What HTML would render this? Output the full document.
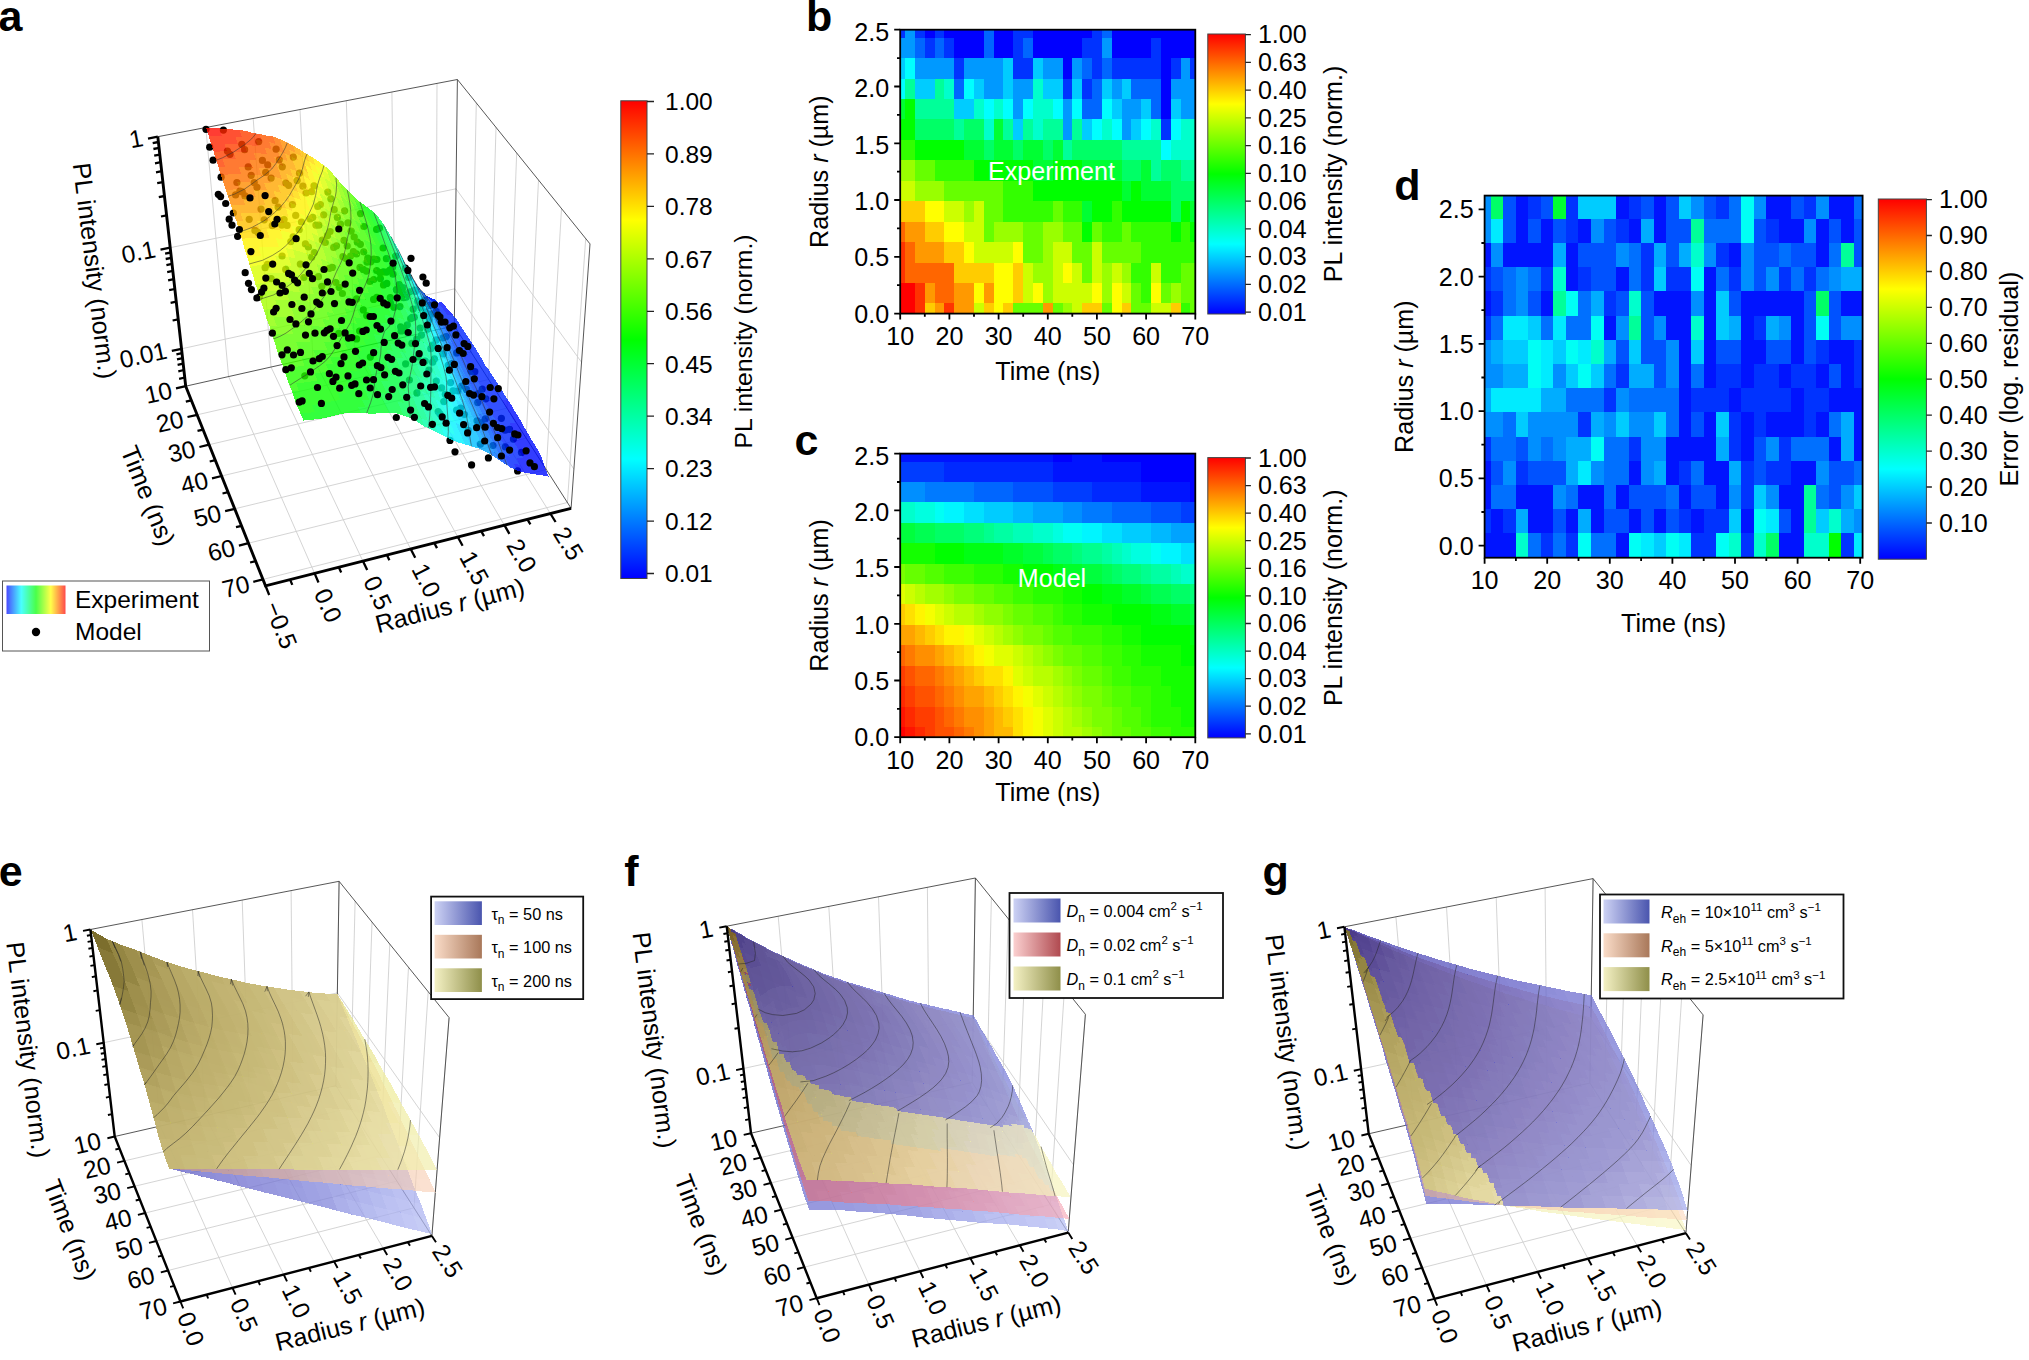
<!DOCTYPE html><html><head><meta charset="utf-8"><title>figure</title><style>html,body{margin:0;padding:0;background:#fff}svg{display:block}
.e01{fill:#b2baf2;fill-opacity:0.74}
.e02{fill:#aeb5f1;fill-opacity:0.74}
.e03{fill:#a8b0ef;fill-opacity:0.74}
.e04{fill:#a4abee;fill-opacity:0.74}
.e05{fill:#9da4ea;fill-opacity:0.74}
.e06{fill:#969de7;fill-opacity:0.74}
.e07{fill:#8f95e3;fill-opacity:0.74}
.e08{fill:#888ddf;fill-opacity:0.74}
.e09{fill:#8185db;fill-opacity:0.74}
.e0a{fill:#7d81d9;fill-opacity:0.74}
.e0b{fill:#7a7dd7;fill-opacity:0.74}
.e0c{fill:#7779d5;fill-opacity:0.74}
.e0d{fill:#7475d3;fill-opacity:0.74}
.e0e{fill:#7171d1;fill-opacity:0.74}
.e0f{fill:#6e6dcf;fill-opacity:0.74}
.e010{fill:#6a69cd;fill-opacity:0.74}
.e011{fill:#6766cb;fill-opacity:0.74}
.e012{fill:#6462c8;fill-opacity:0.74}
.e013{fill:#615ec6;fill-opacity:0.74}
.e014{fill:#5f5bc4;fill-opacity:0.74}
.e015{fill:#5c58c2;fill-opacity:0.74}
.e016{fill:#5a56c0;fill-opacity:0.74}
.e017{fill:#5753be;fill-opacity:0.74}
.e018{fill:#5550bc;fill-opacity:0.74}
.e019{fill:#524dba;fill-opacity:0.74}
.e01a{fill:#504ab7;fill-opacity:0.74}
.e01b{fill:#4c46b5;fill-opacity:0.74}
.e01c{fill:#453eb0;fill-opacity:0.74}
.e01d{fill:#3e36ab;fill-opacity:0.74}
.e01e{fill:#372fa7;fill-opacity:0.74}
.e01f{fill:#3027a2;fill-opacity:0.74}
.e17{fill:#f8cfb4;fill-opacity:0.62}
.e18{fill:#f7cdb2;fill-opacity:0.62}
.e19{fill:#f6cbb0;fill-opacity:0.62}
.e1a{fill:#f6c9ae;fill-opacity:0.62}
.e1b{fill:#f4c7aa;fill-opacity:0.62}
.e1c{fill:#f0c2a5;fill-opacity:0.62}
.e1d{fill:#edbd9f;fill-opacity:0.62}
.e1e{fill:#e9b89a;fill-opacity:0.62}
.e1f{fill:#e6b394;fill-opacity:0.62}
.e110{fill:#e2ae8f;fill-opacity:0.62}
.e111{fill:#dea989;fill-opacity:0.62}
.e112{fill:#dba484;fill-opacity:0.62}
.e113{fill:#d79f7e;fill-opacity:0.62}
.e114{fill:#d49a79;fill-opacity:0.62}
.e115{fill:#d09573;fill-opacity:0.62}
.e116{fill:#cc906d;fill-opacity:0.62}
.e117{fill:#c78b68;fill-opacity:0.62}
.e118{fill:#c18663;fill-opacity:0.62}
.e119{fill:#bb815e;fill-opacity:0.62}
.e11a{fill:#b67c59;fill-opacity:0.62}
.e11b{fill:#b07653;fill-opacity:0.62}
.e11c{fill:#aa714e;fill-opacity:0.62}
.e11d{fill:#a46c49;fill-opacity:0.62}
.e11e{fill:#9f6744;fill-opacity:0.62}
.e11f{fill:#99623f;fill-opacity:0.62}
.e2b{fill:#f1eeac;fill-opacity:0.7}
.e2c{fill:#f0eda2;fill-opacity:0.7}
.e2d{fill:#eeeb98;fill-opacity:0.7}
.e2e{fill:#e8e590;fill-opacity:0.7}
.e2f{fill:#e3e088;fill-opacity:0.7}
.e210{fill:#deda81;fill-opacity:0.7}
.e211{fill:#d9d479;fill-opacity:0.7}
.e212{fill:#d4cf71;fill-opacity:0.7}
.e213{fill:#cfca6b;fill-opacity:0.7}
.e214{fill:#ccc767;fill-opacity:0.7}
.e215{fill:#c8c362;fill-opacity:0.7}
.e216{fill:#c5c05e;fill-opacity:0.7}
.e217{fill:#c2bd5a;fill-opacity:0.7}
.e218{fill:#bdb855;fill-opacity:0.7}
.e219{fill:#b6b14e;fill-opacity:0.7}
.e21a{fill:#afaa47;fill-opacity:0.7}
.e21b{fill:#a9a440;fill-opacity:0.7}
.e21c{fill:#a29d39;fill-opacity:0.7}
.e21d{fill:#96912d;fill-opacity:0.7}
.e21e{fill:#86821f;fill-opacity:0.7}
.e21f{fill:#787311;fill-opacity:0.7}
.f00{fill:#b8bff4;fill-opacity:0.74}
.f01{fill:#b2baf2;fill-opacity:0.74}
.f02{fill:#aeb5f1;fill-opacity:0.74}
.f03{fill:#a8b0ef;fill-opacity:0.74}
.f04{fill:#a4abee;fill-opacity:0.74}
.f05{fill:#9da4ea;fill-opacity:0.74}
.f06{fill:#969de7;fill-opacity:0.74}
.f07{fill:#8f95e3;fill-opacity:0.74}
.f08{fill:#888ddf;fill-opacity:0.74}
.f09{fill:#8185db;fill-opacity:0.74}
.f0a{fill:#7d81d9;fill-opacity:0.74}
.f0b{fill:#7a7dd7;fill-opacity:0.74}
.f0c{fill:#7779d5;fill-opacity:0.74}
.f0d{fill:#7475d3;fill-opacity:0.74}
.f0e{fill:#7171d1;fill-opacity:0.74}
.f0f{fill:#6e6dcf;fill-opacity:0.74}
.f010{fill:#6a69cd;fill-opacity:0.74}
.f011{fill:#6766cb;fill-opacity:0.74}
.f012{fill:#6462c8;fill-opacity:0.74}
.f013{fill:#615ec6;fill-opacity:0.74}
.f014{fill:#5f5bc4;fill-opacity:0.74}
.f015{fill:#5c58c2;fill-opacity:0.74}
.f016{fill:#5a56c0;fill-opacity:0.74}
.f017{fill:#5753be;fill-opacity:0.74}
.f018{fill:#5550bc;fill-opacity:0.74}
.f019{fill:#524dba;fill-opacity:0.74}
.f01a{fill:#504ab7;fill-opacity:0.74}
.f01b{fill:#4c46b5;fill-opacity:0.74}
.f01c{fill:#453eb0;fill-opacity:0.74}
.f01d{fill:#3e36ab;fill-opacity:0.74}
.f01e{fill:#372fa7;fill-opacity:0.74}
.f01f{fill:#3027a2;fill-opacity:0.74}
.f12{fill:#f6adb9;fill-opacity:0.68}
.f13{fill:#f4a8b4;fill-opacity:0.68}
.f14{fill:#f3a3b0;fill-opacity:0.68}
.f15{fill:#f19eac;fill-opacity:0.68}
.f16{fill:#f099a8;fill-opacity:0.68}
.f17{fill:#ee94a4;fill-opacity:0.68}
.f18{fill:#ec8f9f;fill-opacity:0.68}
.f19{fill:#eb8a9b;fill-opacity:0.68}
.f1a{fill:#e98597;fill-opacity:0.68}
.f1b{fill:#e78193;fill-opacity:0.68}
.f1c{fill:#e47d8e;fill-opacity:0.68}
.f1d{fill:#e0798a;fill-opacity:0.68}
.f1e{fill:#dd7585;fill-opacity:0.68}
.f1f{fill:#da7181;fill-opacity:0.68}
.f110{fill:#d66d7c;fill-opacity:0.68}
.f111{fill:#d36978;fill-opacity:0.68}
.f112{fill:#d06573;fill-opacity:0.68}
.f113{fill:#cd616f;fill-opacity:0.68}
.f114{fill:#c95d6a;fill-opacity:0.68}
.f115{fill:#c65966;fill-opacity:0.68}
.f116{fill:#c35562;fill-opacity:0.68}
.f117{fill:#be505d;fill-opacity:0.68}
.f118{fill:#b94c59;fill-opacity:0.68}
.f119{fill:#b44854;fill-opacity:0.68}
.f11a{fill:#b04450;fill-opacity:0.68}
.f11b{fill:#ab404b;fill-opacity:0.68}
.f11c{fill:#a63c47;fill-opacity:0.68}
.f11d{fill:#a23742;fill-opacity:0.68}
.f11e{fill:#9d333e;fill-opacity:0.68}
.f11f{fill:#982f39;fill-opacity:0.68}
.f26{fill:#f6f3bd;fill-opacity:0.7}
.f27{fill:#f5f2bb;fill-opacity:0.7}
.f28{fill:#f4f2ba;fill-opacity:0.7}
.f29{fill:#f4f1b8;fill-opacity:0.7}
.f2a{fill:#f3f0b6;fill-opacity:0.7}
.f2b{fill:#f1eeac;fill-opacity:0.7}
.f2c{fill:#f0eda2;fill-opacity:0.7}
.f2d{fill:#eeeb98;fill-opacity:0.7}
.f2e{fill:#e8e590;fill-opacity:0.7}
.f2f{fill:#e3e088;fill-opacity:0.7}
.f210{fill:#deda81;fill-opacity:0.7}
.f211{fill:#d9d479;fill-opacity:0.7}
.f212{fill:#d4cf71;fill-opacity:0.7}
.f213{fill:#cfca6b;fill-opacity:0.7}
.f214{fill:#ccc767;fill-opacity:0.7}
.f215{fill:#c8c362;fill-opacity:0.7}
.f216{fill:#c5c05e;fill-opacity:0.7}
.f217{fill:#c2bd5a;fill-opacity:0.7}
.f218{fill:#bdb855;fill-opacity:0.7}
.f219{fill:#b6b14e;fill-opacity:0.7}
.f21a{fill:#afaa47;fill-opacity:0.7}
.f21b{fill:#a9a440;fill-opacity:0.7}
.f21c{fill:#a29d39;fill-opacity:0.7}
.f21d{fill:#96912d;fill-opacity:0.7}
.f21e{fill:#86821f;fill-opacity:0.7}
.f21f{fill:#787311;fill-opacity:0.7}
.g04{fill:#a4abee;fill-opacity:0.74}
.g05{fill:#9da4ea;fill-opacity:0.74}
.g06{fill:#969de7;fill-opacity:0.74}
.g07{fill:#8f95e3;fill-opacity:0.74}
.g08{fill:#888ddf;fill-opacity:0.74}
.g09{fill:#8185db;fill-opacity:0.74}
.g0a{fill:#7d81d9;fill-opacity:0.74}
.g0b{fill:#7a7dd7;fill-opacity:0.74}
.g0c{fill:#7779d5;fill-opacity:0.74}
.g0d{fill:#7475d3;fill-opacity:0.74}
.g0e{fill:#7171d1;fill-opacity:0.74}
.g0f{fill:#6e6dcf;fill-opacity:0.74}
.g010{fill:#6a69cd;fill-opacity:0.74}
.g011{fill:#6766cb;fill-opacity:0.74}
.g012{fill:#6462c8;fill-opacity:0.74}
.g013{fill:#615ec6;fill-opacity:0.74}
.g014{fill:#5f5bc4;fill-opacity:0.74}
.g015{fill:#5c58c2;fill-opacity:0.74}
.g016{fill:#5a56c0;fill-opacity:0.74}
.g017{fill:#5753be;fill-opacity:0.74}
.g018{fill:#5550bc;fill-opacity:0.74}
.g019{fill:#524dba;fill-opacity:0.74}
.g01a{fill:#504ab7;fill-opacity:0.74}
.g01b{fill:#4c46b5;fill-opacity:0.74}
.g01c{fill:#453eb0;fill-opacity:0.74}
.g01d{fill:#3e36ab;fill-opacity:0.74}
.g01e{fill:#372fa7;fill-opacity:0.74}
.g01f{fill:#3027a2;fill-opacity:0.74}
.g12{fill:#fbd8bf;fill-opacity:0.62}
.g13{fill:#fad6bc;fill-opacity:0.62}
.g14{fill:#fad4ba;fill-opacity:0.62}
.g15{fill:#f9d2b8;fill-opacity:0.62}
.g16{fill:#f8d0b6;fill-opacity:0.62}
.g17{fill:#f8cfb4;fill-opacity:0.62}
.g18{fill:#f7cdb2;fill-opacity:0.62}
.g19{fill:#f6cbb0;fill-opacity:0.62}
.g1a{fill:#f6c9ae;fill-opacity:0.62}
.g1b{fill:#f4c7aa;fill-opacity:0.62}
.g1c{fill:#f0c2a5;fill-opacity:0.62}
.g1d{fill:#edbd9f;fill-opacity:0.62}
.g1e{fill:#e9b89a;fill-opacity:0.62}
.g1f{fill:#e6b394;fill-opacity:0.62}
.g110{fill:#e2ae8f;fill-opacity:0.62}
.g111{fill:#dea989;fill-opacity:0.62}
.g112{fill:#dba484;fill-opacity:0.62}
.g113{fill:#d79f7e;fill-opacity:0.62}
.g114{fill:#d49a79;fill-opacity:0.62}
.g115{fill:#d09573;fill-opacity:0.62}
.g116{fill:#cc906d;fill-opacity:0.62}
.g117{fill:#c78b68;fill-opacity:0.62}
.g118{fill:#c18663;fill-opacity:0.62}
.g119{fill:#bb815e;fill-opacity:0.62}
.g11a{fill:#b67c59;fill-opacity:0.62}
.g11b{fill:#b07653;fill-opacity:0.62}
.g11c{fill:#aa714e;fill-opacity:0.62}
.g11d{fill:#a46c49;fill-opacity:0.62}
.g11e{fill:#9f6744;fill-opacity:0.62}
.g11f{fill:#99623f;fill-opacity:0.62}
.g21{fill:#f9f7c5;fill-opacity:0.7}
.g22{fill:#f8f6c4;fill-opacity:0.7}
.g23{fill:#f8f5c2;fill-opacity:0.7}
.g24{fill:#f7f5c0;fill-opacity:0.7}
.g25{fill:#f6f4bf;fill-opacity:0.7}
.g26{fill:#f6f3bd;fill-opacity:0.7}
.g27{fill:#f5f2bb;fill-opacity:0.7}
.g28{fill:#f4f2ba;fill-opacity:0.7}
.g29{fill:#f4f1b8;fill-opacity:0.7}
.g2a{fill:#f3f0b6;fill-opacity:0.7}
.g2b{fill:#f1eeac;fill-opacity:0.7}
.g2c{fill:#f0eda2;fill-opacity:0.7}
.g2d{fill:#eeeb98;fill-opacity:0.7}
.g2e{fill:#e8e590;fill-opacity:0.7}
.g2f{fill:#e3e088;fill-opacity:0.7}
.g210{fill:#deda81;fill-opacity:0.7}
.g211{fill:#d9d479;fill-opacity:0.7}
.g212{fill:#d4cf71;fill-opacity:0.7}
.g213{fill:#cfca6b;fill-opacity:0.7}
.g214{fill:#ccc767;fill-opacity:0.7}
.g215{fill:#c8c362;fill-opacity:0.7}
.g216{fill:#c5c05e;fill-opacity:0.7}
.g217{fill:#c2bd5a;fill-opacity:0.7}
.g218{fill:#bdb855;fill-opacity:0.7}
.g219{fill:#b6b14e;fill-opacity:0.7}
.g21a{fill:#afaa47;fill-opacity:0.7}
.g21b{fill:#a9a440;fill-opacity:0.7}
.g21c{fill:#a29d39;fill-opacity:0.7}
.g21d{fill:#96912d;fill-opacity:0.7}
.g21e{fill:#86821f;fill-opacity:0.7}
.g21f{fill:#787311;fill-opacity:0.7}</style></head><body><svg width="2029" height="1360" viewBox="0 0 2029 1360" font-family="'Liberation Sans',Arial,Helvetica,sans-serif">
<g shape-rendering="crispEdges" transform="translate(900.2 29.7) scale(4.9183 10.2204)">
<path fill="#ff0000" d="M0 26.78h3v1h-3zM0 24.78h3v2h-3z"/>
<path fill="#ff3300" d="M3 26.78h2v1h-2zM9 26.78h2v1h-2zM3 24.78h2v2h-2zM0 22.78h1v2h-1zM0 20.78h1v2h-1z"/>
<path fill="#ffcc00" d="M5 26.78h2v1h-2zM17 26.78h2v1h-2zM21 26.78h2v1h-2zM37 26.78h4v1h-4zM45 26.78h2v1h-2zM55 26.78h2v1h-2zM23 24.78h2v2h-2zM11 22.78h8v2h-8zM23 22.78h2v2h-2zM9 20.78h4v2h-4zM5 18.78h4v2h-4zM0 16.78h5v2h-5z"/>
<path fill="#ff9900" d="M7 26.78h2v1h-2zM11 26.78h4v1h-4zM29 26.78h2v1h-2zM5 24.78h2v2h-2zM11 24.78h4v2h-4zM17 24.78h2v2h-2zM3 20.78h6v2h-6zM1 18.78h4v2h-4z"/>
<path fill="#ccff00" d="M15 26.78h2v1h-2zM35 26.78h2v1h-2zM51 26.78h4v1h-4zM25 24.78h2v2h-2zM31 24.78h8v2h-8zM45 24.78h2v2h-2zM25 22.78h2v2h-2zM31 22.78h2v2h-2zM35 22.78h2v2h-2zM39 22.78h2v2h-2zM43 22.78h2v2h-2zM51 22.78h2v2h-2zM15 20.78h8v2h-8zM31 20.78h4v2h-4zM39 20.78h2v2h-2zM13 18.78h4v2h-4zM9 16.78h4v2h-4zM15 16.78h2v2h-2zM0 14.78h3v2h-3z"/>
<path fill="#ffff00" d="M19 26.78h2v1h-2zM43 26.78h2v1h-2zM15 24.78h2v2h-2zM19 24.78h4v2h-4zM27 24.78h2v2h-2zM39 24.78h2v2h-2zM43 24.78h2v2h-2zM51 24.78h2v2h-2zM19 22.78h4v2h-4zM33 22.78h2v2h-2zM13 20.78h2v2h-2zM23 20.78h2v2h-2zM9 18.78h4v2h-4zM5 16.78h4v2h-4z"/>
<path fill="#66ff00" d="M23 26.78h6v1h-6zM31 26.78h2v1h-2zM41 26.78h2v1h-2zM47 26.78h4v1h-4zM59 26.78h1v1h-1zM47 24.78h2v2h-2zM53 24.78h2v2h-2zM57 24.78h3v2h-3zM37 22.78h2v2h-2zM57 22.78h3v2h-3zM25 20.78h4v2h-4zM35 20.78h4v2h-4zM41 20.78h8v2h-8zM17 18.78h2v2h-2zM25 18.78h4v2h-4zM33 18.78h4v2h-4zM39 18.78h2v2h-2zM45 18.78h2v2h-2zM17 16.78h4v2h-4zM31 16.78h2v2h-2zM9 14.78h12v2h-12zM3 12.78h4v2h-4z"/>
<path fill="#99ff00" d="M33 26.78h2v1h-2zM29 24.78h2v2h-2zM41 24.78h2v2h-2zM55 24.78h2v2h-2zM27 22.78h4v2h-4zM41 22.78h2v2h-2zM45 22.78h2v2h-2zM29 20.78h2v2h-2zM19 18.78h6v2h-6zM29 18.78h4v2h-4zM13 16.78h2v2h-2zM3 14.78h6v2h-6zM0 12.78h3v2h-3z"/>
<path fill="#33ff00" d="M57 26.78h2v1h-2zM49 24.78h2v2h-2zM47 22.78h4v2h-4zM53 22.78h4v2h-4zM49 20.78h11v2h-11zM41 18.78h4v2h-4zM47 18.78h8v2h-8zM57 18.78h2v2h-2zM21 16.78h10v2h-10zM33 16.78h4v2h-4zM43 16.78h2v2h-2zM21 14.78h6v2h-6zM7 12.78h8v2h-8zM0 10.78h3v2h-3z"/>
<path fill="#ff6600" d="M7 24.78h4v2h-4zM1 22.78h10v2h-10zM1 20.78h2v2h-2zM0 18.78h1v2h-1z"/>
<path fill="#00ff00" d="M37 18.78h2v2h-2zM55 18.78h2v2h-2zM59 18.78h1v2h-1zM39 16.78h4v2h-4zM45 16.78h10v2h-10zM57 16.78h2v2h-2zM27 14.78h18v2h-18zM47 14.78h2v2h-2zM15 12.78h12v2h-12zM31 12.78h6v2h-6zM3 10.78h10v2h-10zM0 8.78h3v2h-3zM1 6.78h2v2h-2z"/>
<path fill="#00ff33" d="M37 16.78h2v2h-2zM59 16.78h1v2h-1zM45 14.78h2v2h-2zM49 14.78h6v2h-6zM27 12.78h4v2h-4zM37 12.78h8v2h-8zM49 12.78h2v2h-2zM13 10.78h4v2h-4zM19 10.78h4v2h-4zM25 10.78h4v2h-4zM31 10.78h2v2h-2zM19 8.78h2v2h-2zM0 6.78h1v2h-1z"/>
<path fill="#00ff66" d="M55 16.78h2v2h-2zM55 14.78h5v2h-5zM45 12.78h4v2h-4zM53 12.78h4v2h-4zM17 10.78h2v2h-2zM23 10.78h2v2h-2zM29 10.78h2v2h-2zM35 10.78h10v2h-10zM3 8.78h8v2h-8zM13 8.78h4v2h-4z"/>
<path fill="#00ff99" d="M51 12.78h2v2h-2zM57 12.78h3v2h-3zM33 10.78h2v2h-2zM45 10.78h8v2h-8zM11 8.78h2v2h-2zM21 8.78h2v2h-2zM25 8.78h2v2h-2zM29 8.78h4v2h-4zM35 8.78h2v2h-2zM3 6.78h8v2h-8zM1 4.78h2v2h-2zM7 4.78h2v2h-2z"/>
<path fill="#00ffff" d="M53 10.78h2v2h-2zM39 8.78h2v2h-2zM43 8.78h2v2h-2zM49 8.78h2v2h-2zM55 8.78h2v2h-2zM17 6.78h2v2h-2zM21 6.78h2v2h-2zM25 6.78h2v2h-2zM31 6.78h2v2h-2zM35 6.78h2v2h-2zM41 6.78h2v2h-2zM0 4.78h1v2h-1zM13 4.78h2v2h-2zM1 2.78h2v2h-2z"/>
<path fill="#00ffcc" d="M55 10.78h5v2h-5zM17 8.78h2v2h-2zM27 8.78h2v2h-2zM41 8.78h2v2h-2zM51 8.78h2v2h-2zM57 8.78h3v2h-3zM15 6.78h2v2h-2zM19 6.78h2v2h-2zM27 6.78h4v2h-4zM9 4.78h2v2h-2zM27 4.78h2v2h-2z"/>
<path fill="#00ccff" d="M23 8.78h2v2h-2zM37 8.78h2v2h-2zM47 8.78h2v2h-2zM11 6.78h4v2h-4zM43 6.78h2v2h-2zM49 6.78h2v2h-2zM55 6.78h2v2h-2zM3 4.78h4v2h-4zM15 4.78h2v2h-2zM21 4.78h2v2h-2zM29 4.78h4v2h-4zM35 4.78h2v2h-2zM41 4.78h2v2h-2zM45 4.78h2v2h-2zM0 2.78h1v2h-1zM21 2.78h2v2h-2zM27 2.78h2v2h-2z"/>
<path fill="#0099ff" d="M33 8.78h2v2h-2zM45 8.78h2v2h-2zM23 6.78h2v2h-2zM33 6.78h2v2h-2zM45 6.78h4v2h-4zM57 6.78h3v2h-3zM17 4.78h4v2h-4zM23 4.78h4v2h-4zM43 4.78h2v2h-2zM55 4.78h5v2h-5zM3 2.78h8v2h-8zM13 2.78h8v2h-8zM29 2.78h4v2h-4zM35 2.78h2v2h-2zM57 2.78h2v2h-2zM0 0.78h3v2h-3zM41 0.78h2v2h-2zM1 0h2v0.78h-2z"/>
<path fill="#0033ff" d="M53 8.78h2v2h-2zM33 4.78h2v2h-2zM37 4.78h2v2h-2zM11 2.78h2v2h-2zM23 2.78h4v2h-4zM39 2.78h2v2h-2zM43 2.78h10v2h-10zM55 2.78h2v2h-2zM59 2.78h1v2h-1zM5 0.78h2v2h-2zM9 0.78h2v2h-2zM23 0.78h2v2h-2zM37 0.78h4v2h-4zM51 0.78h2v2h-2zM0 0h1v0.78h-1zM3 0h2v0.78h-2zM7 0h2v0.78h-2zM23 0h4v0.78h-4zM39 0h2v0.78h-2z"/>
<path fill="#0066ff" d="M37 6.78h4v2h-4zM51 6.78h2v2h-2zM11 4.78h2v2h-2zM39 4.78h2v2h-2zM47 4.78h6v2h-6zM37 2.78h2v2h-2zM41 2.78h2v2h-2zM3 0.78h2v2h-2zM7 0.78h2v2h-2zM17 0.78h2v2h-2zM25 0.78h2v2h-2zM17 0h2v0.78h-2zM41 0h2v0.78h-2z"/>
<path fill="#0000ff" d="M53 6.78h2v2h-2zM53 4.78h2v2h-2zM33 2.78h2v2h-2zM53 2.78h2v2h-2zM11 0.78h6v2h-6zM19 0.78h4v2h-4zM27 0.78h10v2h-10zM43 0.78h8v2h-8zM53 0.78h7v2h-7zM5 0h2v0.78h-2zM9 0h8v0.78h-8zM19 0h4v0.78h-4zM27 0h12v0.78h-12zM43 0h17v0.78h-17z"/>
</g>
<rect x="900.2" y="29.7" width="295.1" height="283.9" fill="none" stroke="#000" stroke-width="1.8"/>
<path d="M900.2 313.6v6M924.8 313.6v3.2M949.4 313.6v6M974 313.6v3.2M998.6 313.6v6M1023.2 313.6v3.2M1047.8 313.6v6M1072.3 313.6v3.2M1096.9 313.6v6M1121.5 313.6v3.2M1146.1 313.6v6M1170.7 313.6v3.2M1195.3 313.6v6M900.2 313.6h-6M900.2 285.2h-3.2M900.2 256.8h-6M900.2 228.4h-3.2M900.2 200h-6M900.2 171.7h-3.2M900.2 143.3h-6M900.2 114.9h-3.2M900.2 86.5h-6M900.2 58.1h-3.2M900.2 29.7h-6" stroke="#000" stroke-width="1.8" fill="none"/>
<text x="900.2" y="345.1" font-size="25.1" text-anchor="middle">10</text>
<text x="949.4" y="345.1" font-size="25.1" text-anchor="middle">20</text>
<text x="998.6" y="345.1" font-size="25.1" text-anchor="middle">30</text>
<text x="1047.8" y="345.1" font-size="25.1" text-anchor="middle">40</text>
<text x="1096.9" y="345.1" font-size="25.1" text-anchor="middle">50</text>
<text x="1146.1" y="345.1" font-size="25.1" text-anchor="middle">60</text>
<text x="1195.3" y="345.1" font-size="25.1" text-anchor="middle">70</text>
<text x="889.2" y="322.5" font-size="25.1" text-anchor="end">0.0</text>
<text x="889.2" y="266.2" font-size="25.1" text-anchor="end">0.5</text>
<text x="889.2" y="209.9" font-size="25.1" text-anchor="end">1.0</text>
<text x="889.2" y="153.6" font-size="25.1" text-anchor="end">1.5</text>
<text x="889.2" y="97.3" font-size="25.1" text-anchor="end">2.0</text>
<text x="889.2" y="41" font-size="25.1" text-anchor="end">2.5</text>
<text x="1047.8" y="380" font-size="25.1" text-anchor="middle">Time (ns)</text>
<text transform="translate(828 171.7) rotate(-90)" font-size="25.1" text-anchor="middle">Radius <tspan font-style="italic">r</tspan> (µm)</text>
<linearGradient id="cbb" x1="0" y1="1" x2="0" y2="0"><stop offset="0" stop-color="#00f"/><stop offset=".25" stop-color="#0ff"/><stop offset=".5" stop-color="#0f0"/><stop offset=".75" stop-color="#ff0"/><stop offset="1" stop-color="#f00"/></linearGradient><rect x="1207.8" y="34" width="37.6" height="280" fill="url(#cbb)" stroke="#444" stroke-width="1"/>
<text x="1257.9" y="43.4" font-size="25.1">1.00</text>
<text x="1257.9" y="71.2" font-size="25.1">0.63</text>
<text x="1257.9" y="98.9" font-size="25.1">0.40</text>
<text x="1257.9" y="126.6" font-size="25.1">0.25</text>
<text x="1257.9" y="154.4" font-size="25.1">0.16</text>
<text x="1257.9" y="182.2" font-size="25.1">0.10</text>
<text x="1257.9" y="209.9" font-size="25.1">0.06</text>
<text x="1257.9" y="237.7" font-size="25.1">0.04</text>
<text x="1257.9" y="265.4" font-size="25.1">0.03</text>
<text x="1257.9" y="293.2" font-size="25.1">0.02</text>
<text x="1257.9" y="320.9" font-size="25.1">0.01</text>
<path d="M1245.4 34.6h5.5M1245.4 62.4h5.5M1245.4 90.1h5.5M1245.4 117.8h5.5M1245.4 145.6h5.5M1245.4 173.3h5.5M1245.4 201.1h5.5M1245.4 228.8h5.5M1245.4 256.6h5.5M1245.4 284.4h5.5M1245.4 312.1h5.5" stroke="#222" stroke-width="1.3" fill="none"/>
<text transform="translate(1342 174) rotate(-90)" font-size="25.1" text-anchor="middle">PL intensity (norm.)</text>
<text x="1051.5" y="179.5" font-size="25.1" text-anchor="middle" fill="#fff">Experiment</text>
<text x="806" y="30.5" font-size="43" font-weight="bold">b</text>
<g shape-rendering="crispEdges" transform="translate(900.2 453.6) scale(4.9183 10.2096)">
<path fill="#ff0000" d="M0 26.78h1v1h-1z"/>
<path fill="#ff1400" d="M1 26.78h2v1h-2zM0 24.78h1v2h-1z"/>
<path fill="#ff2900" d="M3 26.78h2v1h-2zM1 24.78h2v2h-2zM0 22.78h1v2h-1z"/>
<path fill="#ff3d00" d="M5 26.78h2v1h-2zM3 24.78h4v2h-4zM1 22.78h2v2h-2zM0 20.78h1v2h-1z"/>
<path fill="#ff5200" d="M7 26.78h4v1h-4zM7 24.78h2v2h-2zM3 22.78h4v2h-4zM1 20.78h2v2h-2z"/>
<path fill="#ff6600" d="M11 26.78h2v1h-2zM9 24.78h2v2h-2zM7 22.78h2v2h-2zM3 20.78h4v2h-4zM0 18.78h1v2h-1z"/>
<path fill="#ff7a00" d="M13 26.78h2v1h-2zM11 24.78h2v2h-2zM9 22.78h2v2h-2zM7 20.78h2v2h-2zM1 18.78h2v2h-2z"/>
<path fill="#ff8f00" d="M15 26.78h2v1h-2zM13 24.78h4v2h-4zM11 22.78h2v2h-2zM9 20.78h2v2h-2zM3 18.78h4v2h-4z"/>
<path fill="#ffa300" d="M17 26.78h2v1h-2zM17 24.78h2v2h-2zM13 22.78h4v2h-4zM11 20.78h2v2h-2zM7 18.78h2v2h-2zM0 16.78h3v2h-3z"/>
<path fill="#ffb800" d="M19 26.78h4v1h-4zM19 24.78h2v2h-2zM17 22.78h2v2h-2zM13 20.78h2v2h-2zM9 18.78h2v2h-2zM3 16.78h2v2h-2z"/>
<path fill="#ffe000" d="M23 26.78h2v1h-2zM23 24.78h2v2h-2zM21 22.78h2v2h-2zM17 20.78h4v2h-4zM13 18.78h2v2h-2zM7 16.78h2v2h-2zM1 14.78h2v2h-2z"/>
<path fill="#fff500" d="M25 26.78h2v1h-2zM25 24.78h2v2h-2zM23 22.78h2v2h-2zM21 20.78h2v2h-2zM15 18.78h2v2h-2zM9 16.78h4v2h-4zM3 14.78h2v2h-2z"/>
<path fill="#f5ff00" d="M27 26.78h2v1h-2zM27 24.78h2v2h-2zM25 22.78h2v2h-2zM17 18.78h2v2h-2zM13 16.78h2v2h-2zM5 14.78h2v2h-2z"/>
<path fill="#e0ff00" d="M29 26.78h2v1h-2zM29 24.78h2v2h-2zM27 22.78h2v2h-2zM23 20.78h2v2h-2zM19 18.78h4v2h-4zM15 16.78h2v2h-2zM7 14.78h2v2h-2zM0 12.78h1v2h-1z"/>
<path fill="#ccff00" d="M31 26.78h2v1h-2zM31 24.78h2v2h-2zM29 22.78h2v2h-2zM25 20.78h2v2h-2zM23 18.78h2v2h-2zM17 16.78h2v2h-2zM9 14.78h2v2h-2zM1 12.78h2v2h-2z"/>
<path fill="#b8ff00" d="M33 26.78h4v1h-4zM33 24.78h2v2h-2zM31 22.78h2v2h-2zM27 20.78h4v2h-4zM25 18.78h2v2h-2zM19 16.78h2v2h-2zM11 14.78h4v2h-4zM3 12.78h2v2h-2z"/>
<path fill="#a3ff00" d="M37 26.78h2v1h-2zM35 24.78h2v2h-2zM33 22.78h2v2h-2zM31 20.78h2v2h-2zM27 18.78h2v2h-2zM21 16.78h2v2h-2zM15 14.78h2v2h-2zM5 12.78h4v2h-4z"/>
<path fill="#8fff00" d="M39 26.78h2v1h-2zM37 24.78h2v2h-2zM35 22.78h2v2h-2zM33 20.78h2v2h-2zM29 18.78h2v2h-2zM23 16.78h2v2h-2zM17 14.78h4v2h-4zM9 12.78h2v2h-2z"/>
<path fill="#7aff00" d="M41 26.78h2v1h-2zM39 24.78h4v2h-4zM37 22.78h4v2h-4zM35 20.78h2v2h-2zM31 18.78h2v2h-2zM25 16.78h4v2h-4zM21 14.78h2v2h-2zM11 12.78h4v2h-4zM0 10.78h1v2h-1z"/>
<path fill="#66ff00" d="M43 26.78h4v1h-4zM43 24.78h2v2h-2zM41 22.78h2v2h-2zM37 20.78h4v2h-4zM33 18.78h4v2h-4zM29 16.78h2v2h-2zM23 14.78h4v2h-4zM15 12.78h4v2h-4zM1 10.78h4v2h-4z"/>
<path fill="#52ff00" d="M47 26.78h4v1h-4zM45 24.78h4v2h-4zM43 22.78h4v2h-4zM41 20.78h2v2h-2zM37 18.78h4v2h-4zM31 16.78h4v2h-4zM27 14.78h4v2h-4zM19 12.78h4v2h-4zM5 10.78h4v2h-4z"/>
<path fill="#3dff00" d="M51 26.78h4v1h-4zM49 24.78h2v2h-2zM47 22.78h4v2h-4zM43 20.78h4v2h-4zM41 18.78h4v2h-4zM35 16.78h6v2h-6zM31 14.78h2v2h-2zM23 12.78h4v2h-4zM9 10.78h6v2h-6z"/>
<path fill="#29ff00" d="M55 26.78h5v1h-5zM51 24.78h6v2h-6zM51 22.78h4v2h-4zM47 20.78h6v2h-6zM45 18.78h4v2h-4zM41 16.78h4v2h-4zM33 14.78h4v2h-4zM27 12.78h6v2h-6zM15 10.78h6v2h-6z"/>
<path fill="#ffcc00" d="M21 24.78h2v2h-2zM19 22.78h2v2h-2zM15 20.78h2v2h-2zM11 18.78h2v2h-2zM5 16.78h2v2h-2zM0 14.78h1v2h-1z"/>
<path fill="#14ff00" d="M57 24.78h3v2h-3zM55 22.78h5v2h-5zM53 20.78h7v2h-7zM49 18.78h8v2h-8zM45 16.78h4v2h-4zM37 14.78h6v2h-6zM33 12.78h4v2h-4zM21 10.78h4v2h-4zM0 8.78h7v2h-7z"/>
<path fill="#00ff00" d="M57 18.78h3v2h-3zM49 16.78h10v2h-10zM43 14.78h8v2h-8zM37 12.78h4v2h-4zM25 10.78h6v2h-6zM7 8.78h6v2h-6z"/>
<path fill="#00ff14" d="M59 16.78h1v2h-1zM51 14.78h4v2h-4zM41 12.78h4v2h-4zM31 10.78h2v2h-2zM13 8.78h8v2h-8z"/>
<path fill="#00ff29" d="M55 14.78h4v2h-4zM45 12.78h4v2h-4zM33 10.78h4v2h-4zM21 8.78h4v2h-4z"/>
<path fill="#00ff3d" d="M59 14.78h1v2h-1zM49 12.78h2v2h-2zM37 10.78h4v2h-4zM25 8.78h4v2h-4zM0 6.78h3v2h-3z"/>
<path fill="#00ff52" d="M51 12.78h4v2h-4zM41 10.78h2v2h-2zM29 8.78h2v2h-2zM3 6.78h4v2h-4z"/>
<path fill="#00ff66" d="M55 12.78h4v2h-4zM43 10.78h2v2h-2zM31 8.78h4v2h-4zM7 6.78h6v2h-6z"/>
<path fill="#00ff7a" d="M59 12.78h1v2h-1zM45 10.78h4v2h-4zM35 8.78h2v2h-2zM13 6.78h4v2h-4z"/>
<path fill="#00ff8f" d="M49 10.78h2v2h-2zM37 8.78h4v2h-4zM17 6.78h2v2h-2z"/>
<path fill="#00ffa3" d="M51 10.78h4v2h-4zM41 8.78h2v2h-2zM19 6.78h4v2h-4z"/>
<path fill="#00ffb8" d="M55 10.78h2v2h-2zM43 8.78h2v2h-2zM23 6.78h4v2h-4z"/>
<path fill="#00ffcc" d="M57 10.78h3v2h-3zM45 8.78h2v2h-2zM27 6.78h4v2h-4zM0 4.78h3v2h-3z"/>
<path fill="#00ffe0" d="M47 8.78h4v2h-4zM31 6.78h2v2h-2zM3 4.78h4v2h-4z"/>
<path fill="#00fff5" d="M51 8.78h2v2h-2zM33 6.78h4v2h-4zM7 4.78h2v2h-2z"/>
<path fill="#00f5ff" d="M53 8.78h4v2h-4zM37 6.78h4v2h-4zM9 4.78h4v2h-4z"/>
<path fill="#00e0ff" d="M57 8.78h3v2h-3zM41 6.78h4v2h-4zM13 4.78h4v2h-4z"/>
<path fill="#00ccff" d="M45 6.78h6v2h-6zM17 4.78h6v2h-6z"/>
<path fill="#00b8ff" d="M51 6.78h4v2h-4zM23 4.78h4v2h-4z"/>
<path fill="#00a3ff" d="M55 6.78h5v2h-5zM27 4.78h6v2h-6z"/>
<path fill="#008fff" d="M33 4.78h4v2h-4zM0 2.78h5v2h-5z"/>
<path fill="#007aff" d="M37 4.78h6v2h-6zM5 2.78h10v2h-10z"/>
<path fill="#0066ff" d="M43 4.78h8v2h-8zM15 2.78h8v2h-8z"/>
<path fill="#0052ff" d="M51 4.78h6v2h-6zM23 2.78h8v2h-8z"/>
<path fill="#003dff" d="M57 4.78h3v2h-3zM31 2.78h8v2h-8zM0 0.78h9v2h-9z"/>
<path fill="#0029ff" d="M39 2.78h10v2h-10zM9 0.78h22v2h-22z"/>
<path fill="#0014ff" d="M49 2.78h10v2h-10zM31 0.78h18v2h-18zM0 0h31v0.78h-31zM35 0h6v0.78h-6z"/>
<path fill="#0000ff" d="M59 2.78h1v2h-1zM49 0.78h11v2h-11zM31 0h4v0.78h-4zM41 0h19v0.78h-19z"/>
</g>
<rect x="900.2" y="453.6" width="295.1" height="283.6" fill="none" stroke="#000" stroke-width="1.8"/>
<path d="M900.2 737.2v6M924.8 737.2v3.2M949.4 737.2v6M974 737.2v3.2M998.6 737.2v6M1023.2 737.2v3.2M1047.8 737.2v6M1072.3 737.2v3.2M1096.9 737.2v6M1121.5 737.2v3.2M1146.1 737.2v6M1170.7 737.2v3.2M1195.3 737.2v6M900.2 737.2h-6M900.2 708.8h-3.2M900.2 680.5h-6M900.2 652.1h-3.2M900.2 623.8h-6M900.2 595.4h-3.2M900.2 567h-6M900.2 538.7h-3.2M900.2 510.3h-6M900.2 482h-3.2M900.2 453.6h-6" stroke="#000" stroke-width="1.8" fill="none"/>
<text x="900.2" y="768.7" font-size="25.1" text-anchor="middle">10</text>
<text x="949.4" y="768.7" font-size="25.1" text-anchor="middle">20</text>
<text x="998.6" y="768.7" font-size="25.1" text-anchor="middle">30</text>
<text x="1047.8" y="768.7" font-size="25.1" text-anchor="middle">40</text>
<text x="1096.9" y="768.7" font-size="25.1" text-anchor="middle">50</text>
<text x="1146.1" y="768.7" font-size="25.1" text-anchor="middle">60</text>
<text x="1195.3" y="768.7" font-size="25.1" text-anchor="middle">70</text>
<text x="889.2" y="746.1" font-size="25.1" text-anchor="end">0.0</text>
<text x="889.2" y="689.9" font-size="25.1" text-anchor="end">0.5</text>
<text x="889.2" y="633.6" font-size="25.1" text-anchor="end">1.0</text>
<text x="889.2" y="577.4" font-size="25.1" text-anchor="end">1.5</text>
<text x="889.2" y="521.1" font-size="25.1" text-anchor="end">2.0</text>
<text x="889.2" y="464.9" font-size="25.1" text-anchor="end">2.5</text>
<text x="1047.8" y="801" font-size="25.1" text-anchor="middle">Time (ns)</text>
<text transform="translate(828 595.4) rotate(-90)" font-size="25.1" text-anchor="middle">Radius <tspan font-style="italic">r</tspan> (µm)</text>
<linearGradient id="cbc" x1="0" y1="1" x2="0" y2="0"><stop offset="0" stop-color="#00f"/><stop offset=".25" stop-color="#0ff"/><stop offset=".5" stop-color="#0f0"/><stop offset=".75" stop-color="#ff0"/><stop offset="1" stop-color="#f00"/></linearGradient><rect x="1207.8" y="457.6" width="37.6" height="280.3" fill="url(#cbc)" stroke="#444" stroke-width="1"/>
<text x="1257.9" y="466.8" font-size="25.1">1.00</text>
<text x="1257.9" y="494.4" font-size="25.1">0.63</text>
<text x="1257.9" y="522" font-size="25.1">0.40</text>
<text x="1257.9" y="549.5" font-size="25.1">0.25</text>
<text x="1257.9" y="577.1" font-size="25.1">0.16</text>
<text x="1257.9" y="604.7" font-size="25.1">0.10</text>
<text x="1257.9" y="632.3" font-size="25.1">0.06</text>
<text x="1257.9" y="659.9" font-size="25.1">0.04</text>
<text x="1257.9" y="687.4" font-size="25.1">0.03</text>
<text x="1257.9" y="715" font-size="25.1">0.02</text>
<text x="1257.9" y="742.6" font-size="25.1">0.01</text>
<path d="M1245.4 458h5.5M1245.4 485.6h5.5M1245.4 513.2h5.5M1245.4 540.7h5.5M1245.4 568.3h5.5M1245.4 595.9h5.5M1245.4 623.5h5.5M1245.4 651.1h5.5M1245.4 678.6h5.5M1245.4 706.2h5.5M1245.4 733.8h5.5" stroke="#222" stroke-width="1.3" fill="none"/>
<text transform="translate(1342 597.8) rotate(-90)" font-size="25.1" text-anchor="middle">PL intensity (norm.)</text>
<text x="1052" y="587" font-size="25.1" text-anchor="middle" fill="#fff">Model</text>
<text x="794.5" y="455" font-size="43" font-weight="bold">c</text>
<g shape-rendering="crispEdges" transform="translate(1484.6 195.6) scale(6.2600 12.1050)">
<path fill="#0014ff" d="M0 27.91h5v2h-5zM21 27.91h2v2h-2zM47 27.91h4v2h-4zM1 25.91h2v2h-2zM7 25.91h4v2h-4zM13 25.91h2v2h-2zM17 25.91h2v2h-2zM23 25.91h2v2h-2zM27 25.91h2v2h-2zM33 25.91h2v2h-2zM41 25.91h2v2h-2zM49 25.91h2v2h-2zM0 23.91h1v2h-1zM5 23.91h6v2h-6zM15 23.91h4v2h-4zM21 23.91h2v2h-2zM31 23.91h2v2h-2zM37 23.91h2v2h-2zM47 23.91h4v2h-4zM0 21.91h1v2h-1zM23 21.91h2v2h-2zM29 21.91h2v2h-2zM35 21.91h4v2h-4zM49 21.91h4v2h-4zM29 19.91h8v2h-8zM41 19.91h2v2h-2zM55 19.91h2v2h-2zM59 19.91h1.38v2h-1.38zM31 17.91h2v2h-2zM35 17.91h2v2h-2zM41 17.91h2v2h-2zM45 17.91h6v2h-6zM53 17.91h2v2h-2zM59 17.91h1.38v2h-1.38zM31 15.91h2v2h-2zM39 15.91h2v2h-2zM49 15.91h2v2h-2zM55 15.91h5.38v2h-5.38zM31 13.91h2v2h-2zM35 13.91h2v2h-2zM41 13.91h2v2h-2zM47 13.91h2v2h-2zM53 13.91h2v2h-2zM57 13.91h2v2h-2zM31 11.91h2v2h-2zM35 11.91h2v2h-2zM41 11.91h4v2h-4zM49 11.91h2v2h-2zM55 11.91h4v2h-4zM19 9.91h2v2h-2zM29 9.91h4v2h-4zM35 9.91h2v2h-2zM41 9.91h2v2h-2zM49 9.91h2v2h-2zM0 7.91h1v2h-1zM9 7.91h2v2h-2zM27 7.91h6v2h-6zM35 7.91h2v2h-2zM41 7.91h10v2h-10zM57 7.91h3.38v2h-3.38zM13 5.91h2v2h-2zM21 5.91h2v2h-2zM35 5.91h2v2h-2zM0 3.91h1v2h-1zM3 3.91h8v2h-8zM13 3.91h2v2h-2zM39 3.91h2v2h-2zM53 3.91h2v2h-2zM5 1.91h2v2h-2zM9 1.91h2v2h-2zM15 1.91h2v2h-2zM23 1.91h2v2h-2zM27 1.91h2v2h-2zM47 1.91h4v2h-4zM53 1.91h2v2h-2zM57 1.91h2v2h-2zM5 0h2v1.91h-2zM21 0h2v1.91h-2zM27 0h2v1.91h-2zM45 0h4v1.91h-4zM55 0h4v1.91h-4z"/>
<path fill="#00ffcc" d="M5 27.91h2v2h-2zM39 27.91h2v2h-2zM43 27.91h2v2h-2zM51 27.91h4v2h-4zM55 25.91h2v2h-2zM17 11.91h2v2h-2zM33 9.91h2v2h-2zM23 7.91h2v2h-2zM11 5.91h2v2h-2zM33 3.91h2v2h-2z"/>
<path fill="#0070ff" d="M7 27.91h2v2h-2zM11 27.91h2v2h-2zM17 27.91h4v2h-4zM1 23.91h4v2h-4zM13 23.91h2v2h-2zM19 23.91h2v2h-2zM29 23.91h2v2h-2zM53 23.91h2v2h-2zM19 21.91h4v2h-4zM33 21.91h2v2h-2zM59 21.91h1.38v2h-1.38zM1 19.91h4v2h-4zM9 19.91h2v2h-2zM19 19.91h4v2h-4zM49 19.91h6v2h-6zM3 17.91h2v2h-2zM29 17.91h2v2h-2zM55 17.91h2v2h-2zM13 15.91h6v2h-6zM23 15.91h8v2h-8zM19 13.91h2v2h-2zM33 13.91h2v2h-2zM1 9.91h2v2h-2zM9 9.91h2v2h-2zM13 9.91h4v2h-4zM3 7.91h2v2h-2zM15 7.91h2v2h-2zM3 5.91h2v2h-2zM7 5.91h2v2h-2zM23 5.91h2v2h-2zM37 5.91h2v2h-2zM49 5.91h2v2h-2zM53 5.91h2v2h-2zM23 3.91h2v2h-2zM47 3.91h2v2h-2zM55 3.91h2v2h-2zM35 1.91h6v2h-6zM39 0h2v1.91h-2zM59 0h1.38v1.91h-1.38z"/>
<path fill="#0033ff" d="M9 27.91h2v2h-2zM13 27.91h2v2h-2zM33 27.91h4v2h-4zM41 27.91h2v2h-2zM57 27.91h2v2h-2zM0 25.91h1v2h-1zM3 25.91h2v2h-2zM31 25.91h2v2h-2zM35 25.91h4v2h-4zM41 23.91h2v2h-2zM5 21.91h2v2h-2zM31 21.91h2v2h-2zM41 21.91h2v2h-2zM45 21.91h4v2h-4zM0 19.91h1v2h-1zM23 19.91h2v2h-2zM39 19.91h2v2h-2zM47 19.91h2v2h-2zM15 17.91h2v2h-2zM39 17.91h2v2h-2zM43 17.91h2v2h-2zM51 17.91h2v2h-2zM19 15.91h2v2h-2zM33 15.91h6v2h-6zM41 15.91h8v2h-8zM51 15.91h4v2h-4zM21 13.91h2v2h-2zM37 13.91h4v2h-4zM43 13.91h4v2h-4zM49 13.91h4v2h-4zM59 13.91h1.38v2h-1.38zM53 11.91h2v2h-2zM59 11.91h1.38v2h-1.38zM0 9.91h1v2h-1zM43 9.91h2v2h-2zM1 7.91h2v2h-2zM19 7.91h2v2h-2zM0 5.91h1v2h-1zM9 5.91h2v2h-2zM15 5.91h2v2h-2zM25 5.91h2v2h-2zM29 5.91h4v2h-4zM39 5.91h2v2h-2zM47 5.91h2v2h-2zM51 5.91h2v2h-2zM25 3.91h2v2h-2zM37 3.91h2v2h-2zM13 1.91h2v2h-2zM21 1.91h2v2h-2zM45 1.91h2v2h-2zM7 0h2v1.91h-2zM13 0h2v1.91h-2zM23 0h2v1.91h-2zM37 0h2v1.91h-2zM51 0h2v1.91h-2z"/>
<path fill="#00fff5" d="M15 27.91h2v2h-2zM23 27.91h2v2h-2zM29 27.91h2v2h-2zM37 27.91h2v2h-2zM43 25.91h2v2h-2zM17 19.91h2v2h-2zM7 13.91h2v2h-2zM15 13.91h2v2h-2zM7 11.91h2v2h-2zM13 11.91h2v2h-2zM17 9.91h2v2h-2zM53 9.91h2v2h-2zM13 7.91h2v2h-2zM33 5.91h2v2h-2zM41 1.91h2v2h-2zM41 0h2v1.91h-2z"/>
<path fill="#00ebff" d="M25 27.91h2v2h-2zM31 27.91h2v2h-2zM59 27.91h1.38v2h-1.38zM45 25.91h2v2h-2zM15 21.91h2v2h-2zM1 15.91h8v2h-8zM9 13.91h2v2h-2zM9 11.91h2v2h-2zM15 11.91h2v2h-2zM3 9.91h4v2h-4zM11 9.91h2v2h-2zM1 1.91h2v2h-2z"/>
<path fill="#00ccff" d="M27 27.91h2v2h-2zM39 25.91h2v2h-2zM53 25.91h2v2h-2zM43 23.91h2v2h-2zM59 23.91h1.38v2h-1.38zM5 17.91h2v2h-2zM21 17.91h2v2h-2zM27 17.91h2v2h-2zM37 17.91h2v2h-2zM13 13.91h2v2h-2zM17 13.91h2v2h-2zM3 11.91h4v2h-4zM11 11.91h2v2h-2zM23 11.91h2v2h-2zM33 11.91h2v2h-2zM7 9.91h2v2h-2zM37 9.91h2v2h-2zM37 7.91h2v2h-2zM27 5.91h2v2h-2zM15 0h6v1.91h-6zM31 0h2v1.91h-2z"/>
<path fill="#00ff66" d="M45 27.91h2v2h-2zM53 7.91h2v2h-2zM1 0h2v1.91h-2z"/>
<path fill="#00ff00" d="M55 27.91h2v2h-2z"/>
<path fill="#00adff" d="M5 25.91h2v2h-2zM15 25.91h2v2h-2zM57 25.91h2v2h-2zM13 21.91h2v2h-2zM27 21.91h2v2h-2zM39 21.91h2v2h-2zM13 19.91h4v2h-4zM37 19.91h2v2h-2zM57 19.91h2v2h-2zM17 17.91h2v2h-2zM57 17.91h2v2h-2zM0 15.91h1v2h-1zM9 15.91h4v2h-4zM3 13.91h4v2h-4zM23 13.91h4v2h-4zM1 11.91h2v2h-2zM19 11.91h2v2h-2zM39 9.91h2v2h-2zM45 9.91h2v2h-2zM17 7.91h2v2h-2zM57 5.91h3.38v2h-3.38zM11 3.91h2v2h-2zM27 3.91h2v2h-2zM31 3.91h2v2h-2zM25 1.91h2v2h-2z"/>
<path fill="#0052ff" d="M11 25.91h2v2h-2zM19 25.91h4v2h-4zM25 25.91h2v2h-2zM29 25.91h2v2h-2zM47 25.91h2v2h-2zM23 23.91h6v2h-6zM33 23.91h4v2h-4zM55 23.91h2v2h-2zM1 21.91h2v2h-2zM7 21.91h6v2h-6zM43 21.91h2v2h-2zM55 21.91h4v2h-4zM5 19.91h2v2h-2zM43 19.91h2v2h-2zM33 17.91h2v2h-2zM27 13.91h2v2h-2zM55 13.91h2v2h-2zM21 11.91h2v2h-2zM25 11.91h4v2h-4zM37 11.91h4v2h-4zM45 11.91h4v2h-4zM51 11.91h2v2h-2zM25 9.91h2v2h-2zM51 9.91h2v2h-2zM55 9.91h2v2h-2zM7 7.91h2v2h-2zM21 7.91h2v2h-2zM25 7.91h2v2h-2zM39 7.91h2v2h-2zM51 7.91h2v2h-2zM55 7.91h2v2h-2zM1 5.91h2v2h-2zM17 5.91h4v2h-4zM43 5.91h2v2h-2zM15 3.91h6v2h-6zM29 3.91h2v2h-2zM43 3.91h4v2h-4zM49 3.91h4v2h-4zM59 3.91h1.38v2h-1.38zM3 1.91h2v2h-2zM7 1.91h2v2h-2zM11 1.91h2v2h-2zM19 1.91h2v2h-2zM29 1.91h4v2h-4zM43 1.91h2v2h-2zM55 1.91h2v2h-2zM59 1.91h1.38v2h-1.38zM3 0h2v1.91h-2zM9 0h2v1.91h-2zM25 0h2v1.91h-2zM29 0h2v1.91h-2zM35 0h2v1.91h-2zM49 0h2v1.91h-2z"/>
<path fill="#00ff99" d="M51 25.91h2v2h-2zM51 23.91h2v2h-2zM23 9.91h2v2h-2zM11 7.91h2v2h-2zM57 3.91h2v2h-2zM33 1.91h2v2h-2z"/>
<path fill="#008fff" d="M59 25.91h1.38v2h-1.38zM11 23.91h2v2h-2zM39 23.91h2v2h-2zM45 23.91h2v2h-2zM57 23.91h2v2h-2zM3 21.91h2v2h-2zM17 21.91h2v2h-2zM25 21.91h2v2h-2zM53 21.91h2v2h-2zM7 19.91h2v2h-2zM11 19.91h2v2h-2zM25 19.91h4v2h-4zM45 19.91h2v2h-2zM0 17.91h3v2h-3zM7 17.91h8v2h-8zM19 17.91h2v2h-2zM23 17.91h4v2h-4zM21 15.91h2v2h-2zM0 13.91h3v2h-3zM11 13.91h2v2h-2zM29 13.91h2v2h-2zM0 11.91h1v2h-1zM29 11.91h2v2h-2zM21 9.91h2v2h-2zM27 9.91h2v2h-2zM47 9.91h2v2h-2zM57 9.91h3.38v2h-3.38zM5 7.91h2v2h-2zM33 7.91h2v2h-2zM5 5.91h2v2h-2zM41 5.91h2v2h-2zM45 5.91h2v2h-2zM55 5.91h2v2h-2zM1 3.91h2v2h-2zM21 3.91h2v2h-2zM35 3.91h2v2h-2zM41 3.91h2v2h-2zM0 1.91h1v2h-1zM17 1.91h2v2h-2zM51 1.91h2v2h-2zM0 0h1v1.91h-1zM33 0h2v1.91h-2zM43 0h2v1.91h-2zM53 0h2v1.91h-2z"/>
<path fill="#00ff33" d="M11 0h2v1.91h-2z"/>
</g>
<rect x="1484.6" y="195.6" width="378" height="362.1" fill="none" stroke="#000" stroke-width="1.8"/>
<path d="M1484.6 557.7v6M1515.9 557.7v3.2M1547.2 557.7v6M1578.5 557.7v3.2M1609.8 557.7v6M1641.1 557.7v3.2M1672.4 557.7v6M1703.7 557.7v3.2M1735 557.7v6M1766.3 557.7v3.2M1797.6 557.7v6M1828.9 557.7v3.2M1860.2 557.7v6M1484.6 545.6h-6M1484.6 512h-3.2M1484.6 478.4h-6M1484.6 444.7h-3.2M1484.6 411.1h-6M1484.6 377.5h-3.2M1484.6 343.9h-6M1484.6 310.2h-3.2M1484.6 276.6h-6M1484.6 243h-3.2M1484.6 209.4h-6" stroke="#000" stroke-width="1.8" fill="none"/>
<text x="1484.6" y="589.2" font-size="25.1" text-anchor="middle">10</text>
<text x="1547.2" y="589.2" font-size="25.1" text-anchor="middle">20</text>
<text x="1609.8" y="589.2" font-size="25.1" text-anchor="middle">30</text>
<text x="1672.4" y="589.2" font-size="25.1" text-anchor="middle">40</text>
<text x="1735" y="589.2" font-size="25.1" text-anchor="middle">50</text>
<text x="1797.6" y="589.2" font-size="25.1" text-anchor="middle">60</text>
<text x="1860.2" y="589.2" font-size="25.1" text-anchor="middle">70</text>
<text x="1473.6" y="554.5" font-size="25.1" text-anchor="end">0.0</text>
<text x="1473.6" y="487.2" font-size="25.1" text-anchor="end">0.5</text>
<text x="1473.6" y="420" font-size="25.1" text-anchor="end">1.0</text>
<text x="1473.6" y="352.8" font-size="25.1" text-anchor="end">1.5</text>
<text x="1473.6" y="285.5" font-size="25.1" text-anchor="end">2.0</text>
<text x="1473.6" y="218.3" font-size="25.1" text-anchor="end">2.5</text>
<text x="1673.6" y="632" font-size="25.1" text-anchor="middle">Time (ns)</text>
<text transform="translate(1413 376.7) rotate(-90)" font-size="25.1" text-anchor="middle">Radius <tspan font-style="italic">r</tspan> (µm)</text>
<linearGradient id="cbd" x1="0" y1="1" x2="0" y2="0"><stop offset="0" stop-color="#00f"/><stop offset=".25" stop-color="#0ff"/><stop offset=".5" stop-color="#0f0"/><stop offset=".75" stop-color="#ff0"/><stop offset="1" stop-color="#f00"/></linearGradient><rect x="1878.3" y="199" width="48.1" height="360.2" fill="url(#cbd)" stroke="#444" stroke-width="1"/>
<text x="1938.9" y="208.4" font-size="25.1">1.00</text>
<text x="1938.9" y="244.3" font-size="25.1">0.90</text>
<text x="1938.9" y="280.3" font-size="25.1">0.80</text>
<text x="1938.9" y="316.2" font-size="25.1">0.70</text>
<text x="1938.9" y="352.1" font-size="25.1">0.60</text>
<text x="1938.9" y="388.1" font-size="25.1">0.50</text>
<text x="1938.9" y="424" font-size="25.1">0.40</text>
<text x="1938.9" y="459.9" font-size="25.1">0.30</text>
<text x="1938.9" y="495.8" font-size="25.1">0.20</text>
<text x="1938.9" y="531.8" font-size="25.1">0.10</text>
<path d="M1926.4 199.6h5.5M1926.4 235.5h5.5M1926.4 271.5h5.5M1926.4 307.4h5.5M1926.4 343.3h5.5M1926.4 379.2h5.5M1926.4 415.2h5.5M1926.4 451.1h5.5M1926.4 487h5.5M1926.4 523h5.5" stroke="#222" stroke-width="1.3" fill="none"/>
<text transform="translate(2018 379.1) rotate(-90)" font-size="25.1" text-anchor="middle">Error (log. residual)</text>
<text x="1394.3" y="200.4" font-size="43" font-weight="bold">d</text>
<path d="M228.6 376.6L205.8 127.5M271 367L253.2 118.5M312.9 357.6L300 109.5M354.4 348.3L346.3 100.7M395.4 339.1L391.9 92M435.9 330L437 83.4M170.2 247.7L456 188.8M181.5 348.8L454.8 288.8M471.1 352.1L476.3 102.8M488.7 379.5L496 127.3M507 408.2L516.7 153M526.2 438.2L538.5 180.1M546.3 469.5L561.5 208.6M567.4 502.5L585.7 238.6M456 188.8L581.6 362.3M454.8 288.8L573.9 469.1M228.6 376.6L314.6 573.4M271 367L362.9 561.1M312.9 357.6L410.7 549M354.4 348.3L457.8 537M395.4 339.1L504.4 525.2M435.9 330L550.3 513.5M197.2 414.8L471.1 352.1M209.1 444.7L488.7 379.5M221.6 476L507 408.2M234.8 508.8L526.2 438.2M248.5 543.2L546.3 469.5M263 579.4L567.4 502.5" stroke="#cfcfcf" stroke-width="0.9" fill="none"/>
<path d="M157.8 136.7L457.4 79.5M457.4 79.5L590 243.9M590 243.9L571.1 508.3M457.4 79.5L454.3 325.9M185.7 386.2L454.3 325.9M454.3 325.9L571.1 508.3" stroke="#444" stroke-width="0.9" fill="none"/>
<g fill="#000"><circle cx="206" cy="129.3" r="3.6"/><circle cx="209.7" cy="147.2" r="3.6"/><circle cx="213.1" cy="160.2" r="3.6"/><circle cx="218.3" cy="194.3" r="3.6"/><circle cx="220.6" cy="196.6" r="3.6"/><circle cx="221.1" cy="177.2" r="3.6"/><circle cx="225.7" cy="203.5" r="3.6"/><circle cx="229.2" cy="219.2" r="3.6"/><circle cx="232" cy="225.2" r="3.6"/><circle cx="233.3" cy="213" r="3.6"/><circle cx="237.6" cy="236.3" r="3.6"/><circle cx="245.2" cy="272.7" r="3.6"/><circle cx="248.5" cy="283.3" r="3.6"/><circle cx="251.4" cy="289.6" r="3.6"/><circle cx="256.9" cy="298" r="3.6"/><circle cx="259.4" cy="296.8" r="3.6"/><circle cx="223.4" cy="130.1" r="3.6"/><circle cx="227.4" cy="151.1" r="3.6"/><circle cx="230" cy="154.3" r="3.6"/><circle cx="235.6" cy="194.9" r="3.6"/><circle cx="236.9" cy="182.5" r="3.6"/><circle cx="239.9" cy="191.2" r="3.6"/><circle cx="242.3" cy="191.9" r="3.6"/><circle cx="245" cy="195.9" r="3.6"/><circle cx="249.2" cy="219.3" r="3.6"/><circle cx="254.9" cy="230.4" r="3.6"/><circle cx="257.5" cy="232.1" r="3.6"/><circle cx="265.1" cy="267.7" r="3.6"/><circle cx="267.5" cy="264.3" r="3.6"/><circle cx="271.1" cy="278.7" r="3.6"/><circle cx="304.8" cy="375.8" r="3.6"/><circle cx="241.8" cy="144.3" r="3.6"/><circle cx="244.6" cy="149.7" r="3.6"/><circle cx="248.2" cy="166.9" r="3.6"/><circle cx="251.2" cy="175.3" r="3.6"/><circle cx="254.2" cy="182.6" r="3.6"/><circle cx="257" cy="187.3" r="3.6"/><circle cx="261" cy="209.1" r="3.6"/><circle cx="264.2" cy="219.8" r="3.6"/><circle cx="272.3" cy="225.6" r="3.6"/><circle cx="282.1" cy="256" r="3.6"/><circle cx="285.7" cy="269.4" r="3.6"/><circle cx="258.7" cy="141.6" r="3.6"/><circle cx="262.4" cy="160.4" r="3.6"/><circle cx="265.7" cy="172.4" r="3.6"/><circle cx="267.7" cy="164.8" r="3.6"/><circle cx="271.1" cy="178.1" r="3.6"/><circle cx="275.1" cy="200.7" r="3.6"/><circle cx="278.1" cy="207.1" r="3.6"/><circle cx="281.8" cy="225.1" r="3.6"/><circle cx="284.1" cy="219.5" r="3.6"/><circle cx="287.1" cy="225.4" r="3.6"/><circle cx="290.8" cy="241.6" r="3.6"/><circle cx="293.2" cy="236.8" r="3.6"/><circle cx="300.3" cy="264.1" r="3.6"/><circle cx="303.8" cy="277.5" r="3.6"/><circle cx="276.1" cy="149.2" r="3.6"/><circle cx="279.3" cy="159.8" r="3.6"/><circle cx="282.3" cy="166.8" r="3.6"/><circle cx="285.9" cy="183.1" r="3.6"/><circle cx="288.6" cy="185.3" r="3.6"/><circle cx="292.4" cy="204.7" r="3.6"/><circle cx="295.7" cy="215.4" r="3.6"/><circle cx="299.2" cy="229.7" r="3.6"/><circle cx="301.5" cy="222" r="3.6"/><circle cx="305.4" cy="243.9" r="3.6"/><circle cx="308.4" cy="247" r="3.6"/><circle cx="311.7" cy="257.2" r="3.6"/><circle cx="314.3" cy="252.6" r="3.6"/><circle cx="318.4" cy="276.7" r="3.6"/><circle cx="321.8" cy="286.3" r="3.6"/><circle cx="338.8" cy="333.3" r="3.6"/><circle cx="293.3" cy="157.1" r="3.6"/><circle cx="297.2" cy="180.6" r="3.6"/><circle cx="299.5" cy="173.2" r="3.6"/><circle cx="302.9" cy="186.2" r="3.6"/><circle cx="306" cy="193" r="3.6"/><circle cx="310" cy="219" r="3.6"/><circle cx="312.7" cy="217.4" r="3.6"/><circle cx="315.9" cy="225.1" r="3.6"/><circle cx="318.8" cy="225.2" r="3.6"/><circle cx="322.3" cy="240" r="3.6"/><circle cx="325.3" cy="242.5" r="3.6"/><circle cx="329.4" cy="268.3" r="3.6"/><circle cx="332.3" cy="267.4" r="3.6"/><circle cx="335.9" cy="282.5" r="3.6"/><circle cx="339.1" cy="287.3" r="3.6"/><circle cx="342.4" cy="293.5" r="3.6"/><circle cx="356.6" cy="338.9" r="3.6"/><circle cx="359.6" cy="331" r="3.6"/><circle cx="370.3" cy="357.1" r="3.6"/><circle cx="396.3" cy="417.5" r="3.6"/><circle cx="311.6" cy="191.7" r="3.6"/><circle cx="314" cy="185.9" r="3.6"/><circle cx="317.7" cy="206.5" r="3.6"/><circle cx="320.4" cy="204.5" r="3.6"/><circle cx="323.7" cy="214.8" r="3.6"/><circle cx="327.4" cy="235.7" r="3.6"/><circle cx="330.1" cy="231.5" r="3.6"/><circle cx="333.7" cy="247.4" r="3.6"/><circle cx="336.5" cy="245.8" r="3.6"/><circle cx="342.9" cy="256.7" r="3.6"/><circle cx="346" cy="258.5" r="3.6"/><circle cx="356.6" cy="298.9" r="3.6"/><circle cx="363.3" cy="309.9" r="3.6"/><circle cx="366.7" cy="315.6" r="3.6"/><circle cx="327.8" cy="192.1" r="3.6"/><circle cx="330.9" cy="198.8" r="3.6"/><circle cx="334.2" cy="209.7" r="3.6"/><circle cx="337.4" cy="217.4" r="3.6"/><circle cx="340.5" cy="224.2" r="3.6"/><circle cx="344" cy="240.3" r="3.6"/><circle cx="347.2" cy="246" r="3.6"/><circle cx="350.5" cy="256" r="3.6"/><circle cx="353.4" cy="251.7" r="3.6"/><circle cx="356.5" cy="253.9" r="3.6"/><circle cx="360" cy="267.4" r="3.6"/><circle cx="363.2" cy="269.4" r="3.6"/><circle cx="366.4" cy="271.1" r="3.6"/><circle cx="369.9" cy="281.5" r="3.6"/><circle cx="373.6" cy="299.4" r="3.6"/><circle cx="376.8" cy="297.3" r="3.6"/><circle cx="405.6" cy="363.8" r="3.6"/><circle cx="409.4" cy="380" r="3.6"/><circle cx="416.9" cy="392.9" r="3.6"/><circle cx="344.6" cy="210.8" r="3.6"/><circle cx="347.9" cy="222.9" r="3.6"/><circle cx="351.1" cy="231.2" r="3.6"/><circle cx="354.2" cy="237" r="3.6"/><circle cx="357.3" cy="242.2" r="3.6"/><circle cx="360.4" cy="244.3" r="3.6"/><circle cx="363.7" cy="251.8" r="3.6"/><circle cx="367" cy="262.1" r="3.6"/><circle cx="370.1" cy="261.5" r="3.6"/><circle cx="373.7" cy="279.5" r="3.6"/><circle cx="376.7" cy="270.5" r="3.6"/><circle cx="380" cy="272.7" r="3.6"/><circle cx="383.5" cy="284.9" r="3.6"/><circle cx="386.8" cy="283.4" r="3.6"/><circle cx="390.5" cy="303.1" r="3.6"/><circle cx="393.9" cy="307.3" r="3.6"/><circle cx="401.1" cy="330.9" r="3.6"/><circle cx="404.6" cy="330.7" r="3.6"/><circle cx="411.9" cy="343.3" r="3.6"/><circle cx="438.2" cy="411.5" r="3.6"/><circle cx="450" cy="440.4" r="3.6"/><circle cx="360.5" cy="213.6" r="3.6"/><circle cx="363.9" cy="226.5" r="3.6"/><circle cx="367.7" cy="258.2" r="3.6"/><circle cx="370.8" cy="261.8" r="3.6"/><circle cx="373.8" cy="259.2" r="3.6"/><circle cx="376.9" cy="259.5" r="3.6"/><circle cx="380.4" cy="278.6" r="3.6"/><circle cx="383.4" cy="271.9" r="3.6"/><circle cx="386.6" cy="272.1" r="3.6"/><circle cx="390.3" cy="297.7" r="3.6"/><circle cx="396.8" cy="290.2" r="3.6"/><circle cx="400.6" cy="326.8" r="3.6"/><circle cx="403.6" cy="297.7" r="3.6"/><circle cx="407.3" cy="324.9" r="3.6"/><circle cx="410.7" cy="318.7" r="3.6"/><circle cx="414.3" cy="317.2" r="3.6"/><circle cx="418" cy="357" r="3.6"/><circle cx="421.5" cy="335.1" r="3.6"/><circle cx="425.2" cy="361.1" r="3.6"/><circle cx="428.9" cy="370.1" r="3.6"/><circle cx="432.6" cy="362.2" r="3.6"/><circle cx="436.3" cy="381" r="3.6"/><circle cx="439.9" cy="413.8" r="3.6"/><circle cx="443.8" cy="401.6" r="3.6"/><circle cx="455" cy="451.8" r="3.6"/><circle cx="376.6" cy="229.4" r="3.6"/><circle cx="379.6" cy="228.1" r="3.6"/><circle cx="383.1" cy="248" r="3.6"/><circle cx="386.4" cy="258.7" r="3.6"/><circle cx="389.8" cy="270.1" r="3.6"/><circle cx="393" cy="274.2" r="3.6"/><circle cx="396.4" cy="289.6" r="3.6"/><circle cx="399.9" cy="306.6" r="3.6"/><circle cx="402.9" cy="287.6" r="3.6"/><circle cx="406.3" cy="297.1" r="3.6"/><circle cx="409.7" cy="291.8" r="3.6"/><circle cx="413.2" cy="309.1" r="3.6"/><circle cx="416.7" cy="339.2" r="3.6"/><circle cx="420.2" cy="328.1" r="3.6"/><circle cx="430.8" cy="348.7" r="3.6"/><circle cx="434.4" cy="358.9" r="3.6"/><circle cx="441.6" cy="387.9" r="3.6"/><circle cx="445.3" cy="394.3" r="3.6"/><circle cx="453" cy="390.9" r="3.6"/><circle cx="456.6" cy="410.1" r="3.6"/><circle cx="460.6" cy="408.1" r="3.6"/><circle cx="464.5" cy="414.5" r="3.6"/><circle cx="468.2" cy="430.4" r="3.6"/><circle cx="471.6" cy="464.9" r="3.6"/><circle cx="480.4" cy="444.2" r="3.6"/><circle cx="392.7" cy="267.1" r="3.6"/><circle cx="395.7" cy="256.1" r="3.6"/><circle cx="399.2" cy="284.6" r="3.6"/><circle cx="402.4" cy="292.4" r="3.6"/><circle cx="405.4" cy="268.1" r="3.6"/><circle cx="408.7" cy="277.5" r="3.6"/><circle cx="412.3" cy="317.3" r="3.6"/><circle cx="415.4" cy="291.5" r="3.6"/><circle cx="418.9" cy="305.2" r="3.6"/><circle cx="425.7" cy="311.9" r="3.6"/><circle cx="429.2" cy="319.7" r="3.6"/><circle cx="432.7" cy="345.1" r="3.6"/><circle cx="436.2" cy="339.9" r="3.6"/><circle cx="443.4" cy="353.9" r="3.6"/><circle cx="450.5" cy="382.7" r="3.6"/><circle cx="457.9" cy="391" r="3.6"/><circle cx="461.8" cy="386.1" r="3.6"/><circle cx="477" cy="420.8" r="3.6"/><circle cx="481.1" cy="422.9" r="3.6"/><circle cx="488.4" cy="457.9" r="3.6"/><circle cx="493" cy="445.5" r="3.6"/><circle cx="414.4" cy="290.2" r="3.6"/><circle cx="417.7" cy="301.2" r="3.6"/><circle cx="421" cy="307.8" r="3.6"/><circle cx="424.3" cy="300.2" r="3.6"/><circle cx="427.6" cy="329.1" r="3.6"/><circle cx="431" cy="314.2" r="3.6"/><circle cx="448.2" cy="365.3" r="3.6"/><circle cx="451.8" cy="363.5" r="3.6"/><circle cx="466.3" cy="389.4" r="3.6"/><circle cx="477.7" cy="402.6" r="3.6"/><circle cx="485.3" cy="418.8" r="3.6"/><circle cx="505.3" cy="446.8" r="3.6"/><circle cx="517.6" cy="470.9" r="3.6"/><circle cx="429.5" cy="305.4" r="3.6"/><circle cx="432.8" cy="305" r="3.6"/><circle cx="436.1" cy="311.3" r="3.6"/><circle cx="439.5" cy="318.6" r="3.6"/><circle cx="442.8" cy="338" r="3.6"/><circle cx="446.2" cy="336.6" r="3.6"/><circle cx="456.6" cy="352.9" r="3.6"/><circle cx="460.3" cy="351.6" r="3.6"/><circle cx="471" cy="371.3" r="3.6"/><circle cx="474.8" cy="371.7" r="3.6"/><circle cx="478.2" cy="393.6" r="3.6"/><circle cx="482.2" cy="389.2" r="3.6"/><circle cx="485.8" cy="398.8" r="3.6"/><circle cx="501.4" cy="418.3" r="3.6"/><circle cx="505.2" cy="430.2" r="3.6"/><circle cx="509.5" cy="429.3" r="3.6"/><circle cx="513.4" cy="439.1" r="3.6"/><circle cx="521.5" cy="452.4" r="3.6"/></g>
<g transform="scale(0.5)" shape-rendering="crispEdges" fill-opacity="0.8">
<path fill="#000dff" d="M849 590l12 10 11 7 6-2-12-5-11-7zM855 593l11 7 12 5 5-1-11-4-12-5zM872 600l11 4 6 6-12-3zM877 607l12 3 5 7-11-3zM883 614l11 3 6 7-11-2zM889 622l11 2 6 6-12-1zM1004 801l12-1 7 10-13 2zM1010 812l13-2 6 11-12 2zM1017 823l12-2 7 11-13 2zM1023 834l13-2 7 12-13 1zM1018 845l12 0 13-1 6 11-12 1-13 0zM1024 856l13 0 12-1 7 12-12 1-13 0zM1031 868l13 0 12-1 7 12-13 0-12 0zM1025 879l13 0 12 0 13 0 7 11-13 1-12 0-13 0zM1032 891l13 0 12 0 13-1 7 12-13 1-13 0-12 0zM1039 903l12 0 13 0 13-1 7 15-13 0-13 0-12 0zM1033 916l13 1 12 0 13 0 13 0 6 18-12-1-13-1-13-1-12-2zM1027 927l13 3 12 2 13 1 13 1 12 1 7 18-12-2-13-2-13-2-12-2-13-4z"/>
<path fill="#0026ff" d="M838 579l11 11 6 3-12-10zM843 583l12 10 5 2-11-8zM849 587l11 8 12 5 5 7-11-5-12-7zM866 602l11 5 6 7-12-4zM871 610l12 4 6 8-12-4zM877 618l12 4 5 7-11-3zM883 626l11 3 12 1 6 7-12 0-12-3zM888 634l12 3 12 0 5 8-11 0-12-3zM894 642l12 3 11 0 6 9-12 0-11-2zM900 652l11 2 12 0 6 9-12 0-11-2zM906 661l11 2 12 0 6 9-12 0-12-1zM911 671l12 1 12 0 6 9-12 1-12-2zM917 680l12 2 12-1 6 9-12 1-12-1zM923 690l12 1 12-1 6 10-12 1-12-2zM929 699l12 2 12-1 6 10-12 1-12-2zM923 706l12 3 12 2 12-1 6 10-12 0-12-1-12-2zM929 717l12 2 12 1 12 0 6 11-12 0-12-1-12-3zM935 727l12 3 12 1 12 0 7 9-12 0-13-1-12-2zM941 737l12 2 13 1 12 0 6 10-12 0-12-1-12-1zM948 748l12 1 12 1 12 0 6 9-12 1-12 0-12-2zM954 758l12 2 12 0 12-1 7 10-13 1-12 0-12-1zM960 769l12 1 12 0 13-1 6 10-12 1-12 0-13-1zM966 779l13 1 12 0 12-1 6 10-12 2-12 0-12-1zM973 790l12 1 12 0 12-2 7 11-12 1-13 1-12-1zM967 798l12 3 12 1 13-1 6 11-12 0-13 0-12-3zM973 809l12 3 13 0 12 0 7 11-13 0-12 0-12-3zM980 820l12 3 12 0 13 0 6 11-12 0-12 0-13-2zM986 832l13 2 12 0 12 0 7 11-12 0-13 0-12-2zM993 843l12 2 13 0 6 11-12 0-13-1zM999 855l13 1 12 0 7 12-13 0-12-1zM993 864l13 3 12 1 13 0 7 11-13 0-12 0-13-3zM1000 876l13 3 12 0 7 12-13 0-12-3zM1007 888l12 3 13 0 7 12-13 0-13-2zM1013 901l13 2 13 0 7 14-13-1-13-2zM1008 908l12 6 13 2 7 14-13-3-13-5zM1014 922l13 5 7 14-13-6z"/>
<path fill="#0040ff" d="M826 562l12 17 5 4-11-15zM854 595l12 7 5 8-11-7zM860 603l11 7 6 8-12-7zM865 611l12 7 6 8-12-6zM871 620l12 6 5 8-11-6zM877 628l11 6 6 8-12-5zM882 637l12 5 6 10-12-5zM888 647l12 5 6 9-12-5zM894 656l12 5 5 10-11-5zM900 666l11 5 6 9-12-4zM905 676l12 4 6 10-12-4zM899 677l12 9 12 4 6 9-12-3-12-8zM905 688l12 8 12 3 6 10-12-3-12-7zM911 699l12 7 6 11-12-6zM917 711l12 6 6 10-12-5zM923 722l12 5 6 10-12-4zM929 733l12 4 7 11-13-5zM935 743l13 5 6 10-12-4zM942 754l12 4 6 11-12-4zM936 759l12 6 12 4 6 10-12-3-12-6zM942 770l12 6 12 3 7 11-13-3-12-6zM948 781l12 6 13 3 6 11-12-3-13-5zM954 793l13 5 6 11-12-5zM961 804l12 5 7 11-13-4zM967 816l13 4 6 12-12-4zM974 828l12 4 7 11-13-3zM968 833l12 7 13 3 6 12-12-3-13-7zM974 845l13 7 12 3 7 12-13-3-12-6zM981 858l12 6 7 12-13-6zM987 870l13 6 7 12-13-5zM994 883l13 5 6 13-12-6zM1001 895l12 6 7 13-12-6zM995 901l13 7 6 14-12-8zM1002 914l12 8 7 13-12-8z"/>
<path fill="#0059ff" d="M832 568l11 15 6 4-12-13zM837 574l12 13 5 8-11-13zM843 582l11 13 6 8-12-12zM848 591l12 12 5 8-11-11zM854 600l11 11 6 9-12-11zM859 609l12 11 6 8-12-10zM865 618l12 10 5 9-12-10zM870 627l12 10 6 10-12-10zM876 637l12 10 6 9-12-9zM882 647l12 9 6 10-12-9zM888 657l12 9 5 10-11-9zM894 667l11 9 6 10-12-9zM893 678l12 10 6 11-12-9zM899 690l12 9 6 12-12-9zM905 702l12 9 6 11-12-9zM911 713l12 9 6 11-12-8zM917 725l12 8 6 10-12-7zM923 736l12 7 7 11-13-6zM929 748l13 6 6 11-12-6zM923 749l13 10 6 11-12-9zM930 761l12 9 6 11-12-8zM936 773l12 8 6 12-12-8zM942 785l12 8 7 11-13-7zM948 797l13 7 6 12-12-7zM955 809l12 7 7 12-13-7zM961 821l13 7 6 12-12-7zM955 825l13 8 6 12-12-8zM962 837l12 8 7 13-13-8zM968 850l13 8 6 12-12-8zM975 862l12 8 7 13-13-8zM981 875l13 8 7 12-13-7zM988 888l13 7 7 13-13-7zM989 905l13 9 7 13-13-8z"/>
<path fill="#0073ff" d="M815 540l11 22 6 6-12-20zM820 548l12 20 5 6-12-18zM836 575l12 16 6 9-12-15zM842 585l12 15 5 9-12-15zM847 594l12 15 6 9-12-14zM853 604l12 14 5 9-11-13zM859 614l11 13 6 10-12-13zM864 624l12 13 6 10-12-12zM870 635l12 12 6 10-12-12zM876 645l12 12 6 10-12-11zM882 656l12 11 5 10-12-10zM887 667l12 10 6 11-12-10zM893 690l12 12 6 11-12-11zM899 702l12 11 6 12-12-11zM905 714l12 11 6 11-12-10zM911 726l12 10 6 12-12-11zM917 737l12 11 7 11-13-10zM923 763l13 10 6 12-12-9zM930 776l12 9 6 12-12-9zM936 788l12 9 7 12-13-9zM942 800l13 9 6 12-12-8zM949 813l12 8 7 12-13-8zM949 827l13 10 6 13-12-10zM956 840l12 10 7 12-13-9zM962 853l13 9 6 13-12-9zM969 866l12 9 7 13-12-9zM976 879l12 9 7 13-13-9zM982 892l13 9 7 13-13-9zM976 897l13 8 7 14-13-9z"/>
<path fill="#008cff" d="M825 556l12 18 6 8-12-16zM831 566l12 16 5 9-12-16zM864 631l12 14 6 11-12-13zM870 643l12 13 5 11-12-13zM875 654l12 13 6 11-12-12zM881 666l12 12 6 12-12-12zM887 678l12 12 6 12-12-12zM893 701l12 13 6 12-12-13zM899 713l12 13 6 11-12-11zM905 726l12 11 6 12-12-11zM911 738l12 11 7 12-13-10zM917 751l13 10 6 12-13-10zM917 764l13 12 6 12-12-11zM924 777l12 11 6 12-12-11zM930 789l12 11 7 13-13-11zM936 802l13 11 6 12-12-11zM943 814l12 11 7 12-13-10zM950 843l12 10 7 13-13-10zM956 856l13 10 7 13-13-9zM963 870l13 9 6 13-13-9zM969 883l13 9 7 13-13-8z"/>
<path fill="#00a6ff" d="M830 565l12 20 5 9-12-18zM835 576l12 18 6 10-12-17zM841 587l12 17 6 10-12-16zM847 598l12 16 5 10-12-15zM852 609l12 15 6 11-12-15zM858 620l12 15 6 10-12-14zM869 653l12 13 6 12-12-13zM875 665l12 13 6 12-12-13zM881 677l12 13 6 12-12-13zM887 689l12 13 6 12-12-13zM893 713l12 13 6 12-12-13zM899 725l12 13 6 13-12-13zM905 738l12 13 6 12-12-12zM911 751l12 12 7 13-13-12zM917 777l13 12 6 13-12-12zM924 790l12 12 7 12-13-11zM930 803l13 11 6 13-12-11zM937 816l12 11 7 13-13-11zM943 829l13 11 6 13-12-10zM943 848l13 8 7 14-13-9zM950 861l13 9 6 13-12-8zM957 875l12 8 7 14-13-8zM950 883l13 6 13 8 7 13-13-7-13-6z"/>
<path fill="#00bfff" d="M803 513l12 27 5 8-12-25zM808 523l12 25 5 8-12-23zM813 533l12 23 6 10-12-23zM819 543l12 23 5 9-12-21zM824 554l12 21 6 10-12-20zM846 605l12 15 6 11-12-14zM852 617l12 14 6 12-13-14zM857 629l13 14 5 11-12-13zM863 641l12 13 6 12-12-13zM869 662l12 15 6 12-12-14zM875 675l12 14 6 12-12-14zM881 687l12 14 6 12-12-13zM887 700l12 13 6 13-12-13zM892 724l13 14 6 13-12-14zM899 737l12 14 6 13-12-14zM905 750l12 14 7 13-13-14zM911 763l13 14 6 12-13-12zM917 792l13 11 7 13-13-10zM924 806l13 10 6 13-13-9zM930 820l13 9 7 14-13-9zM937 834l13 9 6 13-13-8zM930 841l13 7 7 13-13-5zM937 856l13 5 7 14-14-5zM930 866l13 4 14 5 6 14-13-6-13-3zM937 880l13 3 7 14-13-4z"/>
<path fill="#00d9ff" d="M823 557l12 19 6 11-12-18zM829 569l12 18 6 11-12-17zM835 581l12 17 5 11-12-16zM840 593l12 16 6 11-12-15zM851 625l12 16 6 12-12-15zM857 638l12 15 6 12-12-15zM863 650l12 15 6 12-12-15zM874 685l13 15 6 13-13-15zM880 698l13 15 6 12-13-14zM886 711l13 14 6 13-13-14zM898 750l13 13 6 14-12-13zM905 764l12 13 7 13-13-12zM911 778l13 12 6 13-13-11zM911 798l13 8 6 14-13-8zM917 812l13 8 7 14-13-7zM911 822l13 5 13 7 6 14-13-7-13-4zM917 837l13 4 7 15-13-5zM911 846l13 5 13 5 6 14-13-4-13-6zM917 860l13 6 7 14-13-5zM924 875l13 5 7 13-14-4z"/>
<path fill="#00f2ff" d="M801 510l12 23 6 10-12-21zM807 522l12 21 5 11-12-21zM812 533l12 21 6 11-12-20zM818 545l12 20 5 11-12-19zM828 575l12 18 6 12-12-17zM834 588l12 17 6 12-13-16zM839 601l13 16 5 12-12-16zM845 613l12 16 6 12-12-16zM856 646l13 16 6 13-13-16zM862 659l13 16 6 12-13-15zM868 672l13 15 6 13-13-15zM874 696l12 15 6 13-12-15zM880 709l12 15 7 13-13-14zM886 723l13 14 6 13-13-14zM892 736l13 14 6 13-13-13zM892 753l13 11 6 14-13-10zM898 768l13 10 6 14-13-9zM904 783l13 9 7 14-13-8zM898 791l13 7 6 14-13-5zM904 807l13 5 7 15-13-5zM898 815l13 7 6 15-13-6zM904 831l13 6 7 14-13-5zM897 838l14 8 6 14-13-6zM904 854l13 6 7 15-14-5zM897 863l13 7 14 5 6 14-13-4-13-5z"/>
<path fill="#00fff2" d="M790 487l13 26 5 10-12-24zM796 499l12 24 5 10-12-23zM811 538l12 19 6 12-12-19zM817 550l12 19 6 12-13-18zM822 563l13 18 5 12-12-18zM833 594l12 19 6 12-12-18zM839 607l12 18 6 13-13-18zM844 620l13 18 6 12-13-17zM850 633l13 17 6 12-13-16zM856 656l12 16 6 13-12-16zM862 669l12 16 6 13-12-15zM868 683l12 15 6 13-12-15zM873 709l13 14 6 13-13-13zM879 723l13 13 6 14-12-12zM886 738l12 12 7 14-13-11zM885 759l13 9 6 15-12-8zM892 775l12 8 7 15-13-7zM885 783l13 8 6 16-13-7zM891 800l13 7 7 15-13-7zM884 807l14 8 6 16-13-8zM891 823l13 8 7 15-14-8zM884 830l13 8 7 16-14-7zM890 847l14 7 6 16-13-7zM883 856l14 7 7 17-14-7z"/>
<path fill="#00ffd9" d="M795 502l12 20 5 11-12-19zM800 514l12 19 6 12-12-19zM806 526l12 19 5 12-12-19zM821 568l13 20 5 13-12-20zM827 581l12 20 6 12-12-19zM838 615l12 18 6 13-12-17zM844 629l12 17 6 13-12-17zM850 642l12 17 6 13-12-16zM855 667l13 16 6 13-13-15zM861 681l13 15 6 13-13-14zM867 695l13 14 6 14-13-14zM866 711l13 12 7 15-13-11zM873 727l13 11 6 15-13-10zM879 743l13 10 6 15-13-9zM872 750l13 9 7 16-14-8zM878 767l14 8 6 16-13-8zM872 774l13 9 6 17-13-9zM878 791l13 9 7 15-14-8zM871 798l13 9 7 16-14-9zM877 814l14 9 6 15-13-8zM870 823l14 7 6 17-13-8zM877 839l13 8 7 16-14-7zM870 849l13 7 7 17-14-7z"/>
<path fill="#00ffbf" d="M778 466l12 21 6 12-12-21zM784 478l12 21 5 11-12-20zM789 490l12 20 6 12-12-20zM804 530l13 20 5 13-12-21zM810 542l12 21 6 12-12-20zM816 555l12 20 6 13-13-20zM826 588l13 19 5 13-12-19zM832 601l12 19 6 13-12-18zM843 639l13 17 6 13-13-16zM849 653l13 16 6 14-13-16zM854 681l13 14 6 14-13-13zM860 696l13 13 6 14-13-12zM860 717l13 10 6 16-13-9zM866 734l13 9 6 16-13-9zM859 741l13 9 6 17-13-9zM865 758l13 9 7 16-13-9zM858 765l14 9 6 17-13-10zM865 781l13 10 6 16-13-9zM858 790l13 8 6 16-13-8zM864 806l13 8 7 16-14-7zM857 815l13 8 7 16-14-7zM863 832l14 7 6 17-13-7zM856 842l14 7 6 17-13-7z"/>
<path fill="#00ffa6" d="M788 493l12 21 6 12-13-21zM793 505l13 21 5 12-12-20zM799 518l12 20 6 12-13-20zM809 548l12 20 6 13-13-20zM814 561l13 20 6 13-13-20zM820 574l13 20 6 13-13-19zM825 597l13 18 6 14-13-18zM831 611l13 18 6 13-13-17zM837 625l13 17 6 14-13-17zM842 651l13 16 6 14-13-15zM848 666l13 15 6 14-13-14zM847 685l13 11 6 15-13-10zM853 701l13 10 7 16-13-10zM847 709l13 8 6 17-13-9zM853 725l13 9 6 16-13-9zM846 733l13 8 6 17-13-9zM852 749l13 9 7 16-14-9zM845 758l13 7 7 16-14-7zM851 774l14 7 6 17-13-8zM844 783l14 7 6 16-13-7zM851 799l13 7 6 17-13-8zM843 810l14 5 6 17-13-6zM850 826l13 6 7 17-14-7zM843 837l13 5 7 17-14-6z"/>
<path fill="#00ff8c" d="M771 459l13 19 5 12-12-20zM777 470l12 20 6 12-13-20zM782 482l13 20 5 12-12-21zM792 511l12 19 6 12-13-18zM797 524l13 18 6 13-13-19zM803 536l13 19 5 13-12-20zM813 570l13 18 6 13-13-17zM819 584l13 17 6 14-13-18zM824 609l13 16 6 14-13-16zM830 623l13 16 6 14-13-16zM836 637l13 16 6 14-13-16zM835 655l13 11 6 15-13-11zM841 670l13 11 6 15-13-11zM834 677l13 8 6 16-13-8zM840 693l13 8 7 16-13-8zM833 701l14 8 6 16-13-8zM840 717l13 8 6 16-13-8zM832 726l14 7 6 16-13-7zM839 742l13 7 6 16-13-7zM832 751l13 7 6 16-13-7zM838 767l13 7 7 16-14-7zM831 778l13 5 7 16-14-5zM823 789l14 5 14 5 6 16-14-5-13-5zM830 805l13 5 7 16-14-5zM836 821l14 5 6 16-13-5zM829 828l14 9 6 16-14-9z"/>
<path fill="#00ff73" d="M766 447l12 19 6 12-13-19zM775 476l13 17 5 12-12-17zM781 488l12 17 6 13-13-19zM786 499l13 19 5 12-12-19zM796 532l13 16 5 13-12-16zM802 545l12 16 6 13-12-17zM808 557l12 17 6 14-13-18zM812 581l13 16 6 14-13-16zM818 595l13 16 6 14-13-16zM823 625l13 12 6 14-13-11zM829 640l13 11 6 15-13-11zM822 646l13 9 6 15-13-9zM828 661l13 9 6 15-13-8zM821 670l13 7 6 16-13-7zM827 686l13 7 7 16-14-8zM820 695l13 6 7 16-14-6zM826 711l14 6 6 16-14-7zM819 721l13 5 7 16-14-6zM825 736l14 6 6 16-13-7zM818 747l14 4 6 16-14-5zM811 759l13 3 14 5 6 16-13-5-14-4zM817 774l14 4 6 16-14-5zM810 782l13 7 7 16-14-8zM816 797l14 8 6 16-14-9zM822 812l14 9 7 16-14-9zM815 821l14 7 6 16-14-8z"/>
<path fill="#00ff59" d="M754 431l12 16 5 12-12-17zM759 442l12 17 6 11-13-17zM764 453l13 17 5 12-12-17zM770 465l12 17 6 11-13-17zM779 497l13 14 5 13-12-16zM785 508l12 16 6 12-13-16zM790 520l13 16 6 12-13-16zM795 543l13 14 5 13-12-15zM801 555l12 15 6 14-13-16zM806 568l13 16 6 13-13-16zM805 583l13 12 6 14-13-12zM811 597l13 12 6 14-13-12zM817 611l13 12 6 14-13-12zM810 617l13 8 6 15-13-9zM816 631l13 9 6 15-13-9zM809 640l13 6 6 15-13-6zM815 655l13 6 6 16-13-7zM808 665l13 5 6 16-13-6zM814 680l13 6 6 15-13-6zM807 691l13 4 6 16-13-5zM799 703l14 3 13 5 6 15-13-5-13-4zM792 716l14 1 13 4 6 15-13-4-14-2zM798 730l14 2 13 4 7 15-14-4-14-3zM791 739l13 5 14 3 6 15-13-3-14-6zM797 753l14 6 6 15-14-7zM803 767l14 7 6 15-13-7zM796 778l14 4 6 15-14-5zM802 792l14 5 6 15-14-6zM794 803l14 3 14 6 7 16-14-7-14-4zM801 817l14 4 6 15-14-5z"/>
<path fill="#00ff40" d="M757 452l13 13 5 11-12-13zM763 463l12 13 6 12-13-14zM768 474l13 14 5 11-12-14zM774 485l12 14 6 12-13-14zM778 508l12 12 6 12-13-13zM783 519l13 13 6 13-13-14zM789 531l13 14 6 12-13-14zM794 557l12 11 6 13-13-11zM799 570l13 11 6 14-13-12zM798 589l13 8 6 14-13-8zM804 603l13 8 6 14-13-8zM797 611l13 6 6 14-13-6zM803 625l13 6 6 15-13-6zM796 635l13 5 6 15-13-5zM789 646l13 4 13 5 6 15-13-5-13-4zM795 661l13 4 6 15-13-4zM787 674l14 2 13 4 6 15-13-4-14-3zM780 688l13 0 14 3 6 15-14-3-13-1zM772 699l14 3 13 1 7 14-14-1-13-4zM779 712l13 4 6 14-13-5zM771 722l14 3 13 5 6 14-13-5-14-3zM777 736l14 3 6 14-14-4zM769 748l14 1 14 4 6 14-14-4-13-1zM762 761l14 1 13 1 14 4 7 15-14-4-14-2-14-2zM768 774l14 2 14 2 6 14-14-3-14-1zM760 786l14 2 14 1 14 3 6 14-14-3-14-2-14-1zM766 800l14 1 14 2 7 14-14-3-14-1zM773 813l14 1 14 3 6 14-14-4-14-1z"/>
<path fill="#00ff26" d="M741 419l13 12 5 11-12-12zM747 430l12 12 5 11-12-12zM752 441l12 12 6 12-13-13zM750 453l13 10 5 11-12-10zM756 464l12 10 6 11-13-11zM761 474l13 11 5 12-12-12zM767 485l12 12 6 11-13-12zM772 496l13 12 5 12-12-12zM771 509l12 10 6 12-13-10zM776 521l13 10 6 12-13-10zM782 533l13 10 6 12-13-10zM788 545l13 10 5 13-12-11zM781 550l13 7 5 13-13-7zM786 563l13 7 6 13-13-7zM779 571l13 5 13 7 6 14-13-8-13-5zM785 584l13 5 6 14-13-6zM778 593l13 4 13 6 6 14-13-6-13-4zM784 607l13 4 6 14-13-4zM777 617l13 4 13 4 6 15-13-5-13-3zM769 630l14 2 13 3 6 15-13-4-14-1zM762 645l13 0 14 1 6 15-14-2-13 0zM754 657l14 2 13 0 14 2 6 15-14-2-13 0-14-3zM747 668l13 3 14 3 13 0 6 14-13 0-14-3-13-3zM753 682l13 3 14 3 6 14-14-3-13-3zM745 693l14 3 13 3 7 13-14-3-14-2zM751 707l14 2 14 3 6 13-14-3-14-2zM744 719l13 1 14 2 6 14-14-2-13-1zM736 731l14 2 13 1 14 2 6 13-14-1-13-1-14-2zM742 745l14 2 13 1 7 14-14-1-14-2zM734 757l14 2 14 2 6 13-14-1-14-2zM726 770l14 1 14 2 14 1 6 14-14-2-14-1-14-1zM732 784l14 1 14 1 6 14-14-1-14 0zM724 799l14 0 14 0 14 1 7 13-14 0-15 0-14 0zM716 813l14 0 14 0 15 0 14 0 6 13-14 0-14 1-15 0-14-1z"/>
<path fill="#00ff0d" d="M729 410l12 9 6 11-13-9zM734 421l13 9 5 11-13-10zM739 431l13 10 5 11-12-10zM745 442l12 10 6 11-13-10zM743 455l13 9 5 10-12-8zM749 466l12 8 6 11-13-9zM754 476l13 9 5 11-12-9zM760 487l12 9 6 12-13-10zM765 498l13 10 5 11-12-10zM758 502l13 7 5 12-12-7zM764 514l12 7 6 12-13-7zM769 526l13 7 6 12-13-7zM762 534l13 4 13 7 6 12-13-7-13-4zM768 546l13 4 5 13-12-5zM761 554l13 4 12 5 6 13-13-5-13-4zM766 567l13 4 6 13-13-4zM759 576l13 4 13 4 6 13-13-4-13-3zM765 590l13 3 6 14-13-4zM757 602l14 1 13 4 6 14-13-4-14-1zM737 614l13 2 13 0 14 1 6 15-14-2-13 0-13-2zM743 628l13 2 13 0 6 15-13 0-13-2zM735 640l14 3 13 2 6 14-14-2-13-3zM727 651l14 3 13 3 6 14-13-3-14-3zM733 665l14 3 6 14-14-3zM726 676l13 3 14 3 6 14-14-3-13-3zM718 689l14 1 13 3 6 14-14-2-13-2zM710 702l14 1 13 2 14 2 6 13-13-1-14-2-14-1zM716 716l14 1 14 2 6 14-14-2-14-1zM708 728l14 2 14 1 6 14-14-2-14-1zM700 742l14 0 14 1 14 2 6 14-14-2-14-1-14 0zM692 757l14-1 14 0 14 1 6 14-14-1-14 1-14 0zM684 771l14 0 14 0 14-1 6 14-14 1-14 0-14 0zM675 786l15-1 14 0 14 0 14-1 6 15-14 0-14 0-14 0-15 1zM624 810l14-2 15-3 14-3 14-2 15-1 14 0 14 0 6 14-14 0-14 0-15 0-14 2-14 3-15 4-14 2zM601 827l14-1 15-2 14-2 15-4 14-3 14-2 15 0 14 0 6 13-14 0-15 0-14 3-14 3-15 4-14 2-15 2-14 1z"/>
<path fill="#0dff00" d="M716 401l13 9 5 11-12-10zM722 411l12 10 5 10-12-9zM727 422l12 9 6 11-13-9zM732 433l13 9 5 11-12-9zM738 444l12 9 6 11-13-9zM730 446l13 9 6 11-13-9zM736 457l13 9 5 10-13-8zM741 468l13 8 6 11-13-7zM747 480l13 7 5 11-13-7zM740 485l12 6 13 7 6 11-13-7-13-5zM745 497l13 5 6 12-13-5zM751 509l13 5 5 12-13-5zM743 517l13 4 13 5 6 12-13-4-13-4zM749 530l13 4 6 12-13-4zM742 539l13 3 13 4 6 12-13-4-14-3zM747 551l14 3 5 13-13-3zM740 561l13 3 13 3 6 13-13-4-13-2zM733 573l13 1 13 2 6 14-13-2-14-1zM725 585l13 2 14 1 13 2 6 13-14-1-13-1-13-2zM718 597l13 2 13 2 13 1 6 14-13 0-13-2-14-3zM710 609l13 2 14 3 6 14-14-2-13-3zM716 623l13 3 14 2 6 15-14-3-13-3zM708 634l14 3 13 3 6 14-14-3-13-3zM700 645l14 3 13 3 6 14-13-3-14-2zM692 659l14 1 14 2 13 3 6 14-13-3-14-2-14-1zM684 672l14 1 14 1 14 2 6 14-14-1-14-1-14-1zM690 687l14 1 14 1 6 14-14-1-14-1zM682 700l14 1 14 1 6 14-14-1-14-1zM660 714l14 0 14 0 14 1 14 1 6 14-14-2-14 0-14 0-14 0zM652 729l14-1 14 0 14 0 14 0 6 14-14 0-14 1-14 0-14 0zM629 746l14-1 15-2 14 0 14 0 14-1 6 14-14 1-14 0-15 1-14 1-14 2zM592 766l15-1 14-2 14-2 14-2 14-1 15-1 14 0 6 14-14 0-15 1-14 2-14 2-14 2-15 2-14 2zM584 783l14-1 14-2 15-2 14-2 14-2 14-2 15-1 6 14-15 1-14 2-14 2-14 3-15 2-14 2-15 1zM589 798l15-1 14-2 15-2 14-3 14-2 14-2 6 14-14 2-14 3-15 3-14 2-14 2-15 1zM595 813l15-1 14-2 6 14-15 2-14 1z"/>
<path fill="#26ff00" d="M709 400l13 11 5 11-13-10zM714 412l13 10 5 11-12-10zM720 423l12 10 6 11-13-10zM725 434l13 10 5 11-13-9zM718 437l12 9 6 11-13-8zM723 449l13 8 5 11-13-7zM728 461l13 7 6 12-13-7zM734 473l13 7 5 11-12-6zM727 479l13 6 5 12-13-5zM732 492l13 5 6 12-13-4zM725 500l13 5 13 4 5 12-13-4-13-4zM730 513l13 4 6 13-13-4zM723 522l13 4 13 4 6 12-13-3-13-4zM716 532l13 3 13 4 5 12-13-3-13-2zM721 546l13 2 13 3 6 13-13-3-13-2zM714 556l13 3 13 2 6 13-13-1-14-3zM706 567l13 3 14 3 5 14-13-2-13-3zM698 579l14 3 13 3 6 14-13-2-14-3zM691 591l13 3 14 3 5 14-13-2-14-4zM696 605l14 4 6 14-14-3zM689 616l13 4 14 3 6 14-14-3-14-3zM681 629l13 2 14 3 6 14-14-3-14-1zM673 642l13 2 14 1 6 15-14-1-13-2zM665 656l14 1 13 2 6 14-14-1-14-1zM657 670l13 1 14 1 6 15-14-1-14-1zM648 684l14 1 14 1 14 1 6 14-14-1-14-1-14 0zM626 699l14 0 14 0 14 0 14 1 6 14-14 0-14 0-14 0-14 1zM604 716l14-1 14 0 14-1 14 0 6 14-14 1-14 1-14 1-15 1zM567 736l14-1 14-2 14-1 15-1 14-1 14-1 6 14-15 2-14 1-14 2-14 1-14 2-15 1zM572 752l15-1 14-2 14-1 14-2 6 15-14 2-14 2-15 1-14 2zM578 768l14-2 6 16-14 1z"/>
<path fill="#40ff00" d="M704 389l12 12 6 10-13-11zM701 401l13 11 6 11-13-10zM707 413l13 10 5 11-13-9zM712 425l13 9 5 12-12-9zM710 441l13 8 5 12-12-7zM716 454l12 7 6 12-13-6zM708 460l13 7 13 6 6 12-13-6-13-6zM714 473l13 6 5 13-13-5zM706 482l13 5 13 5 6 13-13-5-13-4zM712 496l13 4 5 13-13-4zM704 505l13 4 13 4 6 13-13-4-13-3zM697 513l13 6 13 3 6 13-13-3-14-5zM702 527l14 5 5 14-13-5zM695 537l13 4 13 5 6 13-13-3-14-4zM687 549l13 3 14 4 5 14-13-3-13-3zM679 560l14 4 13 3 6 15-14-3-13-3zM671 571l14 5 13 3 6 15-13-3-14-4zM677 587l14 4 5 14-13-3zM669 598l14 4 13 3 6 15-13-4-14-3zM661 611l14 2 14 3 5 15-13-2-14-2zM653 624l14 3 14 2 5 15-13-2-14-2zM645 638l14 2 14 2 6 15-14-1-14-2zM623 652l14 1 14 1 14 2 5 15-13-1-14-2-14 0zM615 667l14 1 14 0 14 2 5 15-14-1-14-1-14 0zM592 683l14 0 14 0 14 0 14 1 6 15-14 0-14 0-14 1-14 0zM555 704l15-2 14-1 14-1 14 0 14-1 6 16-14 0-14 1-15 1-14 1-14 2zM561 720l14-2 14-1 15-1 5 16-14 1-14 2-14 1z"/>
<path fill="#59ff00" d="M691 376l13 13 5 11-13-12zM696 388l13 12 5 12-13-11zM694 402l13 11 5 12-13-10zM699 415l13 10 6 12-13-9zM705 428l13 9 5 12-13-8zM697 432l13 9 6 13-13-8zM703 446l13 8 5 13-13-7zM695 453l13 7 6 13-13-5zM688 462l13 6 13 5 5 14-13-5-13-6zM693 476l13 6 6 14-13-5zM686 484l13 7 13 5 5 13-13-4-13-7zM691 498l13 7 6 14-13-6zM683 507l14 6 5 14-13-5zM676 518l13 4 13 5 6 14-13-4-14-4zM668 529l13 4 14 4 5 15-13-3-13-4zM674 545l13 4 6 15-14-4zM666 555l13 5 6 16-14-5zM658 566l13 5 6 16-14-5zM650 578l13 4 14 5 6 15-14-4-14-4zM642 592l13 2 14 4 6 15-14-2-14-3zM634 606l13 2 14 3 6 16-14-3-14-2zM611 618l14 2 14 2 14 2 6 16-14-2-14-1-14-2zM603 634l14 1 14 2 14 1 6 16-14-1-14-1-14-1zM581 650l14 0 14 1 14 1 6 16-14-1-14 0-15 0zM544 670l14-2 14-1 14 0 15 0 14 0 5 16-14 0-14 0-14 1-14 1-14 2zM550 687l14-2 14-1 14-1 6 17-14 1-14 1-15 2z"/>
<path fill="#73ff00" d="M678 362l13 14 5 12-13-13zM683 375l13 13 5 13-12-12zM689 389l12 12 6 12-13-11zM681 390l13 12 5 13-13-11zM686 404l13 11 6 13-13-10zM692 418l13 10 5 13-13-9zM684 425l13 7 6 14-13-7zM677 433l13 6 13 7 5 14-13-7-13-5zM682 448l13 5 6 15-13-6zM674 455l14 7 5 14-13-6zM680 470l13 6 6 15-13-7zM672 477l14 7 5 14-13-6zM664 486l14 6 13 6 6 15-14-6-13-5zM670 502l13 5 6 15-13-4zM662 512l14 6 5 15-13-4zM654 523l14 6 6 16-14-6zM646 533l14 6 14 6 5 15-13-5-14-5zM638 545l14 5 14 5 5 16-13-5-14-4zM630 558l14 4 14 4 5 16-13-4-14-3zM622 573l14 2 14 3 5 16-13-2-14-3zM614 587l14 2 14 3 5 16-13-2-14-2zM592 600l14 1 14 3 14 2 5 16-14-2-14-2-14-1zM583 616l14 1 14 1 6 17-14-1-14 0zM547 635l14-2 14 0 14 1 14 0 6 17-14-1-14 0-14 0-14 1zM539 653l14-2 14-1 14 0 5 17-14 0-14 1-14 2z"/>
<path fill="#8cff00" d="M670 362l13 13 6 14-13-13zM676 376l13 13 5 13-13-12zM673 395l13 9 6 14-13-8zM679 410l13 8 5 14-13-7zM671 418l13 7 6 14-13-6zM663 425l14 8 5 15-13-8zM669 440l13 8 6 14-14-7zM661 447l13 8 6 15-13-8zM667 462l13 8 6 14-14-7zM659 470l13 7 6 15-14-6zM651 480l13 6 6 16-13-6zM643 490l14 6 13 6 6 16-14-6-13-6zM649 506l13 6 6 17-14-6zM641 516l13 7 6 16-14-6zM633 528l13 5 6 17-14-5zM625 541l13 4 6 17-14-4zM603 552l13 4 14 2 6 17-14-2-14-3zM594 567l14 3 14 3 6 16-14-2-14-3zM572 581l14 2 14 1 14 3 6 17-14-3-14-1-14-1zM550 599l14 0 14 0 14 1 5 17-14-1-14 0-14 0zM528 620l13-2 14-2 14 0 14 0 6 18-14-1-14 0-14 2-14 2zM533 637l14-2 6 16-14 2z"/>
<path fill="#a6ff00" d="M665 347l13 15 5 13-13-13zM662 365l14 11 5 14-13-10zM668 380l13 10 5 14-13-9zM660 387l13 8 6 15-13-7zM653 395l13 8 13 7 5 15-13-7-13-8zM658 410l13 8 6 15-14-8zM650 417l13 8 6 15-13-8zM656 432l13 8 5 15-13-8zM648 438l13 9 6 15-14-8zM640 447l13 7 14 8 5 15-13-7-14-7zM645 463l14 7 5 16-13-6zM637 473l14 7 6 16-14-6zM629 483l14 7 6 16-14-6zM621 494l14 6 14 6 5 17-13-7-14-5zM613 507l14 4 14 5 5 17-13-5-14-4zM605 521l14 3 14 4 5 17-13-4-14-3zM597 535l14 3 14 3 5 17-14-2-13-4zM575 547l14 2 14 3 5 18-14-3-14-2zM553 564l14 0 13 1 14 2 6 17-14-1-14-2-14 0zM517 586l13-3 14-1 14-1 14 0 6 18-14 0-14 0-14 2-14 2zM522 603l14-2 14-2 5 17-14 2-13 2z"/>
<path fill="#bfff00" d="M652 334l13 13 5 15-13-13zM657 349l13 13 6 14-14-11zM649 356l13 9 6 15-13-8zM655 372l13 8 5 15-13-8zM647 379l13 8 6 16-13-8zM639 386l14 9 5 15-13-9zM645 401l13 9 5 15-13-8zM637 407l13 10 6 15-14-9zM642 423l14 9 5 15-13-9zM634 430l14 8 5 16-13-7zM626 440l14 7 5 16-13-7zM632 456l13 7 6 17-14-7zM624 466l13 7 6 17-14-7zM616 477l13 6 6 17-14-6zM608 490l13 4 6 17-14-4zM586 499l13 4 14 4 6 17-14-3-14-4zM577 514l14 3 14 4 6 17-14-3-14-3zM569 530l14 2 14 3 6 17-14-3-14-2zM533 547l14-1 14 0 14 1 5 18-13-1-14 0-14 0zM511 569l14-3 14-2 14 0 5 17-14 1-14 1-13 3z"/>
<path fill="#d9ff00" d="M644 340l13 9 5 16-13-9zM636 348l13 8 6 16-13-8zM642 364l13 8 5 15-13-8zM634 370l13 9 6 16-14-9zM631 391l14 10 5 16-13-10zM623 398l14 9 5 16-13-9zM629 414l13 9 6 15-14-8zM621 423l13 7 6 17-14-7zM613 433l13 7 6 16-14-6zM605 444l13 6 14 6 5 17-13-7-14-6zM596 455l14 5 14 6 5 17-13-6-14-5zM588 468l14 4 14 5 5 17-13-4-14-4zM580 482l14 4 14 4 5 17-14-4-13-4zM572 496l14 3 5 18-14-3zM550 511l14 1 13 2 6 18-14-2-14-2zM500 534l14-3 14-2 13-1 14 0 14 2 6 17-14-1-14 0-14 1-14 2-13 2zM506 551l13-2 14-2 6 17-14 2-14 3z"/>
<path fill="#f2ff00" d="M639 324l13 10 5 15-13-9zM631 331l13 9 5 16-13-8zM623 339l13 9 6 16-14-9zM628 355l14 9 5 15-13-9zM620 360l14 10 5 16-13-10zM626 376l13 10 6 15-14-10zM618 382l13 9 6 16-14-9zM610 390l13 8 6 16-14-7zM615 407l14 7 5 16-13-7zM607 417l14 6 5 17-13-7zM599 427l14 6 5 17-13-6zM591 439l14 5 5 16-14-5zM583 451l13 4 6 17-14-4zM561 461l13 3 14 4 6 18-14-4-14-3zM552 476l14 3 14 3 6 17-14-3-14-2zM517 493l13 0 14 0 14 1 14 2 5 18-13-2-14-1-14-1-14 1zM495 515l13-2 14-2 14-1 14 1 5 17-14 0-13 1-14 2-14 3z"/>
<path fill="#fff200" d="M625 315l14 9 5 16-13-9zM618 323l13 8 5 17-13-9zM610 329l13 10 5 16-13-10zM615 345l13 10 6 15-14-10zM607 351l13 9 6 16-14-10zM612 366l14 10 5 15-13-9zM604 374l14 8 5 16-13-8zM596 384l14 6 5 17-13-7zM588 395l14 5 13 7 6 16-14-6-13-6zM580 405l14 6 13 6 6 16-14-6-14-5zM572 417l13 5 14 5 6 17-14-5-14-5zM563 430l14 4 14 5 5 16-13-4-14-4zM555 444l14 3 14 4 5 17-14-4-13-3zM533 458l14 1 14 2 5 18-14-3-13-1zM484 478l13-2 14-1 14 0 14 0 13 1 6 18-14-1-14 0-13 0-14 1-14 3zM489 497l14-3 14-1 5 18-14 2-13 2z"/>
<path fill="#ffd900" d="M612 307l13 8 6 16-13-8zM604 314l14 9 5 16-13-10zM602 335l13 10 5 15-13-9zM594 343l13 8 5 15-13-7zM585 353l14 6 13 7 6 16-14-8-13-5zM591 369l13 5 6 16-14-6zM583 379l13 5 6 16-14-5zM574 389l14 6 6 16-14-6zM566 401l14 4 5 17-13-5zM544 412l14 2 14 3 5 17-14-4-13-2zM536 426l14 2 13 2 6 17-14-3-14-1zM514 441l14 0 13 2 14 1 6 17-14-2-14-1-14 0zM478 461l14-2 14-1 13 0 14 0 6 17-14 0-14 0-14 1-13 2z"/>
<path fill="#ffbf00" d="M599 299l13 8 6 16-14-9zM591 306l13 8 6 15-14-8zM583 313l13 8 14 8 5 16-13-10-14-7zM588 328l14 7 5 16-13-8zM580 337l14 6 5 16-14-6zM572 347l13 6 6 16-14-6zM564 358l13 5 14 6 5 15-13-5-14-6zM555 369l14 4 14 6 5 16-14-6-13-4zM547 382l14 3 13 4 6 16-14-4-13-3zM525 395l14 1 14 2 13 3 6 16-14-3-14-2-13-1zM517 409l14 2 13 1 6 16-14-2-14-1zM481 425l14 0 14 0 13 0 14 1 5 17-13-2-14 0-14 0-14 1zM473 443l13-1 14-1 14 0 5 17-13 0-14 1-14 2z"/>
<path fill="#ffa600" d="M586 291l13 8 5 15-13-8zM578 299l13 7 5 15-13-8zM570 307l13 6 5 15-13-6zM561 317l14 5 13 6 6 15-14-6-13-5zM553 327l14 5 13 5 5 16-13-6-14-5zM558 342l14 5 5 16-13-5zM537 351l13 3 14 4 5 15-14-4-13-2zM528 366l14 1 13 2 6 16-14-3-13-1zM507 379l13 1 14 1 13 1 6 16-14-2-14-1-13-1zM484 393l14 0 14 1 13 1 6 16-14-2-14 0-13 0zM462 411l14-2 14 0 13 0 14 0 5 16-13 0-14 0-14 0-14 2zM467 427l14-2 5 17-13 1z"/>
<path fill="#ff8c00" d="M559 278l13 6 14 7 5 15-13-7-14-6zM564 293l14 6 5 14-13-6zM556 302l14 5 5 15-14-5zM548 313l13 4 6 15-14-5zM540 324l13 3 5 15-13-4zM518 336l13 0 14 2 13 4 6 16-14-4-13-3-14 0zM496 349l14 1 13 1 14 0 5 16-14-1-13-1-14-1zM474 363l14 0 13 1 14 1 13 1 6 15-14-1-13-1-14-1-14 0zM452 381l14-2 13-1 14 0 14 1 5 15-14-1-14 0-13 1-14 2zM457 396l14-2 13-1 6 16-14 0-14 2z"/>
<path fill="#ff7300" d="M546 273l13 5 5 15-13-5zM538 284l13 4 13 5 6 14-14-5-13-4zM529 295l14 3 13 4 5 15-13-4-14-4zM508 306l13 1 13 2 14 4 5 14-13-3-14-2-13-1zM499 320l14 1 13 1 14 2 5 14-14-2-13 0-13-1zM477 333l14 1 14 1 13 1 5 15-13-1-14-1-13-1zM442 350l13-1 14-1 14 0 13 1 5 15-13-1-14 0-13 1-14 1zM447 365l14-1 13-1 5 15-13 1-14 2z"/>
<path fill="#ff5900" d="M519 268l13 3 14 2 5 15-13-4-14-2zM511 279l13 3 14 2 5 14-14-3-13-2zM489 290l14 1 13 2 13 2 5 14-13-2-13-1-14-1zM467 303l14 1 13 1 14 1 5 15-14-1-13-1-14-1zM445 318l14 0 13 0 14 1 13 1 6 15-14-1-14-1-13 0-14 0zM437 335l13-2 14 0 13 0 6 15-14 0-14 1-13 1z"/>
<path fill="#ff4000" d="M479 260l13 2 14 4 13 2 5 14-13-3-14-2-13-2zM471 274l13 1 13 2 14 2 5 14-13-2-14-1-13-1zM449 287l13 1 14 1 13 1 5 15-13-1-14-1-13-1zM427 303l13 0 14-1 13 1 5 15-13 0-14 0-13 1zM432 319l13-1 5 15-13 2z"/>
<path fill="#ff2600" d="M439 257l13 1 14 1 13 1 5 15-13-1-14-1-13-1zM417 271l13 1 14 0 13 1 14 1 5 15-14-1-13-1-14 0-13 0zM422 287l13 0 14 0 5 15-14 1-13 0z"/>
<path fill="#ff0d00" d="M412 255l13 1 14 1 5 15-14 0-13-1z"/>
</g>
<path d="M415.6 284.5L423.5 292.6L429.5 301.1L435.4 309.9L438.5 314.3L443.8 323.1L446.6 328L451.8 337.3L456.9 346.9L461.5 356.7L465.8 366.8L469.3 374.5L473.1 382L478.1 392.4L482.7 403L487.1 413.9L489.4 419.4L494 430.5L498.3 441.9L500.4 447.8L504.9 459.5L507.1 465.4M408.8 273L414.8 281.4L420 290.1L425.1 299L430.2 308.1L434.9 317.2L437.4 322L441.9 331.6L446 341.4L450.1 351.5L452.2 356.5L456.5 366.7L460.7 377.2L464.7 387.6L467.1 393.2L471.8 404L476.5 415L480.8 425.8L483.3 432L487.6 443.6L491.8 455.4M403.3 261L408.3 269.6L412.9 278.4L416.2 285L419.6 292L423.7 301.3L427.6 310.8L431 319.6L433.5 325.4L437.7 335.3L441.8 345.3L444.6 352.7L447.7 360.8L451.7 371.4L455.9 382.1L457.9 387.6L461.8 398.6L465.3 410L466.5 415.9L468.7 427.9L469.4 434.1L471.3 445.5L471.5 446.5M397.7 248.8L402 257.5L405.6 265.6L407.9 271L411.6 280.2L415.3 289.6L417.5 295.4L420.9 303.9L424.8 313.7L428.5 323.6L430.4 328.7L434.1 338.9L437.8 349.3L439.8 354.5L443.2 365.3L446 376.4L446.6 382.2L446.7 390L446.7 400.4L447 406.5L447.8 417.2L448.3 425.1L448.3 431.5L447.9 438M391.2 236.7L394.9 245.5L396.8 249.9L400.4 259L404.1 268.1L407.7 277.3L409.5 282.2L413.2 291.8L416.6 301.6L418.3 306.6L421.5 316.7L424.8 327L426.4 332.2L429.4 342.9L430.7 349.3L431.3 359.8L431.2 365.7L430.9 374.3L430.8 383.8L430.8 389.9L430.6 399.6L430.2 408.7L429.8 415.1L429 423.4L428.4 428.3M383.6 224.6L385.4 228.9L388.9 237.8L392.5 246.8L396.1 256L397.8 260.6L401.2 270.1L404.6 279.7L406.2 284.6L409.2 294.5L412.2 304.7L413.4 309.9L415.4 320.5L415.7 326.1L415.6 334.6L414.8 343.4L414.1 349.4L413.4 355.9L412 366.4L410.4 374L409.1 380.4L408.2 386.8L409 399.1L409.3 405.4L410.2 417.2L410.2 418M373.8 212.7L377.1 221.5L379.2 226.9L381.9 235.1L385.1 244.3L388.2 252.3L390.2 258.3L393.1 268L395.1 274.9L396.2 283.1L397.1 290L396.8 299.2L396.2 304.8L395.2 311.1L392.9 319.7L389.3 326.3L384.6 331.1L382 339.6L381 348.1L380.7 354.1L379.3 361.8L376.7 370.8L375 379.7L374.3 386.1L373.4 393.3L370.6 402.7L367.3 411.4L366.8 413.3M359.8 201.6L361.6 207.3L364.1 214.9L366.8 224L368.1 229.1L370 238.2L371 245.2L371.2 253.1L371 258.3L370 267.4L368.9 274.5L367.3 280.2L364.7 286.2L362.1 292.2L358.9 298.5L355.7 306L353.2 314.9L350.3 322.8L346.5 329.4L342.5 336.1L338.6 342.8L334.4 349.7L329.8 356.3L324.8 361.7L319.2 366L307.8 373.9L301.6 377.7L292.3 383.6L289.6 385.5M347.2 189.9L348.3 194.7L349.9 203.5L350.7 209.9L351 217.8L350.7 222.8L349.3 231L347.3 238.5L346.3 243.8L345.4 249.1L343.2 257.5L340 264.7L336.5 271.6L333.8 278L331.5 284L328.5 290.1L324.2 296.6L318.8 303.3L313.3 310.2L308 315.9L302.7 320.5L297.1 325.2L286 333.1L279.9 336.4L273.4 339M336 177.7L336.6 184.9L336.2 191.7L335.3 196.7L333.4 202.9L331.1 211L329.9 217.3L329 222.5L327.4 229.2L324.5 236.9L321.3 244.1L318.5 250.3L315.3 256.3L310.8 262.5L305.3 268.9L300.7 274.3L295.9 279.6L290.7 284.1L281.4 290.6L273.4 295L260.2 299.2M323.9 165.5L322.4 171.1L319.6 178.2L317.4 185.5L316.5 190.5L315.6 195.5L313.4 204L310.2 211.2L307.2 217L304.1 222.7L300.5 228.6L296 234.7L290.5 241L285.3 246.2L280.1 250.5L272.6 255.3L262.5 260.3L249.2 264M307 153.9L305.1 158.9L303.7 163.9L301.9 170.8L299.1 178.3L295.8 184.4L292.6 189.9L289.4 195.5L285.4 201.2L280.2 207.3L274.4 212.7L269.3 216.9L263.9 220.9L252.2 227.3L246 229.8L239.5 231.8M287.4 142.7L285.3 147.7L282.6 152.9L279.4 158.2L275.9 163.5L271.7 169.1L264.1 175.4L256.7 180.3L251.4 184.3L244.5 189.1L234.4 194.2L228.1 196.3M256.2 133.4L251.6 138.9L244.5 144.7L239.2 148.3L233.8 151.9L222.3 157.9L216.1 160.2" stroke="#333" stroke-opacity="0.6" stroke-width="0.9" fill="none"/>
<g fill="#000"><circle cx="239.4" cy="229.5" r="3.6"/><circle cx="250.9" cy="251.6" r="3.6"/><circle cx="261.6" cy="292.1" r="3.6"/><circle cx="263.9" cy="288.2" r="3.6"/><circle cx="265.8" cy="278.1" r="3.6"/><circle cx="272.4" cy="333.2" r="3.6"/><circle cx="273.6" cy="312" r="3.6"/><circle cx="276.1" cy="308.3" r="3.6"/><circle cx="282" cy="354.8" r="3.6"/><circle cx="285.8" cy="369.7" r="3.6"/><circle cx="287.3" cy="349.9" r="3.6"/><circle cx="291.3" cy="367.8" r="3.6"/><circle cx="293.5" cy="355" r="3.6"/><circle cx="299.2" cy="402.2" r="3.6"/><circle cx="302.1" cy="400.9" r="3.6"/><circle cx="250" cy="197.9" r="3.6"/><circle cx="260.3" cy="235.5" r="3.6"/><circle cx="272.7" cy="264.1" r="3.6"/><circle cx="276.6" cy="282" r="3.6"/><circle cx="280" cy="293" r="3.6"/><circle cx="282.2" cy="285.5" r="3.6"/><circle cx="285.4" cy="291.3" r="3.6"/><circle cx="290" cy="319.5" r="3.6"/><circle cx="291.9" cy="304.5" r="3.6"/><circle cx="295.9" cy="323.9" r="3.6"/><circle cx="300.5" cy="352.4" r="3.6"/><circle cx="305.5" cy="335.1" r="3.6"/><circle cx="310.5" cy="371.9" r="3.6"/><circle cx="313" cy="361" r="3.6"/><circle cx="317.5" cy="387.5" r="3.6"/><circle cx="321.4" cy="403.4" r="3.6"/><circle cx="265.1" cy="195.6" r="3.6"/><circle cx="268.7" cy="211.6" r="3.6"/><circle cx="274.8" cy="224" r="3.6"/><circle cx="277.1" cy="219.3" r="3.6"/><circle cx="288.6" cy="273.4" r="3.6"/><circle cx="291.5" cy="274.8" r="3.6"/><circle cx="294.6" cy="280" r="3.6"/><circle cx="297.6" cy="282.8" r="3.6"/><circle cx="301.9" cy="308.5" r="3.6"/><circle cx="304.2" cy="297.2" r="3.6"/><circle cx="308.5" cy="321.8" r="3.6"/><circle cx="311" cy="313.9" r="3.6"/><circle cx="315" cy="333.2" r="3.6"/><circle cx="319.3" cy="358.7" r="3.6"/><circle cx="322.3" cy="356.5" r="3.6"/><circle cx="324.3" cy="332.8" r="3.6"/><circle cx="329.4" cy="373.7" r="3.6"/><circle cx="332.9" cy="381.4" r="3.6"/><circle cx="336" cy="377.2" r="3.6"/><circle cx="339.7" cy="388.2" r="3.6"/><circle cx="296.1" cy="238.7" r="3.6"/><circle cx="306" cy="264.8" r="3.6"/><circle cx="309.3" cy="273.3" r="3.6"/><circle cx="312.5" cy="278.7" r="3.6"/><circle cx="316.7" cy="302.1" r="3.6"/><circle cx="319.8" cy="304.3" r="3.6"/><circle cx="322.3" cy="293" r="3.6"/><circle cx="327" cy="330.3" r="3.6"/><circle cx="330.1" cy="328.8" r="3.6"/><circle cx="333.5" cy="336.3" r="3.6"/><circle cx="337.1" cy="345.6" r="3.6"/><circle cx="341" cy="363.7" r="3.6"/><circle cx="344" cy="356.9" r="3.6"/><circle cx="348" cy="375.9" r="3.6"/><circle cx="351.7" cy="385.3" r="3.6"/><circle cx="355" cy="383.9" r="3.6"/><circle cx="358.8" cy="393.7" r="3.6"/><circle cx="324" cy="269.5" r="3.6"/><circle cx="327.5" cy="281.9" r="3.6"/><circle cx="331" cy="291.5" r="3.6"/><circle cx="334.5" cy="303.6" r="3.6"/><circle cx="341.5" cy="320.5" r="3.6"/><circle cx="345.1" cy="332.9" r="3.6"/><circle cx="348.5" cy="338.1" r="3.6"/><circle cx="351.8" cy="337.6" r="3.6"/><circle cx="355.5" cy="351.3" r="3.6"/><circle cx="359.3" cy="365" r="3.6"/><circle cx="362.6" cy="363" r="3.6"/><circle cx="366.5" cy="380" r="3.6"/><circle cx="370.2" cy="388" r="3.6"/><circle cx="373.5" cy="379.7" r="3.6"/><circle cx="377.5" cy="394.7" r="3.6"/><circle cx="345.2" cy="284.1" r="3.6"/><circle cx="349" cy="301.9" r="3.6"/><circle cx="352.2" cy="302.3" r="3.6"/><circle cx="362.9" cy="331.4" r="3.6"/><circle cx="366.2" cy="330" r="3.6"/><circle cx="373.6" cy="352.7" r="3.6"/><circle cx="377.4" cy="365.7" r="3.6"/><circle cx="380.9" cy="367.6" r="3.6"/><circle cx="384.6" cy="374.8" r="3.6"/><circle cx="388.7" cy="396.6" r="3.6"/><circle cx="392.2" cy="389.5" r="3.6"/><circle cx="338.8" cy="229" r="3.6"/><circle cx="349.2" cy="262.8" r="3.6"/><circle cx="352.7" cy="273.1" r="3.6"/><circle cx="359.6" cy="290.3" r="3.6"/><circle cx="370.1" cy="316.5" r="3.6"/><circle cx="373.4" cy="316.5" r="3.6"/><circle cx="377" cy="325.5" r="3.6"/><circle cx="380.5" cy="329.1" r="3.6"/><circle cx="384.2" cy="342.4" r="3.6"/><circle cx="388" cy="357.3" r="3.6"/><circle cx="391.6" cy="359.3" r="3.6"/><circle cx="395.4" cy="371.3" r="3.6"/><circle cx="399" cy="373" r="3.6"/><circle cx="402.8" cy="384.8" r="3.6"/><circle cx="406.7" cy="397.3" r="3.6"/><circle cx="410.6" cy="410.1" r="3.6"/><circle cx="414.4" cy="417.3" r="3.6"/><circle cx="380.2" cy="298.3" r="3.6"/><circle cx="383.7" cy="302.9" r="3.6"/><circle cx="387.1" cy="304.8" r="3.6"/><circle cx="390.9" cy="321.1" r="3.6"/><circle cx="394.6" cy="335.7" r="3.6"/><circle cx="398.2" cy="343.1" r="3.6"/><circle cx="401.8" cy="345.1" r="3.6"/><circle cx="413" cy="359.5" r="3.6"/><circle cx="420.7" cy="386" r="3.6"/><circle cx="424.6" cy="403.5" r="3.6"/><circle cx="428.5" cy="406.9" r="3.6"/><circle cx="432.4" cy="424.3" r="3.6"/><circle cx="397.2" cy="297.8" r="3.6"/><circle cx="408.2" cy="332.5" r="3.6"/><circle cx="415.5" cy="343.6" r="3.6"/><circle cx="419.2" cy="353.7" r="3.6"/><circle cx="423" cy="362.4" r="3.6"/><circle cx="426.8" cy="374" r="3.6"/><circle cx="430.6" cy="387.3" r="3.6"/><circle cx="434.5" cy="386.9" r="3.6"/><circle cx="442.2" cy="416.9" r="3.6"/><circle cx="446.1" cy="423.2" r="3.6"/><circle cx="393.1" cy="263.2" r="3.6"/><circle cx="447.8" cy="395.3" r="3.6"/><circle cx="451.7" cy="398.2" r="3.6"/><circle cx="459.6" cy="413.2" r="3.6"/><circle cx="463.6" cy="424.6" r="3.6"/><circle cx="467.6" cy="432.9" r="3.6"/><circle cx="423.7" cy="315.6" r="3.6"/><circle cx="427.3" cy="325" r="3.6"/><circle cx="438.2" cy="348.4" r="3.6"/><circle cx="449.4" cy="370.2" r="3.6"/><circle cx="476.6" cy="427.7" r="3.6"/><circle cx="484.7" cy="441" r="3.6"/><circle cx="422.3" cy="302.9" r="3.6"/><circle cx="440" cy="317.1" r="3.6"/><circle cx="447.1" cy="347.7" r="3.6"/><circle cx="454.4" cy="364.4" r="3.6"/><circle cx="465.8" cy="381.5" r="3.6"/><circle cx="469.6" cy="393.5" r="3.6"/><circle cx="473.5" cy="395.1" r="3.6"/><circle cx="485.1" cy="427.2" r="3.6"/><circle cx="497.6" cy="437.7" r="3.6"/><circle cx="501.4" cy="456" r="3.6"/><circle cx="407.9" cy="270.4" r="3.6"/><circle cx="411" cy="258.3" r="3.6"/><circle cx="434.5" cy="304.8" r="3.6"/><circle cx="438" cy="315.2" r="3.6"/><circle cx="441.4" cy="322.2" r="3.6"/><circle cx="445" cy="322" r="3.6"/><circle cx="455.9" cy="334.9" r="3.6"/><circle cx="459.4" cy="350.5" r="3.6"/><circle cx="463.2" cy="353.5" r="3.6"/><circle cx="470.6" cy="366.7" r="3.6"/><circle cx="474.3" cy="378.8" r="3.6"/><circle cx="481.9" cy="396.7" r="3.6"/><circle cx="489.6" cy="412.1" r="3.6"/><circle cx="493.4" cy="423.3" r="3.6"/><circle cx="497.5" cy="427.5" r="3.6"/><circle cx="501.7" cy="428.6" r="3.6"/><circle cx="509.6" cy="450.1" r="3.6"/><circle cx="514.7" cy="433.9" r="3.6"/><circle cx="422.9" cy="277" r="3.6"/><circle cx="426.2" cy="283.2" r="3.6"/><circle cx="449.8" cy="327.8" r="3.6"/><circle cx="453.4" cy="326.2" r="3.6"/><circle cx="464.1" cy="343.6" r="3.6"/><circle cx="467.8" cy="346.4" r="3.6"/><circle cx="490.2" cy="387.5" r="3.6"/><circle cx="493.9" cy="398.8" r="3.6"/><circle cx="498.3" cy="388.6" r="3.6"/><circle cx="517.9" cy="435" r="3.6"/><circle cx="526.1" cy="450.8" r="3.6"/><circle cx="530" cy="462.9" r="3.6"/><circle cx="534.4" cy="466.7" r="3.6"/></g>
<path d="M157.8 136.7L185.7 386.2L265.5 585.8L571.1 508.3" stroke="#000" stroke-width="2.9" fill="none" stroke-linejoin="miter"/>
<text transform="translate(143.1 139.5) rotate(-10.8)" font-size="24.5" text-anchor="end" dy="0.26em">1</text>
<text transform="translate(155.6 250.7) rotate(-11.6)" font-size="24.5" text-anchor="end" dy="0.26em">0.1</text>
<text transform="translate(166.9 352) rotate(-12.4)" font-size="24.5" text-anchor="end" dy="0.26em">0.01</text>
<text transform="translate(171.6 389.4) rotate(-12.7)" font-size="24.5" text-anchor="end" dy="0.36em">10</text>
<text transform="translate(183.1 418) rotate(-12.9)" font-size="24.5" text-anchor="end" dy="0.36em">20</text>
<text transform="translate(195 448) rotate(-13.1)" font-size="24.5" text-anchor="end" dy="0.36em">30</text>
<text transform="translate(207.6 479.3) rotate(-13.4)" font-size="24.5" text-anchor="end" dy="0.36em">40</text>
<text transform="translate(220.7 512.2) rotate(-13.6)" font-size="24.5" text-anchor="end" dy="0.36em">50</text>
<text transform="translate(234.5 546.7) rotate(-13.9)" font-size="24.5" text-anchor="end" dy="0.36em">60</text>
<text transform="translate(249 582.9) rotate(-14.2)" font-size="24.5" text-anchor="end" dy="0.36em">70</text>
<text transform="translate(272.2 602.5) rotate(68.2)" font-size="24.5" dy="0.36em">−0.5</text>
<text transform="translate(321.7 589.8) rotate(66.4)" font-size="24.5" dy="0.36em">0.0</text>
<text transform="translate(370.6 577.3) rotate(64.6)" font-size="24.5" dy="0.36em">0.5</text>
<text transform="translate(418.9 565) rotate(62.9)" font-size="24.5" dy="0.36em">1.0</text>
<text transform="translate(466.5 552.8) rotate(61.3)" font-size="24.5" dy="0.36em">1.5</text>
<text transform="translate(513.4 540.7) rotate(59.6)" font-size="24.5" dy="0.36em">2.0</text>
<text transform="translate(559.8 528.8) rotate(58.1)" font-size="24.5" dy="0.36em">2.5</text>
<path d="M157.8 136.7L148 138.6M170.2 247.7L160.5 249.7M181.5 348.8L171.8 350.9M184.8 377.5L179.1 378.8M183.9 370L178.3 371.3M183.2 363.7L177.6 364.9M182.6 358.1L177 359.4M182 353.2L176.4 354.4M178.2 319.3L172.6 320.5M176.3 301.7L170.6 302.9M174.8 289L169.2 290.2M173.7 279.1L168.1 280.3M172.8 270.9L167.2 272.1M172 263.9L166.4 265.1M171.4 257.9L165.7 259M170.8 252.5L165.1 253.6M166.6 215.3L161 216.5M164.4 196L158.8 197.1M162.9 182.1L157.2 183.2M161.7 171.2L156 172.3M160.7 162.2L155 163.3M159.8 154.6L154.2 155.7M159.1 147.9L153.4 149M158.4 142L152.7 143.1M185.7 386.2L176 388.4M197.2 414.8L187.5 417M209.1 444.7L199.4 447M221.6 476L212 478.3M234.8 508.8L225.1 511.1M248.5 543.2L238.9 545.6M263 579.4L253.3 581.8M191.4 400.3L185.8 401.6M203.1 429.6L197.5 430.9M215.3 460.2L209.7 461.5M228.1 492.2L222.5 493.5M241.6 525.8L236 527.2M255.7 561.1L250.1 562.5M265.5 585.8L269.2 595M314.6 573.4L318.5 582.5M362.9 561.1L367.2 570.1M410.7 549L415.2 557.8M457.8 537L462.6 545.7M504.4 525.2L509.4 533.8M550.3 513.5L555.6 522M290.1 579.6L292.3 584.9M338.8 567.2L341.2 572.4M386.9 555L389.4 560.2M434.3 543L437 548.1M481.2 531.1L484 536.1M527.4 519.4L530.4 524.3" stroke="#000" stroke-width="2.3" fill="none"/>
<text transform="translate(86 272) rotate(83)" font-size="25.2" text-anchor="middle">PL intensity (norm.)</text>
<text transform="translate(140 499) rotate(68)" font-size="25.2" text-anchor="middle">Time (ns)</text>
<text transform="translate(452 614) rotate(-14.5)" font-size="25.2" text-anchor="middle">Radius <tspan font-style="italic">r</tspan> (µm)</text>
<linearGradient id="cba" x1="0" y1="1" x2="0" y2="0"><stop offset="0" stop-color="#00f"/><stop offset=".25" stop-color="#0ff"/><stop offset=".5" stop-color="#0f0"/><stop offset=".75" stop-color="#ff0"/><stop offset="1" stop-color="#f00"/></linearGradient><rect x="620.8" y="100.8" width="26.2" height="477.7" fill="url(#cba)" stroke="#444" stroke-width="1"/>
<text x="665" y="110.3" font-size="24.5">1.00</text>
<text x="665" y="162.7" font-size="24.5">0.89</text>
<text x="665" y="215.2" font-size="24.5">0.78</text>
<text x="665" y="267.6" font-size="24.5">0.67</text>
<text x="665" y="320.1" font-size="24.5">0.56</text>
<text x="665" y="372.5" font-size="24.5">0.45</text>
<text x="665" y="425" font-size="24.5">0.34</text>
<text x="665" y="477.4" font-size="24.5">0.23</text>
<text x="665" y="529.9" font-size="24.5">0.12</text>
<text x="665" y="582.3" font-size="24.5">0.01</text>
<path d="M647 101.5h7M647 153.9h7M647 206.4h7M647 258.8h7M647 311.3h7M647 363.7h7M647 416.2h7M647 468.6h7M647 521.1h7M647 573.5h7" stroke="#222" stroke-width="1.3" fill="none"/>
<text transform="translate(752 341.5) rotate(-90)" font-size="24.8" text-anchor="middle">PL intensity (norm.)</text>
<rect x="2.5" y="581" width="207" height="70" fill="#fff" stroke="#555" stroke-width="1"/>
<linearGradient id="lga"><stop offset="0" stop-color="#4a4aff"/><stop offset=".25" stop-color="#4affff"/><stop offset=".5" stop-color="#4aff4a"/><stop offset=".75" stop-color="#ffff4a"/><stop offset="1" stop-color="#ff4a4a"/></linearGradient>
<rect x="6.5" y="585.5" width="59" height="28.5" fill="url(#lga)"/>
<text x="75" y="607.5" font-size="24.5">Experiment</text>
<circle cx="36" cy="632" r="4.2"/>
<text x="75" y="639.5" font-size="24.5">Model</text>
<text x="-1.5" y="31.2" font-size="43" font-weight="bold">a</text>
<path d="M160.3 1126.1L141.9 919.5M205.2 1115.7L192.5 909.7M249.5 1105.6L242.2 900.1M293 1095.6L291.1 890.6M335.9 1085.7L339.1 881.3M103.7 1042.7L337.4 992.9M350.2 1108L355.1 901.2M365 1131.3L372 922.1M380.6 1155.6L389.8 944.1M396.9 1181.1L408.5 967.3M414 1207.8L428.2 991.8M431.9 1235.9L449.1 1017.6M337.4 992.9L439.6 1137.7M160.3 1126.1L232.5 1287.9M205.2 1115.7L283.7 1274.5M249.5 1105.6L334 1261.4M293 1095.6L383.4 1248.6M335.9 1085.7L431.9 1235.9M124.4 1160.9L350.2 1108M134.5 1186.3L365 1131.3M145.2 1213L380.6 1155.6M156.3 1241L396.9 1181.1M168.1 1270.5L414 1207.8M180.4 1301.5L431.9 1235.9" stroke="#cfcfcf" stroke-width="0.9" fill="none"/>
<path d="M90.4 929.5L339.1 881.3M339.1 881.3L449.1 1017.6M449.1 1017.6L431.9 1235.9M339.1 881.3L335.9 1085.7M114.7 1136.5L335.9 1085.7M335.9 1085.7L431.9 1235.9" stroke="#444" stroke-width="0.9" fill="none"/>
<g transform="scale(0.5)" shape-rendering="crispEdges">
<path class="e01" d="M827 2432l26 6 11 30-26-6z"/>
<path class="e02" d="M816 2402l26 6 11 30-26-6zM801 2425l26 7 11 30-26-6z"/>
<path class="e03" d="M805 2372l25 7 12 29-26-6zM790 2395l26 7 11 30-26-7zM774 2419l27 6 11 31-27-7z"/>
<path class="e04" d="M783 2315l25 6 11 29-25-7zM794 2343l25 7 11 29-25-7zM779 2366l26 6 11 30-26-7zM763 2389l27 6 11 30-27-6zM747 2412l27 7 11 30-27-7z"/>
<path class="e05" d="M772 2287l26 6 10 28-25-6zM768 2337l26 6 11 29-26-6zM752 2359l27 7 11 29-27-6zM736 2382l27 7 11 30-27-7zM720 2405l27 7 11 30-27-7z"/>
<path class="e06" d="M761 2259l26 6 11 28-26-6zM746 2280l26 7 11 28-26-7zM757 2308l26 7 11 28-26-6zM741 2330l27 7 11 29-27-7zM725 2353l27 6 11 30-27-7zM709 2375l27 7 11 30-27-7zM692 2398l28 7 11 30-28-6z"/>
<path class="e07" d="M751 2231l25 7 11 27-26-6zM735 2252l26 7 11 28-26-7zM720 2274l26 6 11 28-27-6zM730 2302l27 6 11 29-27-7zM714 2324l27 6 11 29-27-6zM698 2346l27 7 11 29-27-7zM681 2369l28 6 11 30-28-7zM664 2391l28 7 11 31-28-7z"/>
<path class="e08" d="M740 2205l26 5 10 28-25-7zM725 2225l26 6 10 28-26-7zM709 2246l26 6 11 28-26-6zM693 2267l27 7 10 28-26-7zM704 2295l26 7 11 28-27-6zM687 2317l27 7 11 29-27-7zM671 2339l27 7 11 29-28-6zM653 2362l28 7 11 29-28-7z"/>
<path class="e09" d="M730 2178l25 6 11 26-26-5zM714 2199l26 6 11 26-26-6zM699 2219l26 6 10 27-26-6zM683 2239l26 7 11 28-27-7zM666 2260l27 7 11 28-27-7zM677 2288l27 7 10 29-27-7zM660 2310l27 7 11 29-27-7zM643 2332l28 7 10 30-28-7zM625 2355l28 7 11 29-28-7zM636 2384l28 7 11 31-28-8z"/>
<path class="e0a" d="M709 2127l25 5 11 26-26-5zM694 2147l25 6 26 5 10 26-25-6-26-6zM704 2172l26 6 10 27-26-6zM688 2192l26 7 11 26-26-6zM672 2212l27 7 10 27-26-7zM656 2232l27 7 10 28-27-7zM649 2281l28 7 10 29-27-7zM632 2303l28 7 11 29-28-7zM614 2325l29 7 10 30-28-7zM596 2348l29 7 11 29-29-7zM607 2377l29 7 11 30-29-7z"/>
<path class="e0b" d="M699 2103l25 5 10 24-25-5zM683 2122l26 5 10 26-25-6zM668 2141l26 6 10 25-26-6zM678 2166l26 6 10 27-26-7zM662 2186l26 6 11 27-27-7zM645 2206l27 6 11 27-27-7zM628 2225l28 7 10 28-27-7zM639 2253l27 7 11 28-28-7zM622 2274l27 7 11 29-28-7zM604 2296l28 7 11 29-29-7zM586 2318l28 7 11 30-29-7zM578 2370l29 7 11 30-29-7z"/>
<path class="e0c" d="M689 2079l25 4 10 25-25-5zM673 2098l26 5 10 24-26-5zM658 2117l25 5 11 25-26-6zM641 2135l27 6 10 25-26-6zM652 2160l26 6 10 26-26-6zM635 2179l27 7 10 26-27-6zM618 2198l27 8 11 26-28-7zM601 2218l27 7 11 28-28-7zM611 2246l28 7 10 28-27-7zM593 2267l29 7 10 29-28-7zM575 2289l29 7 10 29-28-7zM557 2311l29 7 10 30-29-8zM567 2340l29 8 11 29-29-7zM548 2363l30 7 11 30-30-8z"/>
<path class="e0d" d="M669 2032l25 3 10 24-25-4zM654 2051l25 4 25 4 10 24-25-4-26-5zM638 2070l25 4 26 5 10 24-26-5-25-5zM648 2093l25 5 10 24-25-5zM631 2111l27 6 10 24-27-6zM615 2129l26 6 11 25-27-6zM625 2154l27 6 10 26-27-7zM608 2172l27 7 10 27-27-8zM591 2191l27 7 10 27-27-7zM573 2211l28 7 10 28-28-8zM583 2238l28 8 11 28-29-7zM565 2260l28 7 11 29-29-7zM546 2281l29 8 11 29-29-7zM527 2304l30 7 10 29-29-7zM538 2333l29 7 11 30-30-7zM518 2355l30 8 11 29-30-7z"/>
<path class="e0e" d="M659 2009l25 3 10 23-25-3zM644 2029l25 3 10 23-25-4zM628 2047l26 4 9 23-25-4zM612 2065l26 5 10 23-26-5zM622 2088l26 5 10 24-27-6zM605 2105l26 6 10 24-26-6zM588 2122l27 7 10 25-27-7zM598 2147l27 7 10 25-27-7zM581 2165l27 7 10 26-27-7zM563 2184l28 7 10 27-28-7zM555 2231l28 7 10 29-28-7zM536 2252l29 8 10 29-29-8zM517 2274l29 7 11 30-30-7zM497 2296l30 8 11 29-30-7zM508 2326l30 7 10 30-30-8zM488 2348l30 7 11 30-31-8z"/>
<path class="e0f" d="M625 1985l25 2 25 2 9 23-25-3-25-2zM609 2004l25 3 25 2 10 23-25-3-26-4zM593 2021l25 4 26 4 10 22-26-4-26-4zM602 2043l26 4 10 23-26-5zM585 2059l27 6 10 23-27-6zM595 2082l27 6 9 23-26-6zM578 2098l27 7 10 24-27-7zM561 2115l27 7 10 25-27-8zM571 2139l27 8 10 25-27-7zM553 2157l28 8 10 26-28-7zM535 2176l28 8 10 27-28-8zM545 2203l28 8 10 27-28-7zM526 2223l29 8 10 29-29-8zM507 2244l29 8 10 29-29-7zM487 2266l30 8 10 30-30-8zM477 2319l31 7 10 29-30-7zM457 2341l31 7 10 29-31-8z"/>
<path class="e010" d="M599 1982l26 3 9 22-25-3zM583 2000l26 4 9 21-25-4zM566 2017l27 4 9 22-26-5zM576 2038l26 5 10 22-27-6zM559 2053l26 6 10 23-27-7zM541 2068l27 7 27 7 10 23-27-7-27-7zM551 2091l27 7 10 24-27-7zM533 2107l28 8 10 24-28-7zM543 2132l28 7 10 26-28-8zM525 2149l28 8 10 27-28-8zM506 2167l29 9 10 27-29-8zM516 2195l29 8 10 28-29-8zM497 2215l29 8 10 29-29-8zM477 2237l30 7 10 30-30-8zM457 2259l30 7 10 30-30-7zM467 2289l30 7 11 30-31-7zM447 2311l30 8 11 29-31-7zM425 2333l32 8 10 28-32-8z"/>
<path class="e011" d="M548 1975l26 4 25 3 10 22-26-4-26-4zM557 1996l26 4 10 21-27-4zM540 2011l26 6 10 21-27-6zM523 2026l26 6 27 6 9 21-26-6-27-7zM532 2046l27 7 9 22-27-7zM514 2061l27 7 10 23-27-8zM524 2083l27 8 10 24-28-8zM505 2099l28 8 10 25-28-8zM515 2124l28 8 10 25-28-8zM496 2141l29 8 10 27-29-9zM477 2159l29 8 10 28-29-9zM487 2186l29 9 10 28-29-8zM467 2207l30 8 10 29-30-7zM447 2228l30 9 10 29-30-7zM426 2251l31 8 10 30-31-8zM436 2281l31 8 10 30-30-8zM415 2303l32 8 10 30-32-8zM393 2325l32 8 10 28-32-8z"/>
<path class="e012" d="M522 1971l26 4 9 21-26-5zM504 1986l27 5 26 5 9 21-26-6-26-6zM514 2005l26 6 9 21-26-6zM496 2019l27 7 9 20-27-7zM505 2039l27 7 9 22-27-7zM496 2075l28 8 9 24-28-8zM477 2091l28 8 10 25-29-9zM486 2115l29 9 10 25-29-8zM467 2133l29 8 10 26-29-8zM457 2178l30 8 10 29-30-8zM437 2198l30 9 10 30-30-9zM416 2220l31 8 10 31-31-8zM405 2273l31 8 11 30-32-8zM384 2295l31 8 10 30-32-8zM361 2318l32 7 10 28-32-8z"/>
<path class="e013" d="M495 1966l27 5 9 20-27-5zM478 1979l26 7 10 19-27-6zM487 1999l27 6 9 21-27-7zM468 2011l28 8 9 20-28-8zM477 2031l28 8 9 22-28-8zM486 2053l28 8 10 22-28-8zM468 2067l28 8 9 24-28-8zM448 2082l29 9 9 24-28-8zM458 2107l28 8 10 26-29-8zM438 2123l29 10 10 26-30-9zM447 2150l30 9 10 27-30-8zM427 2169l30 9 10 29-30-9zM407 2188l30 10 10 30-31-8zM385 2210l31 10 10 31-31-10zM395 2241l31 10 10 30-31-8zM374 2263l31 10 10 30-31-8zM351 2287l33 8 9 30-32-7z"/>
<path class="e014" d="M469 1960l26 6 9 20-26-7zM451 1973l27 6 9 20-28-7zM459 1992l28 7 9 20-28-8zM440 2003l28 8 9 20-28-8zM449 2023l28 8 9 22-28-9zM458 2044l28 9 10 22-28-8zM439 2058l29 9 9 24-29-9zM428 2097l30 10 9 26-29-10zM408 2113l30 10 9 27-29-9zM418 2141l29 9 10 28-30-9zM397 2158l30 11 10 29-30-10zM375 2177l32 11 9 32-31-10zM364 2231l31 10 10 32-31-10zM341 2252l33 11 10 32-33-8zM318 2277l33 10 10 31-33-8zM328 2310l33 8 10 27-33-8z"/>
<path class="e015" d="M415 1947l27 7 27 6 9 19-27-6-28-7zM423 1966l28 7 8 19-27-8zM432 1984l27 8 9 19-28-8zM412 1995l28 8 9 20-28-8zM421 2015l28 8 9 21-28-8zM430 2036l28 8 10 23-29-9zM410 2049l29 9 9 24-29-10zM419 2072l29 10 10 25-30-10zM399 2087l29 10 10 26-30-10zM387 2129l31 12 9 28-30-11zM366 2146l31 12 10 30-32-11zM354 2198l31 12 10 31-31-10zM331 2217l33 14 10 32-33-11zM308 2239l33 13 10 35-33-10z"/>
<path class="e016" d="M387 1940l28 7 8 19-28-8zM395 1958l28 8 9 18-28-8zM404 1976l28 8 8 19-28-8zM392 2006l29 9 9 21-29-9zM401 2027l29 9 9 22-29-9zM381 2038l29 11 9 23-29-10zM390 2062l29 10 9 25-29-10zM368 2075l31 12 9 26-30-12zM378 2101l30 12 10 28-31-12zM356 2115l31 14 10 29-31-12zM344 2164l31 13 10 33-31-12zM321 2182l33 16 10 33-33-14zM298 2202l33 15 10 35-33-13z"/>
<path class="e017" d="M359 1932l28 8 8 18-28-8zM367 1950l28 8 9 18-29-8zM375 1968l29 8 8 19-28-9zM384 1986l28 9 9 20-29-9zM363 1996l29 10 9 21-29-11zM372 2016l29 11 9 22-29-11zM359 2050l31 12 9 25-31-12zM347 2087l31 14 9 28-31-14zM334 2132l32 14 9 31-31-13zM311 2149l33 15 10 34-33-16z"/>
<path class="e018" d="M331 1923l28 9 8 18-29-9zM338 1941l29 9 8 18-28-10zM347 1958l28 10 9 18-29-9zM355 1977l29 9 8 20-29-10zM334 1985l29 11 9 20-30-11zM342 2005l30 11 9 22-30-11zM351 2027l30 11 9 24-31-12zM329 2037l30 13 9 25-30-14zM338 2061l30 14 10 26-31-14zM315 2073l32 14 9 28-31-14zM325 2101l31 14 10 31-32-14zM302 2118l32 14 10 32-33-15zM288 2166l33 16 10 35-33-15z"/>
<path class="e019" d="M302 1912l29 11 7 18-29-11zM309 1930l29 11 9 17-30-11zM317 1947l30 11 8 19-30-11zM325 1966l30 11 8 19-29-11zM312 1992l30 13 9 22-31-13zM320 2014l31 13 8 23-30-13zM306 2047l32 14 9 26-32-14zM292 2087l33 14 9 31-32-14zM278 2134l33 15 10 33-33-16z"/>
<path class="e01a" d="M287 1935l30 12 8 19-30-13zM295 1953l30 13 9 19-31-13zM303 1972l31 13 8 20-30-13zM289 2000l31 14 9 23-31-14zM298 2023l31 14 9 24-32-14zM283 2058l32 15 10 28-33-14zM269 2103l33 15 9 31-33-15z"/>
<path class="e01b" d="M272 1900l30 12 7 18-29-12zM280 1918l29 12 8 17-30-12zM265 1939l30 14 8 19-30-14zM273 1958l30 14 9 20-31-14zM281 1978l31 14 8 22-31-14zM266 2007l32 16 8 24-32-16zM274 2031l32 16 9 26-32-15zM251 2044l32 14 9 29-32-14zM260 2073l32 14 10 31-33-15z"/>
<path class="e01c" d="M243 1890l29 10 8 18-30-12zM250 1906l30 12 7 17-30-13zM257 1922l30 13 8 18-30-14zM249 1963l32 15 8 22-32-15zM257 1985l32 15 9 23-32-16zM242 2017l32 14 9 27-32-14z"/>
<path class="e01d" d="M212 1877l31 13 7 16-31-14zM219 1892l31 14 7 16-31-14zM226 1908l31 14 8 17-31-14zM234 1925l31 14 8 19-32-14zM241 1944l32 14 8 20-32-15zM226 1972l31 13 9 22-32-13zM234 1994l32 13 8 24-32-14z"/>
<path class="e01e" d="M195 1894l31 14 8 17-32-13zM202 1912l32 13 7 19-31-12zM210 1932l31 12 8 19-31-12zM218 1951l31 12 8 22-31-13z"/>
<path class="e01f" d="M181 1859l31 18 7 15-31-16zM188 1876l31 16 7 16-31-14z"/>
<path class="e17" d="M832 2357l27 2 12 26-27-2z"/>
<path class="e18" d="M808 2306l27 3 12 25-27-3zM820 2331l27 3 12 25-27-2zM805 2354l27 3 12 26-27-3z"/>
<path class="e19" d="M786 2257l26 3 11 24-26-3zM797 2281l26 3 12 25-27-3zM782 2303l26 3 12 25-27-3zM766 2325l27 3 27 3 12 26-27-3-28-3zM750 2349l27 2 28 3 12 26-28-2-28-2z"/>
<path class="e1a" d="M763 2210l26 3 12 24-27-4zM774 2233l27 4 11 23-26-3zM759 2253l27 4 11 24-27-3zM743 2274l27 4 27 3 11 25-26-3-27-3zM755 2300l27 3 11 25-27-3zM738 2322l28 3 11 26-27-2zM722 2346l28 3 11 27-28-3z"/>
<path class="e1b" d="M742 2164l25 4 11 22-26-3zM752 2187l26 3 11 23-26-3zM737 2206l26 4 11 23-26-4zM721 2226l27 3 26 4 12 24-27-4-27-3zM732 2250l27 3 11 25-27-4zM716 2271l27 3 12 26-28-3zM699 2293l28 4 28 3 11 25-28-3-27-2zM682 2317l29 3 27 2 12 27-28-3-28-3zM694 2343l28 3 11 27-28-2z"/>
<path class="e1c" d="M720 2121l26 4 11 21-26-4zM731 2142l26 4 10 22-25-4zM715 2160l27 4 10 23-26-4zM700 2179l26 4 26 4 11 23-26-4-27-4zM710 2202l27 4 11 23-27-3zM694 2222l27 4 11 24-27-4zM677 2242l28 4 27 4 11 24-27-3-28-3zM688 2268l28 3 11 26-28-4zM671 2290l28 3 12 27-29-3zM654 2314l28 3 12 26-29-2zM636 2338l29 3 29 2 11 28-29-3-29-3z"/>
<path class="e1d" d="M689 2061l26 3 10 20-26-4zM699 2080l26 4 10 20-25-4zM684 2097l26 3 25 4 11 21-26-4-26-4zM694 2117l26 4 11 21-26-4zM678 2134l27 4 26 4 11 22-27-4-26-4zM689 2156l26 4 11 23-26-4zM673 2175l27 4 10 23-27-4zM683 2198l27 4 11 24-27-4zM667 2218l27 4 11 24-28-4zM650 2239l27 3 11 26-28-4zM632 2261l28 3 28 4 11 25-28-3-28-3zM643 2287l28 3 11 27-28-3zM625 2311l29 3 11 27-29-3zM607 2335l29 3 11 27-29-2z"/>
<path class="e1e" d="M659 2005l26 2 9 19-25-3zM669 2023l25 3 10 19-25-3zM679 2042l25 3 11 19-26-3zM664 2057l25 4 10 19-25-3zM674 2077l25 3 11 20-26-3zM658 2093l26 4 10 20-26-4zM668 2113l26 4 11 21-27-4zM652 2130l26 4 11 22-27-4zM662 2152l27 4 11 23-27-4zM646 2170l27 5 10 23-27-4zM628 2189l28 5 27 4 11 24-27-4-28-4zM639 2214l28 4 10 24-27-3zM622 2235l28 4 10 25-28-3zM604 2257l28 4 11 26-29-3zM585 2281l29 3 29 3 11 27-29-3-29-3zM567 2305l29 3 29 3 11 27-29-3-30-3zM577 2332l30 3 11 28-30-3z"/>
<path class="e1f" d="M625 1985l25 2 25 2 10 18-26-2-25-3zM634 2002l25 3 10 18-25-3zM618 2017l26 3 25 3 10 19-25-3-26-4zM628 2035l26 4 25 3 10 19-25-4-26-3zM638 2054l26 3 10 20-26-4zM622 2069l26 4 26 4 10 20-26-4-26-5zM632 2088l26 5 10 20-26-4zM615 2104l27 5 26 4 10 21-26-4-27-5zM625 2125l27 5 10 22-27-5zM608 2143l27 4 27 5 11 23-27-5-28-4zM618 2166l28 4 10 24-28-5zM601 2185l27 4 11 25-28-4zM583 2205l28 5 28 4 11 25-28-4-29-4zM593 2231l29 4 10 26-28-4zM575 2254l29 3 10 27-29-3zM556 2277l29 4 11 27-29-3zM537 2302l30 3 10 27-30-2zM517 2327l30 3 30 2 11 28-30-3-30-3z"/>
<path class="e110" d="M599 1982l26 3 9 17-25-3zM583 1996l26 3 25 3 10 18-26-3-26-3zM592 2014l26 3 10 18-26-4zM602 2031l26 4 10 19-26-4zM585 2045l27 5 26 4 10 19-26-4-27-5zM595 2064l27 5 10 19-27-4zM605 2084l27 4 10 21-27-5zM588 2099l27 5 10 21-27-5zM598 2120l27 5 10 22-27-4zM580 2138l28 5 10 23-28-5zM590 2161l28 5 10 23-27-4zM572 2180l29 5 10 25-28-5zM554 2201l29 4 10 26-29-4zM535 2223l29 4 29 4 11 26-29-3-29-4zM516 2246l30 4 29 4 10 27-29-4-30-3zM526 2274l30 3 11 28-30-3zM507 2299l30 3 10 28-30-3zM487 2324l30 3 11 27-31-2z"/>
<path class="e111" d="M548 1975l26 4 25 3 10 17-26-3-26-4zM557 1992l26 4 9 18-26-4zM566 2010l26 4 10 17-26-4zM549 2022l27 5 26 4 10 19-27-5-26-5zM559 2040l26 5 10 19-27-5zM568 2059l27 5 10 20-27-6zM551 2073l27 5 27 6 10 20-27-5-28-6zM560 2093l28 6 10 21-28-5zM570 2115l28 5 10 23-28-5zM552 2132l28 6 10 23-28-5zM534 2150l28 6 28 5 11 24-29-5-28-5zM544 2175l28 5 11 25-29-4zM525 2196l29 5 10 26-29-4zM506 2219l29 4 11 27-30-4zM486 2243l30 3 10 28-30-3zM466 2267l30 4 30 3 11 28-30-3-31-3zM446 2293l30 3 31 3 10 28-30-3-31-3zM456 2321l31 3 10 28-31-3z"/>
<path class="e112" d="M522 1971l26 4 9 17-26-4zM531 1988l26 4 9 18-26-5zM540 2005l26 5 10 17-27-5zM522 2016l27 6 10 18-27-6zM532 2034l27 6 9 19-27-6zM541 2053l27 6 10 19-27-5zM523 2067l28 6 9 20-27-5zM533 2088l27 5 10 22-28-6zM514 2103l28 6 28 6 10 23-28-6-28-5zM524 2127l28 5 10 24-28-6zM505 2145l29 5 10 25-29-5zM486 2164l29 6 29 5 10 26-29-5-29-5zM496 2191l29 5 10 27-29-4zM476 2214l30 5 10 27-30-3zM456 2239l30 4 10 28-30-4zM435 2264l31 3 10 29-30-3zM414 2290l32 3 10 28-32-3zM393 2316l31 2 32 3 10 28-32-3-31-3z"/>
<path class="e113" d="M495 1966l27 5 9 17-27-5zM504 1983l27 5 9 17-27-6zM486 1993l27 6 27 6 9 17-27-6-27-6zM495 2010l27 6 10 18-28-6zM504 2028l28 6 9 19-27-6zM514 2047l27 6 10 20-28-6zM495 2060l28 7 10 21-28-7zM505 2081l28 7 9 21-28-6zM486 2097l28 6 10 24-29-6zM495 2121l29 6 10 23-29-5zM476 2139l29 6 10 25-29-6zM456 2159l30 5 10 27-30-5zM436 2181l30 5 30 5 10 28-30-5-30-4zM446 2210l30 4 10 29-30-4zM425 2234l31 5 10 28-31-3zM404 2260l31 4 11 29-32-3zM383 2286l31 4 10 28-31-2zM361 2313l32 3 10 27-33-3z"/>
<path class="e114" d="M469 1960l26 6 9 17-26-6zM450 1970l28 7 26 6 9 16-27-6-27-6zM459 1987l27 6 9 17-27-7zM468 2003l27 7 9 18-27-7zM477 2021l27 7 10 19-28-7zM486 2040l28 7 9 20-28-7zM467 2053l28 7 10 21-29-6zM476 2075l29 6 9 22-28-6zM457 2091l29 6 9 24-29-6zM466 2115l29 6 10 24-29-6zM447 2133l29 6 10 25-30-5zM426 2153l30 6 10 27-30-5zM406 2174l30 7 10 29-30-6zM385 2198l31 6 30 6 10 29-31-5-31-5zM363 2222l31 7 31 5 10 30-31-4-31-6zM341 2247l32 7 31 6 10 30-31-4-32-4zM318 2277l33 5 32 4 10 30-32-3-33-3zM328 2310l33 3 9 27-32-3z"/>
<path class="e115" d="M442 1954l27 6 9 17-28-7zM423 1963l27 7 9 17-28-7zM431 1980l28 7 9 16-28-7zM440 1996l28 7 9 18-28-7zM449 2014l28 7 9 19-28-7zM429 2026l29 7 28 7 9 20-28-7-29-7zM438 2046l29 7 9 22-28-7zM448 2068l28 7 10 22-29-6zM428 2084l29 7 9 24-29-7zM437 2108l29 7 10 24-29-6zM417 2126l30 7 9 26-30-6zM396 2145l30 8 10 28-30-7zM375 2167l31 7 10 30-31-6zM353 2190l32 8 9 31-31-7zM331 2212l32 10 10 32-32-7zM308 2239l33 8 10 35-33-5z"/>
<path class="e116" d="M387 1940l28 7 27 7 8 16-27-7-28-7zM395 1956l28 7 8 17-28-8zM403 1972l28 8 9 16-28-7zM412 1989l28 7 9 18-28-7zM421 2007l28 7 9 19-29-7zM401 2018l28 8 9 20-29-7zM409 2039l29 7 10 22-30-8zM418 2060l30 8 9 23-29-7zM398 2075l30 9 9 24-30-8zM407 2100l30 8 10 25-30-7zM386 2117l31 9 9 27-30-8zM365 2136l31 9 10 29-31-7zM343 2157l32 10 10 31-32-8zM321 2178l32 12 10 32-32-10z"/>
<path class="e117" d="M359 1932l28 8 8 16-28-8zM367 1948l28 8 8 16-28-7zM375 1965l28 7 9 17-29-8zM383 1981l29 8 9 18-29-8zM392 1999l29 8 8 19-28-8zM371 2009l30 9 8 21-29-9zM380 2030l29 9 9 21-29-8zM389 2052l29 8 10 24-30-9zM368 2065l30 10 9 25-30-9zM377 2091l30 9 10 26-31-9zM355 2106l31 11 10 28-31-9zM333 2125l32 11 10 31-32-10zM298 2202l33 10 10 35-33-8z"/>
<path class="e118" d="M331 1923l28 9 8 16-29-9zM338 1939l29 9 8 17-29-10zM346 1955l29 10 8 16-29-9zM354 1972l29 9 9 18-29-9zM363 1990l29 9 9 19-30-9zM350 2020l30 10 9 22-30-10zM359 2042l30 10 9 23-30-10zM337 2054l31 11 9 26-31-12zM346 2079l31 12 9 26-31-11zM324 2095l31 11 10 30-32-11zM301 2114l32 11 10 32-32-11zM311 2146l32 11 10 33-32-12zM288 2166l33 12 10 34-33-10z"/>
<path class="e119" d="M309 1928l29 11 8 16-29-10zM317 1945l29 10 8 17-29-10zM325 1962l29 10 9 18-30-10zM333 1980l30 10 8 19-29-10zM342 1999l29 10 9 21-30-10zM320 2009l30 11 9 22-31-11zM328 2031l31 11 9 23-31-11zM315 2067l31 12 9 27-31-11zM292 2084l32 11 9 30-32-11zM278 2134l33 12 10 32-33-12z"/>
<path class="e11a" d="M302 1912l29 11 7 16-29-11zM287 1933l30 12 8 17-30-12zM295 1950l30 12 8 18-30-12zM303 1968l30 12 9 19-31-11zM311 1988l31 11 8 21-30-11zM297 2018l31 13 9 23-31-12zM306 2042l31 12 9 25-31-12zM283 2055l32 12 9 28-32-11zM269 2103l32 11 10 32-33-12z"/>
<path class="e11b" d="M272 1900l30 12 7 16-29-11zM280 1917l29 11 8 17-30-12zM272 1955l31 13 8 20-31-13zM280 1975l31 13 9 21-31-13zM289 1996l31 13 8 22-31-13zM266 2005l31 13 9 24-32-13zM274 2029l32 13 9 25-32-12zM251 2044l32 11 9 29-32-11zM260 2073l32 11 9 30-32-11z"/>
<path class="e11c" d="M243 1890l29 10 8 17-30-12zM250 1905l30 12 7 16-30-13zM257 1920l30 13 8 17-30-13zM265 1937l30 13 8 18-31-13zM249 1961l31 14 9 21-32-13zM257 1983l32 13 8 22-31-13zM242 2017l32 12 9 26-32-11z"/>
<path class="e11d" d="M212 1877l31 13 7 15-31-13zM219 1892l31 13 7 15-31-13zM226 1907l31 13 8 17-31-13zM234 1924l31 13 7 18-31-12zM241 1943l31 12 8 20-31-14zM226 1972l31 11 9 22-32-11zM234 1994l32 11 8 24-32-12z"/>
<path class="e11e" d="M195 1894l31 13 8 17-32-12zM202 1912l32 12 7 19-31-11zM210 1932l31 11 8 18-31-10zM218 1951l31 10 8 22-31-11z"/>
<path class="e11f" d="M181 1859l31 18 7 15-31-16zM188 1876l31 16 7 15-31-13z"/>
<path class="e2b" d="M811 2269l27 2 12 22-28-1zM795 2292l27 0 28 1 12 23-27 0-28-1zM807 2315l28 1 27 0 12 24-27 0-28 0z"/>
<path class="e2c" d="M776 2204l26 2 12 21-27-2zM787 2225l27 2 12 22-27-2zM772 2246l27 1 27 2 12 22-27-2-28-1zM756 2267l27 1 28 1 11 23-27 0-28-1zM767 2291l28 1 12 23-28 0zM751 2315l28 0 28 0 12 25-28-1-28 0z"/>
<path class="e2d" d="M731 2123l26 3 11 19-26-3zM742 2142l26 3 12 20-27-3zM753 2162l27 3 11 20-27-2zM738 2181l26 2 27 2 11 21-26-2-27-2zM749 2202l27 2 11 21-27-1zM733 2222l27 2 27 1 12 22-27-1-28-2zM717 2243l27 1 28 2 11 22-27-1-28-1zM728 2266l28 1 11 24-27-1zM711 2289l29 1 27 1 12 24-28 0-28-1zM694 2314l29 0 28 1 12 24-28 0-29 0z"/>
<path class="e2e" d="M679 2034l26 3 10 17-26-3zM689 2051l26 3 10 17-25-3zM700 2068l25 3 11 18-26-3zM710 2086l26 3 11 18-26-3zM695 2101l26 3 26 3 10 19-26-3-26-3zM705 2120l26 3 11 19-26-2zM716 2140l26 2 11 20-26-2zM700 2157l27 3 26 2 11 21-26-2-27-3zM711 2178l27 3 11 21-27-2zM695 2197l27 3 27 2 11 22-27-2-27-2zM678 2218l28 2 27 2 11 22-27-1-28-2zM689 2241l28 2 11 23-28-1zM672 2264l28 1 28 1 12 24-29-1-28 0zM654 2288l29 1 28 0 12 25-29 0-29-1zM636 2313l29 0 29 1 12 25-29 0-30 0z"/>
<path class="e2f" d="M650 1987l25 2 10 16-25-3zM634 2000l26 2 25 3 10 16-26-3-25-2zM644 2016l25 2 26 3 10 16-26-3-25-2zM654 2032l25 2 10 17-25-3zM664 2048l25 3 11 17-26-3zM648 2062l26 3 26 3 10 18-26-3-26-3zM658 2080l26 3 26 3 11 18-26-3-27-3zM668 2098l27 3 10 19-26-3zM679 2117l26 3 11 20-27-3zM662 2134l27 3 27 3 11 20-27-3-27-3zM673 2154l27 3 11 21-27-2zM656 2173l28 3 27 2 11 22-27-3-28-2zM667 2195l28 2 11 23-28-2zM650 2216l28 2 11 23-28-1zM632 2238l29 2 28 1 11 24-28-1-29-1zM614 2262l29 1 29 1 11 25-29-1-29-1zM596 2286l29 1 29 1 11 25-29 0-29-1zM577 2312l30 0 29 1 11 26-29 0-30 0z"/>
<path class="e210" d="M599 1982l26 3 25 2 10 15-26-2-25-3zM609 1997l25 3 10 16-26-3zM618 2013l26 3 10 16-26-3zM602 2026l26 3 26 3 10 16-26-3-26-3zM612 2042l26 3 26 3 10 17-26-3-26-3zM622 2059l26 3 10 18-26-4zM632 2076l26 4 10 18-26-3zM642 2095l26 3 11 19-27-3zM625 2110l27 4 27 3 10 20-27-3-27-4zM635 2130l27 4 11 20-27-3zM618 2148l28 3 27 3 11 22-28-3-27-3zM629 2170l27 3 11 22-28-2zM611 2190l28 3 28 2 11 23-28-2-28-2zM593 2212l29 2 28 2 11 24-29-2-28-1zM575 2235l29 2 28 1 11 25-29-1-29-1zM585 2261l29 1 11 25-29-1zM566 2286l30 0 11 26-30 0zM547 2312l30 0 11 27-30-1z"/>
<path class="e211" d="M548 1975l26 4 25 3 10 15-26-3-26-3zM557 1991l26 3 26 3 9 16-26-3-26-4zM566 2006l26 4 26 3 10 16-26-3-26-4zM576 2022l26 4 10 16-27-4zM585 2038l27 4 10 17-27-4zM595 2055l27 4 10 17-27-4zM578 2068l27 4 27 4 10 19-27-4-27-4zM588 2087l27 4 27 4 10 19-27-4-27-4zM598 2106l27 4 10 20-27-3zM580 2123l28 4 27 3 11 21-28-3-28-3zM590 2145l28 3 11 22-28-3zM572 2164l29 3 28 3 10 23-28-3-28-3zM554 2185l29 2 28 3 11 24-29-2-29-3zM564 2209l29 3 11 25-29-2zM545 2233l30 2 10 26-29-2zM526 2258l30 1 29 2 11 25-30 0-30-1zM506 2284l30 1 30 1 11 26-30 0-30-1zM486 2311l31 0 30 1 11 26-31 0-30 0z"/>
<path class="e212" d="M522 1971l26 4 9 16-26-5zM531 1986l26 5 9 15-26-5zM540 2001l26 5 10 16-27-5zM549 2017l27 5 9 16-26-5zM559 2033l26 5 10 17-27-5zM541 2045l27 5 27 5 10 17-27-4-28-5zM550 2063l28 5 10 19-28-5zM560 2082l28 5 10 19-28-4zM542 2098l28 4 28 4 10 21-28-4-28-4zM552 2119l28 4 10 22-28-4zM534 2137l28 4 28 4 11 22-29-3-28-4zM544 2160l28 4 11 23-29-2zM525 2182l29 3 10 24-29-2zM505 2205l30 2 29 2 11 26-30-2-29-2zM486 2230l30 1 29 2 11 26-30-1-30-1zM466 2256l30 1 30 1 10 27-30-1-30 0zM445 2283l31 1 30 0 11 27-31 0-31 0zM424 2310l31 1 31 0 11 27-32 0-31 0z"/>
<path class="e213" d="M495 1966l27 5 9 15-27-5zM504 1981l27 5 9 15-27-5zM513 1996l27 5 9 16-27-5zM522 2012l27 5 10 16-27-5zM504 2022l28 6 27 5 9 17-27-5-28-6zM513 2039l28 6 9 18-27-5zM523 2058l27 5 10 19-28-5zM532 2077l28 5 10 20-28-4zM514 2093l28 5 10 21-28-5zM524 2114l28 5 10 22-28-4zM505 2133l29 4 10 23-29-3zM485 2153l30 4 29 3 10 25-29-3-30-4zM495 2178l30 4 10 25-30-2zM476 2202l29 3 11 26-30-1zM425 2226l31 2 30 2 10 27-30-1-31-1zM404 2253l31 2 31 1 10 28-31-1-31-1zM382 2281l32 1 31 1 10 28-31-1-32 0zM361 2311l31-1 32 0 10 28-32-1-32 0z"/>
<path class="e214" d="M469 1960l26 6 9 15-27-6zM477 1975l27 6 9 15-27-6zM486 1990l27 6 9 16-27-6zM468 2000l27 6 27 6 10 16-28-6-27-6zM477 2016l27 6 9 17-27-6zM486 2033l27 6 10 19-28-6zM495 2052l28 6 9 19-28-5zM476 2066l28 6 28 5 10 21-28-5-29-5zM485 2088l29 5 10 21-29-4zM466 2105l29 5 29 4 10 23-29-4-29-5zM476 2128l29 5 10 24-30-4zM456 2149l29 4 10 25-29-3zM436 2172l30 3 29 3 10 27-29-3-30-2zM415 2196l31 4 30 2 10 28-30-2-31-2zM394 2223l31 3 10 29-31-2zM373 2250l31 3 10 29-32-1zM318 2277l33 3 31 1 10 29-31 1-33-1zM328 2310l33 1 9 26-32 0z"/>
<path class="e215" d="M442 1954l27 6 8 15-27-6zM423 1962l27 7 27 6 9 15-27-6-28-7zM431 1977l28 7 27 6 9 16-27-6-28-7zM440 1993l28 7 9 16-28-7zM449 2009l28 7 9 17-28-6zM458 2027l28 6 9 19-28-6zM467 2046l28 6 9 20-28-6zM447 2061l29 5 9 22-28-6zM457 2082l28 6 10 22-29-5zM437 2100l29 5 10 23-30-4zM446 2124l30 4 9 25-29-4zM426 2144l30 5 10 26-30-3zM405 2167l31 5 10 28-31-4zM384 2192l31 4 10 30-31-3zM363 2218l31 5 10 30-31-3zM308 2239l33 6 32 5 9 31-31-1-33-3z"/>
<path class="e216" d="M387 1940l28 7 27 7 8 15-27-7-28-7zM395 1955l28 7 8 15-28-7zM403 1970l28 7 9 16-28-7zM412 1986l28 7 9 16-29-7zM420 2002l29 7 9 18-29-6zM429 2021l29 6 9 19-29-6zM438 2040l29 6 9 20-29-5zM418 2054l29 7 10 21-30-6zM427 2076l30 6 9 23-29-5zM407 2093l30 7 9 24-30-6zM386 2111l30 7 30 6 10 25-30-5-31-6zM395 2138l31 6 10 28-31-5zM374 2161l31 6 10 29-31-4zM353 2186l31 6 10 31-31-5zM331 2210l32 8 10 32-32-5z"/>
<path class="e217" d="M359 1932l28 8 8 15-28-7zM367 1948l28 7 8 15-28-7zM375 1963l28 7 9 16-29-8zM383 1978l29 8 8 16-28-7zM392 1995l28 7 9 19-29-8zM400 2013l29 8 9 19-29-7zM409 2033l29 7 9 21-29-7zM389 2046l29 8 9 22-29-7zM398 2069l29 7 10 24-30-7zM377 2085l30 8 9 25-30-7zM355 2102l31 9 9 27-30-7zM365 2131l30 7 10 29-31-6zM343 2153l31 8 10 31-31-6zM321 2176l32 10 10 32-32-8zM298 2202l33 8 10 35-33-6z"/>
<path class="e218" d="M331 1923l28 9 8 16-29-9zM338 1939l29 9 8 15-29-9zM346 1954l29 9 8 15-29-8zM354 1970l29 8 9 17-29-8zM363 1987l29 8 8 18-29-8zM371 2005l29 8 9 20-29-8zM380 2025l29 8 9 21-29-8zM359 2037l30 9 9 23-31-9zM367 2060l31 9 9 24-30-8zM346 2075l31 10 9 26-31-9zM324 2092l31 10 10 29-32-9zM333 2122l32 9 9 30-31-8zM311 2144l32 9 10 33-32-10zM288 2166l33 10 10 34-33-8z"/>
<path class="e219" d="M309 1928l29 11 8 15-29-10zM317 1944l29 10 8 16-29-10zM325 1960l29 10 9 17-30-9zM333 1978l30 9 8 18-30-9zM341 1996l30 9 9 20-30-9zM350 2016l30 9 9 21-30-9zM328 2028l31 9 8 23-30-10zM337 2050l30 10 10 25-31-10zM315 2064l31 11 9 27-31-10zM301 2112l32 10 10 31-32-9zM278 2134l33 10 10 32-33-10z"/>
<path class="e21a" d="M302 1912l29 11 7 16-29-11zM295 1949l30 11 8 18-30-12zM303 1966l30 12 8 18-30-11zM311 1985l30 11 9 20-31-10zM319 2006l31 10 9 21-31-9zM297 2016l31 12 9 22-31-11zM306 2039l31 11 9 25-31-11zM283 2054l32 10 9 28-32-10zM292 2082l32 10 9 30-32-10zM269 2103l32 9 10 32-33-10z"/>
<path class="e21b" d="M272 1900l30 12 7 16-29-11zM280 1917l29 11 8 16-30-12zM287 1932l30 12 8 16-30-11zM272 1954l31 12 8 19-31-12zM280 1973l31 12 8 21-30-12zM289 1994l30 12 9 22-31-12zM274 2028l32 11 9 25-32-10zM251 2044l32 10 9 28-32-9zM260 2073l32 9 9 30-32-9z"/>
<path class="e21c" d="M243 1890l29 10 8 17-30-12zM250 1905l30 12 7 15-30-12zM257 1920l30 12 8 17-30-13zM265 1936l30 13 8 17-31-12zM249 1961l31 12 9 21-32-12zM257 1982l32 12 8 22-32-12zM265 2004l32 12 9 23-32-11zM242 2017l32 11 9 26-32-10z"/>
<path class="e21d" d="M212 1877l31 13 7 15-31-14zM219 1891l31 14 7 15-31-13zM226 1907l31 13 8 16-31-12zM234 1924l31 12 7 18-31-12zM241 1942l31 12 8 19-31-12zM226 1972l31 10 8 22-31-10zM234 1994l31 10 9 24-32-11z"/>
<path class="e21e" d="M195 1894l31 13 8 17-32-12zM202 1912l32 12 7 18-31-10zM210 1932l31 10 8 19-31-10zM218 1951l31 10 8 21-31-10z"/>
<path class="e21f" d="M181 1859l31 18 7 14-31-15zM188 1876l31 15 7 16-31-13z"/>
</g>
<path d="M112.5 941.4L115.1 948M140.4 951.8L141.4 958.8M133.6 1044.8L132.8 1046.3M166.9 962.1L167.5 966.8M198.1 971.1L197.8 976M231.4 979.2L230.4 984.2M267 986.4L264.8 991.7M308.9 991.9L305.6 996.2M112.5 941.4L115.4 948L118.4 954.6L120.8 961.5M121.4 997.8L119.7 1004.9M140.4 951.8L142.1 958.7L144.3 965.5M133.8 1044.7L132.8 1046.3M166.9 962.1L168.3 966.7M146.2 1082.2L144.5 1084.7M198.1 971.1L199.5 977.1M231.4 979.2L232.5 985.5M267 986.4L267.3 991.2M308.9 991.9L308.3 996.9M112.5 941.4L115.5 948L118.7 954.6L121.3 961.4L122.7 968.6L123.4 973.5L124.2 981L123.6 986.4L122.8 991.8L121.6 998.3L119.7 1004.9M140.4 951.8L142.5 958.6L145 965.4L147.4 972.3L148.7 977.1L150.3 984.3L151.1 991.3L151 997.1L150.5 1002.5L150.1 1008.9L149.2 1016.2L147.7 1022L145.1 1028.1L142.1 1033.4L139 1037.9L134 1044.7L132.8 1046.3M166.9 962.1L168.7 966.6L171.6 973.3L174.5 980.1L177 987.1L178.5 992.9L179.6 999.3L180.1 1005L180.1 1012.3L179.5 1017.8L178.5 1023.4L177.2 1029.2L175.6 1035.1L173.5 1041.1L170.6 1047.4L166.6 1054.1L163.1 1059L159.2 1064.4L154.3 1071.4L150.9 1076.2L146.5 1082.2L144.5 1084.7M198.1 971.1L200.7 977.8L203.9 984.5L206.1 989L209.2 995.8L211.4 1003L212.1 1008L212.5 1015.8L212.3 1021.2L211.8 1026.7L210.7 1032.3L209.1 1038.1L207 1044.2L204.5 1050.3L201.8 1056.6L198.7 1063L195.9 1067.9L192.3 1073.2L187 1080L183.6 1084.1L177.3 1091.3L173.8 1095.4L168.3 1102.8L164.4 1107.4L157.3 1114.5L153.6 1117.7M231.4 979.2L234.1 985.9L237.4 992.6L240.7 999.3L242.9 1003.9L245.5 1011L247 1017.5L247.8 1023.6L248 1028.8L247.8 1035L247 1041.8L245.8 1047.9L244.3 1053.7L242.5 1059.1L240.6 1064.3L238.2 1069.9L234.7 1076.6L230.9 1082.4L227.5 1087L222.1 1093.9L218.7 1098.1L212.7 1104.8L208.3 1109.7L202.9 1115.5L197.2 1121.6L192.8 1126.3L185.8 1133.2L179.7 1138.5L173.7 1143.1L166.8 1148.4L163.2 1152M267 986.4L269.6 993.1L271.8 997.9L274.9 1004.3L278.1 1011.2L280.8 1018.3L282.4 1023.2L284.1 1030.6L284.9 1035.8L285.4 1041.6L285.4 1049.2L285 1054.9L284.2 1060.6L283 1066.5L281.4 1072.6L279.3 1078.8L277.4 1083.7L275.2 1088.6L271.8 1095.4L268.1 1101.6L265.3 1105.9L260.1 1113.3L257 1117.4L251.2 1124.7L248 1128.7L241.8 1136.2L238.3 1140.5L232.5 1147.7L228.5 1152.6L223 1159.8L219.4 1164.8L216.6 1168.8M308.9 991.9L310.6 997.1L312.8 1003.2L315.3 1010.1L317 1014.8L319.4 1021.9L320.8 1026.7L322.7 1034.2L323.7 1039.2L324.7 1045.3L325.4 1052.3L325.6 1057.8L325.5 1063.3L325.2 1069L324.6 1074.8L323.6 1080.8L322.3 1086.9L320.6 1093.2L318.6 1099.6L316.1 1106.2L314 1111.1L311.5 1116.4L307.9 1123.5L304.9 1128.8L301.6 1134.4L297.2 1141.5L294.5 1145.7L289.5 1153.4L286.4 1158.1L281.7 1165.2L279.1 1169.2M364.8 1039.1L366.1 1046.7L366.9 1051.9L367.5 1057.2L367.9 1063.2L368.1 1070.2L368 1076.6L367.8 1082.3L367.4 1088.2L366.7 1094.1L365.9 1100.2L364.8 1106.5L363.4 1112.6L362 1117.9L360.5 1123L358.3 1129.4L355.7 1136.3L353.1 1142.2L351 1147L347.4 1154.4L344.4 1160.3L341.5 1165.7L339.4 1169.5M410.5 1120.1L409.9 1126.1L409 1131.9L407.9 1138.2L406.3 1144.9L404.4 1151.8L402.3 1158L400.6 1162.8L397.8 1169.7" stroke="#222" stroke-opacity="0.55" stroke-width="0.9" fill="none"/>
<path d="M90.4 929.5L114.7 1136.5L180.4 1301.5L431.9 1235.9" stroke="#000" stroke-width="2.4" fill="none" stroke-linejoin="miter"/>
<text transform="translate(76.6 932.1) rotate(-11)" font-size="24.5" text-anchor="end" dy="0.31em">1</text>
<text transform="translate(90 1045.6) rotate(-12)" font-size="24.5" text-anchor="end" dy="0.31em">0.1</text>
<text transform="translate(100.5 1139.8) rotate(-12.9)" font-size="24.5" text-anchor="end" dy="0.36em">10</text>
<text transform="translate(110.3 1164.2) rotate(-13.2)" font-size="24.5" text-anchor="end" dy="0.36em">20</text>
<text transform="translate(120.4 1189.7) rotate(-13.4)" font-size="24.5" text-anchor="end" dy="0.36em">30</text>
<text transform="translate(131.1 1216.5) rotate(-13.7)" font-size="24.5" text-anchor="end" dy="0.36em">40</text>
<text transform="translate(142.3 1244.6) rotate(-14)" font-size="24.5" text-anchor="end" dy="0.36em">50</text>
<text transform="translate(154 1274.1) rotate(-14.3)" font-size="24.5" text-anchor="end" dy="0.36em">60</text>
<text transform="translate(166.4 1305.1) rotate(-14.6)" font-size="24.5" text-anchor="end" dy="0.36em">70</text>
<text transform="translate(185 1313.1) rotate(68.3)" font-size="24.5" dy="0.36em">0.0</text>
<text transform="translate(237.6 1299.3) rotate(66)" font-size="24.5" dy="0.36em">0.5</text>
<text transform="translate(289.2 1285.8) rotate(63.7)" font-size="24.5" dy="0.36em">1.0</text>
<text transform="translate(340 1272.4) rotate(61.5)" font-size="24.5" dy="0.36em">1.5</text>
<text transform="translate(389.8 1259.3) rotate(59.4)" font-size="24.5" dy="0.36em">2.0</text>
<text transform="translate(438.7 1246.4) rotate(57.4)" font-size="24.5" dy="0.36em">2.5</text>
<path d="M90.4 929.5L83 930.9M103.7 1042.7L96.3 1044.3M112 1114.1L107.9 1115M110 1096.6L105.9 1097.6M108.5 1084.1L104.4 1085M107.4 1074.2L103.3 1075.1M106.4 1066L102.3 1066.9M105.6 1059L101.5 1059.9M104.9 1053L100.8 1053.8M104.2 1047.6L100.1 1048.5M99.8 1010.1L95.7 1010.9M97.5 990.4L93.4 991.3M95.9 976.2L91.8 977.1M94.6 965.1L90.4 965.9M93.5 955.8L89.4 956.6M92.6 947.9L88.4 948.8M91.8 941.1L87.6 941.9M91 935L86.9 935.8M114.7 1136.5L107.4 1138.2M124.4 1160.9L117.1 1162.6M134.5 1186.3L127.2 1188.1M145.2 1213L137.9 1214.8M156.3 1241L149 1242.9M168.1 1270.5L160.8 1272.3M180.4 1301.5L173.1 1303.4M119.5 1148.6L115.4 1149.5M129.4 1173.4L125.3 1174.4M139.8 1199.5L135.7 1200.5M150.7 1226.9L146.6 1227.9M162.1 1255.6L158 1256.6M174.2 1285.8L170.1 1286.8M180.4 1301.5L183.2 1308.4M232.5 1287.9L235.6 1294.7M283.7 1274.5L287 1281.3M334 1261.4L337.6 1268M383.4 1248.6L387.2 1255M431.9 1235.9L436 1242.2M206.6 1294.7L208.2 1298.5M258.2 1281.2L260 1285M309 1268L310.9 1271.7M358.8 1255L360.9 1258.6M407.8 1242.2L410 1245.8" stroke="#000" stroke-width="1.9" fill="none"/>
<text transform="translate(19.5 1051) rotate(83)" font-size="25.2" text-anchor="middle">PL intensity (norm.)</text>
<text transform="translate(62 1233) rotate(69)" font-size="25.2" text-anchor="middle">Time (ns)</text>
<text transform="translate(352 1333) rotate(-13.8)" font-size="25.2" text-anchor="middle">Radius <tspan font-style="italic">r</tspan> (µm)</text>
<rect x="431.1" y="896.6" width="152.1" height="102.5" fill="#fff" stroke="#111" stroke-width="1.8"/>
<linearGradient id="lge0"><stop offset="0" stop-color="#cdd2f4"/><stop offset="1" stop-color="#4a55ae"/></linearGradient>
<rect x="434.6" y="901.3" width="47.3" height="23.7" fill="url(#lge0)"/>
<text x="491.4" y="919.5" font-size="16.3">τ<tspan font-size="12" dy="4.8">n</tspan><tspan dy="-4.8"> = 50 ns</tspan></text>
<linearGradient id="lge1"><stop offset="0" stop-color="#fadcc8"/><stop offset="1" stop-color="#a9785a"/></linearGradient>
<rect x="434.6" y="934.8" width="47.3" height="23.7" fill="url(#lge1)"/>
<text x="491.4" y="953" font-size="16.3">τ<tspan font-size="12" dy="4.8">n</tspan><tspan dy="-4.8"> = 100 ns</tspan></text>
<linearGradient id="lge2"><stop offset="0" stop-color="#f4f1c4"/><stop offset="1" stop-color="#8f8f4a"/></linearGradient>
<rect x="434.6" y="968.3" width="47.3" height="23.7" fill="url(#lge2)"/>
<text x="491.4" y="986.5" font-size="16.3">τ<tspan font-size="12" dy="4.8">n</tspan><tspan dy="-4.8"> = 200 ns</tspan></text>
<text x="-1.2" y="885.8" font-size="43" font-weight="bold">e</text>
<path d="M796.6 1122.8L778.2 916.2M841.5 1112.4L828.8 906.4M885.8 1102.3L878.5 896.8M929.3 1092.3L927.4 887.3M972.2 1082.4L975.4 878M743.4 1068.5L973.2 1018.3M986.5 1104.7L991.4 897.9M1001.3 1128L1008.3 918.8M1016.9 1152.3L1026.1 940.8M1033.2 1177.8L1044.8 964M1050.3 1204.5L1064.5 988.5M1068.2 1232.6L1085.4 1014.3M973.2 1018.3L1073.5 1164.9M796.6 1122.8L868.8 1284.6M841.5 1112.4L920 1271.2M885.8 1102.3L970.3 1258.1M929.3 1092.3L1019.7 1245.3M972.2 1082.4L1068.2 1232.6M760.7 1157.6L986.5 1104.7M770.8 1183L1001.3 1128M781.5 1209.7L1016.9 1152.3M792.6 1237.7L1033.2 1177.8M804.4 1267.2L1050.3 1204.5M816.7 1298.2L1068.2 1232.6" stroke="#cfcfcf" stroke-width="0.9" fill="none"/>
<path d="M726.7 926.2L975.4 878M975.4 878L1085.4 1014.3M1085.4 1014.3L1068.2 1232.6M975.4 878L972.2 1082.4M751 1133.2L972.2 1082.4M972.2 1082.4L1068.2 1232.6" stroke="#444" stroke-width="0.9" fill="none"/>
<g transform="scale(0.5)" shape-rendering="crispEdges">
<path class="f14" d="M2047 2270l6 1 3 6-7-2zM2049 2275l7 2 2 5-6-1zM2045 2280l7 1 6 1 3 6-6-1-7-1z"/>
<path class="f15" d="M2018 2233l19 4 8 17-19-3zM2026 2251l19 3 8 17-6-1-7-1-6-1zM2021 2265l7 2 6 1 6 1 7 1 2 5-6-1-6 0-7-2-6-1zM2018 2270l6 1 6 1 7 2 6 0 6 1 3 6-7-1-6-1-6-1-7-1-6-2z"/>
<path class="f16" d="M2002 2199l19 3 8 18-19-4zM1991 2213l19 3 19 4 8 17-19-4-19-3zM1999 2230l19 3 8 18-19-4zM1987 2243l20 4 19 4 8 17-6-1-7-2-6-1-7-1-6-1-7-1zM1995 2261l7 1 6 1 7 1 6 1 3 6-6-1-7-1-7-1-6-1zM1998 2267l6 1 7 1 7 1 2 5-7-1-6-1-7-1zM2000 2272l7 1 6 1 7 1 3 6-7-1-6-1-7-1zM1990 2275l7 2 6 1 3 6-7-2-6-1z"/>
<path class="f17" d="M1979 2148l19 4 8 16-19-3zM1987 2165l19 3 7 17-19-3zM1976 2178l18 4 19 3 8 17-19-3-19-4zM1964 2192l19 3 19 4 8 17-19-3-19-4zM1972 2209l19 4 8 17-20-4zM1960 2223l19 3 20 4 8 17-20-4-19-3zM1968 2240l19 3 8 18-19-4zM1956 2254l20 3 19 4 3 6 2 5 3 6-6-1-7-2-6-1-7-1-6-1-7-1zM1957 2270l7 1 7 1 6 1 7 1 6 1 3 6-6-1-7-1-7-1-6-1-7-1z"/>
<path class="f18" d="M1964 2115l19 4 7 16-18-4zM1953 2127l19 4 18 4 8 17-19-4-19-4zM1960 2144l19 4 8 17-19-4zM1949 2157l19 4 19 4 7 17-18-4-20-4zM1956 2174l20 4 7 17-19-3zM1945 2188l19 4 8 17-20-4zM1933 2201l19 4 20 4 7 17-19-3-20-4zM1940 2219l20 4 8 17-20-4zM1928 2232l20 4 20 4 8 17-20-3-20-4zM1936 2250l20 4 8 17-7-1-6-2-7-1zM1931 2265l6 1 7 1 7 1 6 2 3 6-7-2-6-1-7-1-7-1z"/>
<path class="f19" d="M1950 2082l18 4 8 16-19-4zM1938 2094l19 4 19 4 7 17-19-4-18-4zM1946 2111l18 4 8 16-19-4zM1934 2123l19 4 7 17-19-4zM1922 2136l19 4 19 4 8 17-19-4-19-4zM1930 2153l19 4 7 17-19-3zM1918 2167l19 4 19 3 8 18-19-4-20-4zM1906 2180l19 4 20 4 7 17-19-4-20-4zM1913 2197l20 4 7 18-19-4zM1901 2211l20 4 19 4 8 17-20-4-20-3zM1908 2229l20 3 8 18-20-4zM1896 2242l20 4 20 4 8 17-7-1-6-1-7-1-7-1-7-2-7-1zM1896 2259l7 1 7 1 7 2 7 1 7 1 2 6-6-1-7-1-7-2-7-1-7-1z"/>
<path class="f1a" d="M1940 2035l6 2 3 5-6-1zM1937 2039l6 2 6 1 2 6-6-2-6-1zM1933 2043l6 2 6 1 6 2 3 5-6-1-7-2-6-1zM1935 2049l6 1 7 2 6 1 7 17-19-5zM1924 2061l18 4 19 5 7 16-18-4-19-5zM1912 2073l19 4 19 5 7 16-19-4-19-4zM1919 2090l19 4 8 17-19-4zM1908 2102l19 5 19 4 7 16-19-4-19-4zM1896 2115l19 4 19 4 7 17-19-4-19-4zM1903 2132l19 4 8 17-20-4zM1891 2145l19 4 20 4 7 18-19-4-20-4zM1898 2163l20 4 7 17-19-4zM1886 2176l20 4 7 17-20-4zM1873 2189l20 4 20 4 8 18-20-4-20-4zM1881 2207l20 4 7 18-20-4zM1868 2221l20 4 20 4 8 17-20-4-21-3zM1875 2239l21 3 7 18-7-1-6-1-7-1zM1869 2254l7 2 7 1 7 1 6 1 3 6-7-1-6-1-7-2-7-1z"/>
<path class="f1b" d="M1916 2029l6 2 6 1 6 2 6 1 3 6-6-2-7-1-6-2-6-1zM1912 2033l6 2 6 1 6 2 7 1 2 6-6-2-6-1-6-2-6-1zM1908 2037l7 2 6 1 6 2 6 1 2 6-6-2-6-1-6-2-6-1zM1898 2040l6 1 7 2 6 1 6 2 6 1 6 2 7 16-18-4-19-4zM1905 2057l19 4 7 16-19-4zM1893 2069l19 4 7 17-19-4zM1881 2081l19 5 19 4 8 17-19-5-20-4zM1888 2098l20 4 7 17-19-4zM1876 2111l20 4 7 17-19-4zM1864 2124l20 4 19 4 7 17-19-4-20-4zM1871 2141l20 4 7 18-20-5zM1859 2154l19 4 20 5 8 17-20-4-20-5zM1866 2171l20 5 7 17-20-4zM1853 2185l20 4 8 18-21-4zM1840 2198l20 5 21 4 7 18-20-4-21-4zM1847 2217l21 4 7 18-20-4zM1834 2231l21 4 20 4 8 18-7-1-7-2-7-1-7-1-6-2-7-1zM1835 2248l7 1 7 1 6 2 7 1 7 1 3 6-7-1-7-1-7-1-7-2-7-1z"/>
<path class="f1c" d="M1885 2022l6 1 6 2 7 1 6 2 6 1 2 6-6-2-6-1-6-2-7-1-6-2zM1881 2026l6 1 6 2 7 1 6 2 6 1 3 6-7-2-6-1-6-2-7-1-6-2zM1883 2031l6 2 7 1 6 2 6 1 3 6-7-2-6-1-6-2-7-1zM1879 2035l6 2 7 1 6 2 7 17-19-5zM1867 2048l19 4 19 5 7 16-19-4-19-4zM1855 2060l19 5 19 4 7 17-19-5-19-4zM1862 2077l19 4 7 17-19-4zM1850 2089l19 5 19 4 8 17-20-4-19-5zM1857 2106l19 5 8 17-20-4zM1844 2119l20 5 7 17-20-5zM1831 2132l20 4 20 5 7 17-19-4-21-5zM1838 2149l21 5 7 17-20-4zM1825 2162l21 5 20 4 7 18-20-4-20-5zM1833 2180l20 5 7 18-20-5zM1819 2194l21 4 7 19-20-5zM1806 2208l21 4 20 5 8 18-21-4-21-4zM1813 2227l21 4 8 18-7-1-7-1-7-1zM1806 2243l8 2 7 1 7 1 7 1 2 6-7-1-7-1-7-1-7-2z"/>
<path class="f1d" d="M1859 2016l7 1 6 2 6 1 7 2 2 5-6-1-7-2-6-1-6-2zM1855 2020l7 1 6 2 6 1 7 2 2 5-6-1-6-2-7-1-6-2zM1851 2024l7 1 6 2 7 1 6 2 6 1 2 6-6-2-6-1-7-2-6-1-6-2zM1841 2026l6 2 7 1 6 2 6 1 7 2 6 1 7 17-19-4-19-5zM1848 2043l19 5 7 17-19-5zM1836 2055l19 5 7 17-19-5zM1823 2067l20 5 19 5 7 17-19-5-20-5zM1830 2084l20 5 7 17-20-4zM1817 2097l20 5 20 4 7 18-20-5-20-5zM1824 2114l20 5 7 17-20-4zM1811 2127l20 5 7 17-20-5zM1798 2139l20 5 20 5 8 18-21-5-20-4zM1805 2158l20 4 8 18-21-4zM1791 2171l21 5 21 4 7 18-21-4-20-4zM1778 2185l21 5 20 4 8 18-21-4-21-4zM1785 2204l21 4 7 19-21-4zM1771 2219l21 4 21 4 8 19-7-1-8-2-7-1-7-1-7-2-7-1zM1792 2241l7 1 7 1 3 6-7-1-7-1z"/>
<path class="f1e" d="M1828 2007l6 2 6 2 7 1 6 2 6 2 3 5-7-1-6-2-6-1-7-2-6-2zM1830 2013l6 2 7 2 6 1 6 2 3 5-7-1-6-2-6-2-7-1zM1826 2017l6 2 7 1 6 2 6 2 3 5-7-1-6-2-6-2-7-1zM1822 2021l6 2 7 1 6 2 7 17-19-5zM1809 2033l20 5 19 5 7 17-19-5-20-5zM1816 2050l20 5 7 17-20-5zM1803 2062l20 5 7 17-20-5zM1790 2074l20 5 20 5 7 18-20-5-20-6zM1797 2091l20 6 7 17-20-5zM1784 2104l20 5 20 5 7 18-20-5-20-6zM1791 2121l20 6 7 17-20-5zM1777 2134l21 5 7 19-21-5zM1763 2147l21 6 21 5 7 18-21-5-21-5zM1770 2166l21 5 8 19-21-5zM1756 2180l22 5 7 19-22-5zM1742 2195l21 4 22 5 7 19-21-4-22-5zM1749 2214l22 5 7 19-7-1-8-2-7-1z"/>
<path class="f1f" d="M1802 2000l6 2 7 2 6 2 7 1 2 6-6-1-7-2-6-2-7-2zM1804 2006l7 2 6 2 7 2 6 1 2 6-6-2-6-2-7-1-7-2zM1800 2009l6 3 7 2 7 1 6 2 2 6-6-2-7-2-6-2-7-2zM1802 2015l7 2 6 2 7 2 7 17-20-5zM1789 2027l20 6 7 17-20-6zM1776 2039l20 5 20 6 7 17-20-5-20-6zM1783 2056l20 6 7 17-20-5zM1770 2068l20 6 7 17-20-5zM1777 2086l20 5 7 18-20-5zM1763 2098l21 6 7 17-21-5zM1749 2110l21 6 21 5 7 18-21-5-21-5zM1756 2129l21 5 7 19-21-6zM1742 2142l21 5 7 19-21-5zM1728 2155l21 6 21 5 8 19-22-5-21-5zM1735 2175l21 5 7 19-21-4zM1720 2190l22 5 7 19-22-4zM1727 2210l22 4 7 20-7-1-7-2-7-1-3-7-2-6zM1713 2207l7 1 7 2 3 7-7-2-8-1zM1715 2214l8 1 7 2 2 6-7-1-7-1zM1711 2219l7 2 7 1 7 1 3 7-7-1-8-2-7-1z"/>
<path class="f110" d="M1782 1994l7 2 6 2 7 2 2 6-7-2-6-2-6-2zM1778 1998l7 2 6 2 6 2 7 2 2 6-6-3-7-1-6-2-7-3zM1774 2002l6 1 7 3 6 2 7 1 2 6-7-2-6-2-7-2-6-2zM1763 2003l6 2 7 2 6 2 7 2 6 2 7 2 7 18-20-6-20-6zM1769 2021l20 6 7 17-20-5zM1756 2033l20 6 7 17-20-6zM1742 2044l21 6 20 6 7 18-20-6-21-6zM1749 2062l21 6 7 18-21-6zM1735 2074l21 6 21 6 7 18-21-6-21-6zM1742 2092l21 6 7 18-21-6zM1728 2104l21 6 7 19-21-6zM1714 2117l21 6 21 6 7 18-21-5-21-6zM1721 2136l21 6 7 19-21-6zM1706 2150l22 5 7 20-22-5zM1691 2164l22 6 22 5 7 20-22-5-22-5zM1698 2185l22 5 7 20-7-2-7-1-7-2zM1683 2201l8 1 7 2 8 1 7 2 2 7-7-2-7-1-8-2-7-1zM1678 2206l8 2 7 1 8 2 7 1 7 2 3 7-7-2-8-1-7-2-8-1-7-2zM1703 2218l8 1 2 7-7-1z"/>
<path class="f111" d="M1756 1986l7 2 6 2 7 2 6 2 3 6-7-2-7-2-6-2-7-2zM1751 1989l7 3 7 2 6 2 7 2 2 5-6-1-7-3-6-2-7-2zM1754 1995l7 2 6 2 7 3 2 5-7-2-6-2-7-2zM1743 1997l7 2 6 2 7 2 6 18-20-6zM1729 2009l20 6 20 6 7 18-20-6-20-6zM1736 2027l20 6 7 17-21-6zM1722 2038l20 6 7 18-20-6zM1729 2056l20 6 7 18-21-6zM1714 2067l21 7 7 18-21-6zM1700 2079l21 7 21 6 7 18-21-6-21-6zM1707 2098l21 6 7 19-21-6zM1692 2110l22 7 7 19-22-6zM1699 2130l22 6 7 19-22-5zM1684 2144l22 6 7 20-22-6zM1669 2159l22 5 7 21-22-5zM1654 2174l22 6 22 5 8 20-8-1-7-2-8-1-7-2-8-1-7-2zM1653 2194l8 2 7 2 8 1 7 2 3 7-8-2-7-1-8-2-7-1zM1663 2203l8 2 7 1 3 7-8-1-7-1z"/>
<path class="f112" d="M1729 1977l7 2 7 2 6 3 7 2 2 6-7-3-6-2-7-2-7-2zM1725 1981l6 2 7 2 7 2 6 2 3 6-7-2-6-2-7-2-7-2zM1727 1987l7 2 7 2 6 2 7 2 2 6-6-2-7-2-7-2-7-2zM1722 1991l7 2 7 2 7 2 6 18-20-6zM1709 2003l20 6 7 18-21-7zM1715 2020l21 7 6 17-20-6zM1701 2031l21 7 7 18-21-7zM1687 2042l21 7 21 7 6 18-21-7-21-6zM1693 2061l21 6 7 19-21-7zM1679 2072l21 7 7 19-22-7zM1685 2091l22 7 7 19-22-7zM1671 2104l21 6 7 20-22-6zM1655 2117l22 7 22 6 7 20-22-6-22-6zM1662 2138l22 6 7 20-22-5zM1647 2153l22 6 7 21-22-6zM1631 2169l23 5 7 22-8-2-7-1-8-2-2-7-3-8zM1629 2182l7 2 2 7-7-2zM1638 2191l8 2 7 1 3 8-8-2-7-2z"/>
<path class="f113" d="M1702 1969l7 2 7 2 7 2 6 2 2 6-6-2-7-2-7-2-7-2zM1704 1975l7 2 7 2 7 2 2 6-7-2-7-2-6-2zM1700 1979l7 2 6 2 7 2 7 2 2 6-7-2-7-2-6-2-7-2zM1702 1985l7 2 6 2 7 2 7 18-20-6zM1688 1996l21 7 6 17-21-7zM1673 2006l21 7 21 7 7 18-21-7-21-7zM1680 2024l21 7 7 18-21-7zM1665 2035l22 7 6 19-21-8zM1672 2053l21 8 7 18-21-7zM1657 2065l22 7 6 19-21-7zM1642 2076l22 8 21 7 7 19-21-6-22-7zM1649 2097l22 7 6 20-22-7zM1633 2110l22 7 7 21-22-7zM1618 2125l22 6 22 7 7 21-22-6-23-6zM1602 2140l22 7 23 6 7 21-23-5-7-2-8-2-7-2-2-8-3-7zM1609 2163l7 2 8 2 7 2 2 7-7-2-7-1-8-2zM1611 2171l8 2 7 1 7 2 3 8-7-2-8-2-7-2zM1621 2180l8 2 2 7-8-1z"/>
<path class="f114" d="M1682 1962l6 3 7 2 7 2 2 6-7-2-6-2-7-3zM1677 1966l7 2 7 3 6 2 7 2 3 6-7-2-7-2-7-3-7-2zM1672 1969l7 3 7 2 7 3 7 2 2 6-7-2-7-3-7-2-7-3zM1660 1970l7 3 7 2 7 3 7 2 7 3 7 2 7 18-21-7-21-8zM1667 1988l21 8 6 17-21-7zM1652 1998l21 8 7 18-21-8zM1659 2016l21 8 7 18-22-7zM1644 2026l21 9 7 18-22-8zM1650 2045l22 8 7 19-22-7zM1635 2057l22 8 7 19-22-8zM1620 2069l22 7 7 21-23-8zM1626 2089l23 8 6 20-22-7zM1611 2103l22 7 7 21-22-6zM1595 2118l23 7 6 22-22-7zM1594 2138l8 2 2 8-8-2zM1589 2144l7 2 8 2 3 7-8-2-8-2zM1584 2149l7 2 8 2 8 2 2 8-8-2-7-2-8-2zM1594 2159l7 2 8 2 2 8-8-2-7-2z"/>
<path class="f115" d="M1654 1952l7 3 7 2 7 3 7 2 2 6-7-2-7-2-7-3-7-3zM1656 1958l7 3 7 3 7 2 2 6-7-3-7-2-7-3zM1651 1961l7 3 7 3 7 2 2 6-7-2-7-3-7-3zM1639 1962l7 3 7 2 7 3 7 18-21-8zM1646 1980l21 8 6 18-21-8zM1631 1989l21 9 7 18-22-8zM1637 2008l22 8 6 19-21-9zM1622 2018l22 8 6 19-22-8zM1628 2037l22 8 7 20-22-8zM1613 2048l22 9 7 19-22-7zM1597 2060l23 9 6 20-22-7zM1604 2082l22 7 7 21-22-7zM1588 2096l23 7 7 22-23-7zM1569 2124l8 2 2 8-8-2zM1572 2111l23 7 7 22-8-2-7-2-8-2-2-8-3-7zM1571 2132l8 2 8 2 7 2 2 8-7-2-8-2-8-2zM1581 2142l8 2 2 7-7-2z"/>
<path class="f116" d="M1633 1943l7 3 7 3 7 3 2 6-7-3-7-3-7-3zM1635 1949l7 3 7 3 7 3 2 6-7-3-7-2-7-3zM1630 1953l7 3 7 3 7 2 2 6-7-2-7-3-7-3zM1618 1953l7 3 7 3 7 3 7 18-22-9zM1624 1971l22 9 6 18-21-9zM1609 1980l22 9 6 19-22-9zM1615 1999l22 9 7 18-22-8zM1600 2009l22 9 6 19-22-9zM1606 2028l22 9 7 20-22-9zM1590 2040l23 8 7 21-23-9zM1574 2052l23 8 7 22-23-8zM1558 2065l23 9 23 8 7 21-23-7-23-8-2-8-3-7zM1559 2093l8 3 3 7-8-2zM1554 2098l8 3 8 2 2 8-8-2-7-3zM1565 2088l23 8 7 22-23-7-2-8-3-7zM1557 2106l7 3 8 2 2 8-8-3-7-2zM1559 2114l7 2 8 3 3 7-8-2-8-2z"/>
<path class="f117" d="M1611 1934l7 3 8 3 7 3 2 6-7-2-7-4-8-3zM1613 1940l8 3 7 4 7 2 2 7-7-3-7-3-7-3zM1608 1943l8 4 7 3 7 3 2 6-7-3-7-3-7-3zM1596 1943l7 3 8 4 7 3 6 18-22-9zM1602 1962l22 9 7 18-22-9zM1587 1970l22 10 6 19-22-10zM1593 1989l22 10 7 19-22-9zM1577 1999l23 10 6 19-22-9zM1561 2010l23 9 22 9 7 20-23-8-22-10zM1568 2030l22 10 7 20-23-8zM1551 2043l23 9 7 22-23-9zM1550 2062l8 3 2 8-7-3zM1545 2068l8 2 7 3 3 7-8-2-8-3zM1540 2072l7 3 8 3 8 2 2 8-8-3-7-2-8-3zM1542 2080l8 3 7 2 8 3 2 8-8-3-7-2-8-3zM1544 2088l8 3 7 2 3 8-8-3-7-2z"/>
<path class="f118" d="M1590 1925l7 3 7 3 7 3 2 6-7-3-7-3-7-3zM1592 1931l7 3 7 3 7 3 3 7-8-4-7-3-7-3zM1587 1934l7 3 7 3 7 3 3 7-8-4-7-3-7-3zM1574 1933l7 3 8 4 7 3 6 19-22-10zM1580 1952l22 10 7 18-22-10zM1564 1960l23 10 6 19-22-10zM1571 1979l22 10 7 20-23-10zM1555 1989l22 10 7 20-23-9zM1538 2000l23 10 7 20-23-9zM1545 2021l23 9 6 22-23-9zM1525 2047l8 2 2 8-8-3zM1528 2034l23 9 7 22-8-3-7-2-8-3-2-8-3-7zM1535 2057l8 3 7 2 3 8-8-2-8-3zM1537 2065l8 3 2 7-7-3z"/>
<path class="f119" d="M1568 1914l7 4 8 3 7 4 2 6-7-4-8-3-7-4zM1570 1920l7 4 8 3 7 4 2 6-7-3-8-4-7-3zM1565 1923l7 4 7 3 8 4 2 6-8-4-7-3-7-3zM1552 1923l7 3 8 4 7 3 6 19-22-11zM1558 1941l22 11 7 18-23-10zM1542 1949l22 11 7 19-23-10zM1548 1969l23 10 6 20-22-10zM1532 1979l23 10 6 21-23-10zM1515 1990l23 10 7 21-23-9-2-7-3-8zM1516 2016l8 3 2 8-8-3zM1518 2024l8 3 2 7-8-3zM1522 2012l23 9 6 22-23-9-2-7-2-8zM1520 2031l8 3 2 8-7-3zM1523 2039l7 3 3 7-8-2z"/>
<path class="f11a" d="M1546 1904l7 3 8 4 7 3 2 6-7-3-8-3-7-4zM1548 1910l7 4 8 3 7 3 2 7-7-4-8-3-7-3zM1542 1913l8 4 7 3 8 3 2 7-8-4-7-3-8-4zM1529 1911l8 4 7 4 8 4 6 18-22-11zM1536 1930l22 11 6 19-22-11zM1519 1938l23 11 6 20-23-11zM1525 1958l23 11 7 20-23-10zM1508 1968l24 11 6 21-23-10-2-7-3-8zM1507 1987l8 3 2 7-8-3zM1509 1994l8 3 3 8-8-4zM1512 2001l8 4 2 7-8-3zM1514 2009l8 3 2 7-8-3z"/>
<path class="f11b" d="M1531 1896l7 4 8 4 2 6-8-4-7-3zM1525 1898l8 5 7 3 8 4 2 7-8-4-7-4-8-4zM1527 1905l8 4 7 4 2 6-7-4-8-4zM1513 1918l23 12 6 19-23-11zM1498 1957l8 4 2 7-8-3zM1502 1947l23 11 7 21-24-11-2-7-2-7zM1500 1965l8 3 2 7-7-3zM1495 1969l8 3 7 3 3 8-8-4-8-3zM1497 1976l8 3 8 4 2 7-8-3-8-4z"/>
<path class="f11c" d="M1508 1884l7 4 8 4 8 4 2 7-8-5-7-3-8-5zM1510 1890l8 5 7 3 2 7-7-4-8-4zM1504 1893l8 4 8 4 7 4 2 6-8-4-7-4-8-4zM1506 1899l8 4 7 4 8 4 7 19-23-12zM1489 1905l24 13 6 20-23-12-2-7-3-7zM1488 1922l8 4 2 7-8-4zM1490 1929l8 4 2 7-8-4zM1492 1936l8 4 2 7-8-4zM1496 1926l23 12 6 20-23-11-2-7-2-7zM1494 1943l8 4 2 7-8-4zM1496 1950l8 4 2 7-8-4z"/>
<path class="f11d" d="M1492 1876l8 4 8 4 2 6-8-4-7-4zM1487 1877l8 5 7 4 8 4 2 7-8-4-7-5-8-4zM1489 1884l8 4 7 5 2 6-8-4-7-5zM1479 1895l8 4 2 6-8-4zM1483 1886l8 4 7 5 8 4 7 19-24-13-2-6-2-7zM1481 1901l8 4 2 7-7-4zM1484 1908l7 4 3 7-8-4zM1486 1915l8 4 2 7-8-4z"/>
<path class="f11e" d="M1469 1862l8 5 8 4 7 5 3 6-8-5-8-4-8-5zM1471 1868l8 5 8 4 2 7-8-4-8-5zM1473 1875l8 5 8 4 2 6-8-4-8-5zM1475 1881l8 5 2 6-8-4zM1477 1888l8 4 2 7-8-4z"/>
<path class="f11f" d="M1461 1857l8 5 2 6-8-5z"/>
<path class="f27" d="M2019 2210l19 3 8 15-19-3zM2027 2225l19 3 8 15-6-1-7-1-6-1zM2029 2239l6 1 6 1 7 1 6 1 3 5-7-1-6-1-6-1-7-1zM2031 2244l7 1 6 1 6 1 7 1 2 5-6-1-6-1-7-1-6-1zM2047 2251l6 1 6 1 3 5-6-1-7-1z"/>
<path class="f28" d="M1987 2149l19 4 8 15-19-4zM1995 2164l19 4 8 15-19-4zM1984 2176l19 3 19 4 8 15-19-3-19-4zM1992 2191l19 4 19 3 8 15-19-3-20-4zM1999 2206l20 4 8 15-20-3zM1988 2218l19 4 20 3 8 15-6-1-7-1-6-1-7-1-6-1-7-1zM1996 2234l7 1 6 1 7 1 6 1 7 1 2 5-6-1-6-1-7-1-7-1-6-1zM1999 2239l6 1 7 1 7 1 6 1 6 1 3 5-7-1-6-1-7-1-6-1-7-1zM2001 2244l7 1 6 1 7 1 3 5-7-1-6-1-7-1zM1997 2248l7 1 3 5-7-1z"/>
<path class="f29" d="M1957 2091l19 4 7 14-18-4zM1965 2105l18 4 8 15-19-4zM1953 2116l19 4 19 4 7 14-18-3-19-4zM1961 2131l19 4 18 3 8 15-19-4-19-3zM1968 2146l19 3 8 15-19-3zM1957 2157l19 4 19 3 8 15-19-3-20-3zM1964 2173l20 3 8 15-20-3zM1953 2184l19 4 20 3 7 15-19-3-20-3zM1960 2200l20 3 19 3 8 16-19-4-20-3zM1968 2215l20 3 8 16-20-4zM1956 2227l20 3 20 4 3 5 2 5 3 5-7-1-6-1-7-1-7-1-6-1-7-1zM1964 2243l7 1 6 1 7 1 7 1 6 1 3 5-6-1-7-1-7-1-6-1-7-1z"/>
<path class="f2a" d="M1940 2035l6 2 3 5-6-2zM1937 2039l6 1 6 2 2 4-6-1-6-1zM1939 2044l6 1 6 1 3 5-6-1-7-2zM1935 2047l6 1 7 2 6 1 7 15-19-4zM1942 2062l19 4 7 14-18-4zM1931 2072l19 4 18 4 8 15-19-4-19-4zM1938 2087l19 4 8 14-19-4zM1927 2098l19 3 19 4 7 15-19-4-19-4zM1934 2112l19 4 8 15-19-4zM1922 2124l20 3 19 4 7 15-19-4-19-3zM1930 2139l19 3 19 4 8 15-19-4-20-3zM1937 2154l20 3 7 16-19-4zM1925 2165l20 4 19 4 8 15-19-4-20-3zM1933 2181l20 3 7 16-19-4zM1921 2193l20 3 19 4 8 15-19-3-20-4zM1929 2208l20 4 19 3 8 15-20-3-20-3zM1936 2224l20 3 8 16-7-1-6-1-7-1zM1937 2239l7 1 7 1 6 1 7 1 3 5-7-1-6-1-7-1-7-1z"/>
<path class="f2b" d="M1916 2029l6 2 6 1 6 2 6 1 3 5-6-1-7-2-6-1-6-2zM1912 2033l6 1 6 2 6 1 7 2 2 5-6-2-6-1-6-2-6-1zM1915 2038l6 1 6 2 6 1 6 2 2 4-6-1-6-1-6-2-6-1zM1917 2043l6 1 6 2 6 1 7 15-18-5zM1905 2053l19 4 18 5 8 14-19-4-19-4zM1912 2068l19 4 7 15-18-4zM1900 2079l20 4 18 4 8 14-19-3-19-4zM1908 2094l19 4 7 14-19-4zM1896 2104l19 4 19 4 8 15-20-3-19-4zM1903 2120l19 4 8 15-20-4zM1910 2135l20 4 7 15-19-4zM1898 2146l20 4 19 4 8 15-20-4-19-3zM1906 2162l19 3 8 16-20-4zM1893 2173l20 4 20 4 8 15-20-3-20-4zM1901 2189l20 4 8 15-21-3zM1908 2205l21 3 7 16-20-3zM1896 2217l20 4 20 3 8 16-7-1-6-2-7-1-7-1-6-1-7-1zM1904 2233l7 1 6 1 7 1 7 1 6 2 3 5-7-1-6-2-7 0-7-1-7-2z"/>
<path class="f2c" d="M1885 2022l6 1 6 2 7 1 6 2 6 1 2 5-6-1-6-2-6-1-7-2-6-1zM1887 2027l6 1 7 2 6 1 6 2 3 5-7-2-6-1-6-2-7-1zM1883 2030l6 2 7 1 6 2 6 1 7 2 2 5-6-2-7-1-6-2-6-1-7-2zM1879 2034l6 1 7 2 6 1 6 2 7 1 6 2 7 14-19-4-19-4zM1886 2049l19 4 7 15-19-4zM1874 2059l19 5 19 4 8 15-20-4-19-5zM1881 2074l19 5 8 15-20-5zM1869 2085l19 4 20 5 7 14-19-4-20-4zM1876 2100l20 4 7 16-19-4zM1864 2111l20 5 19 4 7 15-19-4-20-4zM1871 2127l20 4 19 4 8 15-20-4-20-4zM1878 2142l20 4 8 16-20-4zM1866 2154l20 4 20 4 7 15-20-4-20-3zM1873 2170l20 3 8 16-20-3zM1860 2182l21 4 20 3 7 16-20-4-20-3zM1868 2198l20 3 20 4 8 16-20-4-21-3zM1875 2214l21 3 8 16-7-1-7-1-7-1zM1869 2228l7 1 7 1 7 1 7 1 7 1 2 5-7 0-7-1-6-2-7-1-7-1z"/>
<path class="f2d" d="M1859 2016l7 1 6 2 6 1 7 2 2 5-6-2-7-1-6-2-6-1zM1855 2019l7 2 6 1 6 2 7 1 6 2 2 5-6-2-6-1-6-2-7-1-6-2zM1858 2024l6 2 7 1 6 2 6 1 2 5-6-1-6-2-7-1-6-2zM1860 2029l6 2 7 1 6 2 7 15-19-5zM1848 2040l19 4 19 5 7 15-19-5-19-4zM1855 2055l19 4 7 15-19-4zM1842 2065l20 5 19 4 7 15-19-4-20-4zM1849 2081l20 4 7 15-19-4zM1837 2091l20 5 19 4 8 16-20-5-20-4zM1844 2107l20 4 7 16-20-4zM1851 2123l20 4 7 15-20-4zM1838 2134l20 4 20 4 8 16-20-4-21-4zM1845 2150l21 4 7 16-20-4zM1832 2162l21 4 20 4 8 16-21-4-20-4zM1840 2178l20 4 8 16-21-4zM1826 2190l21 4 21 4 7 16-20-4-21-3zM1834 2207l21 3 20 4 8 16-7-1-7-1-7-1-7-1-7-2-7-1zM1834 2222l7 1 7 1 7 2 7 1 7 1 3 5-7-1-7-1-7-1-7-1-7-1z"/>
<path class="f2e" d="M1834 2009l6 2 7 1 6 2 6 2 3 5-7-2-6-1-6-2-7-2zM1830 2013l6 1 7 2 6 2 6 1 3 5-7-1-6-2-6-1-7-2zM1832 2018l7 2 6 1 6 2 7 1 2 5-6-1-7-2-6-1-6-2zM1822 2020l6 2 7 1 6 2 6 1 7 2 6 1 7 15-19-4-19-5zM1829 2035l19 5 7 15-20-5zM1816 2045l19 5 20 5 7 15-20-5-19-5zM1823 2060l19 5 7 16-19-5zM1810 2071l20 5 19 5 8 15-20-5-20-4zM1817 2087l20 4 7 16-20-5zM1824 2102l20 5 7 16-20-5zM1811 2113l20 5 20 5 7 15-20-4-20-5zM1818 2129l20 5 7 16-20-4zM1804 2141l21 5 20 4 8 16-21-4-20-5zM1812 2157l20 5 8 16-21-4zM1798 2170l21 4 21 4 7 16-21-4-21-3zM1805 2187l21 3 8 17-21-4zM1791 2200l22 3 21 4 7 16-7-1-7-1-7-1-7-1-7-1-7-1zM1799 2217l7 1 7 1 7 1 7 1 7 1 3 6-7-1-7-1-8-1-7-1-7-1z"/>
<path class="f2f" d="M1808 2002l7 2 6 2 7 1 6 2 2 5-6-1-6-2-7-2-6-2zM1804 2005l7 2 6 2 7 2 6 2 2 5-6-2-6-1-7-2-7-2zM1806 2011l7 2 7 2 6 1 6 2 3 5-7-1-6-2-7-2-6-2zM1802 2014l7 2 6 2 7 2 7 15-20-6zM1789 2024l20 5 20 6 6 15-19-5-20-6zM1796 2039l20 6 7 15-20-5zM1783 2050l20 5 20 5 7 16-20-5-20-5zM1790 2066l20 5 7 16-20-5zM1797 2082l20 5 7 15-20-5zM1783 2092l21 5 20 5 7 16-20-5-21-4zM1790 2109l21 4 7 16-21-4zM1777 2120l20 5 21 4 7 17-21-5-20-5zM1784 2136l20 5 8 16-21-4zM1770 2148l21 5 21 4 7 17-21-4-21-5zM1777 2165l21 5 7 17-21-4zM1763 2178l21 5 21 4 8 16-22-3-21-4zM1770 2196l21 4 8 17-7-1-8-2-7-1zM1792 2216l7 1 2 6-7-2z"/>
<path class="f210" d="M1782 1994l7 2 6 2 7 2 6 2 3 5-7-2-7-2-6-2-6-2zM1778 1997l7 2 6 2 6 2 7 2 2 6-6-2-7-2-6-2-7-2zM1780 2003l7 2 6 2 7 2 6 2 3 5-7-2-7-2-6-2-7-2zM1782 2008l7 2 6 2 7 2 7 15-20-5zM1769 2018l20 6 7 15-20-5zM1776 2034l20 5 7 16-20-5zM1763 2044l20 6 7 16-21-6zM1769 2060l21 6 7 16-21-6zM1756 2071l20 5 21 6 7 15-21-5-20-5zM1763 2087l20 5 7 17-20-6zM1749 2098l21 5 20 6 7 16-20-5-21-5zM1756 2115l21 5 7 16-21-4zM1741 2126l22 6 21 4 7 17-21-5-22-4zM1748 2144l22 4 7 17-21-4zM1734 2156l22 5 21 4 7 18-21-5-22-4zM1741 2174l22 4 7 18-22-4zM1726 2188l22 4 22 4 7 17-7-1-8-1-7-1-7-1-7-2-7-1-3-6-2-6z"/>
<path class="f211" d="M1756 1986l7 2 6 2 7 2 6 2 3 5-7-2-7-2-6-2-7-2zM1758 1991l7 2 6 2 7 2 2 6-6-3-7-2-6-1zM1754 1994l7 3 6 1 7 2 6 3 2 5-6-2-7-2-6-2-7-2zM1743 1996l7 2 6 2 7 2 6 2 7 2 6 2 7 16-20-6-20-6zM1749 2012l20 6 7 16-20-6zM1736 2022l20 6 20 6 7 16-20-6-21-6zM1742 2038l21 6 6 16-20-5zM1728 2049l21 6 20 5 7 16-20-5-21-6zM1735 2065l21 6 7 16-21-6zM1721 2075l21 6 21 6 7 16-21-5-21-6zM1728 2092l21 6 7 17-21-6zM1735 2109l21 6 7 17-22-6zM1720 2121l21 5 7 18-21-5zM1705 2133l22 6 21 5 8 17-22-5-22-4zM1712 2152l22 4 7 18-22-4zM1697 2165l22 5 22 4 7 18-22-4-7-1-8-2-7-1zM1704 2184l7 1 8 2 7 1 3 6-8-1-7-2-8-1zM1699 2189l7 1 8 1 7 2 8 1 2 6-7-1-8-1-7-1-7-2zM1702 2195l7 2 7 1 8 1 7 1 3 6-8-1-7-1-8-1-7-1z"/>
<path class="f212" d="M1729 1977l7 2 7 2 6 3 7 2 2 5-7-2-6-2-7-2-7-2zM1731 1983l7 2 7 2 6 2 7 2 3 6-7-3-7-2-6-2-7-2zM1727 1986l7 2 7 2 6 2 7 2 2 6-6-2-7-2-7-2-7-2zM1722 1990l7 2 7 2 7 2 6 16-20-6zM1729 2006l20 6 7 16-20-6zM1715 2016l21 6 6 16-20-6zM1722 2032l20 6 7 17-21-6zM1707 2042l21 7 7 16-21-6zM1714 2059l21 6 7 16-21-6zM1700 2069l21 6 7 17-22-6zM1706 2086l22 6 7 17-22-5zM1692 2098l21 6 22 5 6 17-21-5-22-6zM1698 2115l22 6 7 18-22-6zM1683 2128l22 5 7 19-22-5zM1690 2147l22 5 7 18-22-5zM1675 2161l22 4 7 19-7-1-8-2-7-1zM1667 2177l8 1 7 2 7 1 8 2 7 1 2 6-7-1-7-2-8-1-7-1-7-2zM1670 2183l7 2 7 1 8 1 7 2 3 6-8-1-7-1-8-2-7-1z"/>
<path class="f213" d="M1702 1969l7 2 7 2 7 2 6 2 2 6-6-2-7-2-7-2-7-2zM1704 1975l7 2 7 2 7 2 6 2 3 5-7-2-7-2-7-2-6-2zM1700 1978l7 2 6 2 7 2 7 2 2 6-7-2-7-2-6-3-7-2zM1702 1983l7 2 6 3 7 2 7 16-21-6zM1688 1993l20 7 21 6 7 16-21-6-21-7zM1694 2009l21 7 7 16-21-6zM1680 2019l21 7 21 6 6 17-21-7-21-7zM1686 2035l21 7 7 17-21-7zM1671 2045l22 7 21 7 7 16-21-6-22-7zM1678 2062l22 7 6 17-21-6zM1663 2073l22 7 21 6 7 18-21-6-22-7zM1670 2091l22 7 6 17-21-5zM1655 2103l22 7 21 5 7 18-22-5-22-6zM1661 2122l22 6 7 19-22-6zM1646 2136l22 5 22 6 7 18-22-4-22-5zM1630 2150l23 6 22 5 7 19-7-2-8-1-7-2-8-1-7-2-8-1-2-7-3-7zM1637 2171l8 1 7 2 8 1 7 2 3 6-8-1-8-2-7-1-8-1zM1662 2182l8 1 2 7-7-2z"/>
<path class="f214" d="M1682 1962l6 3 7 2 7 2 2 6-7-3-6-2-7-2zM1677 1966l7 2 7 2 6 2 7 3 3 5-7-2-7-2-7-3-7-2zM1679 1971l7 2 7 3 7 2 2 5-7-2-7-2-7-2zM1681 1977l7 2 7 2 7 2 6 17-20-7zM1667 1985l21 8 6 16-21-7zM1673 2002l21 7 7 17-21-7zM1658 2011l22 8 6 16-21-7zM1665 2028l21 7 7 17-22-7zM1650 2038l21 7 7 17-22-7zM1656 2055l22 7 7 18-22-7zM1641 2066l22 7 7 18-22-6zM1648 2085l22 6 7 19-22-7zM1632 2097l23 6 6 19-22-6zM1616 2110l23 6 22 6 7 19-22-5-23-6zM1623 2130l23 6 7 20-23-6zM1615 2147l7 1 8 2 2 7-7-1-8-2zM1609 2152l8 2 8 2 7 1 3 7-8-2-8-1-7-2zM1619 2161l8 1 8 2 2 7-8-2-7-1z"/>
<path class="f215" d="M1654 1952l7 3 7 2 7 3 7 2 2 6-7-2-7-3-7-3-7-2zM1656 1958l7 2 7 3 7 3 2 5-7-2-7-3-7-3zM1651 1961l7 2 7 3 7 3 7 2 2 6-7-3-7-2-7-3-7-3zM1639 1960l7 3 7 3 7 3 7 3 7 2 7 3 7 16-21-8-21-8zM1646 1977l21 8 6 17-21-8zM1652 1994l21 8 7 17-22-8zM1637 2003l21 8 7 17-22-8zM1643 2020l22 8 6 17-21-7zM1628 2030l22 8 6 17-22-7zM1634 2048l22 7 7 18-22-7zM1619 2059l22 7 7 19-22-7zM1626 2078l22 7 7 18-23-6zM1610 2090l22 7 7 19-23-6zM1594 2104l22 6 7 20-23-6zM1592 2122l8 2 2 7-7-2zM1587 2127l8 2 7 2 3 7-8-2-7-2zM1590 2134l7 2 8 2 2 7-8-2-7-1zM1600 2124l23 6 7 20-8-2-7-1-8-2-2-7-3-7zM1592 2142l7 1 8 2 8 2 2 7-8-2-7-2-8-1z"/>
<path class="f216" d="M1633 1943l7 3 7 3 7 3 2 6-7-3-7-3-7-3zM1635 1949l7 3 7 3 7 3 2 5-7-2-7-3-7-4zM1630 1952l7 2 7 4 7 3 2 5-7-3-7-3-7-3zM1618 1951l7 3 7 3 7 3 7 17-22-8zM1624 1969l22 8 6 17-22-8zM1630 1986l22 8 6 17-21-8zM1615 1994l22 9 6 17-22-8zM1621 2012l22 8 7 18-22-8zM1606 2021l22 9 6 18-22-8zM1612 2040l22 8 7 18-22-7zM1596 2051l23 8 7 19-23-8zM1580 2063l23 7 23 8 6 19-22-7-23-7zM1587 2083l23 7 6 20-22-6zM1567 2109l8 2 2 7-8-2zM1571 2097l23 7 6 20-8-2-7-2-8-2-2-7-2-7zM1569 2116l8 2 8 2 7 2 3 7-8-2-8-2-7-2zM1579 2125l8 2 3 7-8-1zM1582 2133l8 1 2 8-8-2z"/>
<path class="f217" d="M1611 1934l7 3 8 3 7 3 2 6-7-3-7-3-8-3zM1613 1940l8 3 7 3 7 3 2 5-7-2-7-3-7-4zM1608 1943l8 2 7 4 7 3 2 5-7-3-7-3-7-3zM1596 1942l7 3 8 3 7 3 6 18-22-10zM1602 1959l22 10 6 17-21-9zM1609 1977l21 9 7 17-22-9zM1593 1985l22 9 6 18-22-9zM1599 2003l22 9 7 18-22-9zM1583 2012l23 9 6 19-22-9zM1567 2023l23 8 22 9 7 19-23-8-22-8zM1574 2043l22 8 7 19-23-7zM1557 2055l23 8 7 20-23-7-2-7-3-7zM1556 2073l8 3 2 7-8-3zM1551 2078l7 2 8 3 3 7-8-2-8-3zM1553 2085l8 3 8 2 2 7-8-2-8-3zM1564 2076l23 7 7 21-23-7-2-7-3-7zM1555 2092l8 3 8 2 2 7-8-2-8-2zM1557 2100l8 2 8 2 2 7-8-2-8-2z"/>
<path class="f218" d="M1590 1925l7 3 7 3 7 3 2 6-7-3-7-3-7-3zM1592 1931l7 3 7 3 7 3 3 5-8-2-7-4-7-3zM1587 1933l7 3 7 3 7 4 3 5-8-3-7-3-7-3zM1574 1932l7 3 8 4 7 3 6 17-22-9zM1580 1950l22 9 7 18-22-10zM1587 1967l22 10 6 17-22-9zM1571 1975l22 10 6 18-22-9zM1577 1994l22 9 7 18-23-9zM1561 2003l22 9 7 19-23-8zM1544 2014l23 9 7 20-23-9zM1551 2034l23 9 6 20-23-8zM1542 2050l7 2 8 3 2 7-7-3-8-2zM1536 2054l8 3 8 2 7 3 3 7-8-3-8-2-7-3zM1539 2061l7 3 8 2 8 3 2 7-8-3-7-2-8-3zM1541 2068l8 3 7 2 2 7-7-2-8-3zM1543 2075l8 3 2 7-8-2z"/>
<path class="f219" d="M1568 1914l7 4 8 3 7 4 2 6-7-4-8-3-7-4zM1570 1920l7 4 8 3 7 4 2 5-7-3-8-3-7-4zM1565 1923l7 3 7 4 8 3 2 6-8-4-7-3-7-3zM1552 1922l7 3 8 4 7 3 6 18-22-11zM1558 1939l22 11 7 17-23-10zM1564 1957l23 10 6 18-22-10zM1548 1965l23 10 6 19-23-10zM1554 1984l23 10 6 18-22-9zM1538 1994l23 9 6 20-23-9zM1521 2005l23 9 7 20-24-8-2-7-2-7zM1522 2030l7 3 3 7-8-3zM1524 2037l8 3 2 7-8-3zM1527 2026l24 8 6 21-8-3-7-2-8-3-2-7-3-7zM1534 2047l8 3 2 7-8-3z"/>
<path class="f21a" d="M1546 1904l7 3 8 4 7 3 2 6-7-3-8-4-7-3zM1548 1910l7 3 8 4 7 3 2 6-7-3-8-4-7-3zM1542 1912l8 4 7 3 8 4 2 6-8-4-7-3-8-4zM1535 1928l23 11 6 18-22-11zM1542 1946l22 11 7 18-23-10zM1525 1954l23 11 6 19-23-10zM1531 1974l23 10 7 19-23-9zM1511 1995l8 3 2 7-8-3zM1514 1984l24 10 6 20-23-9-2-7-3-7zM1513 2002l8 3 2 7-8-3zM1515 2009l8 3 2 7-8-3zM1517 2016l8 3 2 7-8-3zM1519 2023l8 3 2 7-7-3z"/>
<path class="f21b" d="M1531 1896l7 4 8 4 2 6-8-4-7-4zM1525 1898l8 4 7 4 8 4 2 6-8-4-7-4-8-4zM1527 1904l8 4 7 4 2 6-7-4-8-4zM1529 1910l8 4 7 4 8 4 6 17-23-11zM1512 1916l23 12 7 18-23-11zM1519 1935l23 11 6 19-23-11zM1502 1944l23 10 6 20-23-10-2-7-2-6zM1500 1961l8 3 2 7-8-4zM1502 1967l8 4 2 6-8-3zM1497 1971l7 3 8 3 2 7-8-3-7-3zM1508 1964l23 10 7 20-24-10-2-7-2-6zM1506 1981l8 3 2 7-7-3zM1509 1988l7 3 3 7-8-3z"/>
<path class="f21c" d="M1508 1884l7 4 8 4 8 4 2 6-8-4-7-4-8-4zM1510 1890l8 4 7 4 2 6-7-4-8-4zM1504 1892l8 4 8 4 7 4 2 6-8-4-7-4-8-4zM1506 1898l8 4 7 4 8 4 6 18-23-12zM1489 1904l23 12 7 19-24-11-2-7-2-6zM1490 1927l7 4 3 6-8-4zM1492 1933l8 4 2 7-8-4zM1495 1924l24 11 6 19-23-10-2-7-3-6zM1494 1940l8 4 2 7-8-4zM1496 1947l8 4 2 6-8-4zM1498 1953l8 4 2 7-8-3zM1494 1964l8 3 2 7-7-3z"/>
<path class="f21d" d="M1492 1876l8 4 8 4 2 6-8-4-7-4zM1487 1877l8 5 7 4 8 4 2 6-8-4-7-4-8-5zM1489 1883l8 5 7 4 2 6-8-4-7-5zM1479 1894l8 4 2 6-8-4zM1483 1885l8 4 7 5 8 4 6 18-23-12-2-6-2-7zM1481 1900l8 4 2 7-8-4zM1483 1907l8 4 2 6-8-4zM1485 1913l8 4 2 7-8-4zM1487 1920l8 4 2 7-7-4z"/>
<path class="f21e" d="M1469 1862l8 5 8 4 7 5 3 6-8-5-8-4-8-5zM1471 1868l8 5 8 4 2 6-8-4-8-5zM1473 1874l8 5 8 4 2 6-8-4-8-4zM1475 1881l8 4 2 6-8-4zM1477 1887l8 4 2 7-8-4z"/>
<path class="f21f" d="M1461 1857l8 5 2 6-8-5z"/>
<path class="f07" d="M2041 2235l7 0 6 1 3 7-6 0-7-1zM2031 2240l7 2 6 0 7 1 6 0 3 6-7 1-6 0-7 0-6-1zM2047 2250l6 0 7-1 3 7-7 1-6 0z"/>
<path class="f08" d="M2019 2193l19 5 8 19-19-4zM2027 2213l19 4 8 19-6-1-7 0-6-1zM2016 2228l6 2 7 2 6 2 6 1 3 7-6 0-7-2-6-1-6-2zM2012 2234l7 3 6 2 6 1 3 9-7-2-6-1-6-3zM2008 2240l7 3 6 3 3 9-7-3-6-3z"/>
<path class="f09" d="M2003 2159l19 6 8 16-19-6zM2011 2175l19 6 8 17-19-5zM2000 2187l19 6 8 20-19-7zM1989 2199l19 7 19 7 8 21-6-2-7-2-6-2-7-2-6-3-7-2zM1996 2221l7 2 6 3 7 2 3 9-7-3-6-3-7-2zM1999 2229l7 2 6 3 3 9-7-3-7-2zM2001 2238l7 2 3 9-7-3zM1978 2239l6 1 7 2 6 2 7 2 3 11-7-3-6-2-7-1-7-2z"/>
<path class="f0a" d="M1965 2089l19 5 7 14-19-6zM1972 2102l19 6 8 13-19-5zM1980 2116l19 5 8 14-19-5zM1988 2130l19 5 8 15-19-6zM1977 2138l19 6 19 6 7 15-19-6-19-6zM1984 2153l19 6 8 16-19-6zM1992 2169l19 6 8 18-19-6zM1981 2179l19 8 8 19-19-7zM1969 2192l20 7 7 22-19-7zM1957 2210l20 4 19 7 3 8 2 9 3 8-7-2-6-2-7-2-6-1-7-1-6-1zM1944 2234l7 1 7 1 7 1 6 1 7 1 2 10-6-1-7 0-7-2-6-1-7-1z"/>
<path class="f0b" d="M1928 2027l6 1 7 2 6 1 2 4-6-1-6-2-7-1zM1930 2031l7 1 6 2 6 1 3 4-7-1-6-2-6-1zM1927 2033l6 2 6 1 6 2 7 1 2 4-6-1-7-2-6-1-6-2zM1935 2039l6 1 7 2 6 1 7 13-18-5zM1943 2051l18 5 8 12-19-4zM1931 2059l19 5 19 4 7 13-19-5-18-5zM1939 2071l18 5 19 5 8 13-19-5-19-5zM1946 2084l19 5 7 13-18-6zM1954 2096l18 6 8 14-19-6zM1961 2110l19 6 8 14-19-7zM1969 2123l19 7 8 14-19-6zM1957 2131l20 7 7 15-19-7zM1965 2146l19 7 8 16-19-7zM1973 2162l19 7 8 18-19-8zM1961 2172l20 7 8 20-20-7zM1949 2186l20 6 8 22-20-4zM1937 2206l20 4 8 27-7-1-7-1-7-1zM1911 2228l6 2 7 1 7 1 6 1 7 1 3 10-7-1-7-1-6-1-7-1-7-2z"/>
<path class="f0c" d="M1897 2019l7 2 6 1 6 2 6 1 6 2 2 4-6-2-6-1-6-2-6-1-6-2zM1900 2023l6 2 6 1 6 2 6 1 6 2 3 4-6-2-6-1-6-2-7-1-6-2zM1902 2027l6 2 7 1 6 2 6 1 2 4-6-1-6-2-6-1-7-2zM1898 2030l6 1 7 2 6 1 6 2 6 1 6 2 8 12-19-5-19-4zM1905 2042l19 4 19 5 7 13-19-5-19-5zM1912 2054l19 5 8 12-19-5zM1920 2066l19 5 7 13-19-6zM1927 2078l19 6 8 12-20-6zM1934 2090l20 6 7 14-19-7zM1942 2103l19 7 8 13-19-6zM1930 2110l20 7 19 6 8 15-20-7-19-7zM1938 2124l19 7 8 15-20-7zM1945 2139l20 7 8 16-20-7zM1933 2148l20 7 20 7 8 17-20-7-20-6zM1941 2166l20 6 8 20-20-6zM1929 2182l20 4 8 24-20-4zM1896 2199l20 4 21 3 7 28-7-1-6-1-7-1-7-1-6-2-7-1zM1876 2223l7 1 7 1 7 1 7 1 7 1 2 10-7 0-7-2-7-1-6 0-7-1z"/>
<path class="f0d" d="M1872 2014l6 1 7 2 6 1 6 1 3 4-7-1-6-2-6-1-7-1zM1874 2018l7 1 6 1 6 2 7 1 2 4-6-1-7-2-6-1-6-2zM1877 2021l6 2 6 1 7 2 6 1 2 4-6-1-6-2-7-1-6-2zM1879 2025l6 2 7 1 6 2 7 12-19-5zM1886 2037l19 5 7 12-19-6zM1893 2048l19 6 8 12-19-6zM1901 2060l19 6 7 12-19-6zM1908 2072l19 6 7 12-19-6zM1915 2084l19 6 8 13-19-6zM1903 2090l20 7 19 6 8 14-20-7-19-7zM1911 2103l19 7 8 14-20-7zM1918 2117l20 7 7 15-19-7zM1926 2132l19 7 8 16-20-7zM1913 2142l20 6 8 18-20-5zM1901 2156l20 5 20 5 8 20-20-4-20-4zM1888 2174l21 4 20 4 8 24-21-3-20-4zM1854 2193l21 3 21 3 8 28-7-1-7-1-7-1-7-1-7 0-7-1zM1841 2219l7 1 7 1 7 1 7 1 7 0 3 11-7-1-7-1-7-1-7-1-7-1z"/>
<path class="f0e" d="M1840 2006l7 2 6 1 6 2 7 1 6 2 2 4-6-2-6-1-7-2-6-1-6-2zM1843 2010l6 2 6 1 7 2 6 1 6 2 3 3-7-1-6-1-6-2-7-1-6-2zM1845 2014l6 2 7 1 6 2 6 1 7 1 2 4-6-1-7-2-6-1-6-2-7-1zM1841 2016l6 2 7 1 6 2 6 1 7 2 6 1 7 12-19-5-19-5zM1848 2027l19 5 19 5 7 11-19-5-19-5zM1855 2038l19 5 19 5 8 12-20-6-19-6zM1862 2048l19 6 20 6 7 12-20-6-19-7zM1869 2059l19 7 20 6 7 12-19-6-20-7zM1876 2071l20 7 19 6 8 13-20-7-20-7zM1883 2083l20 7 8 13-20-7zM1891 2096l20 7 7 14-20-7zM1898 2110l20 7 8 15-20-6zM1886 2120l20 6 20 6 7 16-20-6-20-5zM1893 2137l20 5 8 19-20-5zM1881 2152l20 4 8 22-21-4zM1847 2167l21 4 20 3 8 25-21-3-21-3zM1833 2190l21 3 8 29-7-1-7-1-7-1zM1799 2214l7 1 7 1 7 1 7 1 7 0 7 1 3 10-7-1-7 0-7-1-8-1-7-1-7-1z"/>
<path class="f0f" d="M1815 2000l6 2 7 1 6 2 6 1 3 4-7-1-6-2-7-2-6-1zM1817 2004l6 1 7 2 6 2 7 1 2 4-6-2-7-1-6-2-7-2zM1819 2007l7 2 6 2 7 1 6 2 2 4-6-2-7-2-6-1-7-2zM1821 2011l7 2 6 1 7 2 7 11-20-6zM1828 2021l20 6 7 11-20-6zM1835 2032l20 6 7 10-20-6zM1842 2042l20 6 7 11-20-6zM1849 2053l20 6 7 12-20-7zM1856 2064l20 7 7 12-19-6zM1864 2077l19 6 8 13-20-6zM1871 2090l20 6 7 14-20-6zM1878 2104l20 6 8 16-20-6zM1865 2114l21 6 7 17-20-5zM1852 2127l21 5 20 5 8 19-20-4-21-4zM1839 2143l21 5 21 4 7 22-20-3-21-4zM1826 2164l21 3 7 26-21-3zM1791 2185l21 3 21 2 8 29-7-1-7 0-7-1-7-1-7-1-7-1zM1792 2213l7 1 2 10-7-1z"/>
<path class="f010" d="M1789 1992l6 2 7 2 6 2 7 2 2 4-6-2-7-2-7-2-6-2zM1791 1996l6 2 7 2 7 2 6 2 2 3-6-2-7-2-6-2-7-2zM1793 1999l7 2 6 2 7 2 6 2 2 4-6-2-7-2-6-2-7-2zM1802 2005l6 2 7 2 6 2 7 10-19-6zM1809 2015l19 6 7 11-20-7zM1815 2025l20 7 7 10-20-6zM1822 2036l20 6 7 11-20-7zM1829 2046l20 7 7 11-20-6zM1836 2058l20 6 8 13-21-7zM1843 2070l21 7 7 13-20-7zM1851 2083l20 7 7 14-20-6zM1838 2091l20 7 20 6 8 16-21-6-20-6zM1845 2108l20 6 8 18-21-5zM1832 2122l20 5 8 21-21-5zM1818 2139l21 4 8 24-21-3zM1783 2156l22 4 21 4 7 26-21-2-21-3zM1748 2178l21 3 22 4 8 29-7-1-8-1-7-1-7-1-8 0-7-1z"/>
<path class="f011" d="M1763 1984l6 2 7 2 6 2 7 2 2 4-7-2-6-2-7-2-6-2zM1765 1988l6 2 7 2 6 2 7 2 2 3-6-2-7-2-7-2-6-2zM1767 1991l6 2 7 2 7 2 6 2 2 4-6-2-7-2-7-2-6-2zM1782 1999l7 2 6 2 7 2 7 10-20-6zM1789 2009l20 6 6 10-20-6zM1795 2019l20 6 7 11-20-7zM1802 2029l20 7 7 10-20-6zM1809 2040l20 6 7 12-20-7zM1816 2051l20 7 7 12-20-7zM1823 2063l20 7 8 13-21-7zM1810 2070l20 6 21 7 7 15-20-7-21-6zM1817 2085l21 6 7 17-21-6zM1803 2096l21 6 21 6 7 19-20-5-21-5zM1811 2117l21 5 7 21-21-4zM1776 2130l21 4 21 5 8 25-21-4-22-4zM1762 2152l21 4 8 29-22-4zM1726 2174l22 4 7 31-7-1-7-1-7-1-3-11-2-10zM1714 2183l7 1 8 1 2 10-7 0-8-1zM1702 2193l7 0 7 1 8 1 7 0 3 11-7-1-8 0-7-1-8-1z"/>
<path class="f012" d="M1743 1978l6 2 7 2 7 2 2 4-7-2-7-2-6-2zM1745 1982l6 2 7 2 7 2 2 3-7-2-7-2-6-2zM1747 1985l6 2 7 2 7 2 2 4-7-2-7-2-6-3zM1742 1986l7 2 6 3 7 2 7 2 6 2 7 2 7 10-20-6-20-7zM1749 1996l20 7 20 6 6 10-20-7-20-7zM1775 2012l20 7 7 10-20-7zM1782 2022l20 7 7 11-20-8zM1789 2032l20 8 7 11-20-7zM1796 2044l20 7 7 12-20-7zM1803 2056l20 7 7 13-20-6zM1789 2062l21 8 7 15-21-7zM1796 2078l21 7 7 17-21-6zM1782 2090l21 6 8 21-21-6zM1768 2105l22 6 21 6 7 22-21-5-21-4zM1754 2124l22 6 7 26-21-4zM1718 2143l22 5 22 4 7 29-21-3-22-4zM1689 2170l7 0 8 1 7 1 8 1 7 1 3 11-8-1-7-1-7-1-8 0-7-1zM1669 2179l8 1 7 0 8 1 7 1 8 0 7 1 2 11-7-1-7 0-8-1-8-1-7 0-7 0z"/>
<path class="f013" d="M1716 1970l7 2 6 2 7 2 7 2 2 4-7-3-7-1-7-2-6-3zM1718 1973l6 3 7 2 7 1 7 3 2 3-7-2-7-2-6-2-7-2zM1720 1977l7 2 6 2 7 2 7 2 2 3-7-2-7-2-6-2-7-2zM1722 1980l7 2 6 2 7 2 7 10-21-7zM1728 1989l21 7 6 9-21-7zM1734 1998l21 7 20 7 7 10-20-7-21-8zM1762 2015l20 7 7 10-21-7zM1768 2025l21 7 7 12-21-8zM1775 2036l21 8 7 12-21-8zM1761 2041l21 7 21 8 7 14-21-8-21-7zM1768 2055l21 7 7 16-21-7zM1775 2071l21 7 7 18-21-6zM1761 2083l21 7 8 21-22-6zM1747 2099l21 6 8 25-22-6zM1710 2113l22 6 22 5 8 28-22-4-22-5zM1674 2135l22 4 22 4 8 31-7-1-8-1-7-1-8-1-7 0-8-1zM1637 2167l7 0 8 0 7 0 7 1 8 0 7 1 8 1 3 11-8-1-7 0-8-1-7 0-8 0-7 0-7 0zM1662 2179l7 0 3 12-8-1z"/>
<path class="f014" d="M1688 1962l7 2 7 2 7 2 7 2 2 3-7-1-7-2-7-3-7-2zM1690 1965l7 2 7 3 7 2 7 1 2 4-7-2-7-2-7-2-7-3zM1692 1968l7 3 7 2 7 2 7 2 2 3-7-2-7-2-7-2-7-2zM1701 1974l7 2 7 2 7 2 6 9-21-7zM1707 1982l21 7 6 9-20-7zM1714 1991l20 7 7 9-21-8zM1720 1999l21 8 21 8 6 10-21-8-21-8zM1747 2017l21 8 7 11-21-8zM1733 2020l21 8 21 8 7 12-21-7-21-9zM1740 2032l21 9 7 14-21-8zM1747 2047l21 8 7 16-21-7zM1754 2064l21 7 7 19-21-7zM1739 2076l22 7 7 22-21-6zM1725 2092l22 7 7 25-22-5zM1688 2107l22 6 8 30-22-4zM1629 2130l22 1 23 4 7 34-7-1-8 0-7-1-7 0-8 0-7 0-3-12-2-13zM1619 2157l8-2 7 0 3 12-7 2-8 3z"/>
<path class="f015" d="M1661 1952l7 3 7 2 7 2 6 3 2 3-6-2-7-3-7-2-7-2zM1663 1956l7 2 7 2 7 3 6 2 2 3-6-2-7-2-7-3-7-2zM1672 1961l7 3 7 2 6 2 2 4-6-3-7-2-7-3zM1681 1967l7 2 6 3 7 2 6 8-20-7zM1687 1975l20 7 7 9-21-8zM1693 1983l21 8 6 8-21-8zM1699 1991l21 8 6 10-21-9zM1705 2000l21 9 21 8 7 11-21-8-21-9zM1712 2011l21 9 7 12-22-9zM1718 2023l22 9 7 15-22-9zM1725 2038l22 9 7 17-22-8zM1710 2047l22 9 22 8 7 19-22-7-22-8zM1717 2068l22 8 8 23-22-7zM1680 2079l23 6 22 7 7 27-22-6-22-6zM1666 2102l22 5 8 32-22-4zM1592 2141l7-4 7-4 8-1 7-1 8-1 3 12-8 1-8 1-7 3-7 2-7 5zM1609 2147l7-3 8-1 8-1 2 13-7 0-8 2-7 3z"/>
<path class="f016" d="M1640 1944l7 3 7 3 7 2 2 4-7-3-7-3-7-3zM1642 1947l7 3 7 3 7 3 2 3-7-3-7-3-7-3zM1644 1950l7 3 7 3 7 3 7 2 2 3-7-2-7-3-7-3-8-3zM1660 1959l7 3 7 2 7 3 6 8-21-8zM1666 1967l21 8 6 8-22-9zM1671 1974l22 9 6 8-22-9zM1677 1982l22 9 6 9-21-9zM1684 1991l21 9 7 11-22-10zM1690 2001l22 10 6 12-21-9zM1697 2014l21 9 7 15-22-9zM1703 2029l22 9 7 18-22-9zM1688 2039l22 8 7 21-22-7zM1673 2053l22 8 22 7 8 24-22-7-23-6zM1658 2072l22 7 8 28-22-5zM1570 2115l7-5 3 12-8 3zM1580 2122l6-6 8-3 7-3 2 12-7 2-7 4-7 5zM1582 2133l7-5 7-4 7-2 3 11-7 4-7 4-7 4zM1598 2099l23-3 22 2 23 4 8 33-23-4-22-1-8 1-7 1-8 1-3-11-2-12z"/>
<path class="f017" d="M1618 1935l8 3 7 3 7 3 2 3-7-3-8-3-7-3zM1620 1938l7 3 8 3 7 3 2 3-8-3-7-3-7-3zM1622 1941l7 3 7 3 8 3 1 3-7-3-7-3-7-3zM1638 1950l7 3 8 3 7 3 6 8-22-9zM1644 1958l22 9 5 7-21-9zM1650 1965l21 9 6 8-21-10zM1656 1972l21 10 7 9-22-10zM1662 1981l22 10 6 10-22-10zM1668 1991l22 10 7 13-22-10zM1675 2004l22 10 6 15-22-9zM1681 2020l22 9 7 18-22-8zM1666 2030l22 9 7 22-22-8zM1651 2046l22 7 7 26-22-7zM1555 2092l7-6 2 9-7 5zM1557 2100l7-5 8-4 2 9-7 5-7 5zM1567 2105l7-5 3 10-7 5zM1613 2066l22 2 23 4 8 30-23-4-22-2zM1577 2110l7-4 7-3 7-4 3 11-7 3-8 3-6 6z"/>
<path class="f018" d="M1597 1926l7 3 7 3 7 3 2 3-7-3-7-3-7-3zM1599 1929l7 3 7 3 7 3 2 3-7-3-7-3-7-3zM1601 1932l7 3 7 3 7 3 2 3-7-3-7-3-8-3zM1617 1941l7 3 7 3 7 3 6 8-21-9zM1623 1949l21 9 6 7-22-10zM1628 1955l22 10 6 7-22-10zM1634 1962l22 10 6 9-22-10zM1640 1971l22 10 6 10-22-10zM1646 1981l22 10 7 13-23-9zM1652 1995l23 9 6 16-22-9zM1659 2011l22 9 7 19-22-9zM1538 2061l7-7 3 10-7 6zM1643 2023l23 7 7 23-22-7zM1541 2070l7-6 7-5 2 8-7 6-7 6zM1543 2079l7-6 7-6 7-5 3 10-8 4-7 6-6 6zM1552 2082l7-6 8-4 2 9-7 5-7 6zM1628 2041l23 5 7 26-23-4zM1562 2086l7-5 3 10-8 4zM1569 2081l22-11 22-4 8 30-23 3-7 4-7 3-7 4-3-10-2-9z"/>
<path class="f019" d="M1575 1916l8 4 7 3 7 3 2 3-7-3-8-3-7-3zM1577 1920l7 3 8 3 7 3 2 3-8-3-7-3-7-3zM1579 1923l7 3 7 3 8 3 1 3-7-3-7-3-8-4zM1573 1922l7 3 8 4 7 3 7 3 8 3 7 3 6 8-22-10-22-9zM1601 1939l22 10 5 6-22-9zM1606 1946l22 9 6 7-22-9zM1612 1953l22 9 6 9-22-10zM1618 1961l22 10 6 10-22-9zM1624 1972l22 9 6 14-22-9zM1630 1986l22 9 7 16-22-8zM1522 2033l6-8 3 9-7 7zM1524 2041l7-7 2 8-7 8zM1637 2003l22 8 7 19-23-7zM1533 2042l7-5 3 8-7 6zM1536 2051l7-6 7-6 7-4 2 9-7 5-7 5-7 7zM1545 2054l7-5 7-5 3 9-7 6-7 5zM1621 2017l22 6 8 23-23-5zM1555 2059l7-6 2 9-7 5zM1562 2053l21-10 23-4 22 2 7 27-22-2-22 4-22 11-2-9-3-10z"/>
<path class="f01a" d="M1553 1906l8 4 7 3 7 3 2 4-7-4-8-3-7-3zM1555 1910l7 3 8 3 7 4 2 3-8-4-7-3-7-3zM1557 1913l7 3 7 3 8 4 1 2-7-3-7-3-8-3zM1551 1913l7 3 8 3 7 3 6 8-23-9zM1579 1930l22 9 5 7-22-9zM1584 1937l22 9 6 7-23-9zM1589 1944l23 9 6 8-23-8zM1595 1953l23 8 6 11-23-8zM1601 1964l23 8 6 14-23-8zM1515 2009l7-8 2 8-7 8zM1517 2017l7-8 2 8-6 9zM1607 1978l23 8 7 17-23-7zM1520 2026l6-9 2 8-6 8zM1526 2017l21-16 7 25-7 5-7 6-7 5-2-8-3-9zM1591 1992l23 4 23 7 6 20-22-6-23-3zM1540 2037l7-6 7-5 3 9-7 4-7 6zM1554 2026l22-9 22-3 23 3 7 24-22-2-23 4-21 10-3-9-2-9z"/>
<path class="f01b" d="M1531 1895l7 4 8 4 7 3 2 4-7-4-8-3-8-4zM1532 1899l8 4 8 3 7 4 2 3-8-3-7-4-8-3zM1534 1903l8 3 7 4 8 3 1 3-7-3-7-3-8-4zM1529 1903l7 3 8 4 7 3 5 8-22-8zM1556 1921l23 9 5 7-22-8zM1562 1929l22 8 5 7-22-8zM1567 1936l22 8 6 9-22-7zM1497 1975l7-8 2 10-6 9zM1573 1946l22 7 6 11-22-6zM1508 1983l7-7 3 9-7 7zM1511 1992l7-7 2 8-7 9zM1579 1958l22 6 6 14-22-5zM1513 2002l7-9 2 8-7 8zM1520 1993l21-15 21-6 23 1 22 5 7 18-23-4-22 1-22 8-21 16-2-8-2-8zM1547 2001l22-8 22-1 7 22-22 3-22 9z"/>
<path class="f01c" d="M1508 1883l7 4 8 4 8 4 1 4-7-4-8-3-7-4zM1510 1888l7 4 8 3 7 4 2 4-7-4-8-3-7-3zM1512 1893l7 3 8 3 7 4 2 3-7-3-8-3-7-3zM1506 1894l8 3 7 3 8 3 5 10-23-6zM1511 1907l23 6 22 8 6 8-23-7-22-3zM1492 1933l7-2 2 5-7 4zM1517 1919l22 3 23 7 5 7-22-5-23 0zM1494 1940l7-4 2 5-7 5zM1496 1946l7-5 2 5-7 5zM1498 1951l7-5 2 5-7 7zM1501 1936l21-5 23 0 22 5 6 10-23-4-22 0-21 9-2-5-2-5zM1500 1958l7-7 2 6-7 4zM1495 1969l7-8 7-4 2 5-7 5-7 8zM1504 1967l7-5 2 6-7 9zM1507 1951l21-9 22 0 23 4 6 12-23-3-22 3-21 10-2-6-2-5zM1506 1977l7-9 2 8-7 7zM1513 1968l21-10 22-3 23 3 6 15-23-1-21 6-21 15-2-8-3-9z"/>
<path class="f01d" d="M1492 1875l8 4 8 4 2 5-8-4-8-4zM1487 1876l7 4 8 4 8 4 2 5-8-4-8-4-7-3zM1489 1882l7 3 8 4 8 4 2 4-8-3-8-3-7-4zM1479 1895l8 1 2 6-7 0zM1483 1884l8 3 7 4 8 3 5 13-22-5-2-6-2-6zM1482 1902l7 0 2 6-7 0zM1484 1908l7 0 2 6-7 0zM1486 1914l7 0 2 6-7 1zM1489 1902l22 5 6 12-22 1-2-6-2-6zM1488 1921l7-1 2 5-7 2zM1490 1927l7-2 2 6-7 2zM1495 1920l22-1 5 12-21 5-2-5-2-6z"/>
<path class="f01e" d="M1469 1861l8 5 8 4 7 5 2 5-7-4-8-4-8-4zM1471 1868l8 4 8 4 2 6-8-4-8-3zM1473 1875l8 3 8 4 2 5-8-3-8-2zM1475 1882l8 2 2 6-8-2zM1477 1888l8 2 2 6-8-1z"/>
<path class="f01f" d="M1461 1857l8 4 2 7-8-5z"/>
<path class="f13" d="M2073 2336l7 1 6 1 3 6-7-1-6-1zM2076 2342l6 1 7 1 2 5-6-1-6-1zM2072 2346l7 1 6 1 6 1 3 6-6-1-7-1-6-1zM2075 2352l6 1 7 1 6 1 3 5-6-1-7-1-6 0zM2084 2358l7 1 6 1 3 6-6-1-7-1zM2087 2364l7 1 6 1 3 5-6-1-7 0zM2097 2370l6 1 3 6-7-1zM2099 2376l7 1 3 5-7 0z"/>
<path class="f14" d="M2048 2286l7 1 6 1 3 5-7-1-6-1zM2045 2290l6 1 6 1 7 1 2 6-6-1-6-1-7-1zM2047 2296l7 1 6 1 6 1 3 5-6-1-7-1-6-1zM2050 2301l6 1 7 1 6 1 9 17-20-3-3-6-2-5zM2044 2300l6 1 3 6-7-1zM2046 2306l7 1 2 5-6 0zM2043 2311l6 1 6 0 3 6-6-1-7-1zM2058 2318l20 3 8 17-6-1-7-1-6-1-3-6-3-5zM2052 2317l6 1 3 6-6-1zM2055 2323l6 1 3 5-7-1zM2057 2328l7 1 3 6-7-1zM2067 2335l6 1 3 6-6-1zM2070 2341l6 1 3 5-7-1z"/>
<path class="f15" d="M2020 2275l6 2 7 1 6 1 6 1 3 6-6-1-6-1-7-2-6-1zM2023 2281l6 1 7 2 6 1 3 5 2 6 3 5-6-1-7-1-6-1-3-6-2-5zM2016 2280l7 1 3 6-7-1zM2042 2285l6 1 3 5-6-1zM2019 2286l7 1 2 5-7-1zM2015 2290l6 1 7 1 3 6-7-1-6-1zM2018 2296l6 1 7 1 6 1 7 1 2 6-6-1-6-1-7-1-7-1zM2014 2301l6 1 7 1 7 1 6 1 6 1 3 6-6-1-7-2-6-1-7-1-7-1zM2016 2306l7 1 7 1 2 6-6-1-7-1z"/>
<path class="f16" d="M2003 2278l7 1 6 1 3 6-7-1-6-1zM1987 2280l6 1 6 1 7 2 6 1 7 1 2 5-6-1-7-1-6-1-7-1-6-1zM1989 2286l6 1 7 1 6 1 7 1 3 6-7-1-6-1-7-1-6-1zM1992 2292l6 1 7 1 6 1 7 1 2 6-6-1-7-1-6-2-6 0zM1995 2298l6 0 6 2 7 1 2 5-6-1-7-1-6-1zM1997 2303l6 1 7 1 6 1 3 6-6-1-7-1-6-1zM1987 2307l6 1 3 5-7-1z"/>
<path class="f17" d="M1960 2276l7 1 6 1 7 1 7 1 2 6-7-1-6-1-7-2-7-1zM1956 2280l6 1 7 1 7 2 6 1 7 1 3 6-7-1-6-2-7-1-7-1-6-1zM1952 2285l7 1 6 1 7 1 7 1 6 2 7 1 3 6 2 5 3 6-7-1-6-1-7-1-7-1-6-2-7-1zM1953 2301l7 1 7 1 6 2 7 1 7 1 2 5-6 0-7-2-7-1-6-1-7-1z"/>
<path class="f18" d="M1927 2270l6 1 7 1 7 1 6 1 7 2 2 5-6-1-7-1-7-1-6-1-7-2zM1929 2275l7 2 6 1 7 1 7 1 3 6-7-1-7-1-6-2-7-1zM1911 2278l7 1 7 1 7 1 7 1 6 2 7 1 8 17-7-1-7-1-7-1-7-1-6-1-7-1zM1919 2296l7 1 6 1 7 1 7 1 7 1 3 6-7-1-7-1-7-1-7-1-6-1z"/>
<path class="f19" d="M1899 2265l7 1 7 1 7 2 7 1 2 5-7-1-7-1-7-1-6-1zM1895 2270l7 1 6 1 7 1 7 1 7 1 3 6-7-1-7-1-7-1-7-1-6-1zM1891 2275l7 1 6 1 7 1 8 18-7-1-7-1-7-1zM1891 2292l7 1 7 1 7 1 7 1 3 6-7-1-7-1-7-1-7-1z"/>
<path class="f1a" d="M1865 2259l7 1 7 1 7 2 6 1 7 1 3 6-7-1-7-1-7-2-7-1-7-1zM1860 2264l7 1 7 1 7 1 7 2 7 1 3 6-7-1-7-1-7-2-7-1-7-1zM1849 2268l7 1 7 1 7 1 7 1 7 2 7 1 7 18-7-1-6-1-7-1-7-1-7-2-7-1zM1857 2286l7 1 7 2 7 1 7 1 6 1 3 6-7-1-7-1-7-1-7-1-7-2zM1852 2291l7 1 7 2 7 1 7 1 3 6-7-1-7-1-7-1-7-1z"/>
<path class="f1b" d="M1830 2253l7 1 7 1 7 2 7 1 7 1 2 6-7-1-6-1-7-1-7-2-7-1zM1833 2259l7 1 7 2 7 1 6 1 3 6-7-1-7-1-7-1-7-2zM1828 2264l7 1 7 2 7 1 8 18-7-1-7-1-7-1zM1821 2281l8 1 7 1 7 1 7 1 7 1 2 6-7-1-7-1-7-1-7-1-7-1zM1824 2287l7 1 7 1 7 1 7 1 3 7-7-1-7-1-7-1-8-1z"/>
<path class="f1c" d="M1802 2248l7 1 7 2 7 1 7 1 3 6-7-1-8-1-7-1-7-1zM1797 2253l7 2 7 1 7 1 8 1 7 1 2 6-7-1-7-1-7-1-7-1-7-1zM1785 2257l7 1 8 2 7 1 7 1 7 1 7 1 8 19-7-1-8-1-7-1-7-1-7-1-7-1zM1786 2276l7 1 7 1 7 1 7 1 7 1 3 6-7-1-7-1-8-1-7-1-7-1zM1788 2282l7 1 7 1 8 1 7 1 7 1 2 7-7-1-7-1-7-1-7-1-7-1z"/>
<path class="f1d" d="M1771 2237l7 1 7 1 7 2 3 6-7-1-8-2-7-1zM1766 2242l7 1 7 1 8 2 7 1 7 1 2 7-7-2-7-1-7-1-7-1-7-1zM1769 2249l7 1 7 1 7 1 7 1 3 7-8-2-7-1-7-1-7-1zM1764 2254l7 1 7 1 7 1 8 20-7-1-8-1-7-1zM1756 2272l8 1 7 1 7 1 8 1 2 6-7-1-7-1-8-1-7-1zM1781 2281l7 1 3 7-8-1z"/>
<path class="f1e" d="M1742 2231l7 2 7 1 7 1 8 2 2 6-7-1-7-1-7-2-8-1zM1737 2237l7 1 8 1 7 2 7 1 3 7-8-2-7-1-7-1-7-2zM1732 2242l8 1 7 2 7 1 7 1 8 2 2 6-7-1-7-1-8-2-7-1-7-1zM1720 2247l7 1 8 1 7 1 7 1 8 2 7 1 7 20-7-1-8-1-7-1-7-1-8-2-7-1zM1720 2266l7 1 7 1 8 2 7 1 7 1 3 6-7 0-8-2-7-1-8-1-7-1z"/>
<path class="f1f" d="M1691 2222l7 1 8 2 7 1 2 7 3 7 2 7-22-4zM1713 2226l7 1 8 2 7 1 7 1 2 7-7-1-7-1-8-2-7-1zM1715 2233l7 1 8 2 7 1 3 6-8-1-7-1-7-1zM1718 2240l7 1 7 1 3 7-8-1-7-1zM1698 2243l22 4 7 20-7-1-8-1-7-1-2-7-3-7zM1690 2242l8 1 2 7-7-1zM1693 2249l7 1 3 7-8-1zM1688 2255l7 1 8 1 2 7-8-1-7-1zM1712 2265l8 1 2 7-7-1z"/>
<path class="f110" d="M1673 2212l8 1 7 2 8 1 7 2 3 7-8-2-7-1-8-1-7-2zM1668 2218l8 1 7 2 8 1 7 21-8-1-7-2-8-1zM1660 2237l8 1 7 1 8 1 7 2 3 7-8-1-8-2-7-1-7-1zM1663 2244l7 1 7 1 8 2 8 1 2 7-7-1-8-1-7-1-8-1zM1680 2254l8 1 2 7-8-1z"/>
<path class="f111" d="M1648 2200l8 2 7 1 3 8-8-2-7-2zM1643 2206l8 1 7 2 8 2 7 1 3 7-8-1-7-2-8-1-7-2zM1646 2213l7 2 8 1 7 2 7 21-7-1-8-1-7-1-2-8-3-7zM1638 2212l8 1 2 8-8-2zM1633 2218l7 1 8 2 3 7-8-1-8-2zM1635 2225l8 2 8 1 2 8-8-1-7-2zM1645 2235l8 1 7 1 3 7-8-1-8-1z"/>
<path class="f112" d="M1623 2188l8 1 7 2 3 7-8-1-7-2zM1618 2194l8 1 7 2 8 1 7 2 3 7-8-1-7-2-8-1-7-2zM1613 2200l8 1 7 2 8 1 7 2 3 7-8-1-7-2-8-1-8-2zM1623 2209l8 1 7 2 2 7-7-1-8-1zM1625 2217l8 1 2 7-7-1z"/>
<path class="f113" d="M1603 2169l8 2 3 7-8-2zM1598 2175l8 1 8 2 7 2 2 8-7-2-8-2-7-1zM1608 2184l8 2 7 2 3 7-8-1-8-2zM1610 2192l8 2 3 7-8-1z"/>
<path class="f114" d="M1578 2155l8 2 8 2 2 8-8-2-8-2zM1580 2163l8 2 8 2 7 2 3 7-8-1-7-2-8-2z"/>
<path class="f115" d="M1563 2129l8 3 2 8-7-3zM1557 2135l9 2 7 3 8 2 3 7-8-2-8-2-8-2zM1568 2145l8 2 8 2 2 8-8-2-8-2zM1570 2153l8 2 2 8-7-2z"/>
<path class="f116" d="M1549 2104l8 2 2 8-8-2zM1543 2109l8 3 8 2 2 8-8-3-8-2zM1553 2119l8 3 8 2 2 8-8-3-8-2zM1555 2127l8 2 3 8-9-2z"/>
<path class="f117" d="M1534 2078l8 2 2 8-8-2zM1536 2086l8 2 3 8-9-3zM1538 2093l9 3 7 2 3 8-8-2-8-3zM1541 2101l8 3 2 8-8-3z"/>
<path class="f118" d="M1527 2054l8 3 2 8-8-3zM1529 2062l8 3 3 7-8-2zM1532 2070l8 2 2 8-8-2z"/>
<path class="f119" d="M1510 2021l8 3 2 7-7-2zM1513 2029l7 2 3 8-8-3zM1515 2036l8 3 2 8-8-3z"/>
<path class="f11a" d="M1501 1991l8 3 3 7-8-3zM1504 1998l8 3 2 8-8-3zM1506 2006l8 3 2 7-8-3zM1508 2013l8 3 2 8-8-3z"/>
<path class="f11b" d="M1493 1961l7 4 3 7-8-3zM1499 1983l8 4 2 7-8-3z"/>
<path class="f11c" d="M1488 1947l8 3 2 7-7-3zM1491 1954l7 3 2 8-7-4z"/>
<path class="f03" d="M2075 2352l7-3 3 7-7 3zM2085 2356l6-2 7-3 2 7-6 3-7 2zM2087 2363l7-2 6-3 3 8-7 2-6 2zM2096 2368l7-2 3 8-6 2zM2100 2376l6-2 3 8-7 1z"/>
<path class="f04" d="M2052 2315l7-2 3 7-7 4zM2055 2324l7-4 2 6-7 4zM2057 2330l7-4 3 7-7 2zM2067 2333l7-4 6-4 7-4 3 7-7 4-7 4-6 3zM2070 2339l6-3 7-4 7-4 2 8-6 3-7 3-7 4zM2072 2346l7-4 7-3 6-3 3 7-7 3-6 3-7 3zM2082 2349l6-3 7-3 3 8-7 3-6 2z"/>
<path class="f05" d="M2051 2285l7-3 6-2 7-3 8 21-20 15-3-9-2-10zM2044 2285l7 0 3 9-7 3zM2027 2296l7 1 6 1 7-1 7-3 2 10-7 4-6 1-7-2-6-1zM2017 2302l6 2 7 2 2 10-6-1-7-2zM2043 2309l6-1 7-4 3 9-7 2-6 1zM2059 2313l20-15 8 23-7 4-6 4-7 4-3-7-2-6z"/>
<path class="f06" d="M2046 2267l6-1 7-2 7-1 2 7-7 2-6 2-7 2zM2022 2273l7 3 2 10-6-2zM2048 2276l7-2 6-2 7-2 3 7-7 3-6 2-7 3zM2018 2281l7 3 6 2 7 0 6-1 3 12-7 1-6-1-7-1-6-3zM2008 2288l6 2 7 3 6 3 3 10-7-2-6-2-7-2zM1997 2296l7 2 6 2 7 2 2 11-6-2-7-2-6-2zM1987 2304l6 1 3 10-7-1z"/>
<path class="f07" d="M2027 2247l7 2 6 1 7 0 3 7-7 1-6-1-7-1zM2024 2255l6 1 7 1 6 1 3 9 2 9 3 9-7 0-6 1-7 0-2-10-3-11zM2017 2252l7 3 2 10-6-3zM2043 2258l7-1 6 0 7-1 3 7-7 1-7 2-6 1zM2013 2260l7 2 6 3 3 11-7-3-6-3zM2003 2265l6 3 7 2 6 3 3 11-7-3-6-2-7-2zM1972 2269l7 1 6 2 7 1 3 11 2 12 3 11-7-2-6-1-7-2zM1992 2273l7 2 6 2 7 2 6 2 3 12-7-3-6-2-7-2-6-2zM1995 2284l6 2 7 2 2 12-6-2-7-2zM1960 2298l7 1 6 2 7 1 7 2 2 10-6-2-7-1-7-1-7-2z"/>
<path class="f08" d="M2021 2246l6 1 3 9-6-1zM2004 2246l7 3 6 3 3 10-7-2-6-3zM1994 2252l6 2 7 3 6 3 3 10-7-2-6-3-7-2zM1983 2260l6 2 7 1 7 2 2 12-6-2-7-2-7-1zM1952 2265l7 1 6 2 7 1 8 33-7-1-6-2-7-1zM1926 2292l6 2 7 1 7 1 7 1 7 1 2 10-6-1-7-1-7-1-7-1-7-2z"/>
<path class="f09" d="M1960 2246l7 2 7 0 6 1 7 2 7 1 2 11-7-1-6-2-7-1-6-1-7-2zM1949 2255l7 0 7 1 7 2 6 1 7 1 2 12-6-2-7-1-7-1-6-2-7-1zM1911 2259l7 1 7 1 7 1 7 1 6 1 7 1 8 33-7-1-7-1-7-1-7-1-6-2-7-1zM1898 2287l7 1 7 2 7 1 7 1 2 10-6-1-7-1-7-1-7-2z"/>
<path class="f0a" d="M1933 2242l7 1 7 1 7 1 6 1 3 10-7-1-7 0-6-2-7-1zM1916 2249l6 1 7 2 7 0 7 1 6 2 3 10-7-1-6-1-7-1-7-1-7-1zM1891 2256l7 1 6 1 7 1 8 32-7-1-7-2-7-1zM1864 2281l7 2 7 1 7 1 6 1 7 1 3 10-7 0-7-2-7-1-7-1-7-2zM1859 2290l7 1 7 2 7 1 3 9-7-1-7-1-7-2z"/>
<path class="f0b" d="M1899 2236l7 2 7 0 7 2 7 1 6 1 3 10-7 0-7-2-6-1-7-1-7-1zM1881 2244l7 1 7 1 7 1 7 1 7 1 2 11-7-1-7-1-6-1-7-1-7-1zM1849 2250l7 1 7 1 7 1 7 1 7 1 7 1 7 31-7-1-6-1-7-1-7-1-7-2-7-1zM1835 2277l7 1 8 1 7 1 7 1 2 10-7-1-7-1-7-1-7-1zM1824 2285l7 1 7 1 7 1 7 1 7 1 3 9-7 0-7-1-8-2-6 0-8-1z"/>
<path class="f0c" d="M1865 2232l7 1 7 1 7 1 6 0 7 1 3 11-7-1-7-1-7-1-7-1-7 0zM1846 2240l7 0 7 1 7 2 7 0 7 1 3 11-7-1-7-1-7-1-7-1-7-1zM1828 2247l7 1 7 1 7 1 8 30-7-1-8-1-7-1zM1800 2273l7 1 7 1 7 1 7 0 7 1 3 10-7-1-7-1-7-1-7-1-8 0zM1788 2281l7 0 7 2 8 0 7 1 7 1 2 10-7-1-7-1-7-1-7-1-7-1z"/>
<path class="f0d" d="M1823 2227l7 1 7 0 7 1 7 1 7 1 7 1 2 11-7-2-7-1-7 0-7-1-7-1-7-1zM1811 2235l7 1 7 1 7 1 7 1 7 1 3 10-7-1-7-1-7-1-7-1-8 0zM1785 2242l7 1 7 1 7 1 7 1 8 0 7 1 7 30-7-1-7 0-7-1-7-1-7-1-7-1zM1756 2268l8 1 7 1 7 1 8 0 7 1 7 1 2 10-7-2-7 0-7-1-7-1-8-1-7 0zM1781 2280l7 1 3 9-8-1z"/>
<path class="f0e" d="M1787 2223l7 0 7 1 7 1 7 1 8 1 2 10-7-1-7-1-7 0-7-1-8-1zM1775 2231l7 1 7 1 8 1 7 1 7 0 2 11-7-1-7-1-7-1-7-1-7-1zM1741 2238l7 1 8 0 7 1 7 1 8 0 7 1 8 30-7-1-8 0-7-1-7-1-8-1-7-1zM1720 2264l7 1 7 1 8 0 7 1 7 1 3 10-7-2-8 0-7-1-7-1-8 0z"/>
<path class="f0f" d="M1762 2210l8 0 7 1 7 1 8 1 2 10-7 0-7-2-8 0-7-1zM1751 2218l7 1 7 1 7 1 8 0 7 2 2 10-7-1-7-1-7-1-8 0-7-1zM1731 2227l8 0 7 1 7 1 7 1 8 0 7 1 3 10-8 0-7-1-7-1-8 0-7-1-7-1zM1697 2234l22 2 7 1 8 0 7 1 8 29-7-1-8 0-7-1-7-1-8 0-7-1-3-10-2-9zM1687 2253l8 0 7 0 3 10-7 0-8-1zM1712 2264l8 0 2 10-7-1z"/>
<path class="f010" d="M1727 2205l7 1 7 1 7 1 7 1 7 1 3 10-7-1-7-1-8-1-7 0-7-1zM1714 2215l7 0 8 1 7 1 7 0 8 1 2 11-7-1-7-1-8 0-7-1-7-1zM1717 2225l7 1 7 1 3 10-8 0-7-1zM1668 2233l7 0 7 0 8 1 7 0 3 10-8 0-7-1-7 0-8 0zM1663 2243l7 0 8 0 7 0 7 1 8 0 2 9-7 0-8 0-7-1-7 0-8 0zM1680 2252l7 1 3 9-7 0z"/>
<path class="f011" d="M1694 2192l8 1 2 10-7 0zM1645 2203l7 0 8-1 7 0 7 0 8 0 7 0 8 1 7 0 8 1 2 11 3 10 2 11-22-2-7 0-8-1-7 0-7 0-8 0-7 0-3-10-2-10zM1712 2204l7 1 8 0 2 11-8-1-7 0zM1635 2225l8-1 7-1 3 10-8 1-7 0zM1645 2234l8-1 7 0 8 0 2 10-7 0-8-1-7 1z"/>
<path class="f012" d="M1613 2201l7-4 7-2 8-2 7-2 8 0 7 0 7-1 8 1 7 0 7 0 8 1 3 11-8-1-7 0-8 0-7 0-7 0-8 1-7 0-7 2-8 1-7 2-7 2zM1623 2208l7-2 8-1 7-2 3 10-8 1-7 1-8 2zM1625 2217l8-2 7-1 8-1 2 10-7 1-8 1-7 1z"/>
<path class="f013" d="M1608 2178l7-4 7-2 3 11-7 2-8 6zM1610 2191l8-6 7-2 7-2 8-2 7 0 7 0 8 0 2 11-7 1-7 0-8 0-7 2-8 2-7 2-7 4z"/>
<path class="f014" d="M1580 2162l8-3 7-5 7-5 3 16-7 5-8 2-7 3zM1598 2170l7-5 7-5 7-3 3 15-7 2-7 4-8 4zM1622 2172l8-3 7-2 3 12-8 2-7 2z"/>
<path class="f015" d="M1567 2141l8-4 7-4 3 12-7 4-8 3zM1570 2152l8-3 7-4 7-4 3 13-7 5-8 3-7 2zM1602 2149l7-2 3 13-7 5z"/>
<path class="f016" d="M1543 2112l7-6 3 10-7 5zM1553 2116l7-6 2 10-7 5zM1555 2125l7-5 8-5 2 10-7 5-7 5zM1558 2135l7-5 7-5 8-3 2 11-7 4-8 4-7 5z"/>
<path class="f017" d="M1536 2086l7-7 3 9-7 7zM1539 2095l7-7 6-6 3 10-7 5-7 6zM1541 2103l7-6 7-5 2 8-7 6-7 6zM1550 2106l7-6 3 10-7 6zM1560 2110l7-5 3 10-8 5z"/>
<path class="f018" d="M1529 2059l7-8 2 10-7 7zM1531 2068l7-7 3 9-7 7zM1534 2077l7-7 2 9-7 7z"/>
<path class="f019" d="M1513 2034l7-8 2 7-7 9zM1515 2042l7-9 2 8-6 9zM1526 2050l7-8 3 9-7 8z"/>
<path class="f01a" d="M1504 2001l7-9 2 10-6 8zM1507 2010l6-8 2 7-6 9zM1509 2018l6-9 2 8-6 9zM1511 2026l6-9 3 9-7 8z"/>
<path class="f01b" d="M1500 1986l6-9 2 6-6 10zM1502 1993l6-10 3 9-7 9z"/>
<path class="f01c" d="M1489 1951l7-5 2 5-7 6zM1491 1957l7-6 2 7-7 6zM1493 1964l7-6 2 3-7 8z"/>
<path class="f26" d="M2062 2267l6 1 3 5-7-1zM2060 2285l19 3 9 15-7-1-6-1-7-1-3-5-2-5zM2068 2300l7 1 6 1 7 1 3 5-7-1-6-1-7-1zM2071 2305l7 1 6 1 7 1 3 5-7-1-6 0-7-1zM2074 2311l7 1 6 0 7 1 3 5-7-1-6 0-7-1zM2077 2316l7 1 6 0 7 1 3 5-7 0-6-1-7-1zM2087 2322l6 1 7 0 3 6-7-1-6-1zM2090 2327l6 1 7 1 3 5-7-1-6-1zM2099 2333l7 1 3 5-7-1zM2102 2338l7 1 2 5-6-1z"/>
<path class="f27" d="M2027 2248l7 1 6 1 7 1 2 5-6-1-6-1-7-1zM2024 2252l6 1 7 1 6 1 3 5 2 5 3 5-6-1-7-1-6-1-3-5-2-5zM2043 2255l6 1 7 1 6 1 3 5-6-1-7-1-6-1zM2046 2260l6 1 7 1 6 1 3 5-6-1-7-1-7-1zM2048 2265l7 1 7 1 2 5-6-1-7-1zM2051 2270l7 1 6 1 7 1 8 15-19-3-3-5-3-5zM2032 2267l6 1 7 1 6 1 3 5-6-1-7-1-6-1zM2035 2272l6 1 7 1 6 1 3 5-6-1-7-1-7-1zM2044 2278l7 1 6 1 3 5-7-1-6-1zM2053 2284l7 1 3 5-7-1zM2056 2289l7 1 2 5-6-1zM2059 2294l6 1 3 5-6-1z"/>
<path class="f28" d="M2021 2247l6 1 3 5-6-1zM2004 2249l7 1 6 1 7 1 3 5-7-1-7-1-6-1zM2000 2253l7 1 6 1 7 1 7 1 2 5-6-1-7-1-7-1-6-1zM2003 2258l6 1 7 1 7 1 6 1 3 5-7-1-6-1-7-1-7-1zM1999 2262l6 1 7 1 7 1 6 1 7 1 3 5-7-1-6-1-7-1-7-1-6-1zM2002 2267l6 1 7 1 7 1 6 1 7 1 2 5-6-1-7-1-6 0-7-1-6-1zM2005 2273l6 1 7 1 6 0 7 1 3 5-7 0-6-1-7-1-6-1z"/>
<path class="f29" d="M1967 2248l7 1 6 1 7 1 7 1 6 1 3 5-7-1-7-1-6-1-7-1-7-1zM1969 2253l7 1 7 1 6 1 7 1 7 1 2 5-6-1-7-1-7-1-6-1-7-1zM1972 2258l7 1 6 1 7 1 3 5 3 6 3 5-7-1-6-1-7-1zM1992 2261l7 1 3 5-7-1zM1995 2266l7 1 3 6-7-1zM1998 2272l7 1 3 5-7-1zM1967 2272l7 1 7 1 7 1 6 1 3 5-7-1-6-1-7-1-7-1z"/>
<path class="f2a" d="M1933 2243l7 1 7 1 7 1 6 1 7 1 2 5-6-1-7-1-7-1-6-1-7-1zM1936 2248l7 1 6 1 7 1 7 1 6 1 3 5-7-1-6-1-7-1-7-1-6-1zM1932 2252l7 1 6 1 7 1 7 1 6 1 7 1 9 16-7-1-7-1-7-1-7-1-6-1-7-1zM1933 2267l7 1 7 1 6 1 7 1 7 1 3 5-7-1-7-1-7-1-6-1-7 0z"/>
<path class="f2b" d="M1899 2238l7 0 7 2 7 1 7 0 6 2 3 5-7-1-7-1-6-1-7-1-7-1zM1902 2243l7 1 7 1 6 1 7 1 7 1 3 5-7-1-7-1-7-1-7-1-7-1zM1891 2246l7 1 6 1 7 1 7 1 7 1 7 1 8 16-7-1-7-1-7-1-7-1-7-1-7-1zM1898 2262l7 1 7 1 7 1 7 1 7 1 3 6-7-1-7-2-7 0-7-1-7-1z"/>
<path class="f2c" d="M1865 2232l7 1 7 1 7 1 6 2 7 1 3 5-7-1-7-1-7-1-7-1-7-1zM1867 2238l7 1 7 1 7 1 7 1 7 1 2 5-6-1-7-1-7-1-7-1-7-1zM1870 2243l7 1 7 1 7 1 7 16-7-1-6 0-7-1zM1863 2258l8 1 7 1 7 1 6 0 7 1 3 6-7-1-7-1-7-1-7-1-7-1zM1866 2263l7 1 7 1 3 6-7-1-7-1z"/>
<path class="f2d" d="M1837 2228l7 1 7 1 7 1 7 1 2 6-7-1-7-1-7-2-7 0zM1832 2232l7 2 7 0 7 2 7 1 7 1 3 5-7-1-7-1-7-1-7-1-7-1zM1828 2237l7 1 7 1 7 1 7 1 7 1 7 1 8 17-7-1-8-1-7-1-7-1-7-1-7-1zM1828 2253l7 1 7 1 7 1 7 1 7 1 3 5-7-1-7-1-7-1-7 0-8-1zM1830 2259l8 1 7 0 7 1 7 1 7 1 3 6-8-1-7-1-7-1-7-1-7-1z"/>
<path class="f2e" d="M1801 2223l7 1 7 1 8 1 7 1 7 1 2 6-7-2-7-1-7-1-7-1-7-1zM1796 2227l8 1 7 1 7 1 7 1 7 1 3 6-7-1-7-1-8-1-7-1-7-1zM1785 2231l7 1 7 1 7 1 7 1 8 1 7 1 7 17-7-1-7-1-7-1-7-1-8-1-7-1zM1792 2248l7 1 8 1 7 1 7 1 7 1 2 6-7-1-7-1-7-1-7-1-8-1zM1794 2254l8 1 7 1 7 1 7 1 7 1 3 5-7-1-7-1-8 0-7-1-7-1z"/>
<path class="f2f" d="M1762 2211l8 1 7 1 7 1 8 2 2 5-7-1-7-1-8-1-7-1zM1765 2217l7 1 8 1 7 1 7 1 7 2 3 5-8-1-7-1-7-1-7-1-7-1zM1760 2222l8 1 7 1 7 1 7 1 7 1 3 6-7-1-7-1-7-1-8-1-7-1zM1763 2228l7 1 8 1 7 1 7 17-7-1-8-1-7-1zM1755 2244l8 0 7 1 7 1 8 1 7 1 2 6-7-1-7-1-8-1-7-1-7-1zM1780 2252l7 1 7 1 3 6-7-1-8-1z"/>
<path class="f210" d="M1734 2206l7 1 7 2 7 1 7 1 3 6-7-1-7-1-8-2-7-1zM1729 2211l7 1 7 1 8 2 7 1 7 1 3 6-8-1-7-1-7-2-7-1-8-1zM1724 2216l7 1 8 1 7 1 7 2 7 1 3 6-7-1-8-2-7-1-7-1-8-1zM1719 2221l7 1 8 1 7 1 7 1 8 2 7 1 7 17-7-1-8 0-7-1-7-1-8-1-7-1zM1718 2239l8 1 7 1 8 1 7 1 7 1 3 5-8 0-7-1-7-1-8-1-7-1z"/>
<path class="f211" d="M1689 2199l7 1 8 2 7 1 3 6 2 6 3 6-23-3zM1711 2203l8 1 7 1 8 1 2 6-7-1-8-1-7-1zM1714 2209l7 1 8 1 2 6-7-1-8-1zM1716 2215l8 1 2 6-7-1zM1696 2218l23 3 7 19-8-1-7-1-8-1-2-6-3-7zM1689 2217l7 1 2 6-7-1zM1684 2222l7 1 7 1 3 7-8-1-7-1zM1686 2229l7 1 8 1 2 6-7-1-8-1zM1711 2238l7 1 3 6-8-1z"/>
<path class="f212" d="M1665 2188l7 2 7 1 8 2 7 1 8 1 2 7-8-2-7-1-7-1-8-2-7-1zM1667 2195l7 1 8 2 7 1 7 19-7-1-8-1-7-1zM1651 2211l8 1 7 2 8 1 7 1 8 1 2 6-7-1-8-1-8-1-7-1-8-1zM1661 2219l7 1 8 1 8 1 2 7-7-1-8-1-8-1zM1679 2228l7 1 2 6-7-1z"/>
<path class="f213" d="M1632 2176l7 2 8 1 7 1 8 2 3 6-8-1-8-1-7-2-8-1zM1626 2181l8 2 8 1 7 2 8 1 8 1 2 7-8-1-7-2-8-1-8-1-7-2zM1644 2191l8 1 7 2 8 1 7 20-8-1-7-2-8-1-2-7-3-6zM1629 2188l7 2 8 1 2 7-7-2-8-1zM1623 2194l8 1 8 1 7 2 3 6-8-1-8-1-7-1zM1633 2202l8 1 8 1 2 7-8-1-7-1zM1643 2210l8 1 2 7-7-1z"/>
<path class="f214" d="M1604 2157l8 2 7 2 3 7-8-2-8-2zM1606 2164l8 2 8 2 7 1 8 2 2 7-7-2-8-1-8-2-7-2zM1609 2171l7 2 8 2 8 1 2 7-8-2-7-1-8-2zM1611 2178l8 2 7 1 3 7-8-1-8-2zM1621 2187l8 1 2 7-8-1z"/>
<path class="f215" d="M1584 2140l8 2 2 7-8-2zM1579 2145l7 2 8 2 8 1 7 2 3 7-8-2-8-1-7-2-8-2zM1596 2156l8 1 2 7-7-1z"/>
<path class="f216" d="M1562 2114l7 2 3 7-8-2zM1564 2121l8 2 7 2 3 8-8-3-8-2zM1566 2128l8 2 8 3 2 7-8-2-7-2zM1569 2136l7 2 8 2 2 7-7-2-8-2z"/>
<path class="f217" d="M1547 2090l8 2 2 8-8-3zM1542 2095l7 2 8 3 2 7-7-2-8-3zM1552 2105l7 2 8 2 2 7-7-2-8-2zM1554 2112l8 2 2 7-8-2zM1556 2119l8 2 2 7-7-1z"/>
<path class="f218" d="M1530 2059l9 2 2 7-8-2zM1533 2066l8 2 2 7-8-2zM1535 2073l8 2 2 8-8-3zM1537 2080l8 3 8 2 2 7-8-2-8-2zM1539 2088l8 2 2 7-7-2z"/>
<path class="f219" d="M1526 2044l8 3 2 7-8-2zM1528 2052l8 2 3 7-9-2z"/>
<path class="f21a" d="M1505 1999l8 3 2 7-8-3zM1507 2006l8 3 2 7-8-3zM1509 2013l8 3 2 7-7-3zM1512 2020l7 3 3 7-8-3zM1514 2027l8 3 2 7-8-2z"/>
<path class="f21b" d="M1499 1978l7 3 3 7-8-3zM1501 1985l8 3 2 7-8-3zM1503 1992l8 3 2 7-8-3z"/>
<path class="f21c" d="M1488 1943l8 4 2 6-8-3zM1490 1950l8 3 2 8-8-4zM1492 1957l8 4 2 6-8-3z"/>
<path class="f00" d="M2109 2437l19 1 9 25-20-4z"/>
<path class="f01" d="M2100 2415l20-1 8 24-19-1zM2089 2437l20 0 8 22-20-2z"/>
<path class="f02" d="M2089 2386l7-1 6-2 7-1 3 8-7 1-6 1-7 1zM2052 2398l20-2 20-3 7-1 6-1 7-1 8 24-20 1-20 1-20 1zM2060 2417l20-1 20-1 9 22-20 0-20-2zM2049 2434l20 1 20 2 8 20-19-2-21-2z"/>
<path class="f03" d="M2052 2352l7-1 7-2 2 5-6 2-7 2zM2035 2360l20-2 7-2 6-2 7-2 3 7 2 6 3 7-20 5-19 2zM2078 2359l7-3 2 7-7 2zM2080 2365l7-2 3 7-7 2zM2024 2379l20 0 19-2 20-5 3 7 3 7 3 7-20 3-20 2-20 0zM2083 2372l7-2 6-2 4 8-7 2-7 1zM2086 2379l7-1 7-2 2 7-6 2-7 1zM2012 2396l20 2 20 0 8 19-20-1-20-1zM2020 2415l20 1 20 1 9 18-20-1-20-1zM2008 2431l21 2 20 1 8 19-20-2-20-2z"/>
<path class="f04" d="M2019 2313l7 2 6 1 7 2 3 7 2 8 3 7-20-1-3-9-2-8zM2039 2318l7-2 6-1 3 9-7 2-6-1zM2042 2325l6 1 7-2 2 6-6 2-7 1zM2044 2333l7-1 6-2 3 5-6 3-7 2zM2007 2335l7 1 6 2 7 1 20 1 3 6 2 6 3 6-20 2-20-1zM2047 2340l7-2 6-3 7-2 3 6-7 3-7 3-6 1zM2050 2346l6-1 7-3 7-3 2 7-6 3-7 2-7 1zM2066 2349l6-3 3 6-7 2zM1995 2356l20 3 20 1 9 19-20 0-20-2zM1983 2375l21 2 20 2 8 19-20-2-20-2zM1992 2394l20 2 8 19-20-2zM1979 2411l21 2 20 2 9 18-21-2-20-2zM1967 2427l21 2 20 2 9 18-21-1-21-2z"/>
<path class="f05" d="M2030 2306l6 1 7 2 3 7-7 2-7-2zM2013 2311l6 2 3 9-7-2zM2002 2316l7 3 6 1 7 2 2 8-6 0-7-2-6-2zM1998 2325l7 1 6 2 7 2 6 0 3 9-7-1-6-2-7-1-6-1zM1988 2331l6 1 7 2 6 1 8 24-20-3zM1955 2349l20 4 20 3 9 21-21-2-20-3zM1963 2372l20 3 9 19-21-2zM1951 2389l20 3 21 2 8 19-21-2-20-3zM1938 2406l21 2 20 3 9 18-21-2-21-2zM1946 2425l21 2 8 19-21-1z"/>
<path class="f06" d="M1993 2305l7 2 6 2 7 2 2 9-6-1-7-3-6-1zM1976 2311l7 1 6 2 7 1 6 1 3 10-7-1-6-2-7-2-7 0zM1965 2318l7 1 6 2 7 0 7 2 6 2 3 9-7-2-6-1-7-1-7-1-7-1zM1947 2324l7 1 6 2 7 1 7 1 7 1 7 1 7 25-20-3-20-4zM1935 2346l20 3 8 23-20-3zM1922 2365l21 4 20 3 8 20-20-3-21-3zM1909 2384l21 2 21 3 8 19-21-2-21-2zM1917 2404l21 2 8 19-21-2zM1904 2421l21 2 21 2 8 20-21-2-21-2z"/>
<path class="f07" d="M1949 2306l7 1 6 1 7 2 7 1 2 10-6-2-7-1-7-1-7-1zM1938 2313l6 1 7 2 7 1 7 1 2 10-7-1-6-2-7-1-7-1zM1927 2320l7 1 6 2 7 1 8 25-20-3zM1893 2339l21 3 21 4 8 23-21-4-21-3zM1901 2362l21 3 8 21-21-2zM1888 2381l21 3 8 20-21-3zM1875 2399l21 2 21 3 8 19-21-2-22-2zM1861 2417l21 2 22 2 8 20-22-2-21-2z"/>
<path class="f08" d="M1915 2300l7 1 6 1 7 2 7 1 7 1 2 10-7-2-6-1-7-1-7-2-7 0zM1910 2309l7 1 7 0 7 2 7 1 2 10-6-2-7-1-7-1-7-1zM1885 2313l7 1 7 2 7 1 7 1 7 1 7 1 8 26-21-4-21-3zM1872 2335l21 4 8 23-21-3zM1859 2356l21 3 21 3 8 22-21-3-21-3zM1845 2375l22 3 21 3 8 20-21-2-22-3zM1831 2393l22 3 22 3 7 20-21-2-22-3zM1839 2414l22 3 8 20-22-2z"/>
<path class="f09" d="M1887 2295l7 2 7 0 7 2 7 1 2 10-7-1-7-2-6-1-7-1zM1876 2302l7 1 7 2 7 1 6 1 7 2 3 9-7-1-7-1-7-2-7-1-7-1zM1864 2309l7 1 7 2 7 1 8 26-21-4zM1830 2329l21 3 21 3 8 24-21-3-22-3zM1816 2350l21 3 22 3 8 22-22-3-21-3zM1802 2369l22 3 21 3 8 21-22-3-22-2zM1809 2391l22 2 8 21-22-2zM1795 2409l22 3 22 2 8 21-22-3-22-2z"/>
<path class="f0a" d="M1880 2294l7 1 3 10-7-2zM1848 2298l7 1 7 0 7 2 7 1 2 10-7-2-7-1-7-1-7-1zM1822 2303l7 1 7 1 7 1 7 1 7 1 7 1 8 26-21-3-21-3zM1808 2326l22 3 7 24-21-3zM1794 2347l22 3 8 22-22-3zM1780 2367l22 2 7 22-22-3zM1765 2386l22 2 22 3 8 21-22-3-22-2zM1750 2405l23 2 22 2 8 21-23-2-22-2z"/>
<path class="f0b" d="M1812 2293l7 1 7 1 8 1 6 0 8 2 2 9-7-1-7-1-7-1-7-1-7-1zM1800 2300l7 1 8 1 7 1 8 26-22-3zM1764 2320l22 3 22 3 8 24-22-3-22-3zM1750 2342l22 2 22 3 8 22-22-2-23-3zM1735 2362l22 2 23 3 7 21-22-2-23-2zM1720 2382l22 2 23 2 8 21-23-2-23-2zM1704 2402l23 1 23 2 8 21-23-2-23-1z"/>
<path class="f0c" d="M1776 2288l7 1 8 1 7 1 7 1 7 1 3 9-8-1-7-1-7-1-7-1-7-1zM1757 2295l7 1 8 0 7 1 7 1 7 1 7 1 8 26-22-3-22-3zM1742 2318l22 2 8 24-22-2zM1705 2337l23 2 22 3 7 22-22-2-23-2zM1690 2358l22 2 23 2 7 22-22-2-23-2zM1674 2379l23 1 23 2 7 21-23-1-23-2zM1658 2399l23 1 23 2 8 21-23-2-24-1z"/>
<path class="f0d" d="M1744 2276l8 0 7 2 7 0 8 1 7 1 2 9-7-1-7 0-7-1-8-1-7-1zM1740 2285l7 0 7 1 8 1 7 1 7 0 3 9-7-1-8 0-7-1-7-1-8 0zM1712 2290l8 1 7 1 8 1 7 1 8 0 7 1 7 25-22-2-22-2zM1698 2314l22 2 22 2 8 24-22-3-23-2zM1659 2335l23 1 23 1 7 23-22-2-23-1zM1644 2357l23 0 23 1 7 22-23-1-23-1zM1628 2378l23 0 23 1 7 21-23-1-23 0zM1611 2399l24 0 23 0 7 21-23-1-24 0z"/>
<path class="f0e" d="M1707 2272l8 1 7 1 8 0 7 1 7 1 3 9-7 0-8-1-7-1-8-1-7-1zM1695 2280l8 1 7 0 7 1 8 1 7 1 8 1 2 9-7-1-8-1-7-1-8-1-7 0-8-1zM1668 2288l22 1 7 0 8 1 7 0 8 26-22-2-23-2zM1652 2311l23 1 23 2 7 23-23-1-23-1zM1613 2334l24 0 22 1 8 22-23 0-23-1zM1597 2356l24 0 23 1 7 21-23 0-24 0zM1604 2378l24 0 7 21-24 0z"/>
<path class="f0f" d="M1660 2261l8 0 7 1 8 0 2 9 3 9 2 9-22-1zM1683 2262l7 0 8 1 7 0 7 1 3 9-8-1-7 0-7-1-8 0zM1685 2271l8 0 7 1 7 0 3 9-7 0-8-1-7 0zM1688 2280l7 0 2 9-7 0zM1622 2287l23 0 23 1 7 24-23-1-23 0zM1583 2310l23 0 23 1 23 0 7 24-22-1-24 0-23-1zM1590 2333l23 1 8 22-24 0z"/>
<path class="f010" d="M1648 2243l7-1 8 1 2 9-7 0-8 0zM1635 2253l8 0 7-1 8 0 7 0 8 0 7 0 3 10-8 0-7-1-8 0-7 0-8 1-7 0zM1592 2263l23 0 23-1 7 0 8-1 7 0 8 27-23-1-23 0-23 0zM1576 2287l23 0 23 0 7 24-23-1-23 0z"/>
<path class="f011" d="M1606 2230l7-1 7-1 8-2 7-1 3 9-8 1-7 1-8 1-7 1zM1585 2239l23-1 7-1 8-1 7-1 3 9 2 9 3 9-23 1-23 0zM1630 2235l8-1 7 0 3 9-8 1-7 0zM1633 2244l7 0 8-1 2 9-7 1-8 0zM1569 2263l23 0 7 24-23 0z"/>
<path class="f012" d="M1598 2205l8-1 7-3 3 9-8 2-7 2zM1555 2214l23 1 23-1 2 8 3 8 2 8-23 1-23-1zM1601 2214l7-2 8-2 7-2 2 9-7 2-8 2-7 1zM1603 2222l7-1 8-2 7-2 3 9-8 2-7 1-7 1zM1562 2238l23 1 7 24-23 0z"/>
<path class="f013" d="M1548 2190l23-2 7-1 8 0 7-1 3 9 2 10 3 9-23 1-23-1zM1593 2186l7-4 8-4 2 13-7 4-7 0zM1596 2195l7 0 7-4 3 10-7 3-8 1z"/>
<path class="f014" d="M1541 2165l7-3 8-3 7-3 3 11 2 10 3 11-23 2zM1566 2167l7-3 7-2 3 13-7 1-8 1zM1568 2177l8-1 7-1 7-3 8-2 2 12-7 4-7 1-8 0-7 1z"/>
<path class="f015" d="M1534 2140l7-5 7-5 3 10-8 4-7 4zM1536 2148l7-4 8-4 7-5 2 11-7 3-7 4-7 4zM1539 2157l7-4 7-4 7-3 7-5 3 11-7 4-7 3-8 3-7 3zM1563 2156l7-4 3 12-7 3z"/>
<path class="f016" d="M1525 2108l7-7 2 9-7 6zM1527 2116l7-6 7-7 2 9-7 6-7 6zM1529 2124l7-6 7-6 3 9-7 6-7 5zM1532 2132l7-5 7-6 7-5 2 9-7 5-7 5-7 5zM1548 2130l7-5 3 10-7 5z"/>
<path class="f017" d="M1518 2083l7-7 2 8-7 7zM1520 2091l7-7 7-7 2 9-7 7-7 6zM1522 2099l7-6 7-7 3 9-7 6-7 7zM1532 2101l7-6 2 8-7 7z"/>
<path class="f018" d="M1509 2051l6-9 3 8-7 9zM1511 2059l7-9 2 9-7 8zM1513 2067l7-8 6-9 3 9-7 8-7 8zM1515 2075l7-8 7-8 2 9-6 8-7 7zM1525 2076l6-8 3 9-7 7z"/>
<path class="f019" d="M1502 2027l7-9 2 8-6 9zM1505 2035l6-9 2 8-6 9zM1507 2043l6-9 2 8-6 9zM1518 2050l6-9 2 9-6 9z"/>
<path class="f01a" d="M1493 1995l7-9 2 7-7 10zM1495 2003l7-10 2 8-6 10zM1498 2011l6-10 3 9-7 9zM1500 2019l7-9 2 8-7 9z"/>
<path class="f01b" d="M1484 1963l7-6 2 7-7 7zM1486 1971l7-7 2 5-7 10zM1488 1979l7-10 2 6-6 12zM1491 1987l6-12 3 11-7 9z"/>
<path class="f01c" d="M1475 1932l8-3 2 7-7 4zM1478 1940l7-4 7-3 2 7-7 4-7 4zM1480 1948l7-4 7-4 2 6-7 5-7 5zM1482 1956l7-5 2 6-7 6z"/>
<path class="f01d" d="M1467 1901l7 0 8 1 2 6-8 0-7 1zM1469 1909l7-1 8 0 2 6-8 1-7 1zM1471 1916l7-1 8-1 2 7-8 2-7 1zM1473 1924l7-1 8-2 2 6-7 2-8 3zM1483 1929l7-2 2 6-7 3z"/>
<path class="f01e" d="M1465 1871l8 4 2 7-7-3zM1460 1877l8 2 7 3 2 6-7-2-8-1zM1462 1885l8 1 7 2 2 7-7-1-7-1zM1465 1893l7 1 7 1 3 7-8-1-7 0z"/>
<path class="f01f" d="M1453 1852l8 5 2 6-8-3zM1455 1860l8 3 8 5 2 7-8-4-7-2zM1458 1869l7 2 3 8-8-2z"/>
<path class="f12" d="M2101 2402l20 3 9 17-20-3zM2110 2419l20 3 9 16-20-2z"/>
<path class="f13" d="M2078 2358l6 0 3 6-6-1zM2081 2363l6 1 3 6-6-1zM2064 2366l20 3 3 5 2 6 3 5-19-2zM2084 2369l6 1 7 0 2 6-6-1-6-1zM2087 2374l6 1 6 1 3 6-6-1-7-1zM2089 2380l7 1 6 1 7 0 3 6-7-1-6-1-7-1zM2073 2383l19 2 7 1 6 1 7 1 9 17-20-3-20-2zM2081 2400l20 2 9 17-20-2zM2070 2415l20 2 20 2 9 17-20-2-20-2z"/>
<path class="f14" d="M2045 2316l7 1 3 6-7-1zM2042 2321l6 1 7 1 2 5-6-1-7-1zM2044 2326l7 1 6 1 3 6-6-1-7-1zM2047 2332l7 1 6 1 7 1 3 6-7-1-7-1-6-1zM2050 2338l6 1 7 1 7 1 2 5-6-1-7-1-6-1zM2053 2343l6 1 7 1 6 1 3 6-6-1-7-1-6-1zM2036 2346l20 3 6 1 7 1 6 1 3 6 3 5 3 6-20-3-20-3zM2044 2363l20 3 9 17-20-3zM2033 2378l20 2 20 3 8 17-20-3-20-2zM2041 2395l20 2 20 3 9 17-20-2-20-2zM2030 2411l20 2 20 2 9 17-20-1-21-2z"/>
<path class="f15" d="M2030 2308l6 1 7 2 2 5-6-1-7-1zM2019 2312l7 1 6 1 7 1 3 6 2 5 3 6-19-3-3-6-3-5zM2013 2311l6 1 3 6-7-1zM2039 2315l6 1 3 6-6-1zM2015 2317l7 1 3 5-7-1zM2012 2321l6 1 7 1 3 6-7-1-6-1zM2008 2326l7 1 6 1 7 1 19 3 3 6 3 5 3 6-20-3-20-3zM2016 2343l20 3 8 17-20-3zM2004 2358l20 2 20 3 9 17-20-2-20-3zM2013 2375l20 3 8 17-20-2zM2001 2391l20 2 20 2 9 18-20-2-21-2zM2009 2409l21 2 8 18-20-2z"/>
<path class="f16" d="M1993 2308l7 1 6 1 7 1 2 6-6-1-6-1-7-2zM1983 2312l6 0 7 1 7 2 6 1 6 1 3 5-6-1-7-1-7-1-6-1-7-1zM1985 2317l7 1 6 1 7 1 7 1 3 6-7-1-7-1-6-1-7-1zM1988 2323l7 1 6 1 7 1 8 17-20-3zM1976 2337l20 3 20 3 8 17-20-2-20-3zM1984 2355l20 3 9 17-21-2zM1972 2370l20 3 21 2 8 18-20-2-21-3zM1980 2388l21 3 8 18-21-2zM1968 2405l20 2 21 2 9 18-21-2-21-2z"/>
<path class="f17" d="M1956 2307l7 1 6 1 7 1 7 2 2 5-7-1-6-1-7-1-7-1zM1951 2312l7 1 7 1 7 1 6 1 7 1 3 6-7-1-6-1-7-1-7-1-7-1zM1947 2317l7 1 7 1 7 1 7 1 6 1 7 1 8 17-20-3-21-2zM1935 2332l20 3 21 2 8 18-20-3-21-2zM1943 2350l21 2 20 3 8 18-20-3-21-2zM1930 2365l21 3 21 2 8 18-21-2-21-2zM1938 2384l21 2 21 2 8 19-20-2-21-2zM1925 2401l22 2 21 2 8 18-21-1-21-2z"/>
<path class="f18" d="M1922 2302l6 1 7 1 7 1 7 1 7 1 2 6-7-1-7-1-6-1-7-1-7-1zM1917 2307l7 1 7 1 7 1 6 1 7 1 3 6-7-1-7-1-6-1-7-1-7-1zM1906 2311l7 1 7 1 7 1 7 1 6 1 7 1 8 18-20-3-21-3zM1914 2329l21 3 8 18-21-3zM1901 2345l21 2 21 3 8 18-21-3-21-2zM1909 2363l21 2 8 19-21-2zM1896 2380l21 2 21 2 9 19-22-2-21-2zM1882 2397l22 2 21 2 9 19-22-2-22-1z"/>
<path class="f19" d="M1887 2297l7 1 7 1 7 1 7 1 7 1 2 6-7-1-6-1-8-1-6-1-7-1zM1890 2303l7 1 6 1 8 1 6 1 3 6-7-1-7-1-7-1-7-1zM1885 2308l7 1 7 1 7 1 8 18-21-3zM1872 2323l21 3 21 3 8 18-21-2-21-3zM1880 2342l21 3 8 18-21-2zM1866 2359l22 2 21 2 8 19-21-2-22-2zM1853 2376l21 2 22 2 8 19-22-2-21-2zM1861 2395l21 2 8 20-21-2z"/>
<path class="f1a" d="M1880 2296l7 1 3 6-7-1zM1855 2298l7 1 7 1 7 1 7 1 7 1 2 6-7-1-7-1-7-1-7-1-7-1zM1843 2302l7 1 7 1 7 1 7 1 7 1 7 1 8 18-21-3-21-2zM1851 2321l21 2 8 19-21-2zM1837 2337l22 3 21 2 8 19-22-2-21-2zM1823 2355l22 2 21 2 8 19-21-2-22-2zM1809 2372l22 2 22 2 8 19-22-1-22-2zM1817 2392l22 2 22 1 8 20-22-1-23-2z"/>
<path class="f1b" d="M1819 2293l7 1 8 1 7 1 7 1 7 1 2 6-7-1-7-1-7-1-7-1-7-1zM1822 2299l7 1 7 1 7 1 8 19-22-3zM1808 2316l21 2 22 3 8 19-22-3-22-2zM1794 2333l21 2 22 2 8 20-22-2-22-2zM1779 2351l22 2 22 2 8 19-22-2-22-1zM1787 2371l22 1 8 20-23-1zM1772 2389l22 2 23 1 7 20-22-1-22-2z"/>
<path class="f1c" d="M1783 2288l8 1 7 1 7 1 7 1 7 1 3 6-7-1-8-1-7-1-7-1-7-1zM1779 2293l7 1 7 1 7 1 7 1 8 1 7 1 7 19-21-2-22-3zM1764 2311l22 2 22 3 7 19-21-2-22-2zM1749 2329l23 2 22 2 7 20-22-2-22-2zM1757 2349l22 2 8 20-23-2zM1742 2367l22 2 23 2 7 20-22-2-23-1zM1726 2386l23 2 23 1 8 20-23-1-23-1z"/>
<path class="f1d" d="M1752 2278l7 0 7 1 8 1 7 1 2 7-7-1-7-1-8-1-7-1zM1747 2283l7 1 7 1 8 1 7 1 7 1 3 6-7-1-7-1-8 0-7-1-8-1zM1734 2288l8 1 7 1 8 1 7 1 8 0 7 1 7 20-22-2-22-3zM1719 2306l23 2 22 3 8 20-23-2-22-2zM1704 2325l23 2 22 2 8 20-23-2-22-2zM1712 2345l22 2 23 2 7 20-22-2-23-1zM1696 2365l23 1 23 1 7 21-23-2-23-1zM1680 2384l23 1 23 1 8 21-23-1-23-1z"/>
<path class="f1e" d="M1715 2272l7 1 7 1 8 1 7 1 8 2 2 6-7-1-8-1-7-1-7-1-8-1zM1710 2278l7 1 8 1 7 1 7 1 8 1 2 7-7-1-8-1-7-1-8-1-7-1zM1690 2282l7 1 8 1 7 1 7 1 8 1 7 1 8 20-23-2-22-2zM1674 2301l23 3 22 2 8 21-23-2-23-2zM1681 2323l23 2 8 20-23-1zM1666 2342l23 2 23 1 7 21-23-1-23-2zM1650 2362l23 1 23 2 7 20-23-1-23-1zM1633 2382l24 1 23 1 8 21-24-2-24-1z"/>
<path class="f1f" d="M1682 2261l8 1 7 1 8 1 7 1 3 7-8-1-7-1-8-1-7-1zM1685 2268l7 1 8 1 7 1 8 1 2 7-7-1-8-1-7-1-8-1zM1687 2275l8 1 7 1 8 1 2 7-7-1-8-1-7-1zM1667 2280l23 2 7 22-23-3zM1651 2299l23 2 7 22-22-2zM1635 2319l24 2 22 2 8 21-23-2-23-1zM1619 2340l24 1 23 1 7 21-23-1-24-1zM1603 2360l23 1 24 1 7 21-24-1-23-1zM1610 2381l23 1 7 20-23-1z"/>
<path class="f110" d="M1655 2243l8 1 2 8-7-1zM1650 2249l8 2 7 1 8 1 7 1 2 7-7-1-8-1-7-1-8-1zM1637 2254l8 1 7 2 8 1 7 1 8 1 7 1 3 7 2 7 3 7-23-2-23-3zM1621 2274l23 3 23 3 7 21-23-2-23-2zM1605 2294l23 3 23 2 8 22-24-2-23-2zM1588 2314l24 3 23 2 8 22-24-1-24-3zM1595 2337l24 3 7 21-23-1z"/>
<path class="f111" d="M1628 2224l7 1 3 8-8-1zM1607 2227l8 2 7 1 8 2 2 7 3 8 2 7-23-3zM1630 2232l8 1 7 2 2 7-7-2-8-1zM1632 2239l8 1 7 2 8 1 3 8-8-2-8-1-7-1zM1635 2247l7 1 8 1 2 8-7-2-8-1zM1591 2247l23 4 23 3 7 23-23-3-23-4zM1574 2267l24 3 23 4 7 23-23-3-24-4zM1581 2290l24 4 7 23-24-3z"/>
<path class="f112" d="M1608 2206l7 1 8 2 2 8-8-2-7-2zM1602 2212l8 1 7 2 8 2 3 7-8-1-8-2-7-2zM1605 2219l7 2 8 2 8 1 2 8-8-2-7-1-8-2zM1583 2223l24 4 7 24-23-4zM1567 2243l24 4 7 23-24-3z"/>
<path class="f113" d="M1593 2181l8 2 7 1 2 8-7-2-8-1zM1595 2189l8 1 7 2 3 8-8-2-7-2zM1598 2196l7 2 8 2 2 7-7-1-8-2zM1576 2199l24 5 2 8 3 7 2 8-24-4zM1600 2204l8 2 2 7-8-1zM1560 2218l23 5 8 24-24-4z"/>
<path class="f114" d="M1573 2161l7 2 3 8-8-2zM1567 2167l8 2 8 2 8 2 7 2 3 8-8-2-8-2-8-2-8-2zM1546 2169l23 6 8 2 8 2 8 2 2 8 3 7 2 8-24-5-23-5zM1553 2194l23 5 7 24-23-5z"/>
<path class="f115" d="M1552 2141l8 2 8 2 2 8-8-2-8-2zM1539 2145l8 2 7 2 8 2 2 8 3 8 2 8-23-6zM1562 2151l8 2 3 8-9-2zM1564 2159l9 2 2 8-8-2z"/>
<path class="f116" d="M1537 2115l8 2 8 2 2 8-8-2-7-3zM1532 2120l8 2 7 3 8 2 2 8-7-2-8-2-8-3zM1534 2128l8 3 8 2 7 2 3 8-8-2-8-2-7-2zM1537 2137l7 2 8 2 2 8-7-2-8-2z"/>
<path class="f117" d="M1528 2083l8 3 2 7-7-2zM1523 2088l8 3 7 2 3 8-8-2-8-3zM1525 2096l8 3 8 2 2 8-8-2-8-3zM1527 2104l8 3 8 2 2 8-8-2-7-3zM1530 2112l7 3 3 7-8-2z"/>
<path class="f118" d="M1519 2052l8 2 2 8-7-2zM1522 2060l7 2 3 8-8-3zM1516 2065l8 2 8 3 2 8-8-3-8-2zM1518 2073l8 2 8 3 2 8-8-3-8-2zM1520 2081l8 2 3 8-8-3z"/>
<path class="f119" d="M1507 2034l8 2 2 8-8-3zM1509 2041l8 3 8 3 2 7-8-2-8-3zM1511 2049l8 3 3 8-9-3zM1513 2057l9 3 2 7-8-2z"/>
<path class="f11a" d="M1498 2003l8 3 2 7-8-2zM1500 2011l8 2 2 8-7-3zM1503 2018l7 3 3 8-8-3zM1505 2026l8 3 2 7-8-2z"/>
<path class="f11b" d="M1489 1973l8 3 2 7-8-3zM1491 1980l8 3 2 8-8-3zM1493 1988l8 3 3 7-8-3zM1496 1995l8 3 2 8-8-3z"/>
<path class="f11c" d="M1484 1932l8 4 2 7-8-3zM1486 1940l8 3 2 7-8-3zM1480 1943l8 4 3 7-8-3zM1483 1951l8 3 2 7-8-3zM1485 1958l8 3 2 8-8-4zM1487 1965l8 4 2 7-8-3z"/>
<path class="f11d" d="M1476 1904l8 4 2 7-8-4zM1470 1907l8 4 8 4 2 7-8-4-8-4zM1472 1914l8 4 8 4 2 7-8-4-8-4zM1474 1921l8 4 8 4 2 7-8-4-8-3zM1476 1929l8 3 2 8-8-4zM1478 1936l8 4 2 7-8-4z"/>
<path class="f11e" d="M1465 1870l8 5 2 6-7-4zM1468 1877l7 4 2 7-8-4zM1462 1879l7 5 8 4 2 7-7-5-8-4zM1464 1886l8 4 7 5 2 6-7-4-8-4zM1466 1893l8 4 7 4 3 7-8-4-8-4zM1468 1900l8 4 2 7-8-4z"/>
<path class="f11f" d="M1453 1852l8 5 2 6-8-4zM1455 1859l8 4 8 5 2 7-8-5-7-5zM1458 1865l7 5 3 7-8-5zM1460 1872l8 5 1 7-7-5z"/>
<path class="f26" d="M2080 2321l7 1 3 5-7-1zM2083 2326l7 1 3 5-7-1zM2086 2331l7 1 6 1 3 5-7-1-6-1zM2089 2336l6 1 7 1 3 5-7-1-6 0zM2092 2342l6 0 7 1 6 1 3 5-6-1-7 0-6-1zM2075 2344l20 3 6 1 7 0 6 1 10 15-20-2-20-2zM2084 2360l20 2 20 2 9 16-20-2-20-2zM2093 2376l20 2 20 2 9 15-20-2-20-1z"/>
<path class="f27" d="M2037 2277l7 1 3 5-7-1zM2040 2282l7 1 6 1 3 5-6-1-7-1zM2043 2287l7 1 6 1 3 5-6 0-7-1zM2046 2293l7 1 6 0 3 5-7 0-6-1zM2029 2295l20 3 3 5 2 5 3 5-20-2zM2049 2298l6 1 7 0 6 1 3 5-6 0-7-1-6-1zM2052 2303l6 1 7 1 6 0 3 6-6-1-7-1-7-1zM2054 2308l7 1 7 1 6 1 3 5-7-1-6-1-7-1zM2037 2311l20 2 7 1 6 1 7 1 3 5 3 5 3 5-20-2-20-3zM2046 2326l20 3 20 2 3 5 3 6 3 5-20-3-20-2zM2055 2342l20 2 9 16-20-2zM2043 2356l21 2 20 2 9 16-21-2-20-2zM2052 2372l20 2 21 2 9 16-21-2-20-2z"/>
<path class="f28" d="M2031 2276l6 1 3 5-6-1zM2021 2280l6 1 7 0 6 1 3 5 3 6 3 5-20-3-3-5-2-5zM2001 2277l7 1 6 1 7 1 3 5-7-1-7-1-6-1zM2004 2282l6 1 7 1 7 1 2 5-6-1-7-1-7-1zM2006 2287l7 1 7 1 6 1 3 5-7-1-6-1-7-1zM2009 2292l7 1 6 1 7 1 8 16-20-3zM1997 2305l20 3 20 3 9 15-20-2-20-3zM2006 2321l20 3 20 2 9 16-21-2-20-3zM2014 2337l20 3 21 2 9 16-21-2-20-3zM2023 2353l20 3 9 16-21-2zM2011 2368l20 2 21 2 9 16-21-2-21-1z"/>
<path class="f29" d="M1994 2276l7 1 3 5-7-1zM1970 2277l7 1 7 1 6 1 7 1 7 1 2 5-7-1-6-1-7 0-7-2-7 0zM1972 2283l7 0 7 2 7 0 6 1 7 1 3 5-7-1-6 0-7-1-7-1-7-1zM1968 2287l7 1 7 1 7 1 7 1 6 0 7 1 8 16-20-3-20-2zM1977 2303l20 2 9 16-21-2zM1964 2316l21 3 21 2 8 16-21-2-20-2zM1973 2333l20 2 21 2 9 16-21-2-21-2zM1981 2349l21 2 21 2 8 17-20-2-21-2zM1969 2364l21 2 21 2 8 17-21-2-21-2z"/>
<path class="f2a" d="M1936 2273l7 0 6 1 7 1 7 1 7 1 2 6-7-1-6-1-7-1-7-1-7-1zM1938 2278l7 1 7 1 7 1 6 1 7 1 3 5-7-1-7-1-6-1-7-1-7-1zM1927 2281l7 1 7 1 7 1 7 1 6 1 7 1 9 16-21-3-21-2zM1935 2298l21 2 21 3 8 16-21-3-21-2zM1943 2314l21 2 9 17-21-3zM1931 2328l21 2 21 3 8 16-21-2-21-2zM1939 2345l21 2 21 2 9 17-21-2-22-2zM1947 2362l22 2 8 17-21-2z"/>
<path class="f2b" d="M1901 2268l7 1 7 1 7 0 7 2 7 1 2 5-7-1-7-1-6-1-7-1-8-1zM1903 2273l8 1 7 1 6 1 7 1 7 1 3 5-7-1-7-1-7-1-7 0-7-1zM1906 2279l7 1 7 0 7 1 8 17-21-3zM1893 2293l21 2 21 3 8 16-21-2-21-3zM1901 2309l21 3 21 2 9 16-21-2-22-2zM1909 2326l22 2 8 17-22-2zM1896 2341l21 2 22 2 8 17-21-2-22-2zM1904 2358l22 2 21 2 9 17-22-2-22-1z"/>
<path class="f2c" d="M1880 2265l7 1 7 1 7 1 2 5-6-1-7 0-7-1zM1869 2269l7 1 7 1 7 1 7 0 6 1 3 6-7-1-7-1-7-1-7-1-7-1zM1864 2273l7 1 7 1 7 1 7 1 7 1 7 1 8 16-21-2-21-3zM1872 2290l21 3 8 16-21-2zM1858 2305l22 2 21 2 8 17-21-2-22-2zM1866 2322l22 2 21 2 8 17-21-2-22-2zM1852 2337l22 2 22 2 8 17-22-2-22-1zM1860 2355l22 1 22 2 8 18-22-2-22-1z"/>
<path class="f2d" d="M1833 2264l7 1 7 1 7 1 7 1 8 1 2 5-7-1-7-1-7 0-7-1-7-1zM1821 2268l7 1 8 1 7 1 7 1 7 0 7 1 8 17-22-2-21-3zM1829 2285l21 3 22 2 8 17-22-2-21-2zM1815 2300l22 3 21 2 8 17-22-2-22-2zM1822 2318l22 2 22 2 8 17-22-2-22-2zM1808 2334l22 1 22 2 8 18-22-2-22-2zM1816 2351l22 2 22 2 8 18-22-2-22-2z"/>
<path class="f2e" d="M1790 2259l7 1 7 1 7 1 8 0 7 1 7 1 3 6-8-1-7-1-7-1-8 0-7-1-7-1zM1777 2263l7 1 8 1 7 1 7 1 8 0 7 1 8 17-22-2-22-2zM1785 2281l22 2 22 2 8 18-22-3-22-2zM1793 2298l22 2 7 18-22-2zM1778 2314l22 2 22 2 8 17-22-1-23-2zM1785 2332l23 2 8 17-23-1zM1770 2348l23 2 23 1 8 18-23-1-23-1z"/>
<path class="f2f" d="M1758 2249l7 1 7 1 8 1 2 6-7-1-7-1-8-1zM1753 2255l7 0 8 1 7 1 7 1 8 1 2 6-8-1-7-1-7-1-8 0-7-1zM1755 2261l7 1 8 0 7 1 8 18-22-2zM1740 2276l23 3 22 2 8 17-23-2-22-1zM1748 2295l22 1 23 2 7 18-22-2-23-2zM1733 2311l22 1 23 2 7 18-22-2-23-1zM1740 2329l23 1 22 2 8 18-23-2-23-1zM1724 2346l23 1 23 1 8 19-23-2-23-1z"/>
<path class="f210" d="M1713 2244l8 1 7 1 8 1 7 1 7 1 8 0 2 6-7 0-7-1-8-1-7-1-8-1-7-1zM1716 2250l7 1 8 1 7 1 8 1 7 1 2 6-7-1-8-1-7-1-7-1-8 0zM1711 2256l7 1 8 0 7 1 7 1 8 1 7 1 8 18-23-3-22-2zM1695 2272l23 2 22 2 8 19-23-2-23-2zM1702 2291l23 2 23 2 7 17-22-1-23-1zM1687 2308l23 2 23 1 7 18-23-1-23-1zM1670 2326l24 1 23 1 23 1 7 18-23-1-23-1-23-1zM1678 2344l23 1 23 1 8 18-24-1-23-1z"/>
<path class="f211" d="M1681 2234l7 1 8 1 7 1 8 1 2 6-7-1-8-1-7-1-8-1zM1683 2240l8 1 7 1 8 1 7 1 3 6-8 0-7-1-8-1-7-1zM1686 2247l7 1 8 1 7 1 8 0 2 7-7-1-8-1-7-1-8-1zM1665 2251l23 2 8 1 7 1 8 1 7 18-23-2-23-2zM1649 2269l23 1 23 2 7 19-23-1-23-2zM1656 2288l23 2 23 1 8 19-23-2-24-1zM1640 2306l23 1 24 1 7 19-24-1-23-1zM1623 2324l24 1 23 1 8 18-24-1-24 0zM1630 2343l24 0 24 1 7 18-24-1-24-1z"/>
<path class="f212" d="M1646 2217l7 1 8 1 2 7-7-2-8 0zM1640 2222l8 2 8 0 7 2 8 1 8 1 2 6-8-1-7-1-8-1-8-1-7-1zM1635 2228l8 1 7 1 8 1 8 1 7 1 8 1 2 6 3 7 2 6-23-2-23-2zM1619 2246l23 3 23 2 7 19-23-1-23-3zM1602 2264l24 2 23 3 7 19-23-1-24-2zM1609 2285l24 2 23 1 7 19-23-1-24-1zM1592 2303l24 2 24 1 7 19-24-1-24-1zM1599 2323l24 1 7 19-24-1zM1606 2342l24 1 7 17-24 0z"/>
<path class="f213" d="M1618 2199l8 2 7 1 3 7-8-1-8-1zM1605 2204l8 1 7 2 8 1 2 7 3 6 2 7-23-3zM1628 2208l8 1 7 1 3 7-8-1-8-1zM1630 2215l8 1 8 1 2 7-8-2-7-1zM1633 2221l7 1 3 7-8-1zM1588 2221l24 4 23 3 7 21-23-3-24-3zM1571 2239l24 4 24 3 7 20-24-2-24-3zM1578 2261l24 3 7 21-24-3zM1585 2282l24 3 7 20-24-2z"/>
<path class="f214" d="M1601 2170l8 1 2 7-8-1zM1596 2175l7 2 8 1 2 7-7-1-8-2zM1574 2178l24 4 2 7 3 8 2 7-24-4zM1598 2182l8 2 7 1 8 2 2 7-7-2-8-1-8-2zM1600 2189l8 2 8 1 7 2 3 7-8-2-8-1-7-1zM1603 2197l7 1 8 1 2 8-7-2-8-1zM1581 2200l24 4 7 21-24-4zM1565 2217l23 4 7 22-24-4z"/>
<path class="f215" d="M1573 2150l8 2 8 2 7 2 3 7-8-2-8-2-7-1zM1568 2156l8 2 7 1 8 2 2 7 3 7 2 7-24-4zM1591 2161l8 2 7 1 3 7-8-1-8-2zM1593 2168l8 2 2 7-7-2zM1551 2173l23 5 7 22-23-5zM1558 2195l23 5 7 21-23-4z"/>
<path class="f216" d="M1559 2127l7 1 3 8-8-2zM1537 2128l8 2 8 2 8 2 2 7 3 8 2 7-24-6zM1561 2134l8 2 2 7-8-2zM1563 2141l8 2 8 2 2 7-8-2-7-1zM1566 2149l7 1 3 8-8-2zM1544 2150l24 6 6 22-23-5z"/>
<path class="f217" d="M1536 2100l8 2 8 3 2 7-8-2-8-3zM1538 2107l8 3 8 2 2 7-8-2-8-2zM1532 2113l8 2 8 2 8 2 3 8-8-3-8-2-8-2zM1535 2120l8 2 8 2 8 3 2 7-8-2-8-2-8-2z"/>
<path class="f218" d="M1527 2071l8 2 2 7-8-2zM1522 2076l7 2 8 2 2 8-7-3-8-2zM1524 2083l8 2 7 3 3 7-8-2-8-3zM1526 2090l8 3 8 2 2 7-8-2-8-2zM1528 2098l8 2 2 7-8-2zM1530 2105l8 2 2 8-8-2z"/>
<path class="f219" d="M1516 2035l8 2 2 7-8-2zM1510 2039l8 3 8 2 2 8-8-3-8-3zM1512 2046l8 3 8 3 2 7-7-3-8-2zM1515 2054l8 2 7 3 3 7-8-3-8-2zM1517 2061l8 2 8 3 2 7-8-2-8-3zM1519 2068l8 3 2 7-7-2z"/>
<path class="f21a" d="M1502 2010l7 3 3 7-8-3zM1504 2017l8 3 2 7-8-3zM1506 2024l8 3 2 8-8-3zM1508 2032l8 3 2 7-8-3z"/>
<path class="f21b" d="M1491 1975l8 3 2 7-8-3zM1493 1982l8 3 2 7-8-3zM1495 1989l8 3 2 7-8-3zM1497 1996l8 3 2 7-8-3zM1499 2003l8 3 2 7-7-3z"/>
<path class="f21c" d="M1486 1937l8 3 2 7-8-4zM1482 1947l8 3 2 7-8-3zM1484 1954l8 3 2 7-8-3zM1486 1961l8 3 3 7-8-3zM1489 1968l8 3 2 7-8-3z"/>
<path class="f21d" d="M1476 1903l7 4 2 6-7-4zM1478 1909l7 4 2 7-7-4zM1472 1912l8 4 7 4 3 7-8-4-8-4zM1474 1919l8 4 8 4 2 6-8-3-8-4zM1476 1926l8 4 8 3 2 7-8-3-8-4zM1478 1933l8 4 2 6-8-3zM1480 1940l8 3 2 7-8-3z"/>
<path class="f21e" d="M1465 1870l8 4 2 7-8-5zM1467 1876l8 5 2 6-8-4zM1461 1879l8 4 8 4 2 7-8-5-7-4zM1464 1885l7 4 8 5 2 6-7-4-8-4zM1466 1892l8 4 7 4 2 7-7-4-8-4zM1468 1899l8 4 2 6-8-4zM1470 1905l8 4 2 7-8-4z"/>
<path class="f21f" d="M1453 1852l8 5 2 6-8-4zM1455 1859l8 4 8 5 2 6-8-4-8-5zM1457 1865l8 5 2 6-8-4zM1459 1872l8 4 2 7-8-4z"/>
</g>
<path d="M753.7 941.6L754.6 948.6L755.4 953.3L754.5 960.6L746.3 963.3L737.2 964.1M782.8 956L787.7 962.3L792.3 966.2L798.7 971.1L804.8 976L809.1 980.1L813.7 986.8L815.2 993.5L813.8 999.8L811.1 1004L804.4 1009.8L796.5 1013.4L782.8 1015.5L772.6 1014.6L765.2 1012.7L757.8 1008.9M813.6 969.5L819.1 975.6L823.7 979.6L828.8 983.7L835.6 989.5L839.8 993.7L844.6 1000.4L847.2 1007.6L847.5 1012.9L846.2 1018.5L843 1024.5L839.4 1029.1L833.4 1034.8L828.2 1038.7L821.4 1043L810.7 1048.1L801.8 1050.8L792.4 1051.8L782.3 1051L771.4 1048.7M846.9 981.8L852.2 988L856.3 992.1L862.8 998.2L866.9 1002.3L872.3 1008.8L876.5 1015.7L878.8 1023.1L879.1 1028.3L878 1033.9L875.4 1040L871.9 1045L867.5 1050L862.7 1054.3L855.9 1059.6L848.8 1064.4L841.4 1068.8L833.7 1072.8L825.7 1076.3L813.1 1080.7L800.4 1081.9M883.8 992.8L888 999.2L892.9 1005.6L896.5 1009.9L901.7 1016.3L906.4 1023L910.2 1030L912.3 1036L913.2 1042.7L912.7 1048.2L910.6 1054.2L907.6 1059.3L903.8 1064L899 1068.8L892.6 1074.2L885.8 1079.2L878.9 1083.9L871.6 1088.4L864.2 1092.7L856.6 1096.7L848.9 1100.6M920.4 1003.3L923.9 1009.8L928.1 1016.4L932.5 1022.9L936.9 1029.6L941 1036.5L944.5 1043.6L947.2 1051L948.4 1056.2L948.8 1061.6L948 1067.4L945.7 1073.4L941.5 1079.5L937.6 1083.7L932.7 1088.1L926.2 1093L919.4 1097.7L912.4 1102.1L905.3 1106.4L898.1 1110.7M960.1 1012.4L962.3 1018.3L964.3 1023.8L967 1030.7L968.9 1035.4L971.7 1042.5L974.6 1049.7L976.4 1054.5L978.9 1062L980.2 1067.1L981.3 1073.6L981.6 1080.6L980.9 1086.4L979.3 1091.7L977 1095.8L971.7 1101.7L965.6 1106.7L959 1111.3L952.3 1115.8L945.4 1120M1012.7 1085.3L1012.3 1091.2L1011.3 1096.6L1010 1101.5L1008.2 1106.4L1004.9 1112.9L1002.1 1117.3L996.8 1123.3L990.3 1127.7M742.8 968.1L740.7 971.8M757.1 1014.4L754.7 1017.9M778.1 1052.7L773.6 1059L768.9 1065.2M807.9 1083.2L803.4 1090.1L800.1 1094.9L796 1100.8L790.9 1107.7L787.8 1112L784.7 1116.3M850.3 1102.2L847.7 1108L845.4 1113L842.4 1119.1L838.8 1126.2L835.3 1133L832.6 1138L829.4 1144.1L825.8 1151.5L822.5 1158.8L820 1165.7L818.3 1173.1L817.4 1180.1M898.9 1113.1L897.7 1119.4L896.5 1125.8L895.2 1132.3L893.9 1138.8L892.6 1145.6L891.3 1152.5L890 1159.6L888.8 1167L887.5 1174.5L886.3 1182.1L886.2 1183.1M947.2 1123.4L947.2 1131.1L947.2 1138.6L947.3 1144.8L947.3 1151.1L947.4 1157.5L947.4 1164.9L947.3 1173.5L947.2 1180.4L946.9 1187.2M993.9 1130.3L994.7 1136.2L995.9 1144.1L996.9 1151L997.9 1157.1L999 1164.5L1000.2 1172.5L1001 1178.8L1001.8 1185.2L1002.4 1191.7M1041.1 1146.6L1043 1154.2L1044.6 1160.1L1047 1168.9L1048.8 1174.9L1051.5 1183.6L1053.4 1190L1055.1 1196.2" stroke="#222" stroke-opacity="0.55" stroke-width="0.9" fill="none"/>
<path d="M726.7 926.2L751 1133.2L816.7 1298.2L1068.2 1232.6" stroke="#000" stroke-width="2.4" fill="none" stroke-linejoin="miter"/>
<text transform="translate(712.9 928.8) rotate(-11)" font-size="24.5" text-anchor="end" dy="0.31em">1</text>
<text transform="translate(729.7 1071.4) rotate(-12.3)" font-size="24.5" text-anchor="end" dy="0.31em">0.1</text>
<text transform="translate(736.8 1136.5) rotate(-12.9)" font-size="24.5" text-anchor="end" dy="0.36em">10</text>
<text transform="translate(746.6 1160.9) rotate(-13.2)" font-size="24.5" text-anchor="end" dy="0.36em">20</text>
<text transform="translate(756.7 1186.4) rotate(-13.4)" font-size="24.5" text-anchor="end" dy="0.36em">30</text>
<text transform="translate(767.4 1213.2) rotate(-13.7)" font-size="24.5" text-anchor="end" dy="0.36em">40</text>
<text transform="translate(778.6 1241.3) rotate(-14)" font-size="24.5" text-anchor="end" dy="0.36em">50</text>
<text transform="translate(790.3 1270.8) rotate(-14.3)" font-size="24.5" text-anchor="end" dy="0.36em">60</text>
<text transform="translate(802.7 1301.8) rotate(-14.6)" font-size="24.5" text-anchor="end" dy="0.36em">70</text>
<text transform="translate(821.3 1309.8) rotate(68.3)" font-size="24.5" dy="0.36em">0.0</text>
<text transform="translate(873.9 1296) rotate(66)" font-size="24.5" dy="0.36em">0.5</text>
<text transform="translate(925.5 1282.5) rotate(63.7)" font-size="24.5" dy="0.36em">1.0</text>
<text transform="translate(976.3 1269.1) rotate(61.5)" font-size="24.5" dy="0.36em">1.5</text>
<text transform="translate(1026.1 1256) rotate(59.4)" font-size="24.5" dy="0.36em">2.0</text>
<text transform="translate(1075 1243.1) rotate(57.4)" font-size="24.5" dy="0.36em">2.5</text>
<path d="M726.7 926.2L719.3 927.6M743.4 1068.5L736.1 1070.1M749.3 1119.2L745.2 1120.2M747.9 1107.1L743.8 1108.1M746.7 1097.1L742.6 1098.1M745.7 1088.6L741.6 1089.5M744.9 1081.1L740.8 1082M744.1 1074.5L740 1075.4M738.6 1028L734.5 1028.8M735.7 1003.4L731.6 1004.2M733.7 985.5L729.5 986.3M732 971.4L727.9 972.2M730.6 959.7L726.5 960.5M729.5 949.7L725.3 950.5M728.4 941L724.3 941.8M727.5 933.2L723.4 934M751 1133.2L743.7 1134.9M760.7 1157.6L753.4 1159.3M770.8 1183L763.5 1184.8M781.5 1209.7L774.2 1211.5M792.6 1237.7L785.3 1239.6M804.4 1267.2L797.1 1269M816.7 1298.2L809.4 1300.1M755.8 1145.3L751.7 1146.2M765.7 1170.1L761.6 1171.1M776.1 1196.2L772 1197.2M787 1223.6L782.9 1224.6M798.4 1252.3L794.3 1253.3M810.5 1282.5L806.4 1283.5M816.7 1298.2L819.5 1305.1M868.8 1284.6L871.9 1291.4M920 1271.2L923.3 1278M970.3 1258.1L973.9 1264.7M1019.7 1245.3L1023.5 1251.7M1068.2 1232.6L1072.3 1238.9M842.9 1291.4L844.5 1295.2M894.5 1277.9L896.3 1281.7M945.3 1264.7L947.2 1268.4M995.1 1251.7L997.2 1255.3M1044.1 1238.9L1046.3 1242.5" stroke="#000" stroke-width="1.9" fill="none"/>
<text transform="translate(645.8 1041.2) rotate(83)" font-size="25.2" text-anchor="middle">PL intensity (norm.)</text>
<text transform="translate(692.8 1228) rotate(69)" font-size="25.2" text-anchor="middle">Time (ns)</text>
<text transform="translate(988.3 1329.7) rotate(-13.8)" font-size="25.2" text-anchor="middle">Radius <tspan font-style="italic">r</tspan> (µm)</text>
<rect x="1009.5" y="893" width="213.5" height="105" fill="#fff" stroke="#111" stroke-width="1.8"/>
<linearGradient id="lgf0"><stop offset="0" stop-color="#cdd2f4"/><stop offset="1" stop-color="#4a55ae"/></linearGradient>
<rect x="1013.5" y="898.5" width="47" height="24" fill="url(#lgf0)"/>
<text x="1066.5" y="916.8" font-size="16.3"><tspan font-style="italic">D</tspan><tspan font-size="12" dy="4.8">n</tspan><tspan dy="-4.8"> = 0.004 cm<tspan font-size="11.5" dy="-6.5">2</tspan><tspan dy="6.5"> s<tspan font-size="11.5" dy="-6.5">−1</tspan><tspan dy="6.5"></tspan></tspan></tspan></text>
<linearGradient id="lgf1"><stop offset="0" stop-color="#fbd0d0"/><stop offset="1" stop-color="#b04a50"/></linearGradient>
<rect x="1013.5" y="932.5" width="47" height="24" fill="url(#lgf1)"/>
<text x="1066.5" y="950.8" font-size="16.3"><tspan font-style="italic">D</tspan><tspan font-size="12" dy="4.8">n</tspan><tspan dy="-4.8"> = 0.02 cm<tspan font-size="11.5" dy="-6.5">2</tspan><tspan dy="6.5"> s<tspan font-size="11.5" dy="-6.5">−1</tspan><tspan dy="6.5"></tspan></tspan></tspan></text>
<linearGradient id="lgf2"><stop offset="0" stop-color="#f4f1c4"/><stop offset="1" stop-color="#8f8f4a"/></linearGradient>
<rect x="1013.5" y="966.5" width="47" height="24" fill="url(#lgf2)"/>
<text x="1066.5" y="984.8" font-size="16.3"><tspan font-style="italic">D</tspan><tspan font-size="12" dy="4.8">n</tspan><tspan dy="-4.8"> = 0.1 cm<tspan font-size="11.5" dy="-6.5">2</tspan><tspan dy="6.5"> s<tspan font-size="11.5" dy="-6.5">−1</tspan><tspan dy="6.5"></tspan></tspan></tspan></text>
<text x="624.3" y="885.8" font-size="43" font-weight="bold">f</text>
<path d="M1414.3 1123.4L1395.9 916.8M1459.2 1113L1446.5 907M1503.5 1102.9L1496.2 897.4M1547 1092.9L1545.1 887.9M1589.9 1083L1593.1 878.6M1361.1 1069.1L1590.9 1018.9M1604.2 1105.3L1609.1 898.5M1619 1128.6L1626 919.4M1634.6 1152.9L1643.8 941.4M1650.9 1178.4L1662.5 964.6M1668 1205.1L1682.2 989.1M1685.9 1233.2L1703.1 1014.9M1590.9 1018.9L1691.2 1165.5M1414.3 1123.4L1486.5 1285.2M1459.2 1113L1537.7 1271.8M1503.5 1102.9L1588 1258.7M1547 1092.9L1637.4 1245.9M1589.9 1083L1685.9 1233.2M1378.4 1158.2L1604.2 1105.3M1388.5 1183.6L1619 1128.6M1399.2 1210.3L1634.6 1152.9M1410.3 1238.3L1650.9 1178.4M1422.1 1267.8L1668 1205.1M1434.4 1298.8L1685.9 1233.2" stroke="#cfcfcf" stroke-width="0.9" fill="none"/>
<path d="M1344.4 926.8L1593.1 878.6M1593.1 878.6L1703.1 1014.9M1703.1 1014.9L1685.9 1233.2M1593.1 878.6L1589.9 1083M1368.7 1133.8L1589.9 1083M1589.9 1083L1685.9 1233.2" stroke="#444" stroke-width="0.9" fill="none"/>
<g transform="scale(0.5)" shape-rendering="crispEdges">
<path class="g21" d="M3336 2415l19 3 9 21-20-3zM3325 2434l19 2 20 3 8 21-19-2-20-3z"/>
<path class="g22" d="M3319 2374l19 3 9 20-20-3zM3308 2392l19 2 20 3 8 21-19-3-20-2zM3296 2410l20 3 20 2 8 21-19-2-20-3zM3305 2431l20 3 8 21-20-2z"/>
<path class="g23" d="M3302 2333l19 4 9 20-20-3zM3310 2354l20 3 8 20-19-3zM3299 2371l20 3 8 20-19-2zM3288 2389l20 3 8 21-20-3zM3276 2407l20 3 9 21-20-2zM3264 2426l21 3 20 2 8 22-20-2-20-3z"/>
<path class="g24" d="M3294 2313l19 4 8 20-19-4zM3283 2330l19 3 8 21-19-4zM3271 2347l20 3 19 4 9 20-20-3-19-3zM3260 2364l20 4 19 3 9 21-20-3-20-3zM3248 2383l20 3 20 3 8 21-20-3-20-3zM3236 2401l20 3 20 3 9 22-21-3-20-3zM3223 2421l21 2 20 3 9 22-21-2-20-3z"/>
<path class="g25" d="M3278 2274l19 4 8 19-19-3zM3266 2290l20 4 19 3 8 20-19-4-19-3zM3255 2306l20 4 19 3 8 20-19-3-20-4zM3243 2323l20 3 20 4 8 20-20-3-20-3zM3251 2344l20 3 9 21-20-4zM3240 2361l20 3 8 22-20-3zM3227 2379l21 4 8 21-20-3zM3215 2398l21 3 8 22-21-2zM3203 2418l20 3 9 22-21-3z"/>
<path class="g26" d="M3254 2219l19 4 8 18-19-4zM3262 2237l19 4 8 19-19-4zM3250 2252l20 4 19 4 8 18-19-4-20-3zM3239 2267l19 4 20 3 8 20-20-4-19-4zM3247 2286l19 4 9 20-20-4zM3235 2303l20 3 8 20-20-3zM3223 2319l20 4 8 21-20-4zM3211 2337l20 3 20 4 9 20-20-3-21-3zM3199 2355l20 3 21 3 8 22-21-4-20-3zM3186 2373l21 3 20 3 9 22-21-3-21-3zM3174 2392l20 3 21 3 8 23-20-3-21-3zM3161 2412l21 3 21 3 8 22-21-2-21-3z"/>
<path class="g27" d="M3238 2184l19 5 8 17-19-4zM3246 2202l19 4 8 17-19-4zM3235 2215l19 4 8 18-20-4zM3223 2229l19 4 20 4 8 19-20-4-19-4zM3231 2248l19 4 8 19-19-4zM3219 2263l20 4 8 19-20-3zM3207 2279l20 4 20 3 8 20-20-3-20-4zM3195 2295l20 4 20 4 8 20-20-4-20-3zM3183 2312l20 4 20 3 8 21-20-3-20-4zM3191 2333l20 4 8 21-20-3zM3178 2351l21 4 8 21-21-3zM3166 2370l20 3 8 22-20-3zM3153 2389l21 3 8 23-21-3zM3139 2408l22 4 8 23-22-3z"/>
<path class="g28" d="M3223 2151l18 4 8 17-19-5zM3211 2163l19 4 19 5 8 17-19-5-19-4zM3219 2180l19 4 8 18-19-4zM3207 2193l20 5 19 4 8 17-19-4-20-4zM3215 2211l20 4 7 18-19-4zM3204 2225l19 4 8 19-20-4zM3192 2240l19 4 20 4 8 19-20-4-20-4zM3179 2255l20 4 20 4 8 20-20-4-20-4zM3187 2275l20 4 8 20-20-4zM3175 2291l20 4 8 21-20-4zM3162 2308l21 4 8 21-21-3zM3150 2326l20 4 21 3 8 22-21-4-20-4zM3137 2344l21 3 20 4 8 22-20-3-21-4zM3123 2362l22 4 21 4 8 22-21-3-22-4zM3110 2382l21 3 22 4 8 23-22-4-21-3zM3096 2402l22 3 21 3 8 24-21-3-22-3z"/>
<path class="g29" d="M3200 2104l19 4 7 15-18-4zM3208 2119l18 4 8 16-19-4zM3196 2131l19 4 19 4 7 16-18-4-19-4zM3204 2147l19 4 7 16-19-4zM3192 2159l19 4 8 17-19-4zM3180 2172l20 4 19 4 8 18-20-5-19-4zM3188 2189l19 4 8 18-19-4zM3176 2203l20 4 19 4 8 18-19-4-20-4zM3164 2217l20 4 20 4 7 19-19-4-20-4zM3172 2236l20 4 7 19-20-4zM3159 2251l20 4 8 20-20-4zM3147 2267l20 4 20 4 8 20-20-4-21-4zM3134 2283l20 4 21 4 8 21-21-4-20-4zM3142 2304l20 4 8 22-20-4zM3129 2322l21 4 8 21-21-3zM3115 2340l22 4 8 22-22-4zM3102 2359l21 3 8 23-21-3zM3088 2378l22 4 8 23-22-3zM3074 2398l22 4 8 24-22-3z"/>
<path class="g2a" d="M3171 2045l18 4 7 14-18-4zM3178 2059l18 4 8 15-19-5zM3185 2073l19 5 7 15-18-5zM3174 2084l19 4 18 5 8 15-19-4-19-5zM3181 2099l19 5 8 15-19-4zM3170 2110l19 5 19 4 7 16-19-4-19-5zM3177 2126l19 5 8 16-19-5zM3165 2138l20 4 19 5 7 16-19-4-19-4zM3173 2155l19 4 8 17-20-4zM3161 2168l19 4 8 17-20-4zM3149 2181l19 4 20 4 8 18-20-4-20-4zM3156 2199l20 4 8 18-20-4zM3144 2213l20 4 8 19-20-4zM3131 2227l21 5 20 4 7 19-20-4-20-4zM3139 2247l20 4 8 20-20-4zM3126 2263l21 4 7 20-20-4zM3113 2279l21 4 8 21-21-4zM3100 2296l21 4 21 4 8 22-21-4-21-4zM3086 2313l22 5 21 4 8 22-22-4-21-4zM3072 2331l22 5 21 4 8 22-21-3-22-4zM3058 2350l22 5 22 4 8 23-22-4-22-4zM3044 2370l22 4 22 4 8 24-22-4-22-3zM3030 2391l22 4 22 3 8 25-22-4-22-3z"/>
<path class="g2b" d="M3145 2026l19 5 18 4 7 14-18-4-19-5zM3152 2040l19 5 7 14-19-4zM3159 2055l19 4 7 14-18-4zM3148 2065l19 4 18 4 8 15-19-4-19-4zM3155 2080l19 4 7 15-19-4zM3143 2090l19 5 19 4 8 16-19-5-20-4zM3150 2106l20 4 7 16-19-4zM3138 2117l20 5 19 4 8 16-20-4-19-4zM3146 2134l19 4 8 17-20-5zM3134 2146l19 4 20 5 7 17-19-4-20-5zM3141 2163l20 5 7 17-19-4zM3129 2176l20 5 7 18-20-5zM3116 2190l20 4 20 5 8 18-20-4-20-5zM3124 2208l20 5 8 19-21-5zM3111 2223l20 4 8 20-21-4zM3098 2238l20 5 21 4 8 20-21-4-21-5zM3084 2253l21 5 21 5 8 20-21-4-21-5zM3092 2274l21 5 8 21-21-4zM3078 2291l22 5 8 22-22-5zM3065 2309l21 4 8 23-22-5zM3051 2327l21 4 8 24-22-5zM3036 2346l22 4 8 24-22-4zM3022 2366l22 4 8 25-22-4zM3007 2386l23 5 8 25-23-4-3-9-2-8zM3005 2402l7 1 3 9-8-1z"/>
<path class="g2c" d="M3126 2021l19 5 7 14-19-5zM3133 2035l19 5 7 15-18-5zM3122 2045l19 5 18 5 8 14-19-4-19-5zM3129 2060l19 5 7 15-19-5zM3117 2070l19 5 19 5 7 15-19-5-19-4zM3124 2086l19 4 7 16-19-5zM3112 2097l19 4 19 5 8 16-20-5-19-4zM3119 2113l19 4 8 17-20-5zM3106 2124l20 5 20 5 7 16-19-4-20-5zM3114 2141l20 5 7 17-20-5zM3101 2154l20 4 20 5 8 18-20-5-20-5zM3109 2171l20 5 7 18-20-4zM3096 2185l20 5 8 18-21-4zM3083 2199l20 5 21 4 7 19-20-4-21-5zM3090 2218l21 5 7 20-20-5zM3077 2233l21 5 7 20-21-5zM3063 2248l21 5 8 21-21-4zM3049 2264l22 6 21 4 8 22-22-5-21-5zM3057 2286l21 5 8 22-21-4zM3043 2304l22 5 7 22-21-4zM3029 2322l22 5 7 23-22-4zM3014 2341l22 5 8 24-22-4zM2999 2361l23 5 8 25-23-5-3-8-2-9zM2994 2368l8 1 2 9-7-2zM2989 2375l8 1 7 2 3 8-8-1-7-2zM2992 2383l7 2 8 1 3 9-8-2-7-1zM3002 2393l8 2 2 8-7-1z"/>
<path class="g2d" d="M3108 2016l18 5 7 14-18-5zM3096 2025l19 5 18 5 8 15-19-5-20-5zM3102 2040l20 5 7 15-19-5zM3090 2050l20 5 19 5 7 15-19-5-20-5zM3097 2065l20 5 7 16-20-5zM3085 2076l19 5 20 5 7 15-19-4-20-5zM3092 2092l20 5 7 16-20-5zM3079 2103l20 5 20 5 7 16-20-5-20-5zM3086 2119l20 5 8 17-20-5zM3074 2131l20 5 20 5 7 17-20-4-20-5zM3081 2149l20 5 8 17-21-5zM3068 2161l20 5 21 5 7 19-20-5-21-5zM3075 2180l21 5 7 19-20-5zM3062 2193l21 6 7 19-21-5zM3048 2208l21 5 21 5 8 20-21-5-21-5zM3056 2228l21 5 7 20-21-5zM3042 2243l21 5 8 22-22-6zM3028 2259l21 5 8 22-22-5zM3013 2276l22 5 22 5 8 23-22-5-22-5zM2999 2293l22 6 22 5 8 23-22-5-23-5zM2984 2311l22 6 23 5 7 24-22-5-22-5zM2992 2336l22 5 8 25-23-5zM2977 2356l7 2 8 1 7 2 3 8-8-1-7-2-8-1zM2987 2366l7 2 3 8-8-1z"/>
<path class="g2e" d="M3069 2005l20 5 19 6 7 14-19-5-20-5zM3076 2020l20 5 6 15-19-5zM3064 2029l19 6 19 5 8 15-20-5-19-5zM3071 2045l19 5 7 15-19-5zM3078 2060l19 5 7 16-19-5zM3065 2070l20 6 7 16-20-6zM3072 2086l20 6 7 16-20-5zM3059 2097l20 6 7 16-20-5zM3066 2114l20 5 8 17-20-5zM3053 2126l21 5 7 18-21-6zM3060 2143l21 6 7 17-20-5zM3047 2156l21 5 7 19-21-6zM3033 2169l21 5 21 6 8 19-21-6-21-5zM3041 2188l21 5 7 20-21-5zM3027 2202l21 6 8 20-22-6zM3013 2216l21 6 22 6 7 20-21-5-22-5zM3020 2238l22 5 7 21-21-5zM3006 2253l22 6 7 22-22-5zM2991 2270l22 6 8 23-22-6zM2976 2287l23 6 7 24-22-6zM2961 2305l23 6 8 25-23-6-3-8-2-9zM2969 2330l23 6 7 25-7-2-8-1-7-2-3-9-2-8zM2961 2328l8 2 3 9-8-2zM2964 2337l8 2 2 8-8-2z"/>
<path class="g2f" d="M3050 1999l19 6 7 15-19-6zM3057 2014l19 6 7 15-19-6zM3044 2024l20 5 7 16-20-6zM3051 2039l20 6 7 15-20-5zM3038 2049l20 6 20 5 7 16-20-6-20-5zM3045 2065l20 5 7 16-20-5zM3032 2075l20 6 20 5 7 17-20-6-20-6zM3039 2091l20 6 7 17-20-6zM3025 2102l21 6 20 6 8 17-21-5-20-6zM3033 2120l20 6 7 17-20-6zM3019 2132l21 5 20 6 8 18-21-5-21-6zM3026 2150l21 6 7 18-21-5zM3012 2163l21 6 8 19-22-6zM2998 2176l21 6 22 6 7 20-21-6-22-6zM3005 2196l22 6 7 20-21-6zM2991 2210l22 6 7 22-22-6zM2976 2225l22 7 22 6 8 21-22-6-22-6zM2984 2247l22 6 7 23-22-6zM2969 2264l22 6 8 23-23-6zM2954 2281l22 6 8 24-23-6zM2946 2301l7 2 8 2 3 8-8-1-8-2zM2941 2307l7 3 8 2 8 1 2 9-7-2-8-2-8-2zM2951 2318l8 2 7 2 3 8-8-2-7-2zM2954 2326l7 2 3 9-8-2z"/>
<path class="g210" d="M3031 1993l19 6 7 15-20-6zM3018 2002l19 6 20 6 7 15-20-5-20-6zM3024 2018l20 6 7 15-20-6zM3011 2027l20 6 20 6 7 16-20-6-20-6zM3018 2043l20 6 7 16-20-6zM3025 2059l20 6 7 16-20-6zM3011 2069l21 6 7 16-21-5zM3018 2086l21 5 7 17-21-6zM3005 2096l20 6 8 18-21-6zM3012 2114l21 6 7 17-21-5zM2998 2125l21 7 7 18-21-6zM2984 2137l21 7 21 6 7 19-21-6-21-7zM2991 2156l21 7 7 19-21-6zM2976 2169l22 7 7 20-22-6zM2983 2190l22 6 8 20-22-6zM2969 2204l22 6 7 22-22-7zM2954 2219l22 6 8 22-23-6zM2939 2234l22 7 23 6 7 23-22-6-23-7zM2946 2257l23 7 7 23-22-6zM2931 2274l23 7 7 24-8-2-7-2-8-2-2-8-3-9zM2925 2280l8 2 3 9-8-2zM2928 2289l8 2 2 8-8-2zM2930 2297l8 2 8 2 2 9-7-3-8-2z"/>
<path class="g211" d="M3011 1987l20 6 6 15-19-6zM2998 1996l20 6 6 16-20-7zM3004 2011l20 7 7 15-20-6zM2991 2021l20 6 7 16-20-6zM2998 2037l20 6 7 16-20-6zM2984 2046l21 7 20 6 7 16-21-6-20-7zM2991 2062l20 7 7 17-20-7zM2977 2073l21 6 20 7 7 16-20-6-21-6zM2984 2090l21 6 7 18-21-7zM2969 2101l22 6 21 7 7 18-21-7-22-6zM2976 2119l22 6 7 19-21-7zM2962 2131l22 6 7 19-22-6zM2969 2150l22 6 7 20-22-7zM2954 2163l22 6 7 21-21-7zM2939 2176l23 7 21 7 8 20-22-6-22-7zM2947 2197l22 7 7 21-22-6zM2931 2212l23 7 7 22-22-7zM2916 2228l23 6 7 23-23-6zM2923 2251l23 6 8 24-23-7-3-8-2-7zM2915 2249l8 2 3 8-8-3zM2918 2256l8 3 2 7-8-2zM2913 2262l7 2 8 2 3 8-8-2-8-2zM2915 2270l8 2 8 2 2 8-8-2-7-2zM2918 2278l7 2 3 9-8-3z"/>
<path class="g212" d="M2971 1973l20 7 20 7 7 15-20-6-20-7zM2978 1989l20 7 6 15-20-6zM2964 1998l20 7 20 6 7 16-20-6-21-7zM2970 2014l21 7 7 16-21-7zM2977 2030l21 7 7 16-21-7zM2963 2039l21 7 7 16-21-6zM2970 2056l21 6 7 17-21-6zM2956 2066l21 7 7 17-21-7zM2963 2083l21 7 7 17-22-6zM2948 2094l21 7 7 18-21-7zM2955 2112l21 7 8 18-22-6zM2940 2123l22 8 7 19-22-7zM2947 2143l22 7 7 19-22-6zM2932 2156l22 7 8 20-23-7zM2917 2169l22 7 8 21-23-7zM2924 2190l23 7 7 22-23-7zM2908 2205l23 7 8 22-23-6zM2893 2220l23 8 7 23-8-2-7-3-8-2-2-8-3-8zM2892 2241l8 3 8 2 7 3 3 7-8-2-8-2-7-3zM2902 2252l8 2 8 2 2 8-7-2-8-2zM2905 2260l8 2 2 8-8-2z"/>
<path class="g213" d="M2951 1966l20 7 7 16-21-7zM2957 1982l21 7 6 16-20-7zM2943 1991l21 7 6 16-20-7zM2950 2007l20 7 7 16-21-7zM2936 2016l20 7 21 7 7 16-21-7-21-7zM2942 2032l21 7 7 17-21-7zM2949 2049l21 7 7 17-21-7zM2934 2058l22 8 7 17-22-7zM2941 2076l22 7 6 18-21-7zM2926 2086l22 8 7 18-22-7zM2933 2105l22 7 7 19-22-8zM2918 2116l22 7 7 20-22-7zM2903 2128l22 8 22 7 7 20-22-7-22-8zM2910 2148l22 8 7 20-22-7zM2894 2162l23 7 7 21-23-7zM2901 2183l23 7 7 22-23-7zM2885 2198l23 7 8 23-23-8-3-7-2-8zM2880 2203l8 2 2 8-8-3zM2882 2210l8 3 3 7-8-2zM2877 2215l8 3 8 2 2 8-8-2-8-3zM2879 2223l8 3 8 2 3 8-8-3-8-2zM2890 2233l8 3 2 8-8-3z"/>
<path class="g214" d="M2930 1959l21 7 6 16-20-7zM2937 1975l20 7 7 16-21-7zM2922 1983l21 8 7 16-21-8zM2929 1999l21 8 6 16-20-7zM2914 2008l22 8 6 16-21-8zM2921 2024l21 8 7 17-21-8zM2906 2033l22 8 21 8 7 17-22-8-21-7zM2913 2051l21 7 7 18-22-8zM2898 2060l21 8 22 8 7 18-22-8-22-8zM2904 2078l22 8 7 19-22-8zM2889 2089l22 8 22 8 7 18-22-7-22-7zM2896 2109l22 7 7 20-22-8zM2880 2121l23 7 7 20-23-7zM2887 2141l23 7 7 21-23-7zM2871 2154l23 8 7 21-23-7zM2855 2168l23 8 23 7 7 22-23-7-8-3-7-2-8-3-2-7-3-8zM2862 2190l8 3 7 2 8 3 3 7-8-2-8-3-8-2zM2864 2198l8 2 8 3 2 7-7-2-8-3zM2875 2208l7 2 3 8-8-3z"/>
<path class="g215" d="M2910 1951l20 8 7 16-21-8zM2895 1959l21 8 21 8 6 16-21-8-21-7zM2901 1976l21 7 7 16-21-7zM2908 1992l21 7 7 17-22-8zM2893 2000l21 8 7 16-22-8zM2899 2016l22 8 7 17-22-8zM2884 2025l22 8 7 18-22-8zM2891 2043l22 8 6 17-21-8zM2875 2052l23 8 6 18-22-8zM2882 2070l22 8 7 19-22-8zM2866 2081l23 8 7 20-23-8zM2873 2101l23 8 7 19-23-7zM2857 2113l23 8 7 20-23-8zM2864 2133l23 8 7 21-23-8zM2848 2147l23 7 7 22-23-8-2-7-3-7zM2845 2158l8 3 2 7-8-2zM2847 2166l8 2 2 7-8-2zM2849 2173l8 2 3 8-8-3z"/>
<path class="g216" d="M2889 1943l21 8 6 16-21-8zM2874 1951l21 8 6 17-21-9zM2880 1967l21 9 7 16-21-9zM2865 1975l22 8 21 9 6 16-21-8-22-9zM2871 1991l22 9 6 16-21-8zM2878 2008l21 8 7 17-22-8zM2862 2017l22 8 7 18-22-9zM2869 2034l22 9 7 17-23-8zM2853 2044l22 8 7 18-22-8zM2860 2062l22 8 7 19-23-8zM2844 2073l22 8 7 20-23-8zM2850 2093l23 8 7 20-23-8zM2834 2105l23 8 7 20-23-8-2-7-3-6zM2841 2125l23 8 7 21-23-7-2-7-3-8zM2833 2123l8 2 2 7-8-2zM2828 2127l7 3 8 2 3 8-8-3-8-3zM2830 2134l8 3 8 3 2 7-8-3-8-2zM2832 2142l8 2 8 3 2 7-8-3-8-2zM2834 2149l8 2 8 3 3 7-8-3-8-2z"/>
<path class="g217" d="M2868 1935l21 8 6 16-21-8zM2852 1942l22 9 6 16-21-8zM2859 1959l21 8 7 16-22-8zM2843 1966l22 9 6 16-22-8zM2849 1983l22 8 7 17-22-9zM2856 1999l22 9 6 17-22-8zM2840 2008l22 9 7 17-23-8zM2846 2026l23 8 6 18-22-8zM2830 2035l23 9 7 18-23-8zM2837 2054l23 8 6 19-22-8zM2821 2065l23 8 6 20-23-8zM2827 2085l23 8 7 20-23-8zM2819 2100l7 2 8 3 2 7-7-3-8-3zM2813 2104l8 2 8 3 7 3 3 6-8-2-8-3-8-2zM2815 2111l8 2 8 3 8 2 2 7-8-2-8-3-8-2zM2817 2118l8 2 8 3 2 7-7-3-9-2z"/>
<path class="g218" d="M2846 1926l22 9 6 16-22-9zM2831 1933l21 9 7 17-22-9zM2837 1950l22 9 6 16-22-9zM2821 1957l22 9 6 17-22-10zM2827 1973l22 10 7 16-22-9zM2834 1990l22 9 6 18-22-9zM2817 1999l23 9 6 18-22-9zM2824 2017l22 9 7 18-23-9zM2807 2026l23 9 7 19-23-9zM2814 2045l23 9 7 19-23-8zM2797 2056l24 9 6 20-23-9-2-7-3-6zM2804 2076l23 9 7 20-8-3-7-2-8-3-2-7-3-7zM2811 2097l8 3 2 6-8-2z"/>
<path class="g219" d="M2824 1917l22 9 6 16-21-9zM2809 1924l22 9 6 17-22-10zM2815 1940l22 10 6 16-22-9zM2799 1947l22 10 6 16-22-9zM2805 1964l22 9 7 17-23-9zM2811 1981l23 9 6 18-23-9zM2795 1989l22 10 7 18-23-10zM2801 2007l23 10 6 18-23-9zM2784 2017l23 9 7 19-23-9-2-6-3-7zM2791 2036l23 9 7 20-24-9-2-7-2-6zM2783 2033l8 3 2 7-8-3zM2785 2040l8 3 2 6-8-2zM2787 2047l8 2 2 7-8-3zM2789 2053l8 3 2 7-7-3zM2792 2060l7 3 3 6-8-2zM2794 2067l8 2 2 7-8-3z"/>
<path class="g21a" d="M2803 1907l21 10 7 16-22-9zM2786 1914l23 10 6 16-23-10zM2792 1930l23 10 6 17-22-10zM2776 1937l23 10 6 17-23-10zM2782 1954l23 10 6 17-23-10zM2788 1971l23 10 6 18-22-10zM2771 1980l24 9 6 18-23-9-2-6-3-6zM2778 1998l23 9 6 19-23-9-2-6-2-7zM2770 1995l8 3 2 6-8-3zM2772 2001l8 3 2 7-8-3zM2766 2005l8 3 8 3 2 6-8-3-7-3zM2769 2011l7 3 8 3 2 6-7-2-8-3zM2771 2018l8 3 7 2 3 7-8-3-8-3zM2781 2027l8 3 2 6-8-3z"/>
<path class="g21b" d="M2780 1898l23 9 6 17-23-10zM2764 1904l22 10 6 16-22-10zM2770 1920l22 10 7 17-23-10zM2753 1927l23 10 6 17-23-10zM2759 1944l23 10 6 17-23-9-2-6-2-6zM2765 1962l23 9 7 18-24-9-2-6-2-6zM2757 1959l8 3 2 6-7-4zM2760 1964l7 4 2 6-7-4zM2754 1967l8 3 7 4 2 6-8-3-7-4zM2756 1973l7 4 8 3 2 6-7-3-8-4zM2758 1979l8 4 7 3 3 6-8-3-8-3zM2760 1986l8 3 8 3 2 6-8-3-8-3zM2762 1992l8 3 2 6-8-3zM2764 1998l8 3 2 7-8-3z"/>
<path class="g21c" d="M2758 1887l22 11 6 16-22-10zM2741 1893l23 11 6 16-23-10zM2747 1910l23 10 6 17-23-10zM2730 1916l23 11 6 17-8-3-7-4-8-3-2-6-2-6zM2736 1934l8 3 7 4 8 3 2 6-8-4-7-3-8-3zM2738 1940l8 3 7 3 8 4 2 6-8-4-7-3-8-3zM2740 1946l8 3 7 3 8 4 2 6-8-3-7-4-8-3zM2750 1955l7 4 3 5-8-3zM2752 1961l8 3 2 6-8-3z"/>
<path class="g21d" d="M2735 1876l23 11 6 17-23-11zM2718 1882l23 11 6 17-23-11-2-6-2-5zM2720 1907l8 3 2 6-8-4zM2724 1899l23 11 6 17-23-11-2-6-2-5z"/>
<path class="g21e" d="M2706 1867l8 4 2 5-8-4zM2708 1872l8 4 2 6-8-4zM2712 1865l23 11 6 17-23-11-2-6-2-5zM2703 1874l7 4 8 4 2 6-8-4-8-4zM2712 1884l8 4 2 5-8-4zM2714 1889l8 4 2 6-8-4zM2716 1895l8 4 2 6-8-4zM2718 1901l8 4 2 5-8-3z"/>
<path class="g21f" d="M2689 1854l8 4 7 3 8 4 2 6-8-4-7-4-8-4zM2699 1863l7 4 2 5-8-3zM2700 1869l8 3 2 6-7-4z"/>
<path class="g12" d="M3346 2415l19 2 9 23-20-1z"/>
<path class="g13" d="M3337 2392l20 2 8 23-19-2zM3306 2413l20 1 20 1 8 24-20-2-20-1z"/>
<path class="g14" d="M3320 2349l20 2 8 21-19-2zM3309 2369l20 1 19 2 9 22-20-2-20-1zM3297 2389l20 2 20 1 9 23-20-1-20-1zM3265 2409l20 2 21 2 8 23-20-1-21-2z"/>
<path class="g15" d="M3312 2328l19 2 9 21-20-2zM3281 2345l20 2 19 2 9 21-20-1-20-2zM3269 2365l20 2 20 2 8 22-20-2-20-1zM3257 2386l20 2 20 1 9 24-21-2-20-2zM3245 2408l20 1 8 24-20-2z"/>
<path class="g16" d="M3295 2288l20 3 8 20-19-3zM3284 2305l20 3 19 3 8 19-19-2-20-2zM3272 2324l20 2 20 2 8 21-19-2-20-2zM3261 2343l20 2 8 22-20-2zM3228 2362l21 1 20 2 8 23-20-2-21-2zM3216 2383l20 1 21 2 8 23-20-1-21-2zM3203 2404l21 2 21 2 8 23-21-1-21-2z"/>
<path class="g17" d="M3279 2250l19 3 8 19-19-3zM3267 2266l20 3 19 3 9 19-20-3-19-3zM3256 2283l20 2 19 3 9 20-20-3-20-2zM3244 2300l20 3 20 2 8 21-20-2-20-3zM3232 2319l20 2 20 3 9 21-20-2-21-2zM3220 2339l20 2 21 2 8 22-20-2-21-1zM3207 2360l21 2 8 22-20-1zM3174 2379l21 2 21 2 8 23-21-2-21-1zM3161 2401l21 2 21 1 8 24-21-1-21-2z"/>
<path class="g18" d="M3263 2212l19 4 8 18-19-3zM3251 2228l20 3 19 3 8 19-19-3-20-3zM3240 2243l19 4 20 3 8 19-20-3-19-3zM3228 2260l20 3 19 3 9 19-20-2-20-3zM3216 2277l20 3 20 3 8 20-20-3-20-2zM3204 2296l20 2 20 2 8 21-20-2-20-2zM3191 2315l21 2 20 2 8 22-20-2-21-2zM3179 2335l20 2 21 2 8 23-21-2-20-3zM3166 2355l21 2 20 3 9 23-21-2-21-2zM3153 2377l21 2 8 24-21-2zM3118 2397l21 2 22 2 8 24-22-1-21-2z"/>
<path class="g19" d="M3239 2160l19 3 8 17-19-3zM3247 2177l19 3 8 18-19-4zM3235 2191l20 3 19 4 8 18-19-4-20-3zM3224 2206l19 3 20 3 8 19-20-3-19-4zM3212 2221l20 3 19 4 8 19-19-4-20-3zM3220 2240l20 3 8 20-20-3zM3208 2257l20 3 8 20-20-3zM3196 2275l20 2 8 21-20-2zM3183 2293l21 3 8 21-21-2zM3171 2312l20 3 8 22-20-2zM3137 2330l21 2 21 3 8 22-21-2-21-2zM3123 2351l22 2 21 2 8 24-21-2-22-2zM3110 2372l21 3 22 2 8 24-22-2-21-2zM3096 2395l22 2 8 25-22-2z"/>
<path class="g1a" d="M3216 2111l19 4 7 16-19-4zM3223 2127l19 4 8 16-19-4zM3212 2140l19 3 19 4 8 16-19-3-19-4zM3220 2156l19 4 8 17-20-4zM3208 2170l19 3 20 4 8 17-20-3-19-3zM3196 2184l20 4 19 3 8 18-19-3-20-4zM3204 2202l20 4 8 18-20-3zM3192 2218l20 3 8 19-20-3zM3180 2234l20 3 20 3 8 20-20-3-20-3zM3167 2251l21 3 20 3 8 20-20-2-21-3zM3155 2269l20 3 21 3 8 21-21-3-20-3zM3142 2287l21 3 20 3 8 22-20-3-21-3zM3129 2307l21 2 21 3 8 23-21-3-21-2zM3115 2327l22 3 8 23-22-2zM3080 2345l22 3 21 3 8 24-21-3-22-2zM3066 2367l22 3 22 2 8 25-22-2-22-2zM3052 2390l22 3 22 2 8 25-22-2-22-2z"/>
<path class="g1b" d="M3193 2066l19 3 7 15-19-3zM3200 2081l19 3 8 15-19-3zM3189 2092l19 4 19 3 8 16-19-4-19-4zM3197 2107l19 4 7 16-19-4zM3185 2120l19 3 19 4 8 16-19-3-19-4zM3193 2136l19 4 8 16-20-3zM3181 2149l19 4 20 3 7 17-19-3-20-4zM3169 2163l19 3 20 4 8 18-20-4-20-3zM3176 2181l20 3 8 18-20-3zM3164 2196l20 3 20 3 8 19-20-3-20-3zM3152 2211l20 4 20 3 8 19-20-3-21-3zM3139 2227l20 4 21 3 8 20-21-3-20-3zM3126 2244l21 4 20 3 8 21-20-3-21-3zM3113 2262l21 4 21 3 8 21-21-3-21-3zM3100 2281l21 3 21 3 8 22-21-2-22-3zM3086 2301l21 3 22 3 8 23-22-3-21-3zM3072 2321l22 3 21 3 8 24-21-3-22-3zM3058 2342l22 3 8 25-22-3zM3044 2365l22 2 8 26-22-3zM3007 2385l23 3 22 2 8 26-22-2-23-3-3-9-2-8zM3005 2402l7 0 3 9-8-1z"/>
<path class="g1c" d="M3171 2023l19 4 7 14-19-4zM3178 2037l19 4 7 14-18-4zM3167 2047l19 4 18 4 8 14-19-3-19-4zM3174 2062l19 4 7 15-18-4zM3162 2073l20 4 18 4 8 15-19-4-19-4zM3170 2088l19 4 8 15-20-3zM3158 2100l19 4 20 3 7 16-19-3-19-4zM3166 2116l19 4 8 16-20-4zM3153 2129l20 3 20 4 7 17-19-4-20-4zM3161 2145l20 4 7 17-19-3zM3149 2159l20 4 7 18-20-4zM3136 2173l20 4 20 4 8 18-20-3-20-4zM3124 2188l20 4 20 4 8 19-20-4-21-4zM3131 2207l21 4 7 20-20-4zM3118 2224l21 3 8 21-21-4zM3105 2241l21 3 8 22-21-4zM3092 2259l21 3 8 22-21-3zM3078 2277l22 4 7 23-21-3zM3064 2297l22 4 8 23-22-3zM3050 2318l22 3 8 24-22-3zM3014 2336l22 3 22 3 8 25-22-2-22-3zM2999 2359l23 3 22 3 8 25-22-2-23-3-3-9-2-8zM2989 2375l8 1 7 0 3 9-8-1-7-1zM2992 2383l7 1 8 1 3 9-8-1-7-1zM3002 2393l8 1 2 8-7 0z"/>
<path class="g1d" d="M3145 2005l19 4 18 4 8 14-19-4-19-4zM3152 2019l19 4 7 14-18-4zM3141 2029l19 4 18 4 8 14-19-4-19-3zM3148 2044l19 3 7 15-19-4zM3136 2054l19 4 19 4 8 15-20-4-19-4zM3143 2069l19 4 8 15-19-4zM3131 2080l20 4 19 4 7 16-19-4-19-4zM3139 2096l19 4 8 16-20-4zM3126 2108l20 4 20 4 7 16-20-3-19-4zM3134 2125l19 4 8 16-20-3zM3121 2138l20 4 20 3 8 18-20-4-20-4zM3108 2151l21 4 20 4 7 18-20-4-20-4zM3116 2169l20 4 8 19-20-4zM3103 2184l21 4 7 19-20-3zM3090 2200l21 4 20 3 8 20-21-3-21-4zM3076 2216l21 4 21 4 8 20-21-3-21-4zM3063 2233l21 4 21 4 8 21-21-3-22-4zM3049 2251l21 4 22 4 8 22-22-4-21-3zM3035 2270l22 4 21 3 8 24-22-4-21-3zM3021 2290l22 4 21 3 8 24-22-3-22-4zM3006 2311l22 3 22 4 8 24-22-3-22-3zM2991 2333l23 3 8 26-23-3zM2977 2356l7 1 8 1 7 1 3 9-8-1-7-1-8-1zM2987 2366l7 1 8 1 2 8-7 0-8-1z"/>
<path class="g1e" d="M3107 1996l19 5 19 4 7 14-19-4-19-4zM3114 2011l19 4 19 4 8 14-19-4-19-4zM3122 2025l19 4 7 15-19-4zM3109 2035l20 5 19 4 7 14-19-4-19-4zM3117 2050l19 4 7 15-19-4zM3104 2061l20 4 19 4 8 15-20-4-19-4zM3112 2076l19 4 8 16-20-4zM3099 2088l20 4 20 4 7 16-20-4-20-4zM3106 2104l20 4 8 17-20-4zM3094 2116l20 5 20 4 7 17-20-4-20-5zM3101 2133l20 5 8 17-21-4zM3088 2147l20 4 8 18-21-4zM3075 2161l20 4 21 4 8 19-21-4-21-4zM3061 2176l21 4 21 4 8 20-21-4-21-5zM3069 2195l21 5 7 20-21-4zM3055 2212l21 4 8 21-21-4zM3041 2229l22 4 7 22-21-4zM3027 2247l22 4 8 23-22-4zM3013 2266l22 4 8 24-22-4zM2998 2286l23 4 7 24-22-3zM2984 2307l22 4 8 25-23-3zM2969 2329l22 4 8 26-7-1-8-1-7-1-3-9-2-9zM2961 2328l8 1 3 9-8-1zM2964 2337l8 1 2 9-8-1z"/>
<path class="g1f" d="M3088 1992l19 4 7 15-19-5zM3095 2006l19 5 8 14-20-4zM3083 2016l19 5 20 4 7 15-20-5-19-4zM3090 2031l19 4 8 15-20-4zM3077 2041l20 5 20 4 7 15-20-4-19-5zM3085 2056l19 5 8 15-20-4zM3072 2067l20 5 20 4 7 16-20-4-20-5zM3079 2083l20 5 7 16-20-4zM3066 2095l20 5 20 4 8 17-20-5-21-4zM3073 2112l21 4 7 17-20-4zM3060 2124l21 5 20 4 7 18-20-4-21-5zM3047 2138l20 4 21 5 7 18-20-4-21-5zM3054 2156l21 5 7 19-21-4zM3040 2171l21 5 8 19-21-4zM3026 2186l22 5 21 4 7 21-21-4-21-5zM3012 2203l22 4 21 5 8 21-22-4-21-5zM2998 2220l22 4 21 5 8 22-22-4-22-5zM3005 2242l22 5 8 23-22-4zM2968 2257l23 5 22 4 8 24-23-4-22-4zM2953 2277l23 5 22 4 8 25-22-4-23-4zM2961 2303l23 4 7 26-22-4-3-9-2-8zM2953 2301l8 2 3 9-8-2zM2941 2307l7 2 8 1 8 2 2 8-7-1-8-2-8-1zM2951 2317l8 2 7 1 3 9-8-1-7-2zM2954 2326l7 2 3 9-8-2z"/>
<path class="g110" d="M3069 1987l19 5 7 14-19-5zM3057 1997l19 4 19 5 7 15-19-5-20-5zM3063 2011l20 5 7 15-20-5zM3051 2021l19 5 20 5 7 15-20-5-19-5zM3058 2036l19 5 8 15-20-4zM3045 2047l20 5 20 4 7 16-20-5-20-5zM3052 2062l20 5 7 16-20-5zM3038 2073l21 5 20 5 7 17-20-5-20-5zM3046 2090l20 5 7 17-20-5zM3032 2102l21 5 20 5 8 17-21-5-21-5zM3039 2119l21 5 7 18-20-4zM3026 2133l21 5 7 18-21-5zM3012 2146l21 5 21 5 7 20-21-5-21-5zM3019 2166l21 5 8 20-22-5zM3005 2181l21 5 8 21-22-4zM2990 2198l22 5 8 21-22-4zM2976 2215l22 5 7 22-22-4zM2961 2233l22 5 22 4 8 24-22-4-23-5zM2946 2252l22 5 8 25-23-5zM2930 2273l23 4 8 26-8-2-7-1-8-2-3-8-2-9zM2928 2288l7 2 3 8-8-1zM2930 2297l8 1 8 2 7 1 3 9-8-1-7-2-8-1z"/>
<path class="g111" d="M3030 1976l20 6 19 5 7 14-19-4-20-6zM3037 1991l20 6 6 14-19-5zM3024 2001l20 5 19 5 7 15-19-5-20-5zM3031 2016l20 5 7 15-20-5zM3017 2026l21 5 20 5 7 16-20-5-21-5zM3024 2042l21 5 7 15-21-5zM3011 2052l20 5 21 5 7 16-21-5-20-5zM3018 2068l20 5 8 17-21-5zM3025 2085l21 5 7 17-21-5zM3011 2097l21 5 7 17-21-5zM2997 2109l21 5 21 5 8 19-21-5-22-6zM3004 2127l22 6 7 18-21-5zM2990 2141l22 5 7 20-22-5zM2976 2155l21 6 22 5 7 20-21-5-22-5zM2983 2176l22 5 7 22-22-5zM2968 2193l22 5 8 22-22-5zM2953 2210l23 5 7 23-22-5zM2938 2228l23 5 7 24-22-5zM2923 2247l23 5 7 25-23-4-2-9-3-8zM2918 2254l7 2 3 8-8-2zM2913 2261l7 1 8 2 2 9-8-2-7-1zM2915 2270l7 1 8 2 3 8-8-2-7-1zM2918 2278l7 1 8 2 2 9-7-2-8-1z"/>
<path class="g112" d="M3010 1971l20 5 7 15-20-5zM2997 1980l20 6 20 5 7 15-20-5-20-5zM3004 1996l20 5 7 15-20-5zM2990 2005l21 6 20 5 7 15-21-5-20-5zM2997 2021l20 5 7 16-20-6zM3004 2036l20 6 7 15-20-5zM2990 2046l21 6 7 16-21-5zM2997 2063l21 5 7 17-21-6zM2983 2074l21 5 21 6 7 17-21-5-21-6zM2990 2091l21 6 7 17-21-5zM2976 2103l21 6 7 18-21-5zM2961 2116l22 6 21 5 8 19-22-5-22-6zM2968 2135l22 6 7 20-21-6zM2954 2150l22 5 7 21-22-5zM2939 2165l22 6 22 5 7 22-22-5-22-6zM2923 2182l23 5 22 6 8 22-23-5-22-5zM2908 2200l23 5 22 5 8 23-23-5-23-5zM2892 2218l23 5 23 5 8 24-23-5-8-1-7-2-8-1-3-8-2-9zM2892 2241l8 2 8 1 7 2 8 1 2 9-7-2-8-1-8-2-7-2zM2902 2251l8 2 8 1 2 8-7-1-8-1zM2905 2260l8 1 2 9-8-2z"/>
<path class="g113" d="M2970 1959l20 6 20 6 7 15-20-6-20-5zM2977 1975l20 5 7 16-20-6zM2984 1990l20 6 7 15-21-6zM2970 1999l20 6 7 16-20-6zM2977 2015l20 6 7 15-21-6zM2962 2024l21 6 21 6 7 16-21-6-21-6zM2969 2040l21 6 7 17-21-6zM2955 2051l21 6 21 6 7 16-21-5-21-6zM2962 2068l21 6 7 17-21-6zM2947 2079l22 6 21 6 7 18-21-6-22-6zM2954 2097l22 6 7 19-22-6zM2939 2110l22 6 7 19-22-5zM2924 2124l22 6 22 5 8 20-22-5-23-6zM2931 2144l23 6 7 21-22-6zM2916 2160l23 5 7 22-23-5zM2901 2177l22 5 8 23-23-5zM2885 2195l23 5 7 23-23-5-2-8-3-7zM2882 2209l8 1 2 8-8-1zM2877 2215l7 2 8 1 3 8-8-1-8-2zM2879 2223l8 2 8 1 2 9-7-2-8-2zM2890 2233l7 2 3 8-8-2z"/>
<path class="g114" d="M2950 1953l20 6 7 16-20-7zM2957 1968l20 7 7 15-21-6zM2943 1978l20 6 21 6 6 15-20-6-21-6zM2949 1993l21 6 7 16-21-6zM2935 2002l21 7 21 6 6 15-21-6-21-6zM2941 2018l21 6 7 16-21-6zM2948 2034l21 6 7 17-21-6zM2934 2044l21 7 7 17-22-7zM2940 2061l22 7 7 17-22-6zM2926 2073l21 6 7 18-22-6zM2910 2085l22 6 22 6 7 19-22-6-22-6zM2917 2104l22 6 7 20-22-6zM2902 2118l22 6 7 20-22-5zM2886 2133l23 6 22 5 8 21-23-5-22-5zM2894 2155l22 5 7 22-22-5zM2878 2172l23 5 7 23-23-5zM2862 2190l8 2 7 1 8 2 2 8-7-2-8-2-8-1zM2864 2198l8 1 8 2 7 2 3 7-8-1-8-2-7-1zM2874 2207l8 2 2 8-7-2z"/>
<path class="g115" d="M2930 1947l20 6 7 15-21-6zM2915 1955l21 7 21 6 6 16-20-6-21-7zM2922 1971l21 7 6 15-21-6zM2928 1987l21 6 7 16-21-7zM2914 1995l21 7 6 16-21-7zM2920 2011l21 7 7 16-21-6zM2905 2021l22 7 21 6 7 17-21-7-22-6zM2912 2038l22 6 6 17-21-6zM2897 2048l22 7 21 6 7 18-21-6-22-7zM2904 2066l22 7 6 18-22-6zM2888 2079l22 6 7 19-22-6zM2895 2098l22 6 7 20-22-6zM2879 2112l23 6 7 21-23-6zM2864 2128l22 5 8 22-23-6zM2848 2144l23 5 23 6 7 22-23-5-23-5-2-8-3-7zM2845 2158l8 1 2 8-8-1zM2855 2167l23 5 7 23-8-2-7-1-8-2-2-8-3-7zM2847 2166l8 1 2 8-8-2zM2849 2173l8 2 3 7-8-1z"/>
<path class="g116" d="M2909 1940l21 7 6 15-21-7zM2894 1949l21 6 7 16-21-7zM2901 1964l21 7 6 16-21-7zM2886 1973l21 7 21 7 7 15-21-7-22-7zM2892 1988l22 7 6 16-21-7zM2899 2004l21 7 7 17-22-7zM2884 2014l21 7 7 17-22-7zM2890 2031l22 7 7 17-22-7zM2875 2042l22 6 7 18-23-6zM2881 2060l23 6 6 19-22-6zM2866 2072l22 7 7 19-22-6zM2850 2086l23 6 22 6 7 20-23-6-22-5zM2834 2101l23 6 22 5 7 21-22-5-23-5-2-7-3-8zM2841 2123l23 5 7 21-23-5-2-7-3-7zM2835 2128l8 2 3 7-8-1zM2830 2134l8 2 8 1 2 7-8-1-8-2zM2832 2141l8 2 8 1 2 8-8-2-7-1zM2835 2149l7 1 8 2 3 7-8-1-8-2z"/>
<path class="g117" d="M2867 1925l21 8 21 7 6 15-21-6-21-8zM2873 1941l21 8 7 15-22-7zM2879 1957l22 7 6 16-21-7zM2864 1965l22 8 6 15-21-7zM2871 1981l21 7 7 16-22-7zM2855 1990l22 7 22 7 6 17-21-7-22-7zM2862 2007l22 7 6 17-22-7zM2846 2017l22 7 22 7 7 17-22-6-23-7zM2852 2035l23 7 6 18-22-7zM2836 2047l23 6 22 7 7 19-22-7-23-6zM2843 2066l23 6 7 20-23-6zM2827 2081l23 5 7 21-23-6zM2819 2098l7 1 8 2 2 7-8-1-7-2zM2813 2103l8 2 7 2 8 1 3 8-8-2-8-2-8-1zM2815 2111l8 1 8 2 8 2 2 7-8-2-8-1-8-2zM2817 2118l8 2 8 1 8 2 2 7-8-2-7-1-9-2zM2828 2127l7 1 3 8-8-2z"/>
<path class="g118" d="M2845 1918l22 7 6 16-21-7zM2852 1934l21 7 6 16-21-8zM2836 1941l22 8 21 8 7 16-22-8-22-8zM2842 1957l22 8 7 16-22-7zM2849 1974l22 7 6 16-22-7zM2833 1982l22 8 7 17-23-8zM2839 1999l23 8 6 17-22-7zM2823 2010l23 7 6 18-22-7zM2830 2028l22 7 7 18-23-6zM2814 2041l22 6 7 19-23-6zM2797 2055l23 5 23 6 7 20-23-5-23-5-2-7-3-7zM2804 2076l23 5 7 20-8-2-7-1-8-2-2-7-3-6zM2811 2096l8 2 2 7-8-2z"/>
<path class="g119" d="M2824 1910l21 8 7 16-22-8zM2830 1926l22 8 6 15-22-8zM2814 1933l22 8 6 16-22-8zM2820 1949l22 8 7 17-22-8zM2804 1958l23 8 22 8 6 16-22-8-22-7zM2811 1975l22 7 6 17-22-7zM2817 1992l22 7 7 18-23-7zM2801 2003l22 7 7 18-23-7zM2784 2015l23 6 23 7 6 19-22-6-23-6-2-7-3-6zM2791 2035l23 6 6 19-23-5-2-7-2-6zM2783 2033l8 2 2 7-8-2zM2785 2040l8 2 2 6-8-1zM2787 2047l8 1 2 7-8-2zM2789 2053l8 2 2 7-7-2zM2792 2060l7 2 3 7-8-2zM2794 2067l8 2 2 7-8-2z"/>
<path class="g11a" d="M2802 1901l22 9 6 16-22-9zM2808 1917l22 9 6 15-22-8zM2792 1925l22 8 6 16-22-8zM2798 1941l22 8 7 17-23-8zM2782 1950l22 8 7 17-23-8zM2788 1967l23 8 6 17-23-7zM2771 1978l23 7 23 7 6 18-22-7-23-7-2-6-3-6zM2778 1996l23 7 6 18-23-6-2-6-2-7zM2772 2000l8 2 2 7-8-2zM2766 2005l8 2 8 2 2 6-8-2-7-2zM2769 2011l7 2 8 2 2 7-7-2-8-2zM2771 2018l8 2 7 2 3 6-8-2-8-1zM2781 2026l8 2 2 7-8-2z"/>
<path class="g11b" d="M2780 1892l22 9 6 16-22-8zM2786 1909l22 8 6 16-22-8zM2769 1916l23 9 6 16-22-8zM2776 1933l22 8 6 17-22-8zM2759 1942l23 8 6 17-23-8-2-6-2-5zM2765 1959l23 8 6 18-23-7-2-6-2-7zM2757 1957l8 2 2 6-8-2zM2759 1963l8 2 2 7-7-3zM2754 1967l8 2 7 3 2 6-8-2-7-3zM2756 1973l7 3 8 2 2 6-7-3-8-2zM2758 1979l8 2 7 3 3 6-8-2-8-2zM2760 1986l8 2 8 2 2 6-8-2-7-2zM2763 1992l7 2 8 2 2 6-8-2-8-2zM2764 1998l8 2 2 7-8-2z"/>
<path class="g11c" d="M2758 1883l22 9 6 17-22-9zM2741 1890l23 10 22 9 6 16-23-9-22-9zM2747 1907l22 9 7 17-23-9zM2753 1924l23 9 6 17-23-8zM2744 1937l7 2 8 3 2 6-8-3-7-3zM2738 1940l8 2 7 3 8 3 2 5-8-2-7-3-8-2zM2740 1946l8 2 7 3 8 2 2 6-8-2-7-3-8-2zM2750 1954l7 3 2 6-7-2zM2752 1961l7 2 3 6-8-2z"/>
<path class="g11d" d="M2735 1874l23 9 6 17-23-10zM2718 1881l23 9 6 17-23-9-2-6-2-5zM2720 1907l8 3 2 6-8-3zM2724 1898l23 9 6 17-23-8-2-6-2-6zM2730 1916l23 8 6 18-8-3-7-2-8-3-2-6-2-6zM2736 1934l8 3 2 5-8-2z"/>
<path class="g11e" d="M2706 1866l8 4 2 5-8-3zM2708 1872l8 3 2 6-8-3zM2712 1864l23 10 6 16-23-9-2-6-2-5zM2703 1874l7 4 8 3 2 6-8-4-8-3zM2712 1883l8 4 2 5-8-3zM2714 1889l8 3 2 6-8-3zM2716 1895l8 3 2 6-8-3zM2718 1901l8 3 2 6-8-3z"/>
<path class="g11f" d="M2689 1854l8 3 7 4 8 3 2 6-8-4-8-3-7-3zM2698 1863l8 3 2 6-8-4zM2700 1868l8 4 2 6-7-4z"/>
<path class="g04" d="M3327 2394l20 0 20 1 8 26-19-1-21-1z"/>
<path class="g05" d="M3319 2369l20 0 20 1 8 25-20-1-20 0zM3286 2393l21 1 20 0 8 25-20 0-20-1z"/>
<path class="g06" d="M3322 2323l20 1 8 23-20-1zM3310 2345l20 1 20 1 9 23-20-1-20 0zM3278 2368l20 1 21 0 8 25-20 0-21-1zM3245 2392l21 1 20 0 9 25-21 0-21-1z"/>
<path class="g07" d="M3313 2302l20 1 9 21-20-1zM3282 2322l20 0 20 1 8 23-20-1-20 0zM3249 2344l21 0 20 1 20 0 9 24-21 0-20-1-20 0zM3237 2367l21 1 20 0 8 25-20 0-21-1zM3203 2391l21 1 21 0 8 25-20 0-21-1z"/>
<path class="g08" d="M3297 2263l19 2 9 19-20-2zM3285 2280l20 2 20 2 8 19-20-1-20-1zM3253 2299l20 1 20 1 20 1 9 21-20-1-20 0-21-1zM3241 2321l20 0 21 1 8 23-20-1-21 0zM3208 2343l21 0 20 1 9 24-21-1-21 0zM3174 2366l21 0 21 1 21 0 8 25-21 0-21-1-21 0zM3161 2390l21 1 21 0 9 25-22 0-21 0z"/>
<path class="g09" d="M3280 2225l19 2 9 19-20-2zM3269 2241l19 3 20 2 8 19-19-2-20-2zM3257 2259l20 2 20 2 8 19-20-2-20-1zM3245 2278l20 1 20 1 8 21-20-1-20-1zM3212 2297l21 1 20 1 8 22-20 0-21-1zM3200 2319l20 1 21 1 8 23-20-1-21 0zM3166 2341l21 1 21 1 8 24-21-1-21 0zM3131 2364l22 1 21 1 8 25-21-1-22-1zM3096 2388l22 1 21 0 22 1 8 26-21-1-22 0-22-1z"/>
<path class="g0a" d="M3264 2187l19 3 8 19-19-3zM3252 2203l20 3 19 3 8 18-19-2-20-3zM3241 2220l19 2 20 3 8 19-19-3-20-2zM3229 2237l20 2 20 2 8 20-20-2-20-2zM3216 2255l21 2 20 2 8 20-20-1-20-2zM3204 2275l21 1 20 2 8 21-20-1-21-1zM3171 2295l21 1 20 1 8 23-20-1-21-1zM3158 2317l21 1 21 1 8 24-21-1-21-1zM3123 2339l22 1 21 1 8 25-21-1-22-1zM3088 2362l22 1 21 1 8 25-21 0-22-1zM3052 2386l22 1 22 1 8 26-22-1-22-1z"/>
<path class="g0b" d="M3240 2135l19 3 8 16-19-3zM3248 2151l19 3 8 18-19-3zM3236 2166l20 3 19 3 8 18-19-3-20-2zM3224 2182l20 3 20 2 8 19-20-3-20-2zM3213 2198l19 3 20 2 8 19-19-2-20-3zM3200 2215l21 2 20 3 8 19-20-2-21-2zM3188 2233l20 2 21 2 8 20-21-2-20-2zM3176 2252l20 1 20 2 9 21-21-1-20-2zM3163 2272l21 1 20 2 8 22-20-1-21-1zM3129 2291l21 2 21 2 8 23-21-1-21-2zM3115 2314l22 1 21 2 8 24-21-1-22-1zM3080 2336l22 1 21 2 8 25-21-1-22-1zM3044 2359l22 2 22 1 8 26-22-1-22-1zM3007 2384l23 1 22 1 8 26-22 0-23-1-3-9-2-9zM3005 2402l7 0 3 9-8 0z"/>
<path class="g0c" d="M3216 2087l19 3 8 16-19-3zM3224 2103l19 3 8 15-19-3zM3213 2115l19 3 19 3 8 17-19-3-20-3zM3220 2132l20 3 8 16-20-2zM3209 2146l19 3 20 2 8 18-20-3-19-2zM3197 2161l20 3 19 2 8 19-20-3-19-3zM3185 2176l20 3 19 3 8 19-19-3-21-3zM3172 2193l20 2 21 3 8 19-21-2-20-3zM3160 2210l20 2 20 3 8 20-20-2-20-3zM3147 2228l21 2 20 3 8 20-20-1-21-2zM3134 2248l21 2 21 2 8 21-21-1-21-2zM3121 2268l21 2 21 2 8 23-21-2-21-2zM3086 2288l21 2 22 1 8 24-22-1-21-2zM3072 2311l22 1 21 2 8 25-21-2-22-1zM3036 2333l22 2 22 1 8 26-22-1-22-2zM2999 2357l23 1 22 1 8 27-22-1-23-1-3-9-2-9zM2989 2375l8 0 7 0 3 9-8 0-7-1zM2992 2383l7 1 8 0 3 9-8 0-7 0zM3002 2393l8 0 2 9-7 0z"/>
<path class="g0d" d="M3193 2043l19 3 8 14-19-3zM3201 2057l19 3 8 15-19-3zM3189 2069l20 3 19 3 7 15-19-3-19-3zM3197 2084l19 3 8 16-19-3zM3185 2096l20 4 19 3 8 15-19-3-20-3zM3173 2109l20 3 20 3 7 17-19-3-20-3zM3181 2126l20 3 19 3 8 17-19-3-20-3zM3169 2140l20 3 20 3 8 18-20-3-20-3zM3157 2155l20 3 20 3 8 18-20-3-21-2zM3144 2171l20 3 21 2 7 19-20-2-20-3zM3152 2190l20 3 8 19-20-2zM3139 2207l21 3 8 20-21-2zM3105 2223l21 3 21 2 8 22-21-2-21-3zM3092 2243l21 2 21 3 8 22-21-2-22-2zM3078 2264l21 2 22 2 8 23-22-1-21-2zM3042 2283l22 3 22 2 8 24-22-1-22-2zM3028 2307l22 2 22 2 8 25-22-1-22-2zM2991 2330l23 1 22 2 8 26-22-1-23-1zM2977 2356l7 0 8 1 7 0 3 9-8 0-7-1-8 0zM2987 2365l7 1 8 0 2 9-7 0-8 0z"/>
<path class="g0e" d="M3164 1987l19 4 7 13-19-3zM3171 2001l19 3 7 14-18-3zM3160 2011l19 4 18 3 8 14-19-4-19-3zM3167 2025l19 3 19 4 7 14-19-3-19-3zM3155 2036l19 4 19 3 8 14-19-3-19-3zM3163 2051l19 3 19 3 8 15-20-3-19-3zM3151 2063l19 3 19 3 8 15-19-3-20-3zM3158 2078l20 3 19 3 8 16-20-4-19-3zM3146 2090l20 3 19 3 8 16-20-3-19-3zM3154 2106l19 3 8 17-20-3zM3141 2120l20 3 20 3 8 17-20-3-20-3zM3129 2134l20 3 20 3 8 18-20-3-21-3zM3136 2152l21 3 7 19-20-3zM3124 2168l20 3 8 19-21-3zM3111 2184l20 3 21 3 8 20-21-3-21-2zM3097 2202l21 3 21 2 8 21-21-2-21-3zM3084 2220l21 3 8 22-21-2zM3049 2238l21 2 22 3 7 23-21-2-22-3zM3035 2259l21 2 22 3 8 24-22-2-22-3zM3020 2281l22 2 8 26-22-2zM2983 2303l23 2 22 2 8 26-22-2-23-1zM2969 2328l22 2 8 27-7 0-8-1-7 0-3-9-2-10zM2961 2327l8 1 3 9-8-1zM2964 2336l8 1 2 10-8-1z"/>
<path class="g0f" d="M3126 1980l19 4 19 3 7 14-19-3-19-4zM3133 1994l19 4 19 3 8 14-19-4-19-3zM3141 2008l19 3 7 14-19-3zM3129 2019l19 3 19 3 7 15-19-4-19-3zM3136 2033l19 3 8 15-20-3zM3124 2044l19 4 20 3 7 15-19-3-20-4zM3131 2059l20 4 7 15-19-3zM3119 2071l20 4 19 3 8 15-20-3-20-3zM3126 2087l20 3 8 16-20-3zM3114 2100l20 3 20 3 7 17-20-3-20-3zM3101 2113l20 4 20 3 8 17-20-3-21-3zM3108 2131l21 3 7 18-20-3zM3095 2145l21 4 20 3 8 19-20-3-21-3zM3082 2161l21 4 21 3 7 19-20-3-21-3zM3069 2178l21 3 21 3 7 21-21-3-21-3zM3055 2196l21 3 21 3 8 21-21-3-21-2zM3041 2214l22 4 21 2 8 23-22-3-21-2zM3027 2235l22 3 7 23-21-2zM2990 2253l23 3 22 3 7 24-22-2-22-2zM2976 2276l22 3 22 2 8 26-22-2-23-2zM2961 2300l22 3 8 27-22-2-3-9-2-10zM2953 2299l8 1 3 9-8-1zM2941 2307l7 1 8 0 8 1 2 10-8-1-7-1-8-1zM2951 2317l7 1 8 1 3 9-8-1-7-1zM2954 2326l7 1 3 9-8 0z"/>
<path class="g010" d="M3107 1976l19 4 7 14-19-3zM3095 1987l19 4 19 3 8 14-19-3-20-4zM3102 2001l20 4 19 3 7 14-19-3-20-4zM3090 2012l19 3 20 4 7 14-19-3-20-4zM3097 2026l20 4 19 3 7 15-19-4-20-3zM3104 2041l20 3 7 15-20-3zM3092 2052l19 4 20 3 8 16-20-4-20-4zM3099 2067l20 4 7 16-20-4zM3086 2080l20 3 20 4 8 16-20-3-21-4zM3073 2092l20 4 21 4 7 17-20-4-21-4zM3080 2109l21 4 7 18-20-4zM3067 2123l21 4 20 4 8 18-21-4-21-3zM3054 2138l20 4 21 3 8 20-21-4-21-3zM3040 2154l21 4 21 3 8 20-21-3-22-4zM3047 2174l22 4 7 21-21-3zM3012 2189l21 3 22 4 8 22-22-4-22-3zM2997 2208l22 3 22 3 8 24-22-3-22-4zM2983 2228l22 3 22 4 8 24-22-3-23-3zM2968 2250l22 3 8 26-22-3zM2930 2271l23 2 23 3 7 27-22-3-8-1-7 0-8-1-3-9-2-9zM2928 2288l7 1 3 9-8-1zM2930 2297l8 1 8 1 7 0 3 9-8 0-7-1-8-1z"/>
<path class="g011" d="M3069 1968l19 4 19 4 7 15-19-4-19-4zM3076 1983l19 4 7 14-19-4zM3063 1993l20 4 19 4 7 14-19-3-20-4zM3070 2008l20 4 7 14-20-4zM3057 2018l20 4 20 4 7 15-20-4-20-4zM3064 2033l20 4 20 4 7 15-19-4-20-4zM3072 2048l20 4 7 15-20-3zM3058 2060l21 4 20 3 7 16-20-3-20-4zM3045 2071l21 5 20 4 7 16-20-4-21-4zM3052 2088l21 4 7 17-20-4zM3039 2101l21 4 20 4 8 18-21-4-21-4zM3046 2119l21 4 7 19-20-4zM3032 2134l22 4 7 20-21-4zM3018 2150l22 4 7 20-21-3zM3004 2167l22 4 21 3 8 22-22-4-21-3zM2990 2185l22 4 7 22-22-3zM2975 2204l22 4 8 23-22-3zM2938 2222l22 3 23 3 7 25-22-3-23-3zM2923 2244l22 3 23 3 8 26-23-3-23-2-2-9-3-9zM2912 2260l8 1 8 1 2 9-8-1-7-1zM2915 2269l7 1 8 1 3 9-8-1-7-1zM2918 2278l7 1 8 1 2 9-7-1-8-1z"/>
<path class="g012" d="M3049 1964l20 4 7 15-20-4zM3037 1974l19 5 20 4 7 14-20-4-20-4zM3043 1989l20 4 7 15-20-5zM3030 1999l20 4 20 5 7 14-20-4-20-4zM3037 2014l20 4 7 15-20-4zM3024 2024l20 5 20 4 8 15-21-4-20-4zM3031 2040l20 4 21 4 7 16-21-4-20-5zM3017 2051l21 4 20 5 8 16-21-5-21-4zM3024 2067l21 4 7 17-20-4zM3011 2079l21 5 20 4 8 17-21-4-21-4zM3018 2097l21 4 7 18-21-4zM3004 2111l21 4 21 4 8 19-22-4-21-4zM2989 2125l22 5 21 4 8 20-22-4-21-4zM2975 2141l22 5 21 4 8 21-22-4-22-4zM2960 2159l22 4 22 4 8 22-22-4-22-4zM2945 2177l23 4 22 4 7 23-22-4-22-3zM2930 2197l23 4 22 3 8 24-23-3-22-3zM2915 2219l23 3 7 25-22-3zM2892 2241l8 1 8 1 7 0 8 1 2 9-7-1-8-1-8 0-7-1zM2902 2251l8 0 8 1 7 1 3 9-8-1-8-1-7-1zM2905 2259l7 1 3 9-8-1z"/>
<path class="g013" d="M3010 1955l20 5 19 4 7 15-19-5-20-4zM3017 1970l20 4 6 15-20-5zM3003 1980l20 4 20 5 7 14-20-4-20-5zM3010 1994l20 5 7 15-20-5zM2997 2004l20 5 20 5 7 15-20-5-21-4zM3003 2020l21 4 7 16-21-5zM2990 2030l20 5 21 5 7 15-21-4-21-5zM2996 2046l21 5 7 16-21-5zM2982 2057l21 5 21 5 8 17-21-5-22-5zM2989 2074l22 5 7 18-21-5zM2975 2087l22 5 21 5 7 18-21-4-22-5zM2982 2106l22 5 7 19-22-5zM2968 2121l21 4 8 21-22-5zM2953 2137l22 4 7 22-22-4zM2938 2155l22 4 8 22-23-4zM2923 2174l22 3 8 24-23-4zM2885 2192l23 2 22 3 8 25-23-3-23-3-2-8-3-8zM2892 2216l23 3 8 25-8-1-7 0-8-1-3-9-2-8zM2877 2215l7 0 8 1 3 9-8-1-8-1zM2879 2223l8 1 8 1 2 8-7-1-8 0zM2890 2232l7 1 3 9-8-1z"/>
<path class="g014" d="M2990 1950l20 5 7 15-20-5zM2976 1960l21 5 20 5 6 14-20-4-20-5zM2983 1975l20 5 7 14-20-4zM2969 1984l21 6 20 4 7 15-20-5-21-5zM2976 1999l21 5 6 16-20-5zM2962 2009l21 6 20 5 7 15-20-5-21-5zM2969 2025l21 5 6 16-21-5zM2975 2041l21 5 7 16-21-5zM2961 2052l21 5 7 17-21-4zM2946 2064l22 6 21 4 8 18-22-5-22-4zM2953 2083l22 4 7 19-21-5zM2939 2097l22 4 21 5 7 19-21-4-22-5zM2924 2112l22 4 22 5 7 20-22-4-22-4zM2908 2129l23 4 22 4 7 22-22-4-22-4zM2893 2147l23 4 22 4 7 22-22-3-23-4zM2878 2168l22 2 23 4 7 23-22-3-23-2zM2862 2190l8 1 7 0 8 1 2 8-7-1-8-1-8 0zM2864 2198l8 0 8 1 7 1 3 8-8-1-8 0-7-1zM2874 2207l8 0 8 1 2 8-8-1-7 0z"/>
<path class="g015" d="M2949 1940l21 5 20 5 7 15-21-5-20-5zM2956 1955l20 5 7 15-20-5zM2942 1964l21 6 20 5 7 15-21-6-21-5zM2948 1979l21 5 7 15-21-5zM2955 1994l21 5 7 16-21-6zM2941 2004l21 5 7 16-22-5zM2947 2020l22 5 6 16-21-5zM2933 2030l21 6 21 5 7 16-21-5-21-5zM2940 2047l21 5 7 18-22-6zM2925 2059l21 5 7 19-21-5zM2910 2073l22 5 21 5 8 18-22-4-22-5zM2917 2092l22 5 7 19-22-4zM2901 2108l23 4 7 21-23-4zM2886 2125l22 4 8 22-23-4zM2847 2142l23 2 23 3 7 23-22-2-23-2-3-8-2-8zM2855 2166l23 2 7 24-8-1-7 0-8-1-2-8-3-8zM2847 2166l8 0 2 8-8-1zM2849 2173l8 1 3 8-8-1z"/>
<path class="g016" d="M2929 1934l20 6 7 15-21-6zM2915 1944l20 5 21 6 7 15-21-6-21-5zM2921 1959l21 5 6 15-20-5zM2928 1974l20 5 7 15-21-5zM2913 1983l21 6 21 5 7 15-21-5-22-6zM2919 1998l22 6 6 16-21-6zM2905 2008l21 6 21 6 7 16-21-6-22-5zM2911 2025l22 5 7 17-22-5zM2896 2036l22 6 22 5 6 17-21-5-22-5zM2903 2054l22 5 7 19-22-5zM2887 2068l23 5 7 19-23-5zM2872 2083l22 4 23 5 7 20-23-4-22-4zM2856 2100l23 4 22 4 7 21-22-4-23-3zM2840 2120l23 2 23 3 7 22-23-3-23-2-2-7-3-8zM2835 2127l7 0 3 8-8-1zM2830 2134l7 0 8 1 2 7-7 0-8-1zM2832 2141l8 1 7 0 3 8-8 0-7-1zM2835 2149l7 1 8 0 2 8-7-1-8 0zM2845 2157l7 1 3 8-8 0z"/>
<path class="g017" d="M2887 1922l21 6 21 6 6 15-20-5-21-6zM2894 1938l21 6 6 15-21-6zM2900 1953l21 6 7 15-22-6zM2885 1962l21 6 22 6 6 15-21-6-22-6zM2891 1977l22 6 6 15-21-6zM2876 1986l22 6 21 6 7 16-21-6-22-6zM2883 2002l22 6 6 17-22-6zM2867 2013l22 6 22 6 7 17-22-6-22-5zM2874 2031l22 5 7 18-22-5zM2858 2044l23 5 22 5 7 19-23-5-22-5zM2843 2059l22 4 22 5 7 19-22-4-23-3zM2827 2077l22 3 23 3 7 21-23-4-23-2zM2833 2098l23 2 7 22-23-2-2-7-3-8zM2826 2097l7 1 2 7-7-1zM2813 2103l7 1 8 0 7 1 3 8-8-1-7-1-8 0zM2815 2111l8 0 7 1 8 1 2 7-8-1-7 0-8-1zM2817 2118l8 1 7 0 8 1 2 7-7 0-8-1-7 0zM2827 2126l8 1 2 7-7 0z"/>
<path class="g018" d="M2866 1916l21 6 7 16-22-7zM2872 1931l22 7 6 15-21-7zM2857 1940l22 6 21 7 6 15-21-6-21-7zM2864 1955l21 7 6 15-21-6zM2848 1964l22 7 21 6 7 15-22-6-22-6zM2854 1980l22 6 7 16-22-5zM2861 1997l22 5 6 17-22-6zM2845 2008l22 5 7 18-22-5zM2829 2021l23 5 22 5 7 18-23-5-22-4zM2813 2036l23 4 22 4 7 19-22-4-23-3zM2797 2054l23 2 23 3 6 21-22-3-23-2-2-7-3-7zM2804 2075l23 2 6 21-7-1-8 0-7-1-2-7-3-7zM2811 2096l7 1 8 0 2 7-8 0-7-1z"/>
<path class="g019" d="M2845 1909l21 7 6 15-21-6zM2829 1918l22 7 21 6 7 15-22-6-21-7zM2836 1933l21 7 7 15-22-6zM2842 1949l22 6 6 16-22-7zM2826 1958l22 6 6 16-22-6zM2832 1974l22 6 7 17-22-6zM2816 1985l23 6 22 6 6 16-22-5-22-5zM2800 1998l23 5 22 5 7 18-23-5-22-4zM2807 2017l22 4 7 19-23-4zM2790 2033l23 3 7 20-23-2-2-7-3-7zM2785 2040l7 0 3 7-8 0zM2787 2047l8 0 2 7-8 0zM2789 2054l8 0 2 7-7 0zM2792 2061l7 0 3 7-8 0zM2794 2068l8 0 2 7-8 0z"/>
<path class="g01a" d="M2823 1902l22 7 6 16-22-7zM2808 1911l21 7 7 15-22-7zM2814 1926l22 7 6 16-22-7zM2798 1935l22 7 22 7 6 15-22-6-22-6zM2804 1952l22 6 6 16-22-6zM2787 1962l23 6 22 6 7 17-23-6-22-5zM2794 1980l22 5 7 18-23-5zM2777 1994l23 4 7 19-23-4-2-6-3-7zM2772 1999l7 1 3 7-8-1zM2766 2005l8 1 8 1 2 6-8-1-7 0zM2784 2013l23 4 6 19-23-3-2-7-2-6zM2769 2012l7 0 8 1 2 7-8-1-7-1zM2771 2018l7 1 8 1 2 6-7 0-8-1zM2781 2026l7 0 2 7-7 0zM2783 2033l7 0 2 7-7 0z"/>
<path class="g01b" d="M2779 1887l22 8 22 7 6 16-21-7-23-8zM2785 1903l23 8 6 15-23-7zM2769 1912l22 7 23 7 6 16-22-7-23-7zM2775 1928l23 7 6 17-23-7zM2759 1939l22 6 23 7 6 16-23-6-22-5-2-6-2-6zM2765 1957l22 5 7 18-23-5-2-6-2-6zM2759 1962l8 1 2 6-8-1zM2754 1966l7 2 8 1 2 6-8-1-7-1zM2771 1975l23 5 6 18-23-4-2-6-2-7zM2756 1973l7 1 8 1 2 6-7-1-8-1zM2758 1979l8 1 7 1 2 7-7-1-8-2zM2760 1985l8 2 7 1 2 6-7-1-8-1zM2762 1992l8 1 7 1 2 6-7-1-8-1zM2764 1998l8 1 2 7-8-1z"/>
<path class="g01c" d="M2757 1879l22 8 6 16-22-7zM2763 1896l22 7 6 16-22-7zM2746 1905l23 7 6 16-22-6zM2753 1922l22 6 6 17-22-6zM2744 1936l7 1 8 2 2 6-8-2-8-1zM2738 1940l7 2 8 1 8 2 2 6-8-2-7-1-8-2zM2740 1946l8 2 7 1 8 2 2 6-8-2-7-1-8-2zM2750 1954l7 1 8 2 2 6-8-1-7-2zM2752 1960l7 2 2 6-7-2z"/>
<path class="g01d" d="M2735 1871l22 8 6 17-22-8zM2741 1888l22 8 6 16-23-7zM2720 1907l8 2 2 6-8-2zM2724 1897l22 8 7 17-23-7-2-6-2-6zM2730 1915l23 7 6 17-8-2-7-1-8-2-2-6-2-7zM2736 1934l8 2 1 6-7-2z"/>
<path class="g01e" d="M2708 1871l8 3 2 6-8-3zM2712 1862l23 9 6 17-23-8-2-6-2-6zM2703 1875l7 2 8 3 2 6-8-3-8-3zM2712 1883l8 3 2 5-8-2zM2714 1889l8 2 2 6-8-2zM2718 1880l23 8 5 17-22-8-2-6-2-5zM2716 1895l8 2 2 6-8-2zM2718 1901l8 2 2 6-8-2z"/>
<path class="g01f" d="M2689 1854l8 3 7 2 8 3 2 6-8-3-8-3-7-2zM2698 1862l8 3 8 3 2 6-8-3-8-3zM2700 1868l8 3 2 6-7-2z"/>
<path class="g0c" d="M2962 2382l7 0 8 1 7 0 3 9 2 9 3 9-23 0zM2984 2383l8 0 3 10-8-1zM2987 2392l8 1 7 0 3 9-8-1-8 0zM2989 2401l8 0 8 1 2 9-7-1-8 0z"/>
<path class="g0d" d="M2969 2355l8 1 2 9-7-1zM2957 2363l7 1 8 0 7 1 8 0 2 10-7-1-8 0-7-1-8 0zM2959 2373l8 0 7 1 8 0 7 1 3 8-8 0-7 0-8-1-7 0zM2915 2379l23 1 24 2 7 28-23-1-23-1z"/>
<path class="g0e" d="M2949 2335l7 1 8 0 2 10-7-1-8-1zM2951 2344l8 1 7 1 8 1 3 9-8-1-7 0-8-1zM2907 2350l24 2 23 2 3 9 2 10 3 9-24-2-23-1zM2954 2354l8 1 7 0 3 9-8 0-7-1zM2868 2376l24 2 23 1 8 29-23 0-24-1z"/>
<path class="g0f" d="M2936 2315l7 1 8 1 3 9-8-1-8-1zM2900 2321l23 2 8 1 7 0 8 1 3 10 2 9 3 10-23-2-24-2zM2946 2325l8 1 2 10-7-1zM2860 2346l24 2 23 2 8 29-23-1-24-2zM2844 2375l24 1 8 31-24 0z"/>
<path class="g010" d="M2892 2293l23 2 3 9 2 10 3 9-23-2zM2915 2295l8 1 7 1 3 9-8-1-7-1zM2918 2304l7 1 8 1 8 1 2 9-7-1-8-1-8 0zM2920 2314l8 0 8 1 2 9-7 0-8-1zM2876 2319l24 2 7 29-23-2zM2836 2344l24 2 8 30-24-1z"/>
<path class="g011" d="M2884 2266l8 1 7 0 8 1 3 9 2 9 3 9-23-2zM2907 2268l8 1 3 9-8-1zM2910 2277l8 1 2 9-8-1zM2912 2286l8 1 8 1 2 9-7-1-8-1zM2845 2290l23 1 24 2 8 28-24-2-24-2zM2829 2315l23 2 24 2 8 29-24-2-24-2z"/>
<path class="g012" d="M2879 2249l8 0 8 1 7 1 3 8-8-1-8 0-7-1zM2882 2257l7 1 8 0 8 1 2 9-8-1-7 0-8-1zM2837 2263l24 1 23 2 8 27-24-2-23-1zM2821 2288l24 2 7 27-23-2z"/>
<path class="g013" d="M2872 2223l7 0 3 9-8-1zM2874 2231l8 1 8 0 2 9-7 0-8-1zM2830 2238l23 1 24 1 2 9 3 8 2 9-23-2-24-1zM2877 2240l8 1 7 0 3 9-8-1-8 0zM2814 2263l23 0 8 27-24-2z"/>
<path class="g014" d="M2849 2197l8 0 7 1 3 8-8 0-8-1zM2844 2205l7 0 8 1 8 0 7 1 3 8-8-1-8 0-7-1-8 0zM2799 2213l24 0 23 0 8 0 7 1 8 0 3 9 2 8 3 9-24-1-23-1-23-1zM2869 2214l8 1 2 8-7 0zM2807 2237l23 1 7 25-23 0z"/>
<path class="g015" d="M2840 2165l7 1 2 7-7 0zM2834 2173l8 0 7 0 3 8-8 0-7 0zM2837 2181l7 0 8 0 8 1 2 8-8 0-7-1-8 0zM2792 2188l24 1 23 0 2 8 3 8 2 8-23 0-24 0zM2839 2189l8 0 7 1 8 0 2 8-7-1-8 0-8 0zM2841 2197l8 0 2 8-7 0z"/>
<path class="g016" d="M2801 2141l24 0 2 8 3 8 2 8-23 0zM2825 2141l7 0 3 8-8 0zM2827 2149l8 0 2 8-7 0zM2830 2157l7 0 8 0 2 9-7-1-8 0zM2785 2165l24 0 23 0 2 8 3 8 2 8-23 0-24-1zM2832 2165l8 0 2 8-8 0z"/>
<path class="g017" d="M2800 2111l8 0 7 0 2 7-7 0-8 0zM2771 2119l24-1 7 0 8 0 7 0 3 8 2 7 3 8-24 0-23 1zM2820 2126l7 0 3 8-8-1zM2822 2133l8 1 2 7-7 0zM2778 2142l23-1 8 24-24 0z"/>
<path class="g018" d="M2796 2075l8 0 2 7-8 0zM2783 2081l8 1 7 0 8 0 3 7-8 0-8 0-7 0zM2786 2089l7 0 8 0 8 0 2 7-8 0-7 0-8 0zM2765 2096l23 0 2 7 3 8 2 7-24 1zM2788 2096l8 0 7 0 8 0 2 7-8 0-7 0-8 0zM2790 2103l8 0 7 0 8 0 2 8-7 0-8 0-7 0zM2793 2111l7 0 2 7-7 0z"/>
<path class="g019" d="M2772 2046l8 0 7 1 2 7-7-1-8 0zM2751 2052l23 1 2 7 3 7 2 7-23 0zM2774 2053l8 0 7 1 3 7-8-1-8 0zM2776 2060l8 0 8 1 2 7-8-1-7 0zM2779 2067l7 0 8 1 2 7-7-1-8 0zM2758 2074l23 0 2 7 3 8 2 7-23 0zM2781 2074l8 0 7 1 2 7-7 0-8-1z"/>
<path class="g01a" d="M2761 2011l8 1 2 6-8 0zM2763 2018l8 0 2 7-7 0zM2766 2025l7 0 8 1 2 7-8-1-7 0zM2745 2031l23 1 2 7 2 7 2 7-23-1zM2768 2032l7 0 8 1 2 7-8-1-7 0zM2770 2039l7 0 8 1 2 7-7-1-8 0z"/>
<path class="g01b" d="M2750 1978l8 1 2 6-7 0zM2753 1985l7 0 2 7-7-1zM2732 1989l23 2 2 7 2 6 2 7-23-1zM2755 1991l7 1 2 6-7 0zM2757 1998l7 0 2 7-7-1zM2759 2004l7 1 3 7-8-1zM2738 2010l23 1 2 7 3 7 2 7-23-1z"/>
<path class="g01c" d="M2732 1945l8 1 2 6-8-1zM2719 1948l8 1 7 2 8 1 2 7 2 6 2 7-23-4zM2742 1952l8 2 2 6-8-1zM2744 1959l8 1 2 6-8-1zM2746 1965l8 1 2 7-8-1zM2725 1968l23 4 2 6 3 7 2 6-23-2zM2748 1972l8 1 2 6-8-1z"/>
<path class="g01d" d="M2715 1911l7 2 8 2 2 6-8-2-8-1zM2716 1918l8 1 8 2 2 7-8-2-8-2zM2711 1922l7 2 8 2 8 2 2 6-8-2-7-1-8-2zM2713 1929l8 2 7 1 8 2 2 6-8-2-7-1-8-2zM2715 1935l8 2 7 1 8 2 2 6-8-1-7-2-8-1zM2717 1942l8 1 7 2 2 6-7-2-8-1z"/>
<path class="g01e" d="M2704 1880l8 3 2 6-8-3zM2699 1884l7 2 8 3 2 6-7-3-8-2zM2701 1890l8 2 7 3 2 6-8-2-7-3zM2703 1896l7 3 8 2 2 6-8-2-7-2zM2705 1903l7 2 8 2 2 6-7-2-8-2zM2707 1909l8 2 1 7-7-2zM2709 1916l7 2 2 6-7-2z"/>
<path class="g01f" d="M2691 1860l7 2 2 6-7-2zM2693 1866l7 2 3 7-8-3zM2695 1872l8 3 1 5-7-2zM2697 1878l7 2 2 6-7-2z"/>
<path class="g1c" d="M2984 2382l8 1 3 9-8-1zM2987 2391l8 1 7 1 3 9-8-1-8-1zM2989 2400l8 1 8 1 2 8-7 0-8-1z"/>
<path class="g1d" d="M2969 2355l8 1 2 9-7-2zM2964 2362l8 1 7 2 8 1 2 9-7-2-8-1-8-1zM2959 2370l7 1 8 1 8 1 7 2 3 8-8-1-8-1-7-1-8-1zM2938 2376l23 3 8 1 7 1 8 1 3 9 2 9 3 9-23-3-23-2z"/>
<path class="g1e" d="M2956 2335l8 2 2 9-7-2zM2951 2343l8 1 7 2 8 1 3 9-8-1-7-2-8-1zM2930 2348l24 4 2 9 3 9 2 9-23-3zM2954 2352l8 1 7 2 3 8-8-1-8-1zM2956 2361l8 1 2 9-7-1zM2891 2369l24 3 23 4 8 28-23-3-24-3z"/>
<path class="g1f" d="M2936 2314l7 2 8 1 3 9-8-1-8-2zM2923 2320l8 2 7 1 8 2 3 9 2 9 3 9-24-4zM2946 2325l8 1 2 9-7-1zM2949 2334l7 1 3 9-8-1zM2883 2339l24 5 23 4 8 28-23-4-24-3zM2867 2365l24 4 8 29-24-3z"/>
<path class="g110" d="M2915 2294l8 1 7 2 3 9-8-2-7-1zM2918 2303l7 1 8 2 8 1 2 9-7-2-8-1-8-2zM2920 2311l8 2 8 1 2 9-7-1-8-2zM2876 2311l23 5 24 4 7 28-23-4-24-5zM2859 2335l24 4 8 30-24-4zM2843 2360l24 5 8 30-24-3z"/>
<path class="g111" d="M2907 2268l8 2 3 8-8-1zM2910 2277l8 1 2 9-8-2zM2912 2285l8 2 8 1 2 9-7-2-8-1zM2868 2284l24 5 23 5 3 9 2 8 3 9-24-4-23-5zM2852 2306l24 5 7 28-24-4zM2835 2330l24 5 8 30-24-5z"/>
<path class="g112" d="M2887 2248l8 1 7 2 3 9-8-2-8-2zM2882 2255l7 1 8 2 8 2 2 8-8-2-7-1-8-2zM2860 2259l24 4 8 2 7 1 8 2 3 9 2 8 3 9-23-5-24-5zM2844 2280l24 4 8 27-24-5zM2828 2302l24 4 7 29-24-5z"/>
<path class="g113" d="M2872 2222l7 1 3 8-8-1zM2874 2230l8 1 8 2 2 8-7-1-8-2zM2853 2234l24 4 2 8 3 9 2 8-24-4zM2877 2238l8 2 7 1 3 8-8-1-8-2zM2879 2246l8 2 2 8-7-1zM2837 2254l23 5 8 25-24-4zM2820 2276l24 4 8 26-24-4z"/>
<path class="g114" d="M2857 2196l7 2 3 8-8-2zM2851 2203l8 1 8 2 7 1 3 8-8-1-8-2-7-1zM2822 2205l24 4 8 2 7 1 8 2 3 8 2 8 3 8-24-4-24-4zM2869 2214l8 1 2 8-7-1zM2805 2226l24 4 24 4 7 25-23-5-24-4zM2813 2250l24 4 7 26-24-4z"/>
<path class="g115" d="M2839 2164l8 2 2 7-7-1zM2834 2171l8 1 7 1 3 8-8-2-8-1zM2836 2178l8 1 8 2 8 1 2 8-8-1-7-2-8-1zM2815 2182l24 4 2 8 3 7 2 8-24-4zM2839 2186l8 1 7 2 8 1 2 8-7-2-8-1-8-1zM2841 2194l8 1 8 1 2 8-8-1-7-2zM2844 2201l7 2 3 8-8-2zM2798 2202l24 3 7 25-24-4z"/>
<path class="g116" d="M2824 2140l8 1 3 8-9-1zM2826 2148l9 1 2 7-8-1zM2829 2155l8 1 8 2 2 8-8-2-8-1zM2808 2159l23 4 3 8 2 7 3 8-24-4zM2831 2163l8 1 3 8-8-1zM2791 2178l24 4 7 23-24-3z"/>
<path class="g117" d="M2807 2109l8 2 2 7-8-1zM2794 2114l8 1 7 2 8 1 2 7 3 8 2 7-23-4zM2819 2125l9 2 2 7-8-1zM2822 2133l8 1 2 7-8-1zM2777 2133l24 3 23 4 2 8 3 7 2 8-23-4-24-4zM2784 2155l24 4 7 23-24-4z"/>
<path class="g118" d="M2796 2074l8 2 2 7-8-2zM2791 2080l7 1 8 2 3 6-8-1-8-1zM2785 2085l8 2 8 1 8 1 2 7-8-1-8-2-8-1zM2764 2088l23 4 2 7 3 8 2 7-23-4zM2787 2092l8 1 8 2 8 1 2 7-8-1-8-1-8-2zM2789 2099l8 2 8 1 8 1 2 8-8-2-7-1-8-1zM2792 2107l8 1 7 1 2 8-7-2-8-1zM2771 2110l23 4 7 22-24-3z"/>
<path class="g119" d="M2780 2045l7 2 2 6-7-1zM2774 2050l8 2 7 1 3 7-8-1-8-2zM2776 2057l8 2 8 1 2 7-8-1-7-2zM2779 2064l7 2 8 1 2 7-7-1-8-2zM2757 2067l24 4 2 7 2 7 2 7-23-4zM2781 2071l8 2 7 1 2 7-7-1-8-2zM2783 2078l8 2 2 7-8-2z"/>
<path class="g11a" d="M2763 2016l8 2 2 7-8-2zM2765 2023l8 2 8 1 2 7-8-1-8-2zM2744 2025l23 5 2 7 3 6 2 7-23-4zM2767 2030l8 2 8 1 2 7-8-2-8-1zM2769 2037l8 1 8 2 2 7-7-2-8-2zM2772 2043l8 2 2 7-8-2zM2751 2046l23 4 2 7 3 7 2 7-24-4z"/>
<path class="g11b" d="M2750 1977l8 2 2 7-7-2zM2753 1984l7 2 3 6-8-2zM2731 1984l24 6 2 6 2 7 2 6-23-5zM2755 1990l8 2 1 6-7-2zM2757 1996l7 2 2 7-7-2zM2759 2003l7 2 3 6-8-2zM2738 2004l23 5 2 7 2 7 2 7-23-5zM2761 2009l8 2 2 7-8-2z"/>
<path class="g11c" d="M2732 1943l8 3 2 6-8-2zM2719 1945l8 2 7 3 8 2 2 6 2 7 2 6-23-7zM2742 1952l8 2 2 7-8-3zM2744 1958l8 3 2 6-8-2zM2746 1965l8 2 2 6-8-2zM2725 1964l23 7 2 6 3 7 2 6-24-6zM2748 1971l8 2 2 6-8-2z"/>
<path class="g11d" d="M2722 1913l8 3 2 6-8-3zM2716 1916l8 3 8 3 2 6-8-3-8-3zM2718 1922l8 3 8 3 2 6-8-3-7-2zM2713 1926l8 3 7 2 8 3 2 6-8-3-8-2-7-3zM2715 1932l7 3 8 2 8 3 2 6-8-3-8-2-7-2zM2717 1939l7 2 8 2 2 7-7-3-8-2z"/>
<path class="g11e" d="M2704 1880l8 3 2 6-8-3zM2699 1883l7 3 8 3 2 6-7-3-8-3zM2701 1889l8 3 7 3 2 6-8-3-7-3zM2703 1895l7 3 8 3 2 6-8-3-7-3zM2705 1901l7 3 8 3 2 6-7-3-8-3zM2707 1907l8 3 7 3 2 6-8-3-7-3zM2709 1913l7 3 2 6-7-2zM2711 1920l7 2 3 7-8-3z"/>
<path class="g11f" d="M2691 1860l7 3 2 5-7-3zM2693 1865l7 3 3 6-8-3zM2695 1871l8 3 1 6-7-3zM2697 1877l7 3 2 6-7-3z"/>
<path class="g2c" d="M2984 2382l8 1 3 9-8-1zM2987 2391l8 1 7 1 3 9-8-2-8-1zM2989 2399l8 1 8 2 2 9-7-2-8-1z"/>
<path class="g2d" d="M2971 2363l8 2 8 1 2 9-7-2-8-2zM2958 2368l8 2 8 1 8 2 7 2 3 8-8-1-8-2-7-1-8-2zM2938 2371l23 6 8 2 7 1 8 2 3 9 2 8 3 9-23-5-23-4z"/>
<path class="g2e" d="M2956 2335l8 2 2 8-7-2zM2951 2341l8 2 7 2 8 2 3 9-8-2-8-2-8-2zM2930 2344l23 6 3 9 2 9 3 9-23-6zM2953 2350l8 2 8 2 8 2 2 9-8-2-7-2-8-2zM2956 2359l8 2 7 2 3 8-8-1-8-2zM2914 2366l24 5 8 28-24-5z"/>
<path class="g2f" d="M2935 2314l8 2 8 2 3 8-8-2-8-2zM2922 2318l8 2 8 2 8 2 2 9 3 8 2 9-23-6zM2946 2324l8 2 2 9-8-2zM2948 2333l8 2 3 8-8-2zM2907 2338l23 6 8 27-24-5zM2890 2359l24 7 8 28-24-6z"/>
<path class="g210" d="M2923 2294l7 3 3 8-8-2zM2917 2301l8 2 8 2 8 2 2 9-8-2-7-3-8-2zM2920 2309l8 2 7 3 3 8-8-2-8-2zM2899 2311l23 7 8 26-23-6zM2883 2331l24 7 7 28-24-7zM2866 2353l24 6 8 29-24-5z"/>
<path class="g211" d="M2907 2268l8 2 3 8-8-2zM2910 2276l8 2 2 8-8-2zM2912 2284l8 2 8 3 2 8-7-3-8-2zM2891 2285l24 7 2 9 3 8 2 9-23-7zM2915 2292l8 2 2 9-8-2zM2875 2304l24 7 8 27-24-7zM2858 2323l25 8 7 28-24-6zM2842 2346l24 7 8 30-24-6z"/>
<path class="g212" d="M2887 2247l8 2 7 3 3 8-8-3-8-2zM2881 2252l8 3 8 2 8 3 2 8-8-3-7-2-8-3zM2884 2260l8 3 7 2 8 3 3 8 2 8 3 8-24-7zM2867 2278l24 7 8 26-24-7zM2851 2296l24 8 8 27-25-8zM2834 2316l24 7 8 30-24-7z"/>
<path class="g213" d="M2871 2221l8 2 3 8-8-3zM2874 2228l8 3 8 2 2 8-8-2-8-3zM2853 2229l23 7 3 8 2 8 3 8-24-7zM2876 2236l8 3 8 2 3 8-8-2-8-3zM2879 2244l8 3 2 8-8-3zM2860 2253l24 7 7 25-24-7zM2843 2270l24 8 8 26-24-8zM2826 2289l25 7 7 27-24-7z"/>
<path class="g214" d="M2856 2195l8 3 3 7-8-2zM2851 2200l8 3 8 2 8 3 2 7-8-2-8-3-8-2zM2845 2205l8 3 8 2 8 3 2 8 3 7 2 8-23-7zM2869 2213l8 2 2 8-8-2zM2829 2221l24 8 7 24-24-8zM2812 2238l24 7 24 8 7 25-24-8-24-7zM2819 2263l24 7 8 26-25-7z"/>
<path class="g215" d="M2841 2170l8 3 3 7-8-2zM2836 2176l8 2 8 2 8 3 2 7-8-2-8-3-8-2zM2838 2183l8 2 8 3 8 2 2 8-8-3-7-2-9-3zM2840 2190l9 3 7 2 3 8-8-3-8-2zM2843 2198l8 2 2 8-8-3zM2821 2198l24 7 8 24-24-8zM2804 2214l25 7 7 24-24-7z"/>
<path class="g216" d="M2824 2139l8 3 2 7-8-3zM2826 2146l8 3 3 7-8-2zM2829 2154l8 2 8 2 2 8-8-3-8-2zM2807 2153l24 8 2 7 3 8 2 7-24-8zM2831 2161l8 2 8 3 2 7-8-3-8-2zM2833 2168l8 2 3 8-8-2zM2790 2168l24 7 24 8 2 7 3 8 2 7-24-7-24-7zM2797 2191l24 7 8 23-25-7z"/>
<path class="g217" d="M2807 2108l8 3 2 7-8-3zM2794 2110l8 3 7 2 8 3 2 7 3 7 2 7-23-8zM2819 2125l9 2 2 7-8-2zM2822 2132l8 2 2 8-8-3zM2801 2131l23 8 2 7 3 8 2 7-24-8zM2783 2145l24 8 7 22-24-7z"/>
<path class="g218" d="M2796 2073l8 3 2 7-8-3zM2798 2080l8 3 3 7-8-3zM2793 2084l8 3 8 3 2 7-8-3-8-2zM2787 2089l8 3 8 2 8 3 2 7-8-3-8-3-8-2zM2789 2096l8 2 8 3 8 3 2 7-8-3-8-3-7-2zM2792 2103l7 2 8 3 2 7-7-2-8-3zM2770 2102l24 8 7 21-25-8zM2776 2123l25 8 6 22-24-8z"/>
<path class="g219" d="M2779 2044l8 3 2 6-7-2zM2782 2051l7 2 3 7-8-3zM2776 2055l8 2 8 3 2 7-8-3-8-3zM2778 2061l8 3 8 3 2 6-8-2-8-3zM2756 2060l24 8 2 7 3 7 2 7-24-8zM2780 2068l8 3 8 2 2 7-8-2-8-3zM2782 2075l8 3 8 2 3 7-8-3-8-2zM2785 2082l8 2 2 8-8-3zM2763 2081l24 8 2 7 3 7 2 7-24-8z"/>
<path class="g21a" d="M2763 2015l8 3 2 6-8-3zM2765 2021l8 3 8 3 2 6-8-2-8-3zM2767 2028l8 3 8 2 2 7-8-3-8-2zM2769 2035l8 2 8 3 2 7-8-3-7-3zM2772 2041l7 3 3 7-8-3zM2750 2039l24 9 2 7 2 6 2 7-24-8zM2774 2048l8 3 2 6-8-2z"/>
<path class="g21b" d="M2750 1976l8 3 2 7-8-3zM2752 1983l8 3 2 6-8-3zM2754 1989l8 3 2 6-8-3zM2756 1995l8 3 2 7-7-3zM2759 2002l7 3 3 6-8-3zM2737 1999l24 9 2 7 2 6 2 7-24-9zM2761 2008l8 3 2 7-8-3zM2743 2019l24 9 2 7 3 6 2 7-24-9z"/>
<path class="g21c" d="M2742 1952l8 3 2 6-8-3zM2744 1958l8 3 2 6-8-3zM2746 1964l8 3 2 6-8-3zM2725 1960l23 10 2 6 2 7 2 6-23-9zM2748 1970l8 3 2 6-8-3zM2731 1980l23 9 2 6 3 7 2 6-24-9z"/>
<path class="g21d" d="M2722 1912l8 4 2 6-8-4zM2716 1915l8 3 8 4 2 6-8-4-8-3zM2718 1921l8 3 8 4 2 6-8-4-8-3zM2712 1923l8 4 8 3 8 4 2 6-8-4-8-3-8-4zM2714 1929l8 4 8 3 8 4 2 6-8-4-8-3-8-3zM2716 1936l8 3 8 3 8 4 2 6-8-3-8-4-8-3zM2718 1942l8 3 8 4 8 3 2 6 2 6 2 6-23-10z"/>
<path class="g21e" d="M2704 1880l8 4 2 5-8-3zM2706 1886l8 3 2 6-8-3zM2700 1888l8 4 8 3 2 6-8-4-8-3zM2702 1894l8 3 8 4 2 6-8-4-8-4zM2704 1899l8 4 8 4 2 5-8-3-8-4zM2706 1905l8 4 8 3 2 6-8-3-8-4zM2708 1911l8 4 2 6-8-4zM2710 1917l8 4 2 6-8-4z"/>
<path class="g21f" d="M2691 1859l8 4 1 6-7-4zM2693 1865l7 4 3 5-8-4zM2695 1870l8 4 1 6-7-4zM2697 1876l7 4 2 6-8-4zM2698 1882l8 4 2 6-8-4z"/>
</g>
<path d="M1380.6 940.4L1378.8 945.7L1376.9 951.3L1374.8 956.6L1372.4 961.5L1368.8 967L1363.7 973.1M1417.9 953.2L1416.6 958.2L1415.5 963.2L1414.4 968.3L1413.1 974.4L1411.6 980.5L1409.8 986.2L1407.7 991.5L1405.4 996.3L1402.5 1001.2L1397.7 1007.5L1393.6 1011.8L1386.5 1017.4M1456.8 964.9L1455.6 970L1454.6 975L1453.7 980.7L1452.8 987.3L1452 992.9L1451.1 998.2L1450 1003.6L1448.6 1009.1L1446.8 1014.7L1444.5 1020.5L1441.6 1026.5L1438.7 1031.5L1435.8 1036L1430.6 1042.6L1427 1046.7L1420.3 1053.2L1415.3 1057.2L1409.3 1061.4M1497.6 975.6L1496.5 980.7L1495.5 985.7L1494.8 990.8L1494 996.8L1493.2 1003.1L1492.4 1008.9L1491.6 1014.2L1490.5 1019.7L1489.3 1025.2L1487.6 1030.9L1485.6 1036.7L1483.2 1042.7L1481 1047.3L1478.5 1052.1L1474.5 1058.6L1470.8 1063.9L1467.1 1068.8L1461.9 1074.8L1457.4 1079.6L1452.2 1084.7L1445.3 1090.8L1439.5 1095.5L1433.8 1099.9L1427 1104.5M1539.9 985.4L1539 990.4L1538.3 995.4L1537.7 1000.4L1537.1 1005.5L1536.6 1010.7L1535.9 1016.6L1535 1022.5L1534.1 1028.3L1532.9 1033.9L1531.6 1039.3L1530.1 1044.4L1528.4 1049.4L1526.2 1055.2L1523.4 1061.4L1520.3 1067.4L1517.9 1071.5L1514 1077.7L1510.1 1083.1L1506.3 1088.1L1501.6 1093.8L1496.8 1099.2L1492.4 1103.8L1485.9 1110.2L1480.8 1115L1475.8 1119.4L1468.8 1125.2L1461.7 1131L1454.4 1136.6M1584.2 994L1584 998.9L1583.7 1003.8L1583.4 1008.8L1583 1013.9L1582.5 1019L1581.9 1024.3L1581.3 1029.5L1580.5 1034.9L1579.5 1040.4L1578.3 1046L1576.8 1051.7L1575 1057.5L1572.8 1063.5L1570.7 1068.6L1568.7 1072.8L1565.6 1079.1L1562.2 1085L1559.7 1089.1L1555 1095.9L1552.2 1099.8L1546.7 1106.7L1543.5 1110.5L1538 1116.6L1532.7 1122.1L1528.6 1126.1L1522.3 1132L1515.7 1137.9L1509.8 1143L1504.4 1147.5L1498.5 1152.1L1491.4 1157.6L1484.1 1163.1L1476.8 1168.6M1624.4 1058.4L1623.3 1063.3L1622 1068.1L1620.2 1073.6L1617.6 1079.8L1615.2 1085L1613.1 1089.3L1609.7 1095.8L1607 1100.6L1603.7 1106L1600 1111.6L1596.4 1116.6L1592.2 1121.8L1587 1127.8L1583.4 1131.7L1577.9 1137.4L1571.8 1143.4L1566.6 1148.2L1561.7 1152.5L1555.8 1157.7L1549.1 1163.3L1542.4 1168.8L1535.5 1174.3L1528.5 1179.8L1521.8 1184.9L1515.2 1189.9L1508.4 1194.9L1501.6 1199.9L1494.6 1205.1M1650.7 1116L1647.7 1122.3L1644.9 1128L1642.4 1132.6L1638.2 1139L1634.5 1143.7L1630.2 1148.5L1624.3 1154.3L1618.3 1159.9L1613 1164.6L1607.8 1169.1L1602.5 1173.6L1596.1 1178.9L1589.6 1184.3L1582.9 1189.6L1576.2 1195L1569.4 1200.4L1562.5 1205.8L1560.7 1207.2M1673.6 1169.3L1667.9 1175L1662.2 1179.8L1656.3 1184.5L1650.2 1189.3L1644.1 1194.1L1638.2 1198.9L1632.3 1203.7L1626.4 1208.6M1687.7 1210.2L1687.6 1210.3M1368.6 967L1365.6 972.7M1390.1 1014.5L1385.1 1020.9M1480.4 1165.6L1475.4 1170.6M1367.6 969.8L1365.7 975.2L1363.5 980.7L1362.9 982.2M1388.6 1017.4L1385.9 1023.5L1382.8 1029.6L1379.9 1035.2M1410.3 1061.2L1407.2 1067.3L1404.5 1072.3L1401.5 1077.8L1397.5 1084.6L1396.1 1087M1431.5 1103.4L1428.7 1108.2L1425.2 1114.1L1420.7 1121.3L1417 1127L1413.3 1132.6L1410.8 1136M1455.3 1136.5L1451.8 1141.7L1447.7 1147.8L1442.7 1154.8L1439 1159.7L1432.9 1167L1428.2 1172.2L1422.2 1178.2M1477.2 1169.4L1473.5 1174.3L1467.7 1181.4L1463.1 1186.8L1457.8 1192.8L1455.2 1195.6M1499.9 1202L1498.1 1204.2" stroke="#222" stroke-opacity="0.55" stroke-width="0.9" fill="none"/>
<path d="M1344.4 926.8L1368.7 1133.8L1434.4 1298.8L1685.9 1233.2" stroke="#000" stroke-width="2.4" fill="none" stroke-linejoin="miter"/>
<text transform="translate(1330.6 929.4) rotate(-11)" font-size="24.5" text-anchor="end" dy="0.31em">1</text>
<text transform="translate(1347.4 1072) rotate(-12.3)" font-size="24.5" text-anchor="end" dy="0.31em">0.1</text>
<text transform="translate(1354.5 1137.1) rotate(-12.9)" font-size="24.5" text-anchor="end" dy="0.36em">10</text>
<text transform="translate(1364.3 1161.5) rotate(-13.2)" font-size="24.5" text-anchor="end" dy="0.36em">20</text>
<text transform="translate(1374.4 1187) rotate(-13.4)" font-size="24.5" text-anchor="end" dy="0.36em">30</text>
<text transform="translate(1385.1 1213.8) rotate(-13.7)" font-size="24.5" text-anchor="end" dy="0.36em">40</text>
<text transform="translate(1396.3 1241.9) rotate(-14)" font-size="24.5" text-anchor="end" dy="0.36em">50</text>
<text transform="translate(1408 1271.4) rotate(-14.3)" font-size="24.5" text-anchor="end" dy="0.36em">60</text>
<text transform="translate(1420.4 1302.4) rotate(-14.6)" font-size="24.5" text-anchor="end" dy="0.36em">70</text>
<text transform="translate(1439 1310.4) rotate(68.3)" font-size="24.5" dy="0.36em">0.0</text>
<text transform="translate(1491.6 1296.6) rotate(66)" font-size="24.5" dy="0.36em">0.5</text>
<text transform="translate(1543.2 1283.1) rotate(63.7)" font-size="24.5" dy="0.36em">1.0</text>
<text transform="translate(1594 1269.7) rotate(61.5)" font-size="24.5" dy="0.36em">1.5</text>
<text transform="translate(1643.8 1256.6) rotate(59.4)" font-size="24.5" dy="0.36em">2.0</text>
<text transform="translate(1692.7 1243.7) rotate(57.4)" font-size="24.5" dy="0.36em">2.5</text>
<path d="M1344.4 926.8L1337 928.2M1361.1 1069.1L1353.8 1070.7M1367 1119.8L1362.9 1120.8M1365.6 1107.7L1361.5 1108.7M1364.4 1097.7L1360.3 1098.7M1363.4 1089.2L1359.3 1090.1M1362.6 1081.7L1358.5 1082.6M1361.8 1075.1L1357.7 1076M1356.3 1028.6L1352.2 1029.4M1353.4 1004L1349.3 1004.8M1351.4 986.1L1347.2 986.9M1349.7 972L1345.6 972.8M1348.3 960.3L1344.2 961.1M1347.2 950.3L1343 951.1M1346.1 941.6L1342 942.4M1345.2 933.8L1341.1 934.6M1368.7 1133.8L1361.4 1135.5M1378.4 1158.2L1371.1 1159.9M1388.5 1183.6L1381.2 1185.4M1399.2 1210.3L1391.9 1212.1M1410.3 1238.3L1403 1240.2M1422.1 1267.8L1414.8 1269.6M1434.4 1298.8L1427.1 1300.7M1373.5 1145.9L1369.4 1146.8M1383.4 1170.7L1379.3 1171.7M1393.8 1196.8L1389.7 1197.8M1404.7 1224.2L1400.6 1225.2M1416.1 1252.9L1412 1253.9M1428.2 1283.1L1424.1 1284.1M1434.4 1298.8L1437.2 1305.7M1486.5 1285.2L1489.6 1292M1537.7 1271.8L1541 1278.6M1588 1258.7L1591.6 1265.3M1637.4 1245.9L1641.2 1252.3M1685.9 1233.2L1690 1239.5M1460.6 1292L1462.2 1295.8M1512.2 1278.5L1514 1282.3M1563 1265.3L1564.9 1269M1612.8 1252.3L1614.9 1255.9M1661.8 1239.5L1664 1243.1" stroke="#000" stroke-width="1.9" fill="none"/>
<text transform="translate(1278.5 1043.3) rotate(83)" font-size="25.2" text-anchor="middle">PL intensity (norm.)</text>
<text transform="translate(1322.4 1238.3) rotate(69)" font-size="25.2" text-anchor="middle">Time (ns)</text>
<text transform="translate(1589 1333.8) rotate(-13.8)" font-size="25.2" text-anchor="middle">Radius <tspan font-style="italic">r</tspan> (µm)</text>
<rect x="1600" y="894.5" width="243.5" height="104" fill="#fff" stroke="#111" stroke-width="1.8"/>
<linearGradient id="lgg0"><stop offset="0" stop-color="#cdd2f4"/><stop offset="1" stop-color="#4a55ae"/></linearGradient>
<rect x="1603.5" y="899.5" width="46" height="24" fill="url(#lgg0)"/>
<text x="1661" y="917.8" font-size="16.3"><tspan font-style="italic">R</tspan><tspan font-size="12" dy="4.8">eh</tspan><tspan dy="-4.8"> = 10×10<tspan font-size="11.5" dy="-6.5">11</tspan><tspan dy="6.5"> cm<tspan font-size="11.5" dy="-6.5">3</tspan><tspan dy="6.5"> s<tspan font-size="11.5" dy="-6.5">−1</tspan><tspan dy="6.5"></tspan></tspan></tspan></tspan></text>
<linearGradient id="lgg1"><stop offset="0" stop-color="#fadcc8"/><stop offset="1" stop-color="#a9785a"/></linearGradient>
<rect x="1603.5" y="933.3" width="46" height="24" fill="url(#lgg1)"/>
<text x="1661" y="951.6" font-size="16.3"><tspan font-style="italic">R</tspan><tspan font-size="12" dy="4.8">eh</tspan><tspan dy="-4.8"> = 5×10<tspan font-size="11.5" dy="-6.5">11</tspan><tspan dy="6.5"> cm<tspan font-size="11.5" dy="-6.5">3</tspan><tspan dy="6.5"> s<tspan font-size="11.5" dy="-6.5">−1</tspan><tspan dy="6.5"></tspan></tspan></tspan></tspan></text>
<linearGradient id="lgg2"><stop offset="0" stop-color="#f4f1c4"/><stop offset="1" stop-color="#8f8f4a"/></linearGradient>
<rect x="1603.5" y="967.1" width="46" height="24" fill="url(#lgg2)"/>
<text x="1661" y="985.4" font-size="16.3"><tspan font-style="italic">R</tspan><tspan font-size="12" dy="4.8">eh</tspan><tspan dy="-4.8"> = 2.5×10<tspan font-size="11.5" dy="-6.5">11</tspan><tspan dy="6.5"> cm<tspan font-size="11.5" dy="-6.5">3</tspan><tspan dy="6.5"> s<tspan font-size="11.5" dy="-6.5">−1</tspan><tspan dy="6.5"></tspan></tspan></tspan></tspan></text>
<text x="1262.4" y="885.8" font-size="43" font-weight="bold">g</text>
</svg></body></html>
